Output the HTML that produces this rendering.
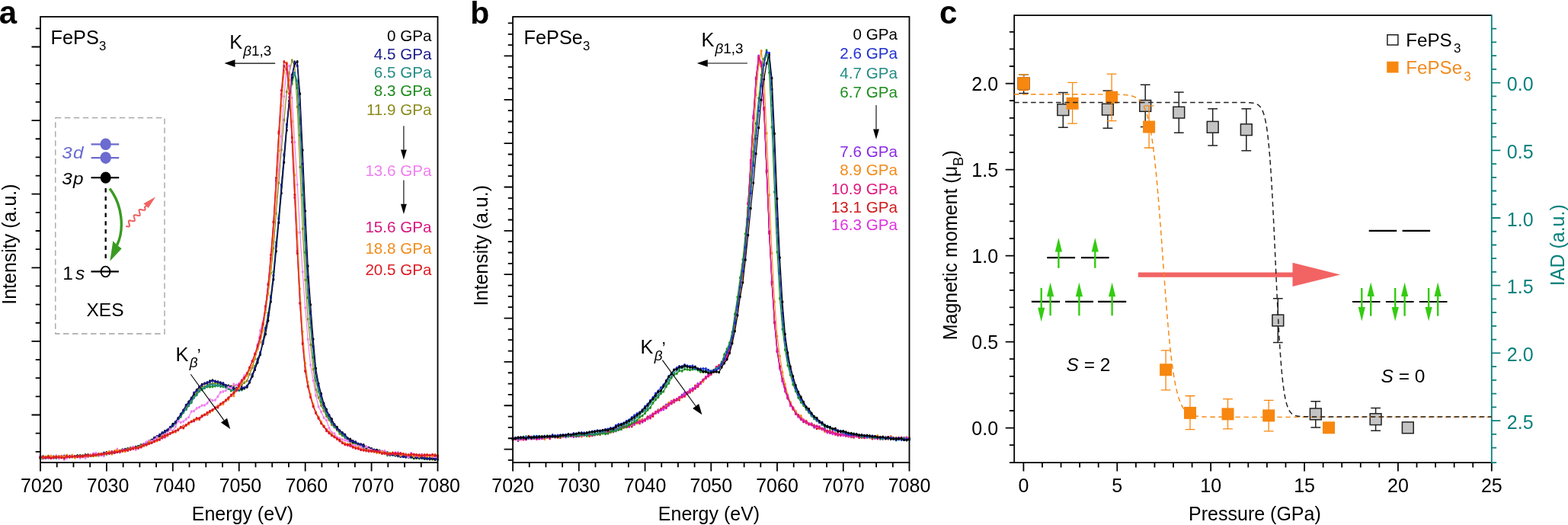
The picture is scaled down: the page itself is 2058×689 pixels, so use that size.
<!DOCTYPE html><html><head><meta charset="utf-8"><style>html,body{margin:0;padding:0;background:#fff;overflow:hidden}svg{display:block}</style></head><body><svg width="2058" height="689" viewBox="0 0 2058 689" font-family="'Liberation Sans', Arial, Helvetica, sans-serif">
<rect width="100%" height="100%" fill="#fff"/>
<path d="M53 600.92 L56.48 599.76 L59.95 599.24 L63.43 598.28 L66.91 599.69 L70.38 600.52 L73.86 599.69 L77.34 599.88 L80.81 600.08 L84.29 598.81 L87.77 600.81 L91.24 598.56 L94.72 599.16 L98.2 600.43 L101.67 598.55 L105.15 598.53 L108.63 597.97 L112.1 598.28 L115.58 596.56 L119.06 597.18 L122.53 598.26 L126.01 596.97 L129.49 596.25 L132.96 596.14 L136.44 595.64 L139.92 594.94 L143.39 594.64 L146.87 592.69 L150.35 593.43 L153.82 591.98 L157.3 592.15 L160.78 590.86 L164.25 589.42 L167.73 589.11 L171.21 587.65 L174.68 588.03 L178.16 586.45 L181.64 586.01 L185.11 583.65 L188.59 584.11 L192.07 581.27 L195.54 580.08 L199.02 577.67 L202.5 574.33 L205.97 573.23 L209.45 570.66 L212.93 569.14 L216.4 567.53 L219.88 564.5 L223.36 562.04 L226.83 557.19 L230.31 554.28 L233.79 550.23 L237.26 545.55 L240.74 538.98 L244.22 535.31 L247.69 530.68 L251.17 523.94 L254.65 518.87 L258.12 515.68 L261.6 510.58 L265.08 507.61 L268.55 507.57 L272.03 505.48 L275.51 503.93 L278.98 503.42 L282.46 502.59 L285.94 502.96 L289.41 503.9 L292.89 504.78 L296.37 506.28 L299.84 505.89 L303.32 506.93 L306.8 506.75 L310.27 505.41 L313.75 506.1 L317.23 505.45 L320.7 502.13 L324.18 499.79 L327.66 491.2 L331.13 482.56 L334.61 470.83 L338.09 457.75 L341.56 443 L345.04 426.64 L348.52 406.53 L351.99 384.54 L355.47 358.26 L358.95 325.74 L362.42 280.29 L365.9 240.07 L369.38 196.56 L372.85 157.45 L376.33 120.38 L379.81 95.24 L383.28 79.22 L386.76 86.39 L390.24 140.21 L393.71 219.21 L397.19 300.17 L400.67 367.35 L404.14 418.73 L407.62 452.46 L411.1 484.56 L414.57 511.15 L418.05 521.82 L421.53 532.18 L425 539.26 L428.48 546.32 L431.96 551.06 L435.43 557.5 L438.91 560.57 L442.39 564.49 L445.86 569.26 L449.34 571.49 L452.82 574.21 L456.29 577.89 L459.77 579.4 L463.25 581.82 L466.72 582.29 L470.2 584.34 L473.68 586.05 L477.15 586.79 L480.63 589.11 L484.11 588.9 L487.58 590.07 L491.06 591.27 L494.54 592.88 L498.01 593.1 L501.49 593.99 L504.97 595.33 L508.44 596.75 L511.92 596.43 L515.4 596.49 L518.87 597.72 L522.35 598.67 L525.83 598.42 L529.3 599.24 L532.78 598.43 L536.26 599.93 L539.73 600.31 L543.21 600.94 L546.69 601.05 L550.16 601.61 L553.64 600.81 L557.12 602.03 L560.59 600.87 L564.07 601.7 L567.55 602.91 L571.02 602.93 L574.5 601.49" fill="none" stroke="#8c8c1e" stroke-width="1.2" stroke-linejoin="round"/>
<path d="M51.52 600.92a1.48 1.85 0 1 0 2.96 0a1.48 1.85 0 1 0 -2.96 0M55 599.76a1.48 1.85 0 1 0 2.96 0a1.48 1.85 0 1 0 -2.96 0M58.47 599.24a1.48 1.85 0 1 0 2.96 0a1.48 1.85 0 1 0 -2.96 0M61.95 598.28a1.48 1.85 0 1 0 2.96 0a1.48 1.85 0 1 0 -2.96 0M65.43 599.69a1.48 1.85 0 1 0 2.96 0a1.48 1.85 0 1 0 -2.96 0M68.9 600.52a1.48 1.85 0 1 0 2.96 0a1.48 1.85 0 1 0 -2.96 0M72.38 599.69a1.48 1.85 0 1 0 2.96 0a1.48 1.85 0 1 0 -2.96 0M75.86 599.88a1.48 1.85 0 1 0 2.96 0a1.48 1.85 0 1 0 -2.96 0M79.33 600.08a1.48 1.85 0 1 0 2.96 0a1.48 1.85 0 1 0 -2.96 0M82.81 598.81a1.48 1.85 0 1 0 2.96 0a1.48 1.85 0 1 0 -2.96 0M86.29 600.81a1.48 1.85 0 1 0 2.96 0a1.48 1.85 0 1 0 -2.96 0M89.76 598.56a1.48 1.85 0 1 0 2.96 0a1.48 1.85 0 1 0 -2.96 0M93.24 599.16a1.48 1.85 0 1 0 2.96 0a1.48 1.85 0 1 0 -2.96 0M96.72 600.43a1.48 1.85 0 1 0 2.96 0a1.48 1.85 0 1 0 -2.96 0M100.19 598.55a1.48 1.85 0 1 0 2.96 0a1.48 1.85 0 1 0 -2.96 0M103.67 598.53a1.48 1.85 0 1 0 2.96 0a1.48 1.85 0 1 0 -2.96 0M107.15 597.97a1.48 1.85 0 1 0 2.96 0a1.48 1.85 0 1 0 -2.96 0M110.62 598.28a1.48 1.85 0 1 0 2.96 0a1.48 1.85 0 1 0 -2.96 0M114.1 596.56a1.48 1.85 0 1 0 2.96 0a1.48 1.85 0 1 0 -2.96 0M117.58 597.18a1.48 1.85 0 1 0 2.96 0a1.48 1.85 0 1 0 -2.96 0M121.05 598.26a1.48 1.85 0 1 0 2.96 0a1.48 1.85 0 1 0 -2.96 0M124.53 596.97a1.48 1.85 0 1 0 2.96 0a1.48 1.85 0 1 0 -2.96 0M128.01 596.25a1.48 1.85 0 1 0 2.96 0a1.48 1.85 0 1 0 -2.96 0M131.48 596.14a1.48 1.85 0 1 0 2.96 0a1.48 1.85 0 1 0 -2.96 0M134.96 595.64a1.48 1.85 0 1 0 2.96 0a1.48 1.85 0 1 0 -2.96 0M138.44 594.94a1.48 1.85 0 1 0 2.96 0a1.48 1.85 0 1 0 -2.96 0M141.91 594.64a1.48 1.85 0 1 0 2.96 0a1.48 1.85 0 1 0 -2.96 0M145.39 592.69a1.48 1.85 0 1 0 2.96 0a1.48 1.85 0 1 0 -2.96 0M148.87 593.43a1.48 1.85 0 1 0 2.96 0a1.48 1.85 0 1 0 -2.96 0M152.34 591.98a1.48 1.85 0 1 0 2.96 0a1.48 1.85 0 1 0 -2.96 0M155.82 592.15a1.48 1.85 0 1 0 2.96 0a1.48 1.85 0 1 0 -2.96 0M159.3 590.86a1.48 1.85 0 1 0 2.96 0a1.48 1.85 0 1 0 -2.96 0M162.77 589.42a1.48 1.85 0 1 0 2.96 0a1.48 1.85 0 1 0 -2.96 0M166.25 589.11a1.48 1.85 0 1 0 2.96 0a1.48 1.85 0 1 0 -2.96 0M169.73 587.65a1.48 1.85 0 1 0 2.96 0a1.48 1.85 0 1 0 -2.96 0M173.2 588.03a1.48 1.85 0 1 0 2.96 0a1.48 1.85 0 1 0 -2.96 0M176.68 586.45a1.48 1.85 0 1 0 2.96 0a1.48 1.85 0 1 0 -2.96 0M180.16 586.01a1.48 1.85 0 1 0 2.96 0a1.48 1.85 0 1 0 -2.96 0M183.63 583.65a1.48 1.85 0 1 0 2.96 0a1.48 1.85 0 1 0 -2.96 0M187.11 584.11a1.48 1.85 0 1 0 2.96 0a1.48 1.85 0 1 0 -2.96 0M190.59 581.27a1.48 1.85 0 1 0 2.96 0a1.48 1.85 0 1 0 -2.96 0M194.06 580.08a1.48 1.85 0 1 0 2.96 0a1.48 1.85 0 1 0 -2.96 0M197.54 577.67a1.48 1.85 0 1 0 2.96 0a1.48 1.85 0 1 0 -2.96 0M201.02 574.33a1.48 1.85 0 1 0 2.96 0a1.48 1.85 0 1 0 -2.96 0M204.49 573.23a1.48 1.85 0 1 0 2.96 0a1.48 1.85 0 1 0 -2.96 0M207.97 570.66a1.48 1.85 0 1 0 2.96 0a1.48 1.85 0 1 0 -2.96 0M211.45 569.14a1.48 1.85 0 1 0 2.96 0a1.48 1.85 0 1 0 -2.96 0M214.92 567.53a1.48 1.85 0 1 0 2.96 0a1.48 1.85 0 1 0 -2.96 0M218.4 564.5a1.48 1.85 0 1 0 2.96 0a1.48 1.85 0 1 0 -2.96 0M221.88 562.04a1.48 1.85 0 1 0 2.96 0a1.48 1.85 0 1 0 -2.96 0M225.35 557.19a1.48 1.85 0 1 0 2.96 0a1.48 1.85 0 1 0 -2.96 0M228.83 554.28a1.48 1.85 0 1 0 2.96 0a1.48 1.85 0 1 0 -2.96 0M232.31 550.23a1.48 1.85 0 1 0 2.96 0a1.48 1.85 0 1 0 -2.96 0M235.78 545.55a1.48 1.85 0 1 0 2.96 0a1.48 1.85 0 1 0 -2.96 0M239.26 538.98a1.48 1.85 0 1 0 2.96 0a1.48 1.85 0 1 0 -2.96 0M242.74 535.31a1.48 1.85 0 1 0 2.96 0a1.48 1.85 0 1 0 -2.96 0M246.21 530.68a1.48 1.85 0 1 0 2.96 0a1.48 1.85 0 1 0 -2.96 0M249.69 523.94a1.48 1.85 0 1 0 2.96 0a1.48 1.85 0 1 0 -2.96 0M253.17 518.87a1.48 1.85 0 1 0 2.96 0a1.48 1.85 0 1 0 -2.96 0M256.64 515.68a1.48 1.85 0 1 0 2.96 0a1.48 1.85 0 1 0 -2.96 0M260.12 510.58a1.48 1.85 0 1 0 2.96 0a1.48 1.85 0 1 0 -2.96 0M263.6 507.61a1.48 1.85 0 1 0 2.96 0a1.48 1.85 0 1 0 -2.96 0M267.07 507.57a1.48 1.85 0 1 0 2.96 0a1.48 1.85 0 1 0 -2.96 0M270.55 505.48a1.48 1.85 0 1 0 2.96 0a1.48 1.85 0 1 0 -2.96 0M274.03 503.93a1.48 1.85 0 1 0 2.96 0a1.48 1.85 0 1 0 -2.96 0M277.5 503.42a1.48 1.85 0 1 0 2.96 0a1.48 1.85 0 1 0 -2.96 0M280.98 502.59a1.48 1.85 0 1 0 2.96 0a1.48 1.85 0 1 0 -2.96 0M284.46 502.96a1.48 1.85 0 1 0 2.96 0a1.48 1.85 0 1 0 -2.96 0M287.93 503.9a1.48 1.85 0 1 0 2.96 0a1.48 1.85 0 1 0 -2.96 0M291.41 504.78a1.48 1.85 0 1 0 2.96 0a1.48 1.85 0 1 0 -2.96 0M294.89 506.28a1.48 1.85 0 1 0 2.96 0a1.48 1.85 0 1 0 -2.96 0M298.36 505.89a1.48 1.85 0 1 0 2.96 0a1.48 1.85 0 1 0 -2.96 0M301.84 506.93a1.48 1.85 0 1 0 2.96 0a1.48 1.85 0 1 0 -2.96 0M305.32 506.75a1.48 1.85 0 1 0 2.96 0a1.48 1.85 0 1 0 -2.96 0M308.79 505.41a1.48 1.85 0 1 0 2.96 0a1.48 1.85 0 1 0 -2.96 0M312.27 506.1a1.48 1.85 0 1 0 2.96 0a1.48 1.85 0 1 0 -2.96 0M315.75 505.45a1.48 1.85 0 1 0 2.96 0a1.48 1.85 0 1 0 -2.96 0M319.22 502.13a1.48 1.85 0 1 0 2.96 0a1.48 1.85 0 1 0 -2.96 0M322.7 499.79a1.48 1.85 0 1 0 2.96 0a1.48 1.85 0 1 0 -2.96 0M326.18 491.2a1.48 1.85 0 1 0 2.96 0a1.48 1.85 0 1 0 -2.96 0M329.65 482.56a1.48 1.85 0 1 0 2.96 0a1.48 1.85 0 1 0 -2.96 0M333.13 470.83a1.48 1.85 0 1 0 2.96 0a1.48 1.85 0 1 0 -2.96 0M336.61 457.75a1.48 1.85 0 1 0 2.96 0a1.48 1.85 0 1 0 -2.96 0M340.08 443a1.48 1.85 0 1 0 2.96 0a1.48 1.85 0 1 0 -2.96 0M343.56 426.64a1.48 1.85 0 1 0 2.96 0a1.48 1.85 0 1 0 -2.96 0M347.04 406.53a1.48 1.85 0 1 0 2.96 0a1.48 1.85 0 1 0 -2.96 0M350.51 384.54a1.48 1.85 0 1 0 2.96 0a1.48 1.85 0 1 0 -2.96 0M353.99 358.26a1.48 1.85 0 1 0 2.96 0a1.48 1.85 0 1 0 -2.96 0M357.47 325.74a1.48 1.85 0 1 0 2.96 0a1.48 1.85 0 1 0 -2.96 0M360.94 280.29a1.48 1.85 0 1 0 2.96 0a1.48 1.85 0 1 0 -2.96 0M364.42 240.07a1.48 1.85 0 1 0 2.96 0a1.48 1.85 0 1 0 -2.96 0M367.9 196.56a1.48 1.85 0 1 0 2.96 0a1.48 1.85 0 1 0 -2.96 0M371.37 157.45a1.48 1.85 0 1 0 2.96 0a1.48 1.85 0 1 0 -2.96 0M374.85 120.38a1.48 1.85 0 1 0 2.96 0a1.48 1.85 0 1 0 -2.96 0M378.33 95.24a1.48 1.85 0 1 0 2.96 0a1.48 1.85 0 1 0 -2.96 0M381.8 79.22a1.48 1.85 0 1 0 2.96 0a1.48 1.85 0 1 0 -2.96 0M385.28 86.39a1.48 1.85 0 1 0 2.96 0a1.48 1.85 0 1 0 -2.96 0M388.76 140.21a1.48 1.85 0 1 0 2.96 0a1.48 1.85 0 1 0 -2.96 0M392.23 219.21a1.48 1.85 0 1 0 2.96 0a1.48 1.85 0 1 0 -2.96 0M395.71 300.17a1.48 1.85 0 1 0 2.96 0a1.48 1.85 0 1 0 -2.96 0M399.19 367.35a1.48 1.85 0 1 0 2.96 0a1.48 1.85 0 1 0 -2.96 0M402.66 418.73a1.48 1.85 0 1 0 2.96 0a1.48 1.85 0 1 0 -2.96 0M406.14 452.46a1.48 1.85 0 1 0 2.96 0a1.48 1.85 0 1 0 -2.96 0M409.62 484.56a1.48 1.85 0 1 0 2.96 0a1.48 1.85 0 1 0 -2.96 0M413.09 511.15a1.48 1.85 0 1 0 2.96 0a1.48 1.85 0 1 0 -2.96 0M416.57 521.82a1.48 1.85 0 1 0 2.96 0a1.48 1.85 0 1 0 -2.96 0M420.05 532.18a1.48 1.85 0 1 0 2.96 0a1.48 1.85 0 1 0 -2.96 0M423.52 539.26a1.48 1.85 0 1 0 2.96 0a1.48 1.85 0 1 0 -2.96 0M427 546.32a1.48 1.85 0 1 0 2.96 0a1.48 1.85 0 1 0 -2.96 0M430.48 551.06a1.48 1.85 0 1 0 2.96 0a1.48 1.85 0 1 0 -2.96 0M433.95 557.5a1.48 1.85 0 1 0 2.96 0a1.48 1.85 0 1 0 -2.96 0M437.43 560.57a1.48 1.85 0 1 0 2.96 0a1.48 1.85 0 1 0 -2.96 0M440.91 564.49a1.48 1.85 0 1 0 2.96 0a1.48 1.85 0 1 0 -2.96 0M444.38 569.26a1.48 1.85 0 1 0 2.96 0a1.48 1.85 0 1 0 -2.96 0M447.86 571.49a1.48 1.85 0 1 0 2.96 0a1.48 1.85 0 1 0 -2.96 0M451.34 574.21a1.48 1.85 0 1 0 2.96 0a1.48 1.85 0 1 0 -2.96 0M454.81 577.89a1.48 1.85 0 1 0 2.96 0a1.48 1.85 0 1 0 -2.96 0M458.29 579.4a1.48 1.85 0 1 0 2.96 0a1.48 1.85 0 1 0 -2.96 0M461.77 581.82a1.48 1.85 0 1 0 2.96 0a1.48 1.85 0 1 0 -2.96 0M465.24 582.29a1.48 1.85 0 1 0 2.96 0a1.48 1.85 0 1 0 -2.96 0M468.72 584.34a1.48 1.85 0 1 0 2.96 0a1.48 1.85 0 1 0 -2.96 0M472.2 586.05a1.48 1.85 0 1 0 2.96 0a1.48 1.85 0 1 0 -2.96 0M475.67 586.79a1.48 1.85 0 1 0 2.96 0a1.48 1.85 0 1 0 -2.96 0M479.15 589.11a1.48 1.85 0 1 0 2.96 0a1.48 1.85 0 1 0 -2.96 0M482.63 588.9a1.48 1.85 0 1 0 2.96 0a1.48 1.85 0 1 0 -2.96 0M486.1 590.07a1.48 1.85 0 1 0 2.96 0a1.48 1.85 0 1 0 -2.96 0M489.58 591.27a1.48 1.85 0 1 0 2.96 0a1.48 1.85 0 1 0 -2.96 0M493.06 592.88a1.48 1.85 0 1 0 2.96 0a1.48 1.85 0 1 0 -2.96 0M496.53 593.1a1.48 1.85 0 1 0 2.96 0a1.48 1.85 0 1 0 -2.96 0M500.01 593.99a1.48 1.85 0 1 0 2.96 0a1.48 1.85 0 1 0 -2.96 0M503.49 595.33a1.48 1.85 0 1 0 2.96 0a1.48 1.85 0 1 0 -2.96 0M506.96 596.75a1.48 1.85 0 1 0 2.96 0a1.48 1.85 0 1 0 -2.96 0M510.44 596.43a1.48 1.85 0 1 0 2.96 0a1.48 1.85 0 1 0 -2.96 0M513.92 596.49a1.48 1.85 0 1 0 2.96 0a1.48 1.85 0 1 0 -2.96 0M517.39 597.72a1.48 1.85 0 1 0 2.96 0a1.48 1.85 0 1 0 -2.96 0M520.87 598.67a1.48 1.85 0 1 0 2.96 0a1.48 1.85 0 1 0 -2.96 0M524.35 598.42a1.48 1.85 0 1 0 2.96 0a1.48 1.85 0 1 0 -2.96 0M527.82 599.24a1.48 1.85 0 1 0 2.96 0a1.48 1.85 0 1 0 -2.96 0M531.3 598.43a1.48 1.85 0 1 0 2.96 0a1.48 1.85 0 1 0 -2.96 0M534.78 599.93a1.48 1.85 0 1 0 2.96 0a1.48 1.85 0 1 0 -2.96 0M538.25 600.31a1.48 1.85 0 1 0 2.96 0a1.48 1.85 0 1 0 -2.96 0M541.73 600.94a1.48 1.85 0 1 0 2.96 0a1.48 1.85 0 1 0 -2.96 0M545.21 601.05a1.48 1.85 0 1 0 2.96 0a1.48 1.85 0 1 0 -2.96 0M548.68 601.61a1.48 1.85 0 1 0 2.96 0a1.48 1.85 0 1 0 -2.96 0M552.16 600.81a1.48 1.85 0 1 0 2.96 0a1.48 1.85 0 1 0 -2.96 0M555.64 602.03a1.48 1.85 0 1 0 2.96 0a1.48 1.85 0 1 0 -2.96 0M559.11 600.87a1.48 1.85 0 1 0 2.96 0a1.48 1.85 0 1 0 -2.96 0M562.59 601.7a1.48 1.85 0 1 0 2.96 0a1.48 1.85 0 1 0 -2.96 0M566.07 602.91a1.48 1.85 0 1 0 2.96 0a1.48 1.85 0 1 0 -2.96 0M569.54 602.93a1.48 1.85 0 1 0 2.96 0a1.48 1.85 0 1 0 -2.96 0M573.02 601.49a1.48 1.85 0 1 0 2.96 0a1.48 1.85 0 1 0 -2.96 0" fill="#8c8c1e"/>
<path d="M53 601.74 L56.48 598.65 L59.95 600.92 L63.43 600.24 L66.91 600.85 L70.38 600.17 L73.86 600.94 L77.34 599.77 L80.81 599.33 L84.29 599.88 L87.77 599.67 L91.24 599.07 L94.72 598.99 L98.2 599.42 L101.67 599.26 L105.15 598.38 L108.63 598.28 L112.1 597.22 L115.58 599.1 L119.06 597.68 L122.53 598.3 L126.01 597.36 L129.49 597.85 L132.96 597.13 L136.44 595.87 L139.92 596.05 L143.39 594.02 L146.87 594.8 L150.35 592.5 L153.82 592.95 L157.3 592.67 L160.78 591.39 L164.25 590.19 L167.73 589.05 L171.21 588.48 L174.68 588.49 L178.16 587.48 L181.64 585.78 L185.11 584.06 L188.59 584.03 L192.07 581.08 L195.54 579.44 L199.02 577.25 L202.5 576.17 L205.97 573.85 L209.45 572.05 L212.93 569.82 L216.4 566.96 L219.88 565.3 L223.36 563.25 L226.83 559.04 L230.31 555.74 L233.79 551.17 L237.26 546.9 L240.74 541.44 L244.22 537.2 L247.69 532.43 L251.17 528.26 L254.65 521.5 L258.12 517.35 L261.6 513.46 L265.08 511.61 L268.55 509.08 L272.03 507.59 L275.51 507.67 L278.98 507.37 L282.46 506.62 L285.94 504.67 L289.41 507.06 L292.89 507.35 L296.37 508.21 L299.84 510.08 L303.32 512.82 L306.8 511.44 L310.27 511.01 L313.75 512.13 L317.23 511.14 L320.7 509.99 L324.18 506.63 L327.66 500.88 L331.13 492.58 L334.61 480.54 L338.09 471.09 L341.56 462.55 L345.04 447.29 L348.52 430.13 L351.99 411.12 L355.47 388.38 L358.95 356.89 L362.42 317.92 L365.9 283.68 L369.38 242.7 L372.85 203.91 L376.33 164 L379.81 131.86 L383.28 109.74 L386.76 96.18 L390.24 115.41 L393.71 177.13 L397.19 255.75 L400.67 331.17 L404.14 390.61 L407.62 429.63 L411.1 468.91 L414.57 499.01 L418.05 513.72 L421.53 527.3 L425 534.82 L428.48 543.35 L431.96 548.83 L435.43 555.16 L438.91 559.45 L442.39 563.45 L445.86 567.04 L449.34 571.16 L452.82 572.8 L456.29 575.64 L459.77 577.76 L463.25 581.15 L466.72 581.5 L470.2 582.45 L473.68 584.4 L477.15 587.67 L480.63 587.34 L484.11 589.14 L487.58 590.01 L491.06 590.77 L494.54 591.42 L498.01 592.7 L501.49 593.7 L504.97 593.51 L508.44 597.28 L511.92 596.98 L515.4 597.09 L518.87 597.45 L522.35 597.61 L525.83 599.13 L529.3 598.87 L532.78 599.68 L536.26 598.93 L539.73 600.34 L543.21 601.64 L546.69 600.57 L550.16 601.51 L553.64 601.32 L557.12 602.2 L560.59 602.4 L564.07 602.01 L567.55 601.83 L571.02 602.52 L574.5 602.54" fill="none" stroke="#1e8c1e" stroke-width="1.2" stroke-linejoin="round"/>
<path d="M51.52 601.74a1.48 1.85 0 1 0 2.96 0a1.48 1.85 0 1 0 -2.96 0M55 598.65a1.48 1.85 0 1 0 2.96 0a1.48 1.85 0 1 0 -2.96 0M58.47 600.92a1.48 1.85 0 1 0 2.96 0a1.48 1.85 0 1 0 -2.96 0M61.95 600.24a1.48 1.85 0 1 0 2.96 0a1.48 1.85 0 1 0 -2.96 0M65.43 600.85a1.48 1.85 0 1 0 2.96 0a1.48 1.85 0 1 0 -2.96 0M68.9 600.17a1.48 1.85 0 1 0 2.96 0a1.48 1.85 0 1 0 -2.96 0M72.38 600.94a1.48 1.85 0 1 0 2.96 0a1.48 1.85 0 1 0 -2.96 0M75.86 599.77a1.48 1.85 0 1 0 2.96 0a1.48 1.85 0 1 0 -2.96 0M79.33 599.33a1.48 1.85 0 1 0 2.96 0a1.48 1.85 0 1 0 -2.96 0M82.81 599.88a1.48 1.85 0 1 0 2.96 0a1.48 1.85 0 1 0 -2.96 0M86.29 599.67a1.48 1.85 0 1 0 2.96 0a1.48 1.85 0 1 0 -2.96 0M89.76 599.07a1.48 1.85 0 1 0 2.96 0a1.48 1.85 0 1 0 -2.96 0M93.24 598.99a1.48 1.85 0 1 0 2.96 0a1.48 1.85 0 1 0 -2.96 0M96.72 599.42a1.48 1.85 0 1 0 2.96 0a1.48 1.85 0 1 0 -2.96 0M100.19 599.26a1.48 1.85 0 1 0 2.96 0a1.48 1.85 0 1 0 -2.96 0M103.67 598.38a1.48 1.85 0 1 0 2.96 0a1.48 1.85 0 1 0 -2.96 0M107.15 598.28a1.48 1.85 0 1 0 2.96 0a1.48 1.85 0 1 0 -2.96 0M110.62 597.22a1.48 1.85 0 1 0 2.96 0a1.48 1.85 0 1 0 -2.96 0M114.1 599.1a1.48 1.85 0 1 0 2.96 0a1.48 1.85 0 1 0 -2.96 0M117.58 597.68a1.48 1.85 0 1 0 2.96 0a1.48 1.85 0 1 0 -2.96 0M121.05 598.3a1.48 1.85 0 1 0 2.96 0a1.48 1.85 0 1 0 -2.96 0M124.53 597.36a1.48 1.85 0 1 0 2.96 0a1.48 1.85 0 1 0 -2.96 0M128.01 597.85a1.48 1.85 0 1 0 2.96 0a1.48 1.85 0 1 0 -2.96 0M131.48 597.13a1.48 1.85 0 1 0 2.96 0a1.48 1.85 0 1 0 -2.96 0M134.96 595.87a1.48 1.85 0 1 0 2.96 0a1.48 1.85 0 1 0 -2.96 0M138.44 596.05a1.48 1.85 0 1 0 2.96 0a1.48 1.85 0 1 0 -2.96 0M141.91 594.02a1.48 1.85 0 1 0 2.96 0a1.48 1.85 0 1 0 -2.96 0M145.39 594.8a1.48 1.85 0 1 0 2.96 0a1.48 1.85 0 1 0 -2.96 0M148.87 592.5a1.48 1.85 0 1 0 2.96 0a1.48 1.85 0 1 0 -2.96 0M152.34 592.95a1.48 1.85 0 1 0 2.96 0a1.48 1.85 0 1 0 -2.96 0M155.82 592.67a1.48 1.85 0 1 0 2.96 0a1.48 1.85 0 1 0 -2.96 0M159.3 591.39a1.48 1.85 0 1 0 2.96 0a1.48 1.85 0 1 0 -2.96 0M162.77 590.19a1.48 1.85 0 1 0 2.96 0a1.48 1.85 0 1 0 -2.96 0M166.25 589.05a1.48 1.85 0 1 0 2.96 0a1.48 1.85 0 1 0 -2.96 0M169.73 588.48a1.48 1.85 0 1 0 2.96 0a1.48 1.85 0 1 0 -2.96 0M173.2 588.49a1.48 1.85 0 1 0 2.96 0a1.48 1.85 0 1 0 -2.96 0M176.68 587.48a1.48 1.85 0 1 0 2.96 0a1.48 1.85 0 1 0 -2.96 0M180.16 585.78a1.48 1.85 0 1 0 2.96 0a1.48 1.85 0 1 0 -2.96 0M183.63 584.06a1.48 1.85 0 1 0 2.96 0a1.48 1.85 0 1 0 -2.96 0M187.11 584.03a1.48 1.85 0 1 0 2.96 0a1.48 1.85 0 1 0 -2.96 0M190.59 581.08a1.48 1.85 0 1 0 2.96 0a1.48 1.85 0 1 0 -2.96 0M194.06 579.44a1.48 1.85 0 1 0 2.96 0a1.48 1.85 0 1 0 -2.96 0M197.54 577.25a1.48 1.85 0 1 0 2.96 0a1.48 1.85 0 1 0 -2.96 0M201.02 576.17a1.48 1.85 0 1 0 2.96 0a1.48 1.85 0 1 0 -2.96 0M204.49 573.85a1.48 1.85 0 1 0 2.96 0a1.48 1.85 0 1 0 -2.96 0M207.97 572.05a1.48 1.85 0 1 0 2.96 0a1.48 1.85 0 1 0 -2.96 0M211.45 569.82a1.48 1.85 0 1 0 2.96 0a1.48 1.85 0 1 0 -2.96 0M214.92 566.96a1.48 1.85 0 1 0 2.96 0a1.48 1.85 0 1 0 -2.96 0M218.4 565.3a1.48 1.85 0 1 0 2.96 0a1.48 1.85 0 1 0 -2.96 0M221.88 563.25a1.48 1.85 0 1 0 2.96 0a1.48 1.85 0 1 0 -2.96 0M225.35 559.04a1.48 1.85 0 1 0 2.96 0a1.48 1.85 0 1 0 -2.96 0M228.83 555.74a1.48 1.85 0 1 0 2.96 0a1.48 1.85 0 1 0 -2.96 0M232.31 551.17a1.48 1.85 0 1 0 2.96 0a1.48 1.85 0 1 0 -2.96 0M235.78 546.9a1.48 1.85 0 1 0 2.96 0a1.48 1.85 0 1 0 -2.96 0M239.26 541.44a1.48 1.85 0 1 0 2.96 0a1.48 1.85 0 1 0 -2.96 0M242.74 537.2a1.48 1.85 0 1 0 2.96 0a1.48 1.85 0 1 0 -2.96 0M246.21 532.43a1.48 1.85 0 1 0 2.96 0a1.48 1.85 0 1 0 -2.96 0M249.69 528.26a1.48 1.85 0 1 0 2.96 0a1.48 1.85 0 1 0 -2.96 0M253.17 521.5a1.48 1.85 0 1 0 2.96 0a1.48 1.85 0 1 0 -2.96 0M256.64 517.35a1.48 1.85 0 1 0 2.96 0a1.48 1.85 0 1 0 -2.96 0M260.12 513.46a1.48 1.85 0 1 0 2.96 0a1.48 1.85 0 1 0 -2.96 0M263.6 511.61a1.48 1.85 0 1 0 2.96 0a1.48 1.85 0 1 0 -2.96 0M267.07 509.08a1.48 1.85 0 1 0 2.96 0a1.48 1.85 0 1 0 -2.96 0M270.55 507.59a1.48 1.85 0 1 0 2.96 0a1.48 1.85 0 1 0 -2.96 0M274.03 507.67a1.48 1.85 0 1 0 2.96 0a1.48 1.85 0 1 0 -2.96 0M277.5 507.37a1.48 1.85 0 1 0 2.96 0a1.48 1.85 0 1 0 -2.96 0M280.98 506.62a1.48 1.85 0 1 0 2.96 0a1.48 1.85 0 1 0 -2.96 0M284.46 504.67a1.48 1.85 0 1 0 2.96 0a1.48 1.85 0 1 0 -2.96 0M287.93 507.06a1.48 1.85 0 1 0 2.96 0a1.48 1.85 0 1 0 -2.96 0M291.41 507.35a1.48 1.85 0 1 0 2.96 0a1.48 1.85 0 1 0 -2.96 0M294.89 508.21a1.48 1.85 0 1 0 2.96 0a1.48 1.85 0 1 0 -2.96 0M298.36 510.08a1.48 1.85 0 1 0 2.96 0a1.48 1.85 0 1 0 -2.96 0M301.84 512.82a1.48 1.85 0 1 0 2.96 0a1.48 1.85 0 1 0 -2.96 0M305.32 511.44a1.48 1.85 0 1 0 2.96 0a1.48 1.85 0 1 0 -2.96 0M308.79 511.01a1.48 1.85 0 1 0 2.96 0a1.48 1.85 0 1 0 -2.96 0M312.27 512.13a1.48 1.85 0 1 0 2.96 0a1.48 1.85 0 1 0 -2.96 0M315.75 511.14a1.48 1.85 0 1 0 2.96 0a1.48 1.85 0 1 0 -2.96 0M319.22 509.99a1.48 1.85 0 1 0 2.96 0a1.48 1.85 0 1 0 -2.96 0M322.7 506.63a1.48 1.85 0 1 0 2.96 0a1.48 1.85 0 1 0 -2.96 0M326.18 500.88a1.48 1.85 0 1 0 2.96 0a1.48 1.85 0 1 0 -2.96 0M329.65 492.58a1.48 1.85 0 1 0 2.96 0a1.48 1.85 0 1 0 -2.96 0M333.13 480.54a1.48 1.85 0 1 0 2.96 0a1.48 1.85 0 1 0 -2.96 0M336.61 471.09a1.48 1.85 0 1 0 2.96 0a1.48 1.85 0 1 0 -2.96 0M340.08 462.55a1.48 1.85 0 1 0 2.96 0a1.48 1.85 0 1 0 -2.96 0M343.56 447.29a1.48 1.85 0 1 0 2.96 0a1.48 1.85 0 1 0 -2.96 0M347.04 430.13a1.48 1.85 0 1 0 2.96 0a1.48 1.85 0 1 0 -2.96 0M350.51 411.12a1.48 1.85 0 1 0 2.96 0a1.48 1.85 0 1 0 -2.96 0M353.99 388.38a1.48 1.85 0 1 0 2.96 0a1.48 1.85 0 1 0 -2.96 0M357.47 356.89a1.48 1.85 0 1 0 2.96 0a1.48 1.85 0 1 0 -2.96 0M360.94 317.92a1.48 1.85 0 1 0 2.96 0a1.48 1.85 0 1 0 -2.96 0M364.42 283.68a1.48 1.85 0 1 0 2.96 0a1.48 1.85 0 1 0 -2.96 0M367.9 242.7a1.48 1.85 0 1 0 2.96 0a1.48 1.85 0 1 0 -2.96 0M371.37 203.91a1.48 1.85 0 1 0 2.96 0a1.48 1.85 0 1 0 -2.96 0M374.85 164a1.48 1.85 0 1 0 2.96 0a1.48 1.85 0 1 0 -2.96 0M378.33 131.86a1.48 1.85 0 1 0 2.96 0a1.48 1.85 0 1 0 -2.96 0M381.8 109.74a1.48 1.85 0 1 0 2.96 0a1.48 1.85 0 1 0 -2.96 0M385.28 96.18a1.48 1.85 0 1 0 2.96 0a1.48 1.85 0 1 0 -2.96 0M388.76 115.41a1.48 1.85 0 1 0 2.96 0a1.48 1.85 0 1 0 -2.96 0M392.23 177.13a1.48 1.85 0 1 0 2.96 0a1.48 1.85 0 1 0 -2.96 0M395.71 255.75a1.48 1.85 0 1 0 2.96 0a1.48 1.85 0 1 0 -2.96 0M399.19 331.17a1.48 1.85 0 1 0 2.96 0a1.48 1.85 0 1 0 -2.96 0M402.66 390.61a1.48 1.85 0 1 0 2.96 0a1.48 1.85 0 1 0 -2.96 0M406.14 429.63a1.48 1.85 0 1 0 2.96 0a1.48 1.85 0 1 0 -2.96 0M409.62 468.91a1.48 1.85 0 1 0 2.96 0a1.48 1.85 0 1 0 -2.96 0M413.09 499.01a1.48 1.85 0 1 0 2.96 0a1.48 1.85 0 1 0 -2.96 0M416.57 513.72a1.48 1.85 0 1 0 2.96 0a1.48 1.85 0 1 0 -2.96 0M420.05 527.3a1.48 1.85 0 1 0 2.96 0a1.48 1.85 0 1 0 -2.96 0M423.52 534.82a1.48 1.85 0 1 0 2.96 0a1.48 1.85 0 1 0 -2.96 0M427 543.35a1.48 1.85 0 1 0 2.96 0a1.48 1.85 0 1 0 -2.96 0M430.48 548.83a1.48 1.85 0 1 0 2.96 0a1.48 1.85 0 1 0 -2.96 0M433.95 555.16a1.48 1.85 0 1 0 2.96 0a1.48 1.85 0 1 0 -2.96 0M437.43 559.45a1.48 1.85 0 1 0 2.96 0a1.48 1.85 0 1 0 -2.96 0M440.91 563.45a1.48 1.85 0 1 0 2.96 0a1.48 1.85 0 1 0 -2.96 0M444.38 567.04a1.48 1.85 0 1 0 2.96 0a1.48 1.85 0 1 0 -2.96 0M447.86 571.16a1.48 1.85 0 1 0 2.96 0a1.48 1.85 0 1 0 -2.96 0M451.34 572.8a1.48 1.85 0 1 0 2.96 0a1.48 1.85 0 1 0 -2.96 0M454.81 575.64a1.48 1.85 0 1 0 2.96 0a1.48 1.85 0 1 0 -2.96 0M458.29 577.76a1.48 1.85 0 1 0 2.96 0a1.48 1.85 0 1 0 -2.96 0M461.77 581.15a1.48 1.85 0 1 0 2.96 0a1.48 1.85 0 1 0 -2.96 0M465.24 581.5a1.48 1.85 0 1 0 2.96 0a1.48 1.85 0 1 0 -2.96 0M468.72 582.45a1.48 1.85 0 1 0 2.96 0a1.48 1.85 0 1 0 -2.96 0M472.2 584.4a1.48 1.85 0 1 0 2.96 0a1.48 1.85 0 1 0 -2.96 0M475.67 587.67a1.48 1.85 0 1 0 2.96 0a1.48 1.85 0 1 0 -2.96 0M479.15 587.34a1.48 1.85 0 1 0 2.96 0a1.48 1.85 0 1 0 -2.96 0M482.63 589.14a1.48 1.85 0 1 0 2.96 0a1.48 1.85 0 1 0 -2.96 0M486.1 590.01a1.48 1.85 0 1 0 2.96 0a1.48 1.85 0 1 0 -2.96 0M489.58 590.77a1.48 1.85 0 1 0 2.96 0a1.48 1.85 0 1 0 -2.96 0M493.06 591.42a1.48 1.85 0 1 0 2.96 0a1.48 1.85 0 1 0 -2.96 0M496.53 592.7a1.48 1.85 0 1 0 2.96 0a1.48 1.85 0 1 0 -2.96 0M500.01 593.7a1.48 1.85 0 1 0 2.96 0a1.48 1.85 0 1 0 -2.96 0M503.49 593.51a1.48 1.85 0 1 0 2.96 0a1.48 1.85 0 1 0 -2.96 0M506.96 597.28a1.48 1.85 0 1 0 2.96 0a1.48 1.85 0 1 0 -2.96 0M510.44 596.98a1.48 1.85 0 1 0 2.96 0a1.48 1.85 0 1 0 -2.96 0M513.92 597.09a1.48 1.85 0 1 0 2.96 0a1.48 1.85 0 1 0 -2.96 0M517.39 597.45a1.48 1.85 0 1 0 2.96 0a1.48 1.85 0 1 0 -2.96 0M520.87 597.61a1.48 1.85 0 1 0 2.96 0a1.48 1.85 0 1 0 -2.96 0M524.35 599.13a1.48 1.85 0 1 0 2.96 0a1.48 1.85 0 1 0 -2.96 0M527.82 598.87a1.48 1.85 0 1 0 2.96 0a1.48 1.85 0 1 0 -2.96 0M531.3 599.68a1.48 1.85 0 1 0 2.96 0a1.48 1.85 0 1 0 -2.96 0M534.78 598.93a1.48 1.85 0 1 0 2.96 0a1.48 1.85 0 1 0 -2.96 0M538.25 600.34a1.48 1.85 0 1 0 2.96 0a1.48 1.85 0 1 0 -2.96 0M541.73 601.64a1.48 1.85 0 1 0 2.96 0a1.48 1.85 0 1 0 -2.96 0M545.21 600.57a1.48 1.85 0 1 0 2.96 0a1.48 1.85 0 1 0 -2.96 0M548.68 601.51a1.48 1.85 0 1 0 2.96 0a1.48 1.85 0 1 0 -2.96 0M552.16 601.32a1.48 1.85 0 1 0 2.96 0a1.48 1.85 0 1 0 -2.96 0M555.64 602.2a1.48 1.85 0 1 0 2.96 0a1.48 1.85 0 1 0 -2.96 0M559.11 602.4a1.48 1.85 0 1 0 2.96 0a1.48 1.85 0 1 0 -2.96 0M562.59 602.01a1.48 1.85 0 1 0 2.96 0a1.48 1.85 0 1 0 -2.96 0M566.07 601.83a1.48 1.85 0 1 0 2.96 0a1.48 1.85 0 1 0 -2.96 0M569.54 602.52a1.48 1.85 0 1 0 2.96 0a1.48 1.85 0 1 0 -2.96 0M573.02 602.54a1.48 1.85 0 1 0 2.96 0a1.48 1.85 0 1 0 -2.96 0" fill="#1e8c1e"/>
<path d="M53 600.64 L56.48 601.11 L59.95 600.78 L63.43 600.62 L66.91 601.02 L70.38 599.21 L73.86 599.46 L77.34 598.94 L80.81 599.57 L84.29 600.12 L87.77 599.39 L91.24 599.57 L94.72 597.98 L98.2 599.06 L101.67 598.28 L105.15 599.74 L108.63 599.03 L112.1 598.87 L115.58 598.04 L119.06 598.18 L122.53 597.88 L126.01 596.89 L129.49 596.36 L132.96 596.11 L136.44 595.3 L139.92 594.77 L143.39 594.41 L146.87 593.57 L150.35 593.86 L153.82 591.74 L157.3 592.51 L160.78 590.85 L164.25 590.07 L167.73 588.7 L171.21 588.59 L174.68 587.66 L178.16 587.03 L181.64 585.59 L185.11 584.89 L188.59 584.73 L192.07 582.24 L195.54 579.38 L199.02 578.3 L202.5 575.56 L205.97 574.03 L209.45 572.07 L212.93 569.29 L216.4 566.01 L219.88 564.56 L223.36 562.48 L226.83 558.57 L230.31 555.32 L233.79 551.6 L237.26 545.38 L240.74 541.36 L244.22 537.19 L247.69 532.34 L251.17 527.21 L254.65 521.83 L258.12 518.49 L261.6 513.17 L265.08 510.21 L268.55 509.09 L272.03 506.42 L275.51 504.92 L278.98 504.83 L282.46 505.58 L285.94 506.32 L289.41 505.85 L292.89 506.04 L296.37 508.32 L299.84 509.77 L303.32 510.99 L306.8 511.93 L310.27 512.37 L313.75 511.71 L317.23 511.63 L320.7 509.23 L324.18 506.57 L327.66 501.54 L331.13 493.41 L334.61 483.57 L338.09 474.02 L341.56 463.57 L345.04 448.81 L348.52 430.82 L351.99 413.57 L355.47 391.52 L358.95 361.61 L362.42 319.6 L365.9 286.28 L369.38 245.13 L372.85 205 L376.33 166.57 L379.81 132.97 L383.28 105.17 L386.76 95.64 L390.24 106.33 L393.71 162.54 L397.19 241.08 L400.67 314.85 L404.14 379.81 L407.62 424.19 L411.1 463.46 L414.57 495.83 L418.05 511.69 L421.53 523.85 L425 534.8 L428.48 541.91 L431.96 548.09 L435.43 554.03 L438.91 559.84 L442.39 562.44 L445.86 566.82 L449.34 568.81 L452.82 573.79 L456.29 576.1 L459.77 578.93 L463.25 579.89 L466.72 580.69 L470.2 583.36 L473.68 584.86 L477.15 585.3 L480.63 586.25 L484.11 588.67 L487.58 589.41 L491.06 592.21 L494.54 591.3 L498.01 592.42 L501.49 593.7 L504.97 593.71 L508.44 595.03 L511.92 597.3 L515.4 596.83 L518.87 597.1 L522.35 597.22 L525.83 598.81 L529.3 599.3 L532.78 599.46 L536.26 599.45 L539.73 600.22 L543.21 600.6 L546.69 600.27 L550.16 601.34 L553.64 599.97 L557.12 600.71 L560.59 601.53 L564.07 601.86 L567.55 601.43 L571.02 602.5 L574.5 603.11" fill="none" stroke="#228c84" stroke-width="1.2" stroke-linejoin="round"/>
<path d="M51.52 600.64a1.48 1.85 0 1 0 2.96 0a1.48 1.85 0 1 0 -2.96 0M55 601.11a1.48 1.85 0 1 0 2.96 0a1.48 1.85 0 1 0 -2.96 0M58.47 600.78a1.48 1.85 0 1 0 2.96 0a1.48 1.85 0 1 0 -2.96 0M61.95 600.62a1.48 1.85 0 1 0 2.96 0a1.48 1.85 0 1 0 -2.96 0M65.43 601.02a1.48 1.85 0 1 0 2.96 0a1.48 1.85 0 1 0 -2.96 0M68.9 599.21a1.48 1.85 0 1 0 2.96 0a1.48 1.85 0 1 0 -2.96 0M72.38 599.46a1.48 1.85 0 1 0 2.96 0a1.48 1.85 0 1 0 -2.96 0M75.86 598.94a1.48 1.85 0 1 0 2.96 0a1.48 1.85 0 1 0 -2.96 0M79.33 599.57a1.48 1.85 0 1 0 2.96 0a1.48 1.85 0 1 0 -2.96 0M82.81 600.12a1.48 1.85 0 1 0 2.96 0a1.48 1.85 0 1 0 -2.96 0M86.29 599.39a1.48 1.85 0 1 0 2.96 0a1.48 1.85 0 1 0 -2.96 0M89.76 599.57a1.48 1.85 0 1 0 2.96 0a1.48 1.85 0 1 0 -2.96 0M93.24 597.98a1.48 1.85 0 1 0 2.96 0a1.48 1.85 0 1 0 -2.96 0M96.72 599.06a1.48 1.85 0 1 0 2.96 0a1.48 1.85 0 1 0 -2.96 0M100.19 598.28a1.48 1.85 0 1 0 2.96 0a1.48 1.85 0 1 0 -2.96 0M103.67 599.74a1.48 1.85 0 1 0 2.96 0a1.48 1.85 0 1 0 -2.96 0M107.15 599.03a1.48 1.85 0 1 0 2.96 0a1.48 1.85 0 1 0 -2.96 0M110.62 598.87a1.48 1.85 0 1 0 2.96 0a1.48 1.85 0 1 0 -2.96 0M114.1 598.04a1.48 1.85 0 1 0 2.96 0a1.48 1.85 0 1 0 -2.96 0M117.58 598.18a1.48 1.85 0 1 0 2.96 0a1.48 1.85 0 1 0 -2.96 0M121.05 597.88a1.48 1.85 0 1 0 2.96 0a1.48 1.85 0 1 0 -2.96 0M124.53 596.89a1.48 1.85 0 1 0 2.96 0a1.48 1.85 0 1 0 -2.96 0M128.01 596.36a1.48 1.85 0 1 0 2.96 0a1.48 1.85 0 1 0 -2.96 0M131.48 596.11a1.48 1.85 0 1 0 2.96 0a1.48 1.85 0 1 0 -2.96 0M134.96 595.3a1.48 1.85 0 1 0 2.96 0a1.48 1.85 0 1 0 -2.96 0M138.44 594.77a1.48 1.85 0 1 0 2.96 0a1.48 1.85 0 1 0 -2.96 0M141.91 594.41a1.48 1.85 0 1 0 2.96 0a1.48 1.85 0 1 0 -2.96 0M145.39 593.57a1.48 1.85 0 1 0 2.96 0a1.48 1.85 0 1 0 -2.96 0M148.87 593.86a1.48 1.85 0 1 0 2.96 0a1.48 1.85 0 1 0 -2.96 0M152.34 591.74a1.48 1.85 0 1 0 2.96 0a1.48 1.85 0 1 0 -2.96 0M155.82 592.51a1.48 1.85 0 1 0 2.96 0a1.48 1.85 0 1 0 -2.96 0M159.3 590.85a1.48 1.85 0 1 0 2.96 0a1.48 1.85 0 1 0 -2.96 0M162.77 590.07a1.48 1.85 0 1 0 2.96 0a1.48 1.85 0 1 0 -2.96 0M166.25 588.7a1.48 1.85 0 1 0 2.96 0a1.48 1.85 0 1 0 -2.96 0M169.73 588.59a1.48 1.85 0 1 0 2.96 0a1.48 1.85 0 1 0 -2.96 0M173.2 587.66a1.48 1.85 0 1 0 2.96 0a1.48 1.85 0 1 0 -2.96 0M176.68 587.03a1.48 1.85 0 1 0 2.96 0a1.48 1.85 0 1 0 -2.96 0M180.16 585.59a1.48 1.85 0 1 0 2.96 0a1.48 1.85 0 1 0 -2.96 0M183.63 584.89a1.48 1.85 0 1 0 2.96 0a1.48 1.85 0 1 0 -2.96 0M187.11 584.73a1.48 1.85 0 1 0 2.96 0a1.48 1.85 0 1 0 -2.96 0M190.59 582.24a1.48 1.85 0 1 0 2.96 0a1.48 1.85 0 1 0 -2.96 0M194.06 579.38a1.48 1.85 0 1 0 2.96 0a1.48 1.85 0 1 0 -2.96 0M197.54 578.3a1.48 1.85 0 1 0 2.96 0a1.48 1.85 0 1 0 -2.96 0M201.02 575.56a1.48 1.85 0 1 0 2.96 0a1.48 1.85 0 1 0 -2.96 0M204.49 574.03a1.48 1.85 0 1 0 2.96 0a1.48 1.85 0 1 0 -2.96 0M207.97 572.07a1.48 1.85 0 1 0 2.96 0a1.48 1.85 0 1 0 -2.96 0M211.45 569.29a1.48 1.85 0 1 0 2.96 0a1.48 1.85 0 1 0 -2.96 0M214.92 566.01a1.48 1.85 0 1 0 2.96 0a1.48 1.85 0 1 0 -2.96 0M218.4 564.56a1.48 1.85 0 1 0 2.96 0a1.48 1.85 0 1 0 -2.96 0M221.88 562.48a1.48 1.85 0 1 0 2.96 0a1.48 1.85 0 1 0 -2.96 0M225.35 558.57a1.48 1.85 0 1 0 2.96 0a1.48 1.85 0 1 0 -2.96 0M228.83 555.32a1.48 1.85 0 1 0 2.96 0a1.48 1.85 0 1 0 -2.96 0M232.31 551.6a1.48 1.85 0 1 0 2.96 0a1.48 1.85 0 1 0 -2.96 0M235.78 545.38a1.48 1.85 0 1 0 2.96 0a1.48 1.85 0 1 0 -2.96 0M239.26 541.36a1.48 1.85 0 1 0 2.96 0a1.48 1.85 0 1 0 -2.96 0M242.74 537.19a1.48 1.85 0 1 0 2.96 0a1.48 1.85 0 1 0 -2.96 0M246.21 532.34a1.48 1.85 0 1 0 2.96 0a1.48 1.85 0 1 0 -2.96 0M249.69 527.21a1.48 1.85 0 1 0 2.96 0a1.48 1.85 0 1 0 -2.96 0M253.17 521.83a1.48 1.85 0 1 0 2.96 0a1.48 1.85 0 1 0 -2.96 0M256.64 518.49a1.48 1.85 0 1 0 2.96 0a1.48 1.85 0 1 0 -2.96 0M260.12 513.17a1.48 1.85 0 1 0 2.96 0a1.48 1.85 0 1 0 -2.96 0M263.6 510.21a1.48 1.85 0 1 0 2.96 0a1.48 1.85 0 1 0 -2.96 0M267.07 509.09a1.48 1.85 0 1 0 2.96 0a1.48 1.85 0 1 0 -2.96 0M270.55 506.42a1.48 1.85 0 1 0 2.96 0a1.48 1.85 0 1 0 -2.96 0M274.03 504.92a1.48 1.85 0 1 0 2.96 0a1.48 1.85 0 1 0 -2.96 0M277.5 504.83a1.48 1.85 0 1 0 2.96 0a1.48 1.85 0 1 0 -2.96 0M280.98 505.58a1.48 1.85 0 1 0 2.96 0a1.48 1.85 0 1 0 -2.96 0M284.46 506.32a1.48 1.85 0 1 0 2.96 0a1.48 1.85 0 1 0 -2.96 0M287.93 505.85a1.48 1.85 0 1 0 2.96 0a1.48 1.85 0 1 0 -2.96 0M291.41 506.04a1.48 1.85 0 1 0 2.96 0a1.48 1.85 0 1 0 -2.96 0M294.89 508.32a1.48 1.85 0 1 0 2.96 0a1.48 1.85 0 1 0 -2.96 0M298.36 509.77a1.48 1.85 0 1 0 2.96 0a1.48 1.85 0 1 0 -2.96 0M301.84 510.99a1.48 1.85 0 1 0 2.96 0a1.48 1.85 0 1 0 -2.96 0M305.32 511.93a1.48 1.85 0 1 0 2.96 0a1.48 1.85 0 1 0 -2.96 0M308.79 512.37a1.48 1.85 0 1 0 2.96 0a1.48 1.85 0 1 0 -2.96 0M312.27 511.71a1.48 1.85 0 1 0 2.96 0a1.48 1.85 0 1 0 -2.96 0M315.75 511.63a1.48 1.85 0 1 0 2.96 0a1.48 1.85 0 1 0 -2.96 0M319.22 509.23a1.48 1.85 0 1 0 2.96 0a1.48 1.85 0 1 0 -2.96 0M322.7 506.57a1.48 1.85 0 1 0 2.96 0a1.48 1.85 0 1 0 -2.96 0M326.18 501.54a1.48 1.85 0 1 0 2.96 0a1.48 1.85 0 1 0 -2.96 0M329.65 493.41a1.48 1.85 0 1 0 2.96 0a1.48 1.85 0 1 0 -2.96 0M333.13 483.57a1.48 1.85 0 1 0 2.96 0a1.48 1.85 0 1 0 -2.96 0M336.61 474.02a1.48 1.85 0 1 0 2.96 0a1.48 1.85 0 1 0 -2.96 0M340.08 463.57a1.48 1.85 0 1 0 2.96 0a1.48 1.85 0 1 0 -2.96 0M343.56 448.81a1.48 1.85 0 1 0 2.96 0a1.48 1.85 0 1 0 -2.96 0M347.04 430.82a1.48 1.85 0 1 0 2.96 0a1.48 1.85 0 1 0 -2.96 0M350.51 413.57a1.48 1.85 0 1 0 2.96 0a1.48 1.85 0 1 0 -2.96 0M353.99 391.52a1.48 1.85 0 1 0 2.96 0a1.48 1.85 0 1 0 -2.96 0M357.47 361.61a1.48 1.85 0 1 0 2.96 0a1.48 1.85 0 1 0 -2.96 0M360.94 319.6a1.48 1.85 0 1 0 2.96 0a1.48 1.85 0 1 0 -2.96 0M364.42 286.28a1.48 1.85 0 1 0 2.96 0a1.48 1.85 0 1 0 -2.96 0M367.9 245.13a1.48 1.85 0 1 0 2.96 0a1.48 1.85 0 1 0 -2.96 0M371.37 205a1.48 1.85 0 1 0 2.96 0a1.48 1.85 0 1 0 -2.96 0M374.85 166.57a1.48 1.85 0 1 0 2.96 0a1.48 1.85 0 1 0 -2.96 0M378.33 132.97a1.48 1.85 0 1 0 2.96 0a1.48 1.85 0 1 0 -2.96 0M381.8 105.17a1.48 1.85 0 1 0 2.96 0a1.48 1.85 0 1 0 -2.96 0M385.28 95.64a1.48 1.85 0 1 0 2.96 0a1.48 1.85 0 1 0 -2.96 0M388.76 106.33a1.48 1.85 0 1 0 2.96 0a1.48 1.85 0 1 0 -2.96 0M392.23 162.54a1.48 1.85 0 1 0 2.96 0a1.48 1.85 0 1 0 -2.96 0M395.71 241.08a1.48 1.85 0 1 0 2.96 0a1.48 1.85 0 1 0 -2.96 0M399.19 314.85a1.48 1.85 0 1 0 2.96 0a1.48 1.85 0 1 0 -2.96 0M402.66 379.81a1.48 1.85 0 1 0 2.96 0a1.48 1.85 0 1 0 -2.96 0M406.14 424.19a1.48 1.85 0 1 0 2.96 0a1.48 1.85 0 1 0 -2.96 0M409.62 463.46a1.48 1.85 0 1 0 2.96 0a1.48 1.85 0 1 0 -2.96 0M413.09 495.83a1.48 1.85 0 1 0 2.96 0a1.48 1.85 0 1 0 -2.96 0M416.57 511.69a1.48 1.85 0 1 0 2.96 0a1.48 1.85 0 1 0 -2.96 0M420.05 523.85a1.48 1.85 0 1 0 2.96 0a1.48 1.85 0 1 0 -2.96 0M423.52 534.8a1.48 1.85 0 1 0 2.96 0a1.48 1.85 0 1 0 -2.96 0M427 541.91a1.48 1.85 0 1 0 2.96 0a1.48 1.85 0 1 0 -2.96 0M430.48 548.09a1.48 1.85 0 1 0 2.96 0a1.48 1.85 0 1 0 -2.96 0M433.95 554.03a1.48 1.85 0 1 0 2.96 0a1.48 1.85 0 1 0 -2.96 0M437.43 559.84a1.48 1.85 0 1 0 2.96 0a1.48 1.85 0 1 0 -2.96 0M440.91 562.44a1.48 1.85 0 1 0 2.96 0a1.48 1.85 0 1 0 -2.96 0M444.38 566.82a1.48 1.85 0 1 0 2.96 0a1.48 1.85 0 1 0 -2.96 0M447.86 568.81a1.48 1.85 0 1 0 2.96 0a1.48 1.85 0 1 0 -2.96 0M451.34 573.79a1.48 1.85 0 1 0 2.96 0a1.48 1.85 0 1 0 -2.96 0M454.81 576.1a1.48 1.85 0 1 0 2.96 0a1.48 1.85 0 1 0 -2.96 0M458.29 578.93a1.48 1.85 0 1 0 2.96 0a1.48 1.85 0 1 0 -2.96 0M461.77 579.89a1.48 1.85 0 1 0 2.96 0a1.48 1.85 0 1 0 -2.96 0M465.24 580.69a1.48 1.85 0 1 0 2.96 0a1.48 1.85 0 1 0 -2.96 0M468.72 583.36a1.48 1.85 0 1 0 2.96 0a1.48 1.85 0 1 0 -2.96 0M472.2 584.86a1.48 1.85 0 1 0 2.96 0a1.48 1.85 0 1 0 -2.96 0M475.67 585.3a1.48 1.85 0 1 0 2.96 0a1.48 1.85 0 1 0 -2.96 0M479.15 586.25a1.48 1.85 0 1 0 2.96 0a1.48 1.85 0 1 0 -2.96 0M482.63 588.67a1.48 1.85 0 1 0 2.96 0a1.48 1.85 0 1 0 -2.96 0M486.1 589.41a1.48 1.85 0 1 0 2.96 0a1.48 1.85 0 1 0 -2.96 0M489.58 592.21a1.48 1.85 0 1 0 2.96 0a1.48 1.85 0 1 0 -2.96 0M493.06 591.3a1.48 1.85 0 1 0 2.96 0a1.48 1.85 0 1 0 -2.96 0M496.53 592.42a1.48 1.85 0 1 0 2.96 0a1.48 1.85 0 1 0 -2.96 0M500.01 593.7a1.48 1.85 0 1 0 2.96 0a1.48 1.85 0 1 0 -2.96 0M503.49 593.71a1.48 1.85 0 1 0 2.96 0a1.48 1.85 0 1 0 -2.96 0M506.96 595.03a1.48 1.85 0 1 0 2.96 0a1.48 1.85 0 1 0 -2.96 0M510.44 597.3a1.48 1.85 0 1 0 2.96 0a1.48 1.85 0 1 0 -2.96 0M513.92 596.83a1.48 1.85 0 1 0 2.96 0a1.48 1.85 0 1 0 -2.96 0M517.39 597.1a1.48 1.85 0 1 0 2.96 0a1.48 1.85 0 1 0 -2.96 0M520.87 597.22a1.48 1.85 0 1 0 2.96 0a1.48 1.85 0 1 0 -2.96 0M524.35 598.81a1.48 1.85 0 1 0 2.96 0a1.48 1.85 0 1 0 -2.96 0M527.82 599.3a1.48 1.85 0 1 0 2.96 0a1.48 1.85 0 1 0 -2.96 0M531.3 599.46a1.48 1.85 0 1 0 2.96 0a1.48 1.85 0 1 0 -2.96 0M534.78 599.45a1.48 1.85 0 1 0 2.96 0a1.48 1.85 0 1 0 -2.96 0M538.25 600.22a1.48 1.85 0 1 0 2.96 0a1.48 1.85 0 1 0 -2.96 0M541.73 600.6a1.48 1.85 0 1 0 2.96 0a1.48 1.85 0 1 0 -2.96 0M545.21 600.27a1.48 1.85 0 1 0 2.96 0a1.48 1.85 0 1 0 -2.96 0M548.68 601.34a1.48 1.85 0 1 0 2.96 0a1.48 1.85 0 1 0 -2.96 0M552.16 599.97a1.48 1.85 0 1 0 2.96 0a1.48 1.85 0 1 0 -2.96 0M555.64 600.71a1.48 1.85 0 1 0 2.96 0a1.48 1.85 0 1 0 -2.96 0M559.11 601.53a1.48 1.85 0 1 0 2.96 0a1.48 1.85 0 1 0 -2.96 0M562.59 601.86a1.48 1.85 0 1 0 2.96 0a1.48 1.85 0 1 0 -2.96 0M566.07 601.43a1.48 1.85 0 1 0 2.96 0a1.48 1.85 0 1 0 -2.96 0M569.54 602.5a1.48 1.85 0 1 0 2.96 0a1.48 1.85 0 1 0 -2.96 0M573.02 603.11a1.48 1.85 0 1 0 2.96 0a1.48 1.85 0 1 0 -2.96 0" fill="#228c84"/>
<path d="M53 599.93 L56.48 600.01 L59.95 599.82 L63.43 600.3 L66.91 599.85 L70.38 599.96 L73.86 600.29 L77.34 600.2 L80.81 599.87 L84.29 599.2 L87.77 598.89 L91.24 598.73 L94.72 598.87 L98.2 598.89 L101.67 598.18 L105.15 597.93 L108.63 598.62 L112.1 597.12 L115.58 597.91 L119.06 598 L122.53 596.83 L126.01 596.36 L129.49 596.14 L132.96 596.51 L136.44 595.52 L139.92 593.93 L143.39 594.26 L146.87 594.57 L150.35 593.93 L153.82 593.04 L157.3 591.79 L160.78 590.03 L164.25 590.44 L167.73 589.35 L171.21 588.65 L174.68 588.7 L178.16 586.94 L181.64 586.01 L185.11 585.11 L188.59 583.3 L192.07 581.42 L195.54 579.12 L199.02 577.99 L202.5 575.73 L205.97 573.02 L209.45 572.04 L212.93 569.18 L216.4 565.77 L219.88 564.41 L223.36 561.02 L226.83 556.69 L230.31 553.89 L233.79 548.88 L237.26 543.35 L240.74 538.41 L244.22 531.53 L247.69 527.34 L251.17 522.39 L254.65 517.21 L258.12 511.94 L261.6 507.66 L265.08 504.59 L268.55 503.59 L272.03 502.68 L275.51 500.02 L278.98 499 L282.46 500.37 L285.94 501.23 L289.41 502.23 L292.89 504.27 L296.37 505.88 L299.84 506.58 L303.32 508.31 L306.8 509.86 L310.27 509.53 L313.75 509.34 L317.23 510.43 L320.7 509.16 L324.18 507.98 L327.66 501.64 L331.13 493.92 L334.61 485.14 L338.09 475.77 L341.56 465.36 L345.04 450.94 L348.52 438.61 L351.99 420.74 L355.47 395.78 L358.95 366.87 L362.42 329.68 L365.9 292.16 L369.38 253.49 L372.85 213.04 L376.33 170.95 L379.81 132.72 L383.28 101.79 L386.76 83.35 L390.24 80.93 L393.71 123.1 L397.19 197.07 L400.67 276.8 L404.14 349.21 L407.62 399.79 L411.1 445.02 L414.57 483.31 L418.05 503.42 L421.53 516.54 L425 529.46 L428.48 537.44 L431.96 544.74 L435.43 549.79 L438.91 557.21 L442.39 560.67 L445.86 565.11 L449.34 567.73 L452.82 570.32 L456.29 574.99 L459.77 576.29 L463.25 579.79 L466.72 580.15 L470.2 582.84 L473.68 583.01 L477.15 583.89 L480.63 586.84 L484.11 587.64 L487.58 588.86 L491.06 590.64 L494.54 590.58 L498.01 591.43 L501.49 592.57 L504.97 593.24 L508.44 594.05 L511.92 595.13 L515.4 595.95 L518.87 596.85 L522.35 596.93 L525.83 598.07 L529.3 599.05 L532.78 598.89 L536.26 599.66 L539.73 599.22 L543.21 600.29 L546.69 600.71 L550.16 600.34 L553.64 600.08 L557.12 601.13 L560.59 601.47 L564.07 602.53 L567.55 601.64 L571.02 603.04 L574.5 600.82" fill="none" stroke="#000000" stroke-width="1.2" stroke-linejoin="round"/>
<path d="M51.52 599.93a1.48 1.85 0 1 0 2.96 0a1.48 1.85 0 1 0 -2.96 0M55 600.01a1.48 1.85 0 1 0 2.96 0a1.48 1.85 0 1 0 -2.96 0M58.47 599.82a1.48 1.85 0 1 0 2.96 0a1.48 1.85 0 1 0 -2.96 0M61.95 600.3a1.48 1.85 0 1 0 2.96 0a1.48 1.85 0 1 0 -2.96 0M65.43 599.85a1.48 1.85 0 1 0 2.96 0a1.48 1.85 0 1 0 -2.96 0M68.9 599.96a1.48 1.85 0 1 0 2.96 0a1.48 1.85 0 1 0 -2.96 0M72.38 600.29a1.48 1.85 0 1 0 2.96 0a1.48 1.85 0 1 0 -2.96 0M75.86 600.2a1.48 1.85 0 1 0 2.96 0a1.48 1.85 0 1 0 -2.96 0M79.33 599.87a1.48 1.85 0 1 0 2.96 0a1.48 1.85 0 1 0 -2.96 0M82.81 599.2a1.48 1.85 0 1 0 2.96 0a1.48 1.85 0 1 0 -2.96 0M86.29 598.89a1.48 1.85 0 1 0 2.96 0a1.48 1.85 0 1 0 -2.96 0M89.76 598.73a1.48 1.85 0 1 0 2.96 0a1.48 1.85 0 1 0 -2.96 0M93.24 598.87a1.48 1.85 0 1 0 2.96 0a1.48 1.85 0 1 0 -2.96 0M96.72 598.89a1.48 1.85 0 1 0 2.96 0a1.48 1.85 0 1 0 -2.96 0M100.19 598.18a1.48 1.85 0 1 0 2.96 0a1.48 1.85 0 1 0 -2.96 0M103.67 597.93a1.48 1.85 0 1 0 2.96 0a1.48 1.85 0 1 0 -2.96 0M107.15 598.62a1.48 1.85 0 1 0 2.96 0a1.48 1.85 0 1 0 -2.96 0M110.62 597.12a1.48 1.85 0 1 0 2.96 0a1.48 1.85 0 1 0 -2.96 0M114.1 597.91a1.48 1.85 0 1 0 2.96 0a1.48 1.85 0 1 0 -2.96 0M117.58 598a1.48 1.85 0 1 0 2.96 0a1.48 1.85 0 1 0 -2.96 0M121.05 596.83a1.48 1.85 0 1 0 2.96 0a1.48 1.85 0 1 0 -2.96 0M124.53 596.36a1.48 1.85 0 1 0 2.96 0a1.48 1.85 0 1 0 -2.96 0M128.01 596.14a1.48 1.85 0 1 0 2.96 0a1.48 1.85 0 1 0 -2.96 0M131.48 596.51a1.48 1.85 0 1 0 2.96 0a1.48 1.85 0 1 0 -2.96 0M134.96 595.52a1.48 1.85 0 1 0 2.96 0a1.48 1.85 0 1 0 -2.96 0M138.44 593.93a1.48 1.85 0 1 0 2.96 0a1.48 1.85 0 1 0 -2.96 0M141.91 594.26a1.48 1.85 0 1 0 2.96 0a1.48 1.85 0 1 0 -2.96 0M145.39 594.57a1.48 1.85 0 1 0 2.96 0a1.48 1.85 0 1 0 -2.96 0M148.87 593.93a1.48 1.85 0 1 0 2.96 0a1.48 1.85 0 1 0 -2.96 0M152.34 593.04a1.48 1.85 0 1 0 2.96 0a1.48 1.85 0 1 0 -2.96 0M155.82 591.79a1.48 1.85 0 1 0 2.96 0a1.48 1.85 0 1 0 -2.96 0M159.3 590.03a1.48 1.85 0 1 0 2.96 0a1.48 1.85 0 1 0 -2.96 0M162.77 590.44a1.48 1.85 0 1 0 2.96 0a1.48 1.85 0 1 0 -2.96 0M166.25 589.35a1.48 1.85 0 1 0 2.96 0a1.48 1.85 0 1 0 -2.96 0M169.73 588.65a1.48 1.85 0 1 0 2.96 0a1.48 1.85 0 1 0 -2.96 0M173.2 588.7a1.48 1.85 0 1 0 2.96 0a1.48 1.85 0 1 0 -2.96 0M176.68 586.94a1.48 1.85 0 1 0 2.96 0a1.48 1.85 0 1 0 -2.96 0M180.16 586.01a1.48 1.85 0 1 0 2.96 0a1.48 1.85 0 1 0 -2.96 0M183.63 585.11a1.48 1.85 0 1 0 2.96 0a1.48 1.85 0 1 0 -2.96 0M187.11 583.3a1.48 1.85 0 1 0 2.96 0a1.48 1.85 0 1 0 -2.96 0M190.59 581.42a1.48 1.85 0 1 0 2.96 0a1.48 1.85 0 1 0 -2.96 0M194.06 579.12a1.48 1.85 0 1 0 2.96 0a1.48 1.85 0 1 0 -2.96 0M197.54 577.99a1.48 1.85 0 1 0 2.96 0a1.48 1.85 0 1 0 -2.96 0M201.02 575.73a1.48 1.85 0 1 0 2.96 0a1.48 1.85 0 1 0 -2.96 0M204.49 573.02a1.48 1.85 0 1 0 2.96 0a1.48 1.85 0 1 0 -2.96 0M207.97 572.04a1.48 1.85 0 1 0 2.96 0a1.48 1.85 0 1 0 -2.96 0M211.45 569.18a1.48 1.85 0 1 0 2.96 0a1.48 1.85 0 1 0 -2.96 0M214.92 565.77a1.48 1.85 0 1 0 2.96 0a1.48 1.85 0 1 0 -2.96 0M218.4 564.41a1.48 1.85 0 1 0 2.96 0a1.48 1.85 0 1 0 -2.96 0M221.88 561.02a1.48 1.85 0 1 0 2.96 0a1.48 1.85 0 1 0 -2.96 0M225.35 556.69a1.48 1.85 0 1 0 2.96 0a1.48 1.85 0 1 0 -2.96 0M228.83 553.89a1.48 1.85 0 1 0 2.96 0a1.48 1.85 0 1 0 -2.96 0M232.31 548.88a1.48 1.85 0 1 0 2.96 0a1.48 1.85 0 1 0 -2.96 0M235.78 543.35a1.48 1.85 0 1 0 2.96 0a1.48 1.85 0 1 0 -2.96 0M239.26 538.41a1.48 1.85 0 1 0 2.96 0a1.48 1.85 0 1 0 -2.96 0M242.74 531.53a1.48 1.85 0 1 0 2.96 0a1.48 1.85 0 1 0 -2.96 0M246.21 527.34a1.48 1.85 0 1 0 2.96 0a1.48 1.85 0 1 0 -2.96 0M249.69 522.39a1.48 1.85 0 1 0 2.96 0a1.48 1.85 0 1 0 -2.96 0M253.17 517.21a1.48 1.85 0 1 0 2.96 0a1.48 1.85 0 1 0 -2.96 0M256.64 511.94a1.48 1.85 0 1 0 2.96 0a1.48 1.85 0 1 0 -2.96 0M260.12 507.66a1.48 1.85 0 1 0 2.96 0a1.48 1.85 0 1 0 -2.96 0M263.6 504.59a1.48 1.85 0 1 0 2.96 0a1.48 1.85 0 1 0 -2.96 0M267.07 503.59a1.48 1.85 0 1 0 2.96 0a1.48 1.85 0 1 0 -2.96 0M270.55 502.68a1.48 1.85 0 1 0 2.96 0a1.48 1.85 0 1 0 -2.96 0M274.03 500.02a1.48 1.85 0 1 0 2.96 0a1.48 1.85 0 1 0 -2.96 0M277.5 499a1.48 1.85 0 1 0 2.96 0a1.48 1.85 0 1 0 -2.96 0M280.98 500.37a1.48 1.85 0 1 0 2.96 0a1.48 1.85 0 1 0 -2.96 0M284.46 501.23a1.48 1.85 0 1 0 2.96 0a1.48 1.85 0 1 0 -2.96 0M287.93 502.23a1.48 1.85 0 1 0 2.96 0a1.48 1.85 0 1 0 -2.96 0M291.41 504.27a1.48 1.85 0 1 0 2.96 0a1.48 1.85 0 1 0 -2.96 0M294.89 505.88a1.48 1.85 0 1 0 2.96 0a1.48 1.85 0 1 0 -2.96 0M298.36 506.58a1.48 1.85 0 1 0 2.96 0a1.48 1.85 0 1 0 -2.96 0M301.84 508.31a1.48 1.85 0 1 0 2.96 0a1.48 1.85 0 1 0 -2.96 0M305.32 509.86a1.48 1.85 0 1 0 2.96 0a1.48 1.85 0 1 0 -2.96 0M308.79 509.53a1.48 1.85 0 1 0 2.96 0a1.48 1.85 0 1 0 -2.96 0M312.27 509.34a1.48 1.85 0 1 0 2.96 0a1.48 1.85 0 1 0 -2.96 0M315.75 510.43a1.48 1.85 0 1 0 2.96 0a1.48 1.85 0 1 0 -2.96 0M319.22 509.16a1.48 1.85 0 1 0 2.96 0a1.48 1.85 0 1 0 -2.96 0M322.7 507.98a1.48 1.85 0 1 0 2.96 0a1.48 1.85 0 1 0 -2.96 0M326.18 501.64a1.48 1.85 0 1 0 2.96 0a1.48 1.85 0 1 0 -2.96 0M329.65 493.92a1.48 1.85 0 1 0 2.96 0a1.48 1.85 0 1 0 -2.96 0M333.13 485.14a1.48 1.85 0 1 0 2.96 0a1.48 1.85 0 1 0 -2.96 0M336.61 475.77a1.48 1.85 0 1 0 2.96 0a1.48 1.85 0 1 0 -2.96 0M340.08 465.36a1.48 1.85 0 1 0 2.96 0a1.48 1.85 0 1 0 -2.96 0M343.56 450.94a1.48 1.85 0 1 0 2.96 0a1.48 1.85 0 1 0 -2.96 0M347.04 438.61a1.48 1.85 0 1 0 2.96 0a1.48 1.85 0 1 0 -2.96 0M350.51 420.74a1.48 1.85 0 1 0 2.96 0a1.48 1.85 0 1 0 -2.96 0M353.99 395.78a1.48 1.85 0 1 0 2.96 0a1.48 1.85 0 1 0 -2.96 0M357.47 366.87a1.48 1.85 0 1 0 2.96 0a1.48 1.85 0 1 0 -2.96 0M360.94 329.68a1.48 1.85 0 1 0 2.96 0a1.48 1.85 0 1 0 -2.96 0M364.42 292.16a1.48 1.85 0 1 0 2.96 0a1.48 1.85 0 1 0 -2.96 0M367.9 253.49a1.48 1.85 0 1 0 2.96 0a1.48 1.85 0 1 0 -2.96 0M371.37 213.04a1.48 1.85 0 1 0 2.96 0a1.48 1.85 0 1 0 -2.96 0M374.85 170.95a1.48 1.85 0 1 0 2.96 0a1.48 1.85 0 1 0 -2.96 0M378.33 132.72a1.48 1.85 0 1 0 2.96 0a1.48 1.85 0 1 0 -2.96 0M381.8 101.79a1.48 1.85 0 1 0 2.96 0a1.48 1.85 0 1 0 -2.96 0M385.28 83.35a1.48 1.85 0 1 0 2.96 0a1.48 1.85 0 1 0 -2.96 0M388.76 80.93a1.48 1.85 0 1 0 2.96 0a1.48 1.85 0 1 0 -2.96 0M392.23 123.1a1.48 1.85 0 1 0 2.96 0a1.48 1.85 0 1 0 -2.96 0M395.71 197.07a1.48 1.85 0 1 0 2.96 0a1.48 1.85 0 1 0 -2.96 0M399.19 276.8a1.48 1.85 0 1 0 2.96 0a1.48 1.85 0 1 0 -2.96 0M402.66 349.21a1.48 1.85 0 1 0 2.96 0a1.48 1.85 0 1 0 -2.96 0M406.14 399.79a1.48 1.85 0 1 0 2.96 0a1.48 1.85 0 1 0 -2.96 0M409.62 445.02a1.48 1.85 0 1 0 2.96 0a1.48 1.85 0 1 0 -2.96 0M413.09 483.31a1.48 1.85 0 1 0 2.96 0a1.48 1.85 0 1 0 -2.96 0M416.57 503.42a1.48 1.85 0 1 0 2.96 0a1.48 1.85 0 1 0 -2.96 0M420.05 516.54a1.48 1.85 0 1 0 2.96 0a1.48 1.85 0 1 0 -2.96 0M423.52 529.46a1.48 1.85 0 1 0 2.96 0a1.48 1.85 0 1 0 -2.96 0M427 537.44a1.48 1.85 0 1 0 2.96 0a1.48 1.85 0 1 0 -2.96 0M430.48 544.74a1.48 1.85 0 1 0 2.96 0a1.48 1.85 0 1 0 -2.96 0M433.95 549.79a1.48 1.85 0 1 0 2.96 0a1.48 1.85 0 1 0 -2.96 0M437.43 557.21a1.48 1.85 0 1 0 2.96 0a1.48 1.85 0 1 0 -2.96 0M440.91 560.67a1.48 1.85 0 1 0 2.96 0a1.48 1.85 0 1 0 -2.96 0M444.38 565.11a1.48 1.85 0 1 0 2.96 0a1.48 1.85 0 1 0 -2.96 0M447.86 567.73a1.48 1.85 0 1 0 2.96 0a1.48 1.85 0 1 0 -2.96 0M451.34 570.32a1.48 1.85 0 1 0 2.96 0a1.48 1.85 0 1 0 -2.96 0M454.81 574.99a1.48 1.85 0 1 0 2.96 0a1.48 1.85 0 1 0 -2.96 0M458.29 576.29a1.48 1.85 0 1 0 2.96 0a1.48 1.85 0 1 0 -2.96 0M461.77 579.79a1.48 1.85 0 1 0 2.96 0a1.48 1.85 0 1 0 -2.96 0M465.24 580.15a1.48 1.85 0 1 0 2.96 0a1.48 1.85 0 1 0 -2.96 0M468.72 582.84a1.48 1.85 0 1 0 2.96 0a1.48 1.85 0 1 0 -2.96 0M472.2 583.01a1.48 1.85 0 1 0 2.96 0a1.48 1.85 0 1 0 -2.96 0M475.67 583.89a1.48 1.85 0 1 0 2.96 0a1.48 1.85 0 1 0 -2.96 0M479.15 586.84a1.48 1.85 0 1 0 2.96 0a1.48 1.85 0 1 0 -2.96 0M482.63 587.64a1.48 1.85 0 1 0 2.96 0a1.48 1.85 0 1 0 -2.96 0M486.1 588.86a1.48 1.85 0 1 0 2.96 0a1.48 1.85 0 1 0 -2.96 0M489.58 590.64a1.48 1.85 0 1 0 2.96 0a1.48 1.85 0 1 0 -2.96 0M493.06 590.58a1.48 1.85 0 1 0 2.96 0a1.48 1.85 0 1 0 -2.96 0M496.53 591.43a1.48 1.85 0 1 0 2.96 0a1.48 1.85 0 1 0 -2.96 0M500.01 592.57a1.48 1.85 0 1 0 2.96 0a1.48 1.85 0 1 0 -2.96 0M503.49 593.24a1.48 1.85 0 1 0 2.96 0a1.48 1.85 0 1 0 -2.96 0M506.96 594.05a1.48 1.85 0 1 0 2.96 0a1.48 1.85 0 1 0 -2.96 0M510.44 595.13a1.48 1.85 0 1 0 2.96 0a1.48 1.85 0 1 0 -2.96 0M513.92 595.95a1.48 1.85 0 1 0 2.96 0a1.48 1.85 0 1 0 -2.96 0M517.39 596.85a1.48 1.85 0 1 0 2.96 0a1.48 1.85 0 1 0 -2.96 0M520.87 596.93a1.48 1.85 0 1 0 2.96 0a1.48 1.85 0 1 0 -2.96 0M524.35 598.07a1.48 1.85 0 1 0 2.96 0a1.48 1.85 0 1 0 -2.96 0M527.82 599.05a1.48 1.85 0 1 0 2.96 0a1.48 1.85 0 1 0 -2.96 0M531.3 598.89a1.48 1.85 0 1 0 2.96 0a1.48 1.85 0 1 0 -2.96 0M534.78 599.66a1.48 1.85 0 1 0 2.96 0a1.48 1.85 0 1 0 -2.96 0M538.25 599.22a1.48 1.85 0 1 0 2.96 0a1.48 1.85 0 1 0 -2.96 0M541.73 600.29a1.48 1.85 0 1 0 2.96 0a1.48 1.85 0 1 0 -2.96 0M545.21 600.71a1.48 1.85 0 1 0 2.96 0a1.48 1.85 0 1 0 -2.96 0M548.68 600.34a1.48 1.85 0 1 0 2.96 0a1.48 1.85 0 1 0 -2.96 0M552.16 600.08a1.48 1.85 0 1 0 2.96 0a1.48 1.85 0 1 0 -2.96 0M555.64 601.13a1.48 1.85 0 1 0 2.96 0a1.48 1.85 0 1 0 -2.96 0M559.11 601.47a1.48 1.85 0 1 0 2.96 0a1.48 1.85 0 1 0 -2.96 0M562.59 602.53a1.48 1.85 0 1 0 2.96 0a1.48 1.85 0 1 0 -2.96 0M566.07 601.64a1.48 1.85 0 1 0 2.96 0a1.48 1.85 0 1 0 -2.96 0M569.54 603.04a1.48 1.85 0 1 0 2.96 0a1.48 1.85 0 1 0 -2.96 0M573.02 600.82a1.48 1.85 0 1 0 2.96 0a1.48 1.85 0 1 0 -2.96 0" fill="#000000"/>
<path d="M53 600.6 L56.48 601.24 L59.95 601.01 L63.43 599.82 L66.91 599.81 L70.38 599.55 L73.86 600.11 L77.34 599.64 L80.81 600.01 L84.29 598.34 L87.77 600.27 L91.24 599.14 L94.72 599.47 L98.2 598.82 L101.67 598.52 L105.15 598.87 L108.63 598.91 L112.1 598.1 L115.58 597.9 L119.06 598.14 L122.53 596.87 L126.01 596.09 L129.49 596.81 L132.96 595.68 L136.44 594.41 L139.92 594.54 L143.39 594.2 L146.87 593.18 L150.35 592.38 L153.82 592.64 L157.3 592.45 L160.78 590.98 L164.25 589.84 L167.73 589.66 L171.21 589.01 L174.68 587.5 L178.16 587.12 L181.64 586.44 L185.11 584.54 L188.59 582.89 L192.07 582 L195.54 579.68 L199.02 578.13 L202.5 574.49 L205.97 572.83 L209.45 570.65 L212.93 567.82 L216.4 566.65 L219.88 564.26 L223.36 560.51 L226.83 558.44 L230.31 553.98 L233.79 549.43 L237.26 543.78 L240.74 538.54 L244.22 532.01 L247.69 528.58 L251.17 522.98 L254.65 515.47 L258.12 512.52 L261.6 508.03 L265.08 505.79 L268.55 503.07 L272.03 501.85 L275.51 501.14 L278.98 499.63 L282.46 500.72 L285.94 501.05 L289.41 502.91 L292.89 502.9 L296.37 505.58 L299.84 506.92 L303.32 507.79 L306.8 509.17 L310.27 510.03 L313.75 510.89 L317.23 508.19 L320.7 509.32 L324.18 506.66 L327.66 500.3 L331.13 491.28 L334.61 483.44 L338.09 472.05 L341.56 463.16 L345.04 449.19 L348.52 431.03 L351.99 414.15 L355.47 389.92 L358.95 361.37 L362.42 323.06 L365.9 286.87 L369.38 242.41 L372.85 202.35 L376.33 163.15 L379.81 127.69 L383.28 98.17 L386.76 81.08 L390.24 86.48 L393.71 137.07 L397.19 215.09 L400.67 294.31 L404.14 363.46 L407.62 411.27 L411.1 454.5 L414.57 489.05 L418.05 505.76 L421.53 519.64 L425 531.94 L428.48 539.34 L431.96 545.2 L435.43 552.82 L438.91 557.24 L442.39 562.75 L445.86 565.32 L449.34 568.48 L452.82 571 L456.29 575.66 L459.77 578.95 L463.25 578.69 L466.72 580.3 L470.2 582.59 L473.68 583.32 L477.15 585.17 L480.63 586.49 L484.11 588.09 L487.58 589.81 L491.06 590.25 L494.54 591.91 L498.01 592.18 L501.49 593.68 L504.97 593.14 L508.44 594.44 L511.92 596.54 L515.4 596.33 L518.87 597.61 L522.35 598.11 L525.83 599.07 L529.3 599.21 L532.78 599.75 L536.26 599.46 L539.73 599.47 L543.21 599.79 L546.69 600.25 L550.16 600.17 L553.64 600.79 L557.12 601.31 L560.59 601.75 L564.07 601.62 L567.55 600.87 L571.02 602.16 L574.5 602.52" fill="none" stroke="#1a1a8c" stroke-width="1.2" stroke-linejoin="round"/>
<path d="M51.52 600.6a1.48 1.85 0 1 0 2.96 0a1.48 1.85 0 1 0 -2.96 0M55 601.24a1.48 1.85 0 1 0 2.96 0a1.48 1.85 0 1 0 -2.96 0M58.47 601.01a1.48 1.85 0 1 0 2.96 0a1.48 1.85 0 1 0 -2.96 0M61.95 599.82a1.48 1.85 0 1 0 2.96 0a1.48 1.85 0 1 0 -2.96 0M65.43 599.81a1.48 1.85 0 1 0 2.96 0a1.48 1.85 0 1 0 -2.96 0M68.9 599.55a1.48 1.85 0 1 0 2.96 0a1.48 1.85 0 1 0 -2.96 0M72.38 600.11a1.48 1.85 0 1 0 2.96 0a1.48 1.85 0 1 0 -2.96 0M75.86 599.64a1.48 1.85 0 1 0 2.96 0a1.48 1.85 0 1 0 -2.96 0M79.33 600.01a1.48 1.85 0 1 0 2.96 0a1.48 1.85 0 1 0 -2.96 0M82.81 598.34a1.48 1.85 0 1 0 2.96 0a1.48 1.85 0 1 0 -2.96 0M86.29 600.27a1.48 1.85 0 1 0 2.96 0a1.48 1.85 0 1 0 -2.96 0M89.76 599.14a1.48 1.85 0 1 0 2.96 0a1.48 1.85 0 1 0 -2.96 0M93.24 599.47a1.48 1.85 0 1 0 2.96 0a1.48 1.85 0 1 0 -2.96 0M96.72 598.82a1.48 1.85 0 1 0 2.96 0a1.48 1.85 0 1 0 -2.96 0M100.19 598.52a1.48 1.85 0 1 0 2.96 0a1.48 1.85 0 1 0 -2.96 0M103.67 598.87a1.48 1.85 0 1 0 2.96 0a1.48 1.85 0 1 0 -2.96 0M107.15 598.91a1.48 1.85 0 1 0 2.96 0a1.48 1.85 0 1 0 -2.96 0M110.62 598.1a1.48 1.85 0 1 0 2.96 0a1.48 1.85 0 1 0 -2.96 0M114.1 597.9a1.48 1.85 0 1 0 2.96 0a1.48 1.85 0 1 0 -2.96 0M117.58 598.14a1.48 1.85 0 1 0 2.96 0a1.48 1.85 0 1 0 -2.96 0M121.05 596.87a1.48 1.85 0 1 0 2.96 0a1.48 1.85 0 1 0 -2.96 0M124.53 596.09a1.48 1.85 0 1 0 2.96 0a1.48 1.85 0 1 0 -2.96 0M128.01 596.81a1.48 1.85 0 1 0 2.96 0a1.48 1.85 0 1 0 -2.96 0M131.48 595.68a1.48 1.85 0 1 0 2.96 0a1.48 1.85 0 1 0 -2.96 0M134.96 594.41a1.48 1.85 0 1 0 2.96 0a1.48 1.85 0 1 0 -2.96 0M138.44 594.54a1.48 1.85 0 1 0 2.96 0a1.48 1.85 0 1 0 -2.96 0M141.91 594.2a1.48 1.85 0 1 0 2.96 0a1.48 1.85 0 1 0 -2.96 0M145.39 593.18a1.48 1.85 0 1 0 2.96 0a1.48 1.85 0 1 0 -2.96 0M148.87 592.38a1.48 1.85 0 1 0 2.96 0a1.48 1.85 0 1 0 -2.96 0M152.34 592.64a1.48 1.85 0 1 0 2.96 0a1.48 1.85 0 1 0 -2.96 0M155.82 592.45a1.48 1.85 0 1 0 2.96 0a1.48 1.85 0 1 0 -2.96 0M159.3 590.98a1.48 1.85 0 1 0 2.96 0a1.48 1.85 0 1 0 -2.96 0M162.77 589.84a1.48 1.85 0 1 0 2.96 0a1.48 1.85 0 1 0 -2.96 0M166.25 589.66a1.48 1.85 0 1 0 2.96 0a1.48 1.85 0 1 0 -2.96 0M169.73 589.01a1.48 1.85 0 1 0 2.96 0a1.48 1.85 0 1 0 -2.96 0M173.2 587.5a1.48 1.85 0 1 0 2.96 0a1.48 1.85 0 1 0 -2.96 0M176.68 587.12a1.48 1.85 0 1 0 2.96 0a1.48 1.85 0 1 0 -2.96 0M180.16 586.44a1.48 1.85 0 1 0 2.96 0a1.48 1.85 0 1 0 -2.96 0M183.63 584.54a1.48 1.85 0 1 0 2.96 0a1.48 1.85 0 1 0 -2.96 0M187.11 582.89a1.48 1.85 0 1 0 2.96 0a1.48 1.85 0 1 0 -2.96 0M190.59 582a1.48 1.85 0 1 0 2.96 0a1.48 1.85 0 1 0 -2.96 0M194.06 579.68a1.48 1.85 0 1 0 2.96 0a1.48 1.85 0 1 0 -2.96 0M197.54 578.13a1.48 1.85 0 1 0 2.96 0a1.48 1.85 0 1 0 -2.96 0M201.02 574.49a1.48 1.85 0 1 0 2.96 0a1.48 1.85 0 1 0 -2.96 0M204.49 572.83a1.48 1.85 0 1 0 2.96 0a1.48 1.85 0 1 0 -2.96 0M207.97 570.65a1.48 1.85 0 1 0 2.96 0a1.48 1.85 0 1 0 -2.96 0M211.45 567.82a1.48 1.85 0 1 0 2.96 0a1.48 1.85 0 1 0 -2.96 0M214.92 566.65a1.48 1.85 0 1 0 2.96 0a1.48 1.85 0 1 0 -2.96 0M218.4 564.26a1.48 1.85 0 1 0 2.96 0a1.48 1.85 0 1 0 -2.96 0M221.88 560.51a1.48 1.85 0 1 0 2.96 0a1.48 1.85 0 1 0 -2.96 0M225.35 558.44a1.48 1.85 0 1 0 2.96 0a1.48 1.85 0 1 0 -2.96 0M228.83 553.98a1.48 1.85 0 1 0 2.96 0a1.48 1.85 0 1 0 -2.96 0M232.31 549.43a1.48 1.85 0 1 0 2.96 0a1.48 1.85 0 1 0 -2.96 0M235.78 543.78a1.48 1.85 0 1 0 2.96 0a1.48 1.85 0 1 0 -2.96 0M239.26 538.54a1.48 1.85 0 1 0 2.96 0a1.48 1.85 0 1 0 -2.96 0M242.74 532.01a1.48 1.85 0 1 0 2.96 0a1.48 1.85 0 1 0 -2.96 0M246.21 528.58a1.48 1.85 0 1 0 2.96 0a1.48 1.85 0 1 0 -2.96 0M249.69 522.98a1.48 1.85 0 1 0 2.96 0a1.48 1.85 0 1 0 -2.96 0M253.17 515.47a1.48 1.85 0 1 0 2.96 0a1.48 1.85 0 1 0 -2.96 0M256.64 512.52a1.48 1.85 0 1 0 2.96 0a1.48 1.85 0 1 0 -2.96 0M260.12 508.03a1.48 1.85 0 1 0 2.96 0a1.48 1.85 0 1 0 -2.96 0M263.6 505.79a1.48 1.85 0 1 0 2.96 0a1.48 1.85 0 1 0 -2.96 0M267.07 503.07a1.48 1.85 0 1 0 2.96 0a1.48 1.85 0 1 0 -2.96 0M270.55 501.85a1.48 1.85 0 1 0 2.96 0a1.48 1.85 0 1 0 -2.96 0M274.03 501.14a1.48 1.85 0 1 0 2.96 0a1.48 1.85 0 1 0 -2.96 0M277.5 499.63a1.48 1.85 0 1 0 2.96 0a1.48 1.85 0 1 0 -2.96 0M280.98 500.72a1.48 1.85 0 1 0 2.96 0a1.48 1.85 0 1 0 -2.96 0M284.46 501.05a1.48 1.85 0 1 0 2.96 0a1.48 1.85 0 1 0 -2.96 0M287.93 502.91a1.48 1.85 0 1 0 2.96 0a1.48 1.85 0 1 0 -2.96 0M291.41 502.9a1.48 1.85 0 1 0 2.96 0a1.48 1.85 0 1 0 -2.96 0M294.89 505.58a1.48 1.85 0 1 0 2.96 0a1.48 1.85 0 1 0 -2.96 0M298.36 506.92a1.48 1.85 0 1 0 2.96 0a1.48 1.85 0 1 0 -2.96 0M301.84 507.79a1.48 1.85 0 1 0 2.96 0a1.48 1.85 0 1 0 -2.96 0M305.32 509.17a1.48 1.85 0 1 0 2.96 0a1.48 1.85 0 1 0 -2.96 0M308.79 510.03a1.48 1.85 0 1 0 2.96 0a1.48 1.85 0 1 0 -2.96 0M312.27 510.89a1.48 1.85 0 1 0 2.96 0a1.48 1.85 0 1 0 -2.96 0M315.75 508.19a1.48 1.85 0 1 0 2.96 0a1.48 1.85 0 1 0 -2.96 0M319.22 509.32a1.48 1.85 0 1 0 2.96 0a1.48 1.85 0 1 0 -2.96 0M322.7 506.66a1.48 1.85 0 1 0 2.96 0a1.48 1.85 0 1 0 -2.96 0M326.18 500.3a1.48 1.85 0 1 0 2.96 0a1.48 1.85 0 1 0 -2.96 0M329.65 491.28a1.48 1.85 0 1 0 2.96 0a1.48 1.85 0 1 0 -2.96 0M333.13 483.44a1.48 1.85 0 1 0 2.96 0a1.48 1.85 0 1 0 -2.96 0M336.61 472.05a1.48 1.85 0 1 0 2.96 0a1.48 1.85 0 1 0 -2.96 0M340.08 463.16a1.48 1.85 0 1 0 2.96 0a1.48 1.85 0 1 0 -2.96 0M343.56 449.19a1.48 1.85 0 1 0 2.96 0a1.48 1.85 0 1 0 -2.96 0M347.04 431.03a1.48 1.85 0 1 0 2.96 0a1.48 1.85 0 1 0 -2.96 0M350.51 414.15a1.48 1.85 0 1 0 2.96 0a1.48 1.85 0 1 0 -2.96 0M353.99 389.92a1.48 1.85 0 1 0 2.96 0a1.48 1.85 0 1 0 -2.96 0M357.47 361.37a1.48 1.85 0 1 0 2.96 0a1.48 1.85 0 1 0 -2.96 0M360.94 323.06a1.48 1.85 0 1 0 2.96 0a1.48 1.85 0 1 0 -2.96 0M364.42 286.87a1.48 1.85 0 1 0 2.96 0a1.48 1.85 0 1 0 -2.96 0M367.9 242.41a1.48 1.85 0 1 0 2.96 0a1.48 1.85 0 1 0 -2.96 0M371.37 202.35a1.48 1.85 0 1 0 2.96 0a1.48 1.85 0 1 0 -2.96 0M374.85 163.15a1.48 1.85 0 1 0 2.96 0a1.48 1.85 0 1 0 -2.96 0M378.33 127.69a1.48 1.85 0 1 0 2.96 0a1.48 1.85 0 1 0 -2.96 0M381.8 98.17a1.48 1.85 0 1 0 2.96 0a1.48 1.85 0 1 0 -2.96 0M385.28 81.08a1.48 1.85 0 1 0 2.96 0a1.48 1.85 0 1 0 -2.96 0M388.76 86.48a1.48 1.85 0 1 0 2.96 0a1.48 1.85 0 1 0 -2.96 0M392.23 137.07a1.48 1.85 0 1 0 2.96 0a1.48 1.85 0 1 0 -2.96 0M395.71 215.09a1.48 1.85 0 1 0 2.96 0a1.48 1.85 0 1 0 -2.96 0M399.19 294.31a1.48 1.85 0 1 0 2.96 0a1.48 1.85 0 1 0 -2.96 0M402.66 363.46a1.48 1.85 0 1 0 2.96 0a1.48 1.85 0 1 0 -2.96 0M406.14 411.27a1.48 1.85 0 1 0 2.96 0a1.48 1.85 0 1 0 -2.96 0M409.62 454.5a1.48 1.85 0 1 0 2.96 0a1.48 1.85 0 1 0 -2.96 0M413.09 489.05a1.48 1.85 0 1 0 2.96 0a1.48 1.85 0 1 0 -2.96 0M416.57 505.76a1.48 1.85 0 1 0 2.96 0a1.48 1.85 0 1 0 -2.96 0M420.05 519.64a1.48 1.85 0 1 0 2.96 0a1.48 1.85 0 1 0 -2.96 0M423.52 531.94a1.48 1.85 0 1 0 2.96 0a1.48 1.85 0 1 0 -2.96 0M427 539.34a1.48 1.85 0 1 0 2.96 0a1.48 1.85 0 1 0 -2.96 0M430.48 545.2a1.48 1.85 0 1 0 2.96 0a1.48 1.85 0 1 0 -2.96 0M433.95 552.82a1.48 1.85 0 1 0 2.96 0a1.48 1.85 0 1 0 -2.96 0M437.43 557.24a1.48 1.85 0 1 0 2.96 0a1.48 1.85 0 1 0 -2.96 0M440.91 562.75a1.48 1.85 0 1 0 2.96 0a1.48 1.85 0 1 0 -2.96 0M444.38 565.32a1.48 1.85 0 1 0 2.96 0a1.48 1.85 0 1 0 -2.96 0M447.86 568.48a1.48 1.85 0 1 0 2.96 0a1.48 1.85 0 1 0 -2.96 0M451.34 571a1.48 1.85 0 1 0 2.96 0a1.48 1.85 0 1 0 -2.96 0M454.81 575.66a1.48 1.85 0 1 0 2.96 0a1.48 1.85 0 1 0 -2.96 0M458.29 578.95a1.48 1.85 0 1 0 2.96 0a1.48 1.85 0 1 0 -2.96 0M461.77 578.69a1.48 1.85 0 1 0 2.96 0a1.48 1.85 0 1 0 -2.96 0M465.24 580.3a1.48 1.85 0 1 0 2.96 0a1.48 1.85 0 1 0 -2.96 0M468.72 582.59a1.48 1.85 0 1 0 2.96 0a1.48 1.85 0 1 0 -2.96 0M472.2 583.32a1.48 1.85 0 1 0 2.96 0a1.48 1.85 0 1 0 -2.96 0M475.67 585.17a1.48 1.85 0 1 0 2.96 0a1.48 1.85 0 1 0 -2.96 0M479.15 586.49a1.48 1.85 0 1 0 2.96 0a1.48 1.85 0 1 0 -2.96 0M482.63 588.09a1.48 1.85 0 1 0 2.96 0a1.48 1.85 0 1 0 -2.96 0M486.1 589.81a1.48 1.85 0 1 0 2.96 0a1.48 1.85 0 1 0 -2.96 0M489.58 590.25a1.48 1.85 0 1 0 2.96 0a1.48 1.85 0 1 0 -2.96 0M493.06 591.91a1.48 1.85 0 1 0 2.96 0a1.48 1.85 0 1 0 -2.96 0M496.53 592.18a1.48 1.85 0 1 0 2.96 0a1.48 1.85 0 1 0 -2.96 0M500.01 593.68a1.48 1.85 0 1 0 2.96 0a1.48 1.85 0 1 0 -2.96 0M503.49 593.14a1.48 1.85 0 1 0 2.96 0a1.48 1.85 0 1 0 -2.96 0M506.96 594.44a1.48 1.85 0 1 0 2.96 0a1.48 1.85 0 1 0 -2.96 0M510.44 596.54a1.48 1.85 0 1 0 2.96 0a1.48 1.85 0 1 0 -2.96 0M513.92 596.33a1.48 1.85 0 1 0 2.96 0a1.48 1.85 0 1 0 -2.96 0M517.39 597.61a1.48 1.85 0 1 0 2.96 0a1.48 1.85 0 1 0 -2.96 0M520.87 598.11a1.48 1.85 0 1 0 2.96 0a1.48 1.85 0 1 0 -2.96 0M524.35 599.07a1.48 1.85 0 1 0 2.96 0a1.48 1.85 0 1 0 -2.96 0M527.82 599.21a1.48 1.85 0 1 0 2.96 0a1.48 1.85 0 1 0 -2.96 0M531.3 599.75a1.48 1.85 0 1 0 2.96 0a1.48 1.85 0 1 0 -2.96 0M534.78 599.46a1.48 1.85 0 1 0 2.96 0a1.48 1.85 0 1 0 -2.96 0M538.25 599.47a1.48 1.85 0 1 0 2.96 0a1.48 1.85 0 1 0 -2.96 0M541.73 599.79a1.48 1.85 0 1 0 2.96 0a1.48 1.85 0 1 0 -2.96 0M545.21 600.25a1.48 1.85 0 1 0 2.96 0a1.48 1.85 0 1 0 -2.96 0M548.68 600.17a1.48 1.85 0 1 0 2.96 0a1.48 1.85 0 1 0 -2.96 0M552.16 600.79a1.48 1.85 0 1 0 2.96 0a1.48 1.85 0 1 0 -2.96 0M555.64 601.31a1.48 1.85 0 1 0 2.96 0a1.48 1.85 0 1 0 -2.96 0M559.11 601.75a1.48 1.85 0 1 0 2.96 0a1.48 1.85 0 1 0 -2.96 0M562.59 601.62a1.48 1.85 0 1 0 2.96 0a1.48 1.85 0 1 0 -2.96 0M566.07 600.87a1.48 1.85 0 1 0 2.96 0a1.48 1.85 0 1 0 -2.96 0M569.54 602.16a1.48 1.85 0 1 0 2.96 0a1.48 1.85 0 1 0 -2.96 0M573.02 602.52a1.48 1.85 0 1 0 2.96 0a1.48 1.85 0 1 0 -2.96 0" fill="#1a1a8c"/>
<path d="M53 598.31 L56.48 599.04 L59.95 601.09 L63.43 599.55 L66.91 601.15 L70.38 601.52 L73.86 597.82 L77.34 601.66 L80.81 598.97 L84.29 603.15 L87.77 600.84 L91.24 598.67 L94.72 599.7 L98.2 599.56 L101.67 599.56 L105.15 601.07 L108.63 599.47 L112.1 601.05 L115.58 599.15 L119.06 597.56 L122.53 595.08 L126.01 594.68 L129.49 597.16 L132.96 597.55 L136.44 598.33 L139.92 594.52 L143.39 595.12 L146.87 593.11 L150.35 593.14 L153.82 589.46 L157.3 593.7 L160.78 590.55 L164.25 590.81 L167.73 590.81 L171.21 589.83 L174.68 586.27 L178.16 590.14 L181.64 587.93 L185.11 586.41 L188.59 583.18 L192.07 580.06 L195.54 578.29 L199.02 578.82 L202.5 577.44 L205.97 573.84 L209.45 576.09 L212.93 571.26 L216.4 570.32 L219.88 568.03 L223.36 563.43 L226.83 565.34 L230.31 559.91 L233.79 552.75 L237.26 554.45 L240.74 553.04 L244.22 550.13 L247.69 547.51 L251.17 540.01 L254.65 539.36 L258.12 535.94 L261.6 534.35 L265.08 531.99 L268.55 531.86 L272.03 529.17 L275.51 524.07 L278.98 525.5 L282.46 524.99 L285.94 520.42 L289.41 514.85 L292.89 513.95 L296.37 512.5 L299.84 508 L303.32 509.27 L306.8 504.22 L310.27 505.83 L313.75 503.15 L317.23 498.72 L320.7 492.76 L324.18 491.4 L327.66 482.52 L331.13 474.11 L334.61 468.59 L338.09 451.9 L341.56 433.66 L345.04 422.15 L348.52 403.42 L351.99 374.77 L355.47 339.9 L358.95 305.8 L362.42 259.03 L365.9 223.02 L369.38 179.1 L372.85 126.58 L376.33 87.82 L379.81 86.47 L383.28 128.25 L386.76 186.6 L390.24 242.3 L393.71 305.06 L397.19 356.69 L400.67 403.74 L404.14 445.29 L407.62 478.88 L411.1 499.49 L414.57 519.17 L418.05 533.74 L421.53 540.39 L425 548.12 L428.48 551.39 L431.96 561.92 L435.43 567.27 L438.91 568.88 L442.39 573.88 L445.86 575.38 L449.34 576.79 L452.82 577.81 L456.29 578.6 L459.77 582.13 L463.25 584.3 L466.72 584.69 L470.2 585.5 L473.68 586.47 L477.15 589.26 L480.63 586.16 L484.11 589.29 L487.58 590.68 L491.06 592.4 L494.54 593.04 L498.01 592.09 L501.49 592.05 L504.97 591.59 L508.44 595.88 L511.92 595.36 L515.4 595.14 L518.87 594 L522.35 593.71 L525.83 597.77 L529.3 596.17 L532.78 597.25 L536.26 599.68 L539.73 594.55 L543.21 596.03 L546.69 598.12 L550.16 598.76 L553.64 596.28 L557.12 598.04 L560.59 597.39 L564.07 597.62 L567.55 599.35 L571.02 599.23 L574.5 600.96" fill="none" stroke="#f080f0" stroke-width="1.2" stroke-linejoin="round"/>
<path d="M51.52 598.31a1.48 1.85 0 1 0 2.96 0a1.48 1.85 0 1 0 -2.96 0M55 599.04a1.48 1.85 0 1 0 2.96 0a1.48 1.85 0 1 0 -2.96 0M58.47 601.09a1.48 1.85 0 1 0 2.96 0a1.48 1.85 0 1 0 -2.96 0M61.95 599.55a1.48 1.85 0 1 0 2.96 0a1.48 1.85 0 1 0 -2.96 0M65.43 601.15a1.48 1.85 0 1 0 2.96 0a1.48 1.85 0 1 0 -2.96 0M68.9 601.52a1.48 1.85 0 1 0 2.96 0a1.48 1.85 0 1 0 -2.96 0M72.38 597.82a1.48 1.85 0 1 0 2.96 0a1.48 1.85 0 1 0 -2.96 0M75.86 601.66a1.48 1.85 0 1 0 2.96 0a1.48 1.85 0 1 0 -2.96 0M79.33 598.97a1.48 1.85 0 1 0 2.96 0a1.48 1.85 0 1 0 -2.96 0M82.81 603.15a1.48 1.85 0 1 0 2.96 0a1.48 1.85 0 1 0 -2.96 0M86.29 600.84a1.48 1.85 0 1 0 2.96 0a1.48 1.85 0 1 0 -2.96 0M89.76 598.67a1.48 1.85 0 1 0 2.96 0a1.48 1.85 0 1 0 -2.96 0M93.24 599.7a1.48 1.85 0 1 0 2.96 0a1.48 1.85 0 1 0 -2.96 0M96.72 599.56a1.48 1.85 0 1 0 2.96 0a1.48 1.85 0 1 0 -2.96 0M100.19 599.56a1.48 1.85 0 1 0 2.96 0a1.48 1.85 0 1 0 -2.96 0M103.67 601.07a1.48 1.85 0 1 0 2.96 0a1.48 1.85 0 1 0 -2.96 0M107.15 599.47a1.48 1.85 0 1 0 2.96 0a1.48 1.85 0 1 0 -2.96 0M110.62 601.05a1.48 1.85 0 1 0 2.96 0a1.48 1.85 0 1 0 -2.96 0M114.1 599.15a1.48 1.85 0 1 0 2.96 0a1.48 1.85 0 1 0 -2.96 0M117.58 597.56a1.48 1.85 0 1 0 2.96 0a1.48 1.85 0 1 0 -2.96 0M121.05 595.08a1.48 1.85 0 1 0 2.96 0a1.48 1.85 0 1 0 -2.96 0M124.53 594.68a1.48 1.85 0 1 0 2.96 0a1.48 1.85 0 1 0 -2.96 0M128.01 597.16a1.48 1.85 0 1 0 2.96 0a1.48 1.85 0 1 0 -2.96 0M131.48 597.55a1.48 1.85 0 1 0 2.96 0a1.48 1.85 0 1 0 -2.96 0M134.96 598.33a1.48 1.85 0 1 0 2.96 0a1.48 1.85 0 1 0 -2.96 0M138.44 594.52a1.48 1.85 0 1 0 2.96 0a1.48 1.85 0 1 0 -2.96 0M141.91 595.12a1.48 1.85 0 1 0 2.96 0a1.48 1.85 0 1 0 -2.96 0M145.39 593.11a1.48 1.85 0 1 0 2.96 0a1.48 1.85 0 1 0 -2.96 0M148.87 593.14a1.48 1.85 0 1 0 2.96 0a1.48 1.85 0 1 0 -2.96 0M152.34 589.46a1.48 1.85 0 1 0 2.96 0a1.48 1.85 0 1 0 -2.96 0M155.82 593.7a1.48 1.85 0 1 0 2.96 0a1.48 1.85 0 1 0 -2.96 0M159.3 590.55a1.48 1.85 0 1 0 2.96 0a1.48 1.85 0 1 0 -2.96 0M162.77 590.81a1.48 1.85 0 1 0 2.96 0a1.48 1.85 0 1 0 -2.96 0M166.25 590.81a1.48 1.85 0 1 0 2.96 0a1.48 1.85 0 1 0 -2.96 0M169.73 589.83a1.48 1.85 0 1 0 2.96 0a1.48 1.85 0 1 0 -2.96 0M173.2 586.27a1.48 1.85 0 1 0 2.96 0a1.48 1.85 0 1 0 -2.96 0M176.68 590.14a1.48 1.85 0 1 0 2.96 0a1.48 1.85 0 1 0 -2.96 0M180.16 587.93a1.48 1.85 0 1 0 2.96 0a1.48 1.85 0 1 0 -2.96 0M183.63 586.41a1.48 1.85 0 1 0 2.96 0a1.48 1.85 0 1 0 -2.96 0M187.11 583.18a1.48 1.85 0 1 0 2.96 0a1.48 1.85 0 1 0 -2.96 0M190.59 580.06a1.48 1.85 0 1 0 2.96 0a1.48 1.85 0 1 0 -2.96 0M194.06 578.29a1.48 1.85 0 1 0 2.96 0a1.48 1.85 0 1 0 -2.96 0M197.54 578.82a1.48 1.85 0 1 0 2.96 0a1.48 1.85 0 1 0 -2.96 0M201.02 577.44a1.48 1.85 0 1 0 2.96 0a1.48 1.85 0 1 0 -2.96 0M204.49 573.84a1.48 1.85 0 1 0 2.96 0a1.48 1.85 0 1 0 -2.96 0M207.97 576.09a1.48 1.85 0 1 0 2.96 0a1.48 1.85 0 1 0 -2.96 0M211.45 571.26a1.48 1.85 0 1 0 2.96 0a1.48 1.85 0 1 0 -2.96 0M214.92 570.32a1.48 1.85 0 1 0 2.96 0a1.48 1.85 0 1 0 -2.96 0M218.4 568.03a1.48 1.85 0 1 0 2.96 0a1.48 1.85 0 1 0 -2.96 0M221.88 563.43a1.48 1.85 0 1 0 2.96 0a1.48 1.85 0 1 0 -2.96 0M225.35 565.34a1.48 1.85 0 1 0 2.96 0a1.48 1.85 0 1 0 -2.96 0M228.83 559.91a1.48 1.85 0 1 0 2.96 0a1.48 1.85 0 1 0 -2.96 0M232.31 552.75a1.48 1.85 0 1 0 2.96 0a1.48 1.85 0 1 0 -2.96 0M235.78 554.45a1.48 1.85 0 1 0 2.96 0a1.48 1.85 0 1 0 -2.96 0M239.26 553.04a1.48 1.85 0 1 0 2.96 0a1.48 1.85 0 1 0 -2.96 0M242.74 550.13a1.48 1.85 0 1 0 2.96 0a1.48 1.85 0 1 0 -2.96 0M246.21 547.51a1.48 1.85 0 1 0 2.96 0a1.48 1.85 0 1 0 -2.96 0M249.69 540.01a1.48 1.85 0 1 0 2.96 0a1.48 1.85 0 1 0 -2.96 0M253.17 539.36a1.48 1.85 0 1 0 2.96 0a1.48 1.85 0 1 0 -2.96 0M256.64 535.94a1.48 1.85 0 1 0 2.96 0a1.48 1.85 0 1 0 -2.96 0M260.12 534.35a1.48 1.85 0 1 0 2.96 0a1.48 1.85 0 1 0 -2.96 0M263.6 531.99a1.48 1.85 0 1 0 2.96 0a1.48 1.85 0 1 0 -2.96 0M267.07 531.86a1.48 1.85 0 1 0 2.96 0a1.48 1.85 0 1 0 -2.96 0M270.55 529.17a1.48 1.85 0 1 0 2.96 0a1.48 1.85 0 1 0 -2.96 0M274.03 524.07a1.48 1.85 0 1 0 2.96 0a1.48 1.85 0 1 0 -2.96 0M277.5 525.5a1.48 1.85 0 1 0 2.96 0a1.48 1.85 0 1 0 -2.96 0M280.98 524.99a1.48 1.85 0 1 0 2.96 0a1.48 1.85 0 1 0 -2.96 0M284.46 520.42a1.48 1.85 0 1 0 2.96 0a1.48 1.85 0 1 0 -2.96 0M287.93 514.85a1.48 1.85 0 1 0 2.96 0a1.48 1.85 0 1 0 -2.96 0M291.41 513.95a1.48 1.85 0 1 0 2.96 0a1.48 1.85 0 1 0 -2.96 0M294.89 512.5a1.48 1.85 0 1 0 2.96 0a1.48 1.85 0 1 0 -2.96 0M298.36 508a1.48 1.85 0 1 0 2.96 0a1.48 1.85 0 1 0 -2.96 0M301.84 509.27a1.48 1.85 0 1 0 2.96 0a1.48 1.85 0 1 0 -2.96 0M305.32 504.22a1.48 1.85 0 1 0 2.96 0a1.48 1.85 0 1 0 -2.96 0M308.79 505.83a1.48 1.85 0 1 0 2.96 0a1.48 1.85 0 1 0 -2.96 0M312.27 503.15a1.48 1.85 0 1 0 2.96 0a1.48 1.85 0 1 0 -2.96 0M315.75 498.72a1.48 1.85 0 1 0 2.96 0a1.48 1.85 0 1 0 -2.96 0M319.22 492.76a1.48 1.85 0 1 0 2.96 0a1.48 1.85 0 1 0 -2.96 0M322.7 491.4a1.48 1.85 0 1 0 2.96 0a1.48 1.85 0 1 0 -2.96 0M326.18 482.52a1.48 1.85 0 1 0 2.96 0a1.48 1.85 0 1 0 -2.96 0M329.65 474.11a1.48 1.85 0 1 0 2.96 0a1.48 1.85 0 1 0 -2.96 0M333.13 468.59a1.48 1.85 0 1 0 2.96 0a1.48 1.85 0 1 0 -2.96 0M336.61 451.9a1.48 1.85 0 1 0 2.96 0a1.48 1.85 0 1 0 -2.96 0M340.08 433.66a1.48 1.85 0 1 0 2.96 0a1.48 1.85 0 1 0 -2.96 0M343.56 422.15a1.48 1.85 0 1 0 2.96 0a1.48 1.85 0 1 0 -2.96 0M347.04 403.42a1.48 1.85 0 1 0 2.96 0a1.48 1.85 0 1 0 -2.96 0M350.51 374.77a1.48 1.85 0 1 0 2.96 0a1.48 1.85 0 1 0 -2.96 0M353.99 339.9a1.48 1.85 0 1 0 2.96 0a1.48 1.85 0 1 0 -2.96 0M357.47 305.8a1.48 1.85 0 1 0 2.96 0a1.48 1.85 0 1 0 -2.96 0M360.94 259.03a1.48 1.85 0 1 0 2.96 0a1.48 1.85 0 1 0 -2.96 0M364.42 223.02a1.48 1.85 0 1 0 2.96 0a1.48 1.85 0 1 0 -2.96 0M367.9 179.1a1.48 1.85 0 1 0 2.96 0a1.48 1.85 0 1 0 -2.96 0M371.37 126.58a1.48 1.85 0 1 0 2.96 0a1.48 1.85 0 1 0 -2.96 0M374.85 87.82a1.48 1.85 0 1 0 2.96 0a1.48 1.85 0 1 0 -2.96 0M378.33 86.47a1.48 1.85 0 1 0 2.96 0a1.48 1.85 0 1 0 -2.96 0M381.8 128.25a1.48 1.85 0 1 0 2.96 0a1.48 1.85 0 1 0 -2.96 0M385.28 186.6a1.48 1.85 0 1 0 2.96 0a1.48 1.85 0 1 0 -2.96 0M388.76 242.3a1.48 1.85 0 1 0 2.96 0a1.48 1.85 0 1 0 -2.96 0M392.23 305.06a1.48 1.85 0 1 0 2.96 0a1.48 1.85 0 1 0 -2.96 0M395.71 356.69a1.48 1.85 0 1 0 2.96 0a1.48 1.85 0 1 0 -2.96 0M399.19 403.74a1.48 1.85 0 1 0 2.96 0a1.48 1.85 0 1 0 -2.96 0M402.66 445.29a1.48 1.85 0 1 0 2.96 0a1.48 1.85 0 1 0 -2.96 0M406.14 478.88a1.48 1.85 0 1 0 2.96 0a1.48 1.85 0 1 0 -2.96 0M409.62 499.49a1.48 1.85 0 1 0 2.96 0a1.48 1.85 0 1 0 -2.96 0M413.09 519.17a1.48 1.85 0 1 0 2.96 0a1.48 1.85 0 1 0 -2.96 0M416.57 533.74a1.48 1.85 0 1 0 2.96 0a1.48 1.85 0 1 0 -2.96 0M420.05 540.39a1.48 1.85 0 1 0 2.96 0a1.48 1.85 0 1 0 -2.96 0M423.52 548.12a1.48 1.85 0 1 0 2.96 0a1.48 1.85 0 1 0 -2.96 0M427 551.39a1.48 1.85 0 1 0 2.96 0a1.48 1.85 0 1 0 -2.96 0M430.48 561.92a1.48 1.85 0 1 0 2.96 0a1.48 1.85 0 1 0 -2.96 0M433.95 567.27a1.48 1.85 0 1 0 2.96 0a1.48 1.85 0 1 0 -2.96 0M437.43 568.88a1.48 1.85 0 1 0 2.96 0a1.48 1.85 0 1 0 -2.96 0M440.91 573.88a1.48 1.85 0 1 0 2.96 0a1.48 1.85 0 1 0 -2.96 0M444.38 575.38a1.48 1.85 0 1 0 2.96 0a1.48 1.85 0 1 0 -2.96 0M447.86 576.79a1.48 1.85 0 1 0 2.96 0a1.48 1.85 0 1 0 -2.96 0M451.34 577.81a1.48 1.85 0 1 0 2.96 0a1.48 1.85 0 1 0 -2.96 0M454.81 578.6a1.48 1.85 0 1 0 2.96 0a1.48 1.85 0 1 0 -2.96 0M458.29 582.13a1.48 1.85 0 1 0 2.96 0a1.48 1.85 0 1 0 -2.96 0M461.77 584.3a1.48 1.85 0 1 0 2.96 0a1.48 1.85 0 1 0 -2.96 0M465.24 584.69a1.48 1.85 0 1 0 2.96 0a1.48 1.85 0 1 0 -2.96 0M468.72 585.5a1.48 1.85 0 1 0 2.96 0a1.48 1.85 0 1 0 -2.96 0M472.2 586.47a1.48 1.85 0 1 0 2.96 0a1.48 1.85 0 1 0 -2.96 0M475.67 589.26a1.48 1.85 0 1 0 2.96 0a1.48 1.85 0 1 0 -2.96 0M479.15 586.16a1.48 1.85 0 1 0 2.96 0a1.48 1.85 0 1 0 -2.96 0M482.63 589.29a1.48 1.85 0 1 0 2.96 0a1.48 1.85 0 1 0 -2.96 0M486.1 590.68a1.48 1.85 0 1 0 2.96 0a1.48 1.85 0 1 0 -2.96 0M489.58 592.4a1.48 1.85 0 1 0 2.96 0a1.48 1.85 0 1 0 -2.96 0M493.06 593.04a1.48 1.85 0 1 0 2.96 0a1.48 1.85 0 1 0 -2.96 0M496.53 592.09a1.48 1.85 0 1 0 2.96 0a1.48 1.85 0 1 0 -2.96 0M500.01 592.05a1.48 1.85 0 1 0 2.96 0a1.48 1.85 0 1 0 -2.96 0M503.49 591.59a1.48 1.85 0 1 0 2.96 0a1.48 1.85 0 1 0 -2.96 0M506.96 595.88a1.48 1.85 0 1 0 2.96 0a1.48 1.85 0 1 0 -2.96 0M510.44 595.36a1.48 1.85 0 1 0 2.96 0a1.48 1.85 0 1 0 -2.96 0M513.92 595.14a1.48 1.85 0 1 0 2.96 0a1.48 1.85 0 1 0 -2.96 0M517.39 594a1.48 1.85 0 1 0 2.96 0a1.48 1.85 0 1 0 -2.96 0M520.87 593.71a1.48 1.85 0 1 0 2.96 0a1.48 1.85 0 1 0 -2.96 0M524.35 597.77a1.48 1.85 0 1 0 2.96 0a1.48 1.85 0 1 0 -2.96 0M527.82 596.17a1.48 1.85 0 1 0 2.96 0a1.48 1.85 0 1 0 -2.96 0M531.3 597.25a1.48 1.85 0 1 0 2.96 0a1.48 1.85 0 1 0 -2.96 0M534.78 599.68a1.48 1.85 0 1 0 2.96 0a1.48 1.85 0 1 0 -2.96 0M538.25 594.55a1.48 1.85 0 1 0 2.96 0a1.48 1.85 0 1 0 -2.96 0M541.73 596.03a1.48 1.85 0 1 0 2.96 0a1.48 1.85 0 1 0 -2.96 0M545.21 598.12a1.48 1.85 0 1 0 2.96 0a1.48 1.85 0 1 0 -2.96 0M548.68 598.76a1.48 1.85 0 1 0 2.96 0a1.48 1.85 0 1 0 -2.96 0M552.16 596.28a1.48 1.85 0 1 0 2.96 0a1.48 1.85 0 1 0 -2.96 0M555.64 598.04a1.48 1.85 0 1 0 2.96 0a1.48 1.85 0 1 0 -2.96 0M559.11 597.39a1.48 1.85 0 1 0 2.96 0a1.48 1.85 0 1 0 -2.96 0M562.59 597.62a1.48 1.85 0 1 0 2.96 0a1.48 1.85 0 1 0 -2.96 0M566.07 599.35a1.48 1.85 0 1 0 2.96 0a1.48 1.85 0 1 0 -2.96 0M569.54 599.23a1.48 1.85 0 1 0 2.96 0a1.48 1.85 0 1 0 -2.96 0M573.02 600.96a1.48 1.85 0 1 0 2.96 0a1.48 1.85 0 1 0 -2.96 0" fill="#f080f0"/>
<path d="M53 599.94 L56.48 600.6 L59.95 600.76 L63.43 600.68 L66.91 601.06 L70.38 599.65 L73.86 600.11 L77.34 599.46 L80.81 598.72 L84.29 599.04 L87.77 599.42 L91.24 598.66 L94.72 598.96 L98.2 599.6 L101.67 599.12 L105.15 598.96 L108.63 598.64 L112.1 598.13 L115.58 596.88 L119.06 598.35 L122.53 596.52 L126.01 597.17 L129.49 596.52 L132.96 596.17 L136.44 595.72 L139.92 594.84 L143.39 595.09 L146.87 593.24 L150.35 593.97 L153.82 591.86 L157.3 593.01 L160.78 591.3 L164.25 591.12 L167.73 591.06 L171.21 588.03 L174.68 588.41 L178.16 588.16 L181.64 587.48 L185.11 586.79 L188.59 585.19 L192.07 583.87 L195.54 582.27 L199.02 580.98 L202.5 579.41 L205.97 578.5 L209.45 576.29 L212.93 574.85 L216.4 573.67 L219.88 571.65 L223.36 568.94 L226.83 567.36 L230.31 566.16 L233.79 563.43 L237.26 560.64 L240.74 559.05 L244.22 557.94 L247.69 555.4 L251.17 553.49 L254.65 552.61 L258.12 549.71 L261.6 550.27 L265.08 546.72 L268.55 544.41 L272.03 543.98 L275.51 539.56 L278.98 537.77 L282.46 535.82 L285.94 532.85 L289.41 530.83 L292.89 528.84 L296.37 525.63 L299.84 522.01 L303.32 519.31 L306.8 516.64 L310.27 512.61 L313.75 504.72 L317.23 501.78 L320.7 496.22 L324.18 490.94 L327.66 482.58 L331.13 473.89 L334.61 464.77 L338.09 453.62 L341.56 443.68 L345.04 426.5 L348.52 402.06 L351.99 372.89 L355.47 338.72 L358.95 291.59 L362.42 236.88 L365.9 175.4 L369.38 123.93 L372.85 86.38 L376.33 91.1 L379.81 122.75 L383.28 186.29 L386.76 259.17 L390.24 329.44 L393.71 397.87 L397.19 451.28 L400.67 486.42 L404.14 506.56 L407.62 521.15 L411.1 533.41 L414.57 542.06 L418.05 548.91 L421.53 554.03 L425 559.39 L428.48 565.4 L431.96 567.99 L435.43 571.43 L438.91 573.44 L442.39 576.22 L445.86 578.64 L449.34 580.65 L452.82 582.32 L456.29 584.24 L459.77 585.21 L463.25 587.11 L466.72 587.27 L470.2 588.94 L473.68 590.3 L477.15 589.93 L480.63 591.74 L484.11 592.09 L487.58 591.71 L491.06 591.93 L494.54 592.43 L498.01 593.22 L501.49 594.44 L504.97 594.75 L508.44 595.67 L511.92 596.6 L515.4 595.19 L518.87 594.49 L522.35 595.05 L525.83 594.93 L529.3 595.94 L532.78 596.21 L536.26 597.47 L539.73 595.93 L543.21 596.84 L546.69 596.96 L550.16 597.15 L553.64 596.99 L557.12 598.72 L560.59 597.42 L564.07 597.63 L567.55 598.11 L571.02 597.89 L574.5 598.9" fill="none" stroke="#d8167f" stroke-width="1.2" stroke-linejoin="round"/>
<path d="M51.52 599.94a1.48 1.85 0 1 0 2.96 0a1.48 1.85 0 1 0 -2.96 0M55 600.6a1.48 1.85 0 1 0 2.96 0a1.48 1.85 0 1 0 -2.96 0M58.47 600.76a1.48 1.85 0 1 0 2.96 0a1.48 1.85 0 1 0 -2.96 0M61.95 600.68a1.48 1.85 0 1 0 2.96 0a1.48 1.85 0 1 0 -2.96 0M65.43 601.06a1.48 1.85 0 1 0 2.96 0a1.48 1.85 0 1 0 -2.96 0M68.9 599.65a1.48 1.85 0 1 0 2.96 0a1.48 1.85 0 1 0 -2.96 0M72.38 600.11a1.48 1.85 0 1 0 2.96 0a1.48 1.85 0 1 0 -2.96 0M75.86 599.46a1.48 1.85 0 1 0 2.96 0a1.48 1.85 0 1 0 -2.96 0M79.33 598.72a1.48 1.85 0 1 0 2.96 0a1.48 1.85 0 1 0 -2.96 0M82.81 599.04a1.48 1.85 0 1 0 2.96 0a1.48 1.85 0 1 0 -2.96 0M86.29 599.42a1.48 1.85 0 1 0 2.96 0a1.48 1.85 0 1 0 -2.96 0M89.76 598.66a1.48 1.85 0 1 0 2.96 0a1.48 1.85 0 1 0 -2.96 0M93.24 598.96a1.48 1.85 0 1 0 2.96 0a1.48 1.85 0 1 0 -2.96 0M96.72 599.6a1.48 1.85 0 1 0 2.96 0a1.48 1.85 0 1 0 -2.96 0M100.19 599.12a1.48 1.85 0 1 0 2.96 0a1.48 1.85 0 1 0 -2.96 0M103.67 598.96a1.48 1.85 0 1 0 2.96 0a1.48 1.85 0 1 0 -2.96 0M107.15 598.64a1.48 1.85 0 1 0 2.96 0a1.48 1.85 0 1 0 -2.96 0M110.62 598.13a1.48 1.85 0 1 0 2.96 0a1.48 1.85 0 1 0 -2.96 0M114.1 596.88a1.48 1.85 0 1 0 2.96 0a1.48 1.85 0 1 0 -2.96 0M117.58 598.35a1.48 1.85 0 1 0 2.96 0a1.48 1.85 0 1 0 -2.96 0M121.05 596.52a1.48 1.85 0 1 0 2.96 0a1.48 1.85 0 1 0 -2.96 0M124.53 597.17a1.48 1.85 0 1 0 2.96 0a1.48 1.85 0 1 0 -2.96 0M128.01 596.52a1.48 1.85 0 1 0 2.96 0a1.48 1.85 0 1 0 -2.96 0M131.48 596.17a1.48 1.85 0 1 0 2.96 0a1.48 1.85 0 1 0 -2.96 0M134.96 595.72a1.48 1.85 0 1 0 2.96 0a1.48 1.85 0 1 0 -2.96 0M138.44 594.84a1.48 1.85 0 1 0 2.96 0a1.48 1.85 0 1 0 -2.96 0M141.91 595.09a1.48 1.85 0 1 0 2.96 0a1.48 1.85 0 1 0 -2.96 0M145.39 593.24a1.48 1.85 0 1 0 2.96 0a1.48 1.85 0 1 0 -2.96 0M148.87 593.97a1.48 1.85 0 1 0 2.96 0a1.48 1.85 0 1 0 -2.96 0M152.34 591.86a1.48 1.85 0 1 0 2.96 0a1.48 1.85 0 1 0 -2.96 0M155.82 593.01a1.48 1.85 0 1 0 2.96 0a1.48 1.85 0 1 0 -2.96 0M159.3 591.3a1.48 1.85 0 1 0 2.96 0a1.48 1.85 0 1 0 -2.96 0M162.77 591.12a1.48 1.85 0 1 0 2.96 0a1.48 1.85 0 1 0 -2.96 0M166.25 591.06a1.48 1.85 0 1 0 2.96 0a1.48 1.85 0 1 0 -2.96 0M169.73 588.03a1.48 1.85 0 1 0 2.96 0a1.48 1.85 0 1 0 -2.96 0M173.2 588.41a1.48 1.85 0 1 0 2.96 0a1.48 1.85 0 1 0 -2.96 0M176.68 588.16a1.48 1.85 0 1 0 2.96 0a1.48 1.85 0 1 0 -2.96 0M180.16 587.48a1.48 1.85 0 1 0 2.96 0a1.48 1.85 0 1 0 -2.96 0M183.63 586.79a1.48 1.85 0 1 0 2.96 0a1.48 1.85 0 1 0 -2.96 0M187.11 585.19a1.48 1.85 0 1 0 2.96 0a1.48 1.85 0 1 0 -2.96 0M190.59 583.87a1.48 1.85 0 1 0 2.96 0a1.48 1.85 0 1 0 -2.96 0M194.06 582.27a1.48 1.85 0 1 0 2.96 0a1.48 1.85 0 1 0 -2.96 0M197.54 580.98a1.48 1.85 0 1 0 2.96 0a1.48 1.85 0 1 0 -2.96 0M201.02 579.41a1.48 1.85 0 1 0 2.96 0a1.48 1.85 0 1 0 -2.96 0M204.49 578.5a1.48 1.85 0 1 0 2.96 0a1.48 1.85 0 1 0 -2.96 0M207.97 576.29a1.48 1.85 0 1 0 2.96 0a1.48 1.85 0 1 0 -2.96 0M211.45 574.85a1.48 1.85 0 1 0 2.96 0a1.48 1.85 0 1 0 -2.96 0M214.92 573.67a1.48 1.85 0 1 0 2.96 0a1.48 1.85 0 1 0 -2.96 0M218.4 571.65a1.48 1.85 0 1 0 2.96 0a1.48 1.85 0 1 0 -2.96 0M221.88 568.94a1.48 1.85 0 1 0 2.96 0a1.48 1.85 0 1 0 -2.96 0M225.35 567.36a1.48 1.85 0 1 0 2.96 0a1.48 1.85 0 1 0 -2.96 0M228.83 566.16a1.48 1.85 0 1 0 2.96 0a1.48 1.85 0 1 0 -2.96 0M232.31 563.43a1.48 1.85 0 1 0 2.96 0a1.48 1.85 0 1 0 -2.96 0M235.78 560.64a1.48 1.85 0 1 0 2.96 0a1.48 1.85 0 1 0 -2.96 0M239.26 559.05a1.48 1.85 0 1 0 2.96 0a1.48 1.85 0 1 0 -2.96 0M242.74 557.94a1.48 1.85 0 1 0 2.96 0a1.48 1.85 0 1 0 -2.96 0M246.21 555.4a1.48 1.85 0 1 0 2.96 0a1.48 1.85 0 1 0 -2.96 0M249.69 553.49a1.48 1.85 0 1 0 2.96 0a1.48 1.85 0 1 0 -2.96 0M253.17 552.61a1.48 1.85 0 1 0 2.96 0a1.48 1.85 0 1 0 -2.96 0M256.64 549.71a1.48 1.85 0 1 0 2.96 0a1.48 1.85 0 1 0 -2.96 0M260.12 550.27a1.48 1.85 0 1 0 2.96 0a1.48 1.85 0 1 0 -2.96 0M263.6 546.72a1.48 1.85 0 1 0 2.96 0a1.48 1.85 0 1 0 -2.96 0M267.07 544.41a1.48 1.85 0 1 0 2.96 0a1.48 1.85 0 1 0 -2.96 0M270.55 543.98a1.48 1.85 0 1 0 2.96 0a1.48 1.85 0 1 0 -2.96 0M274.03 539.56a1.48 1.85 0 1 0 2.96 0a1.48 1.85 0 1 0 -2.96 0M277.5 537.77a1.48 1.85 0 1 0 2.96 0a1.48 1.85 0 1 0 -2.96 0M280.98 535.82a1.48 1.85 0 1 0 2.96 0a1.48 1.85 0 1 0 -2.96 0M284.46 532.85a1.48 1.85 0 1 0 2.96 0a1.48 1.85 0 1 0 -2.96 0M287.93 530.83a1.48 1.85 0 1 0 2.96 0a1.48 1.85 0 1 0 -2.96 0M291.41 528.84a1.48 1.85 0 1 0 2.96 0a1.48 1.85 0 1 0 -2.96 0M294.89 525.63a1.48 1.85 0 1 0 2.96 0a1.48 1.85 0 1 0 -2.96 0M298.36 522.01a1.48 1.85 0 1 0 2.96 0a1.48 1.85 0 1 0 -2.96 0M301.84 519.31a1.48 1.85 0 1 0 2.96 0a1.48 1.85 0 1 0 -2.96 0M305.32 516.64a1.48 1.85 0 1 0 2.96 0a1.48 1.85 0 1 0 -2.96 0M308.79 512.61a1.48 1.85 0 1 0 2.96 0a1.48 1.85 0 1 0 -2.96 0M312.27 504.72a1.48 1.85 0 1 0 2.96 0a1.48 1.85 0 1 0 -2.96 0M315.75 501.78a1.48 1.85 0 1 0 2.96 0a1.48 1.85 0 1 0 -2.96 0M319.22 496.22a1.48 1.85 0 1 0 2.96 0a1.48 1.85 0 1 0 -2.96 0M322.7 490.94a1.48 1.85 0 1 0 2.96 0a1.48 1.85 0 1 0 -2.96 0M326.18 482.58a1.48 1.85 0 1 0 2.96 0a1.48 1.85 0 1 0 -2.96 0M329.65 473.89a1.48 1.85 0 1 0 2.96 0a1.48 1.85 0 1 0 -2.96 0M333.13 464.77a1.48 1.85 0 1 0 2.96 0a1.48 1.85 0 1 0 -2.96 0M336.61 453.62a1.48 1.85 0 1 0 2.96 0a1.48 1.85 0 1 0 -2.96 0M340.08 443.68a1.48 1.85 0 1 0 2.96 0a1.48 1.85 0 1 0 -2.96 0M343.56 426.5a1.48 1.85 0 1 0 2.96 0a1.48 1.85 0 1 0 -2.96 0M347.04 402.06a1.48 1.85 0 1 0 2.96 0a1.48 1.85 0 1 0 -2.96 0M350.51 372.89a1.48 1.85 0 1 0 2.96 0a1.48 1.85 0 1 0 -2.96 0M353.99 338.72a1.48 1.85 0 1 0 2.96 0a1.48 1.85 0 1 0 -2.96 0M357.47 291.59a1.48 1.85 0 1 0 2.96 0a1.48 1.85 0 1 0 -2.96 0M360.94 236.88a1.48 1.85 0 1 0 2.96 0a1.48 1.85 0 1 0 -2.96 0M364.42 175.4a1.48 1.85 0 1 0 2.96 0a1.48 1.85 0 1 0 -2.96 0M367.9 123.93a1.48 1.85 0 1 0 2.96 0a1.48 1.85 0 1 0 -2.96 0M371.37 86.38a1.48 1.85 0 1 0 2.96 0a1.48 1.85 0 1 0 -2.96 0M374.85 91.1a1.48 1.85 0 1 0 2.96 0a1.48 1.85 0 1 0 -2.96 0M378.33 122.75a1.48 1.85 0 1 0 2.96 0a1.48 1.85 0 1 0 -2.96 0M381.8 186.29a1.48 1.85 0 1 0 2.96 0a1.48 1.85 0 1 0 -2.96 0M385.28 259.17a1.48 1.85 0 1 0 2.96 0a1.48 1.85 0 1 0 -2.96 0M388.76 329.44a1.48 1.85 0 1 0 2.96 0a1.48 1.85 0 1 0 -2.96 0M392.23 397.87a1.48 1.85 0 1 0 2.96 0a1.48 1.85 0 1 0 -2.96 0M395.71 451.28a1.48 1.85 0 1 0 2.96 0a1.48 1.85 0 1 0 -2.96 0M399.19 486.42a1.48 1.85 0 1 0 2.96 0a1.48 1.85 0 1 0 -2.96 0M402.66 506.56a1.48 1.85 0 1 0 2.96 0a1.48 1.85 0 1 0 -2.96 0M406.14 521.15a1.48 1.85 0 1 0 2.96 0a1.48 1.85 0 1 0 -2.96 0M409.62 533.41a1.48 1.85 0 1 0 2.96 0a1.48 1.85 0 1 0 -2.96 0M413.09 542.06a1.48 1.85 0 1 0 2.96 0a1.48 1.85 0 1 0 -2.96 0M416.57 548.91a1.48 1.85 0 1 0 2.96 0a1.48 1.85 0 1 0 -2.96 0M420.05 554.03a1.48 1.85 0 1 0 2.96 0a1.48 1.85 0 1 0 -2.96 0M423.52 559.39a1.48 1.85 0 1 0 2.96 0a1.48 1.85 0 1 0 -2.96 0M427 565.4a1.48 1.85 0 1 0 2.96 0a1.48 1.85 0 1 0 -2.96 0M430.48 567.99a1.48 1.85 0 1 0 2.96 0a1.48 1.85 0 1 0 -2.96 0M433.95 571.43a1.48 1.85 0 1 0 2.96 0a1.48 1.85 0 1 0 -2.96 0M437.43 573.44a1.48 1.85 0 1 0 2.96 0a1.48 1.85 0 1 0 -2.96 0M440.91 576.22a1.48 1.85 0 1 0 2.96 0a1.48 1.85 0 1 0 -2.96 0M444.38 578.64a1.48 1.85 0 1 0 2.96 0a1.48 1.85 0 1 0 -2.96 0M447.86 580.65a1.48 1.85 0 1 0 2.96 0a1.48 1.85 0 1 0 -2.96 0M451.34 582.32a1.48 1.85 0 1 0 2.96 0a1.48 1.85 0 1 0 -2.96 0M454.81 584.24a1.48 1.85 0 1 0 2.96 0a1.48 1.85 0 1 0 -2.96 0M458.29 585.21a1.48 1.85 0 1 0 2.96 0a1.48 1.85 0 1 0 -2.96 0M461.77 587.11a1.48 1.85 0 1 0 2.96 0a1.48 1.85 0 1 0 -2.96 0M465.24 587.27a1.48 1.85 0 1 0 2.96 0a1.48 1.85 0 1 0 -2.96 0M468.72 588.94a1.48 1.85 0 1 0 2.96 0a1.48 1.85 0 1 0 -2.96 0M472.2 590.3a1.48 1.85 0 1 0 2.96 0a1.48 1.85 0 1 0 -2.96 0M475.67 589.93a1.48 1.85 0 1 0 2.96 0a1.48 1.85 0 1 0 -2.96 0M479.15 591.74a1.48 1.85 0 1 0 2.96 0a1.48 1.85 0 1 0 -2.96 0M482.63 592.09a1.48 1.85 0 1 0 2.96 0a1.48 1.85 0 1 0 -2.96 0M486.1 591.71a1.48 1.85 0 1 0 2.96 0a1.48 1.85 0 1 0 -2.96 0M489.58 591.93a1.48 1.85 0 1 0 2.96 0a1.48 1.85 0 1 0 -2.96 0M493.06 592.43a1.48 1.85 0 1 0 2.96 0a1.48 1.85 0 1 0 -2.96 0M496.53 593.22a1.48 1.85 0 1 0 2.96 0a1.48 1.85 0 1 0 -2.96 0M500.01 594.44a1.48 1.85 0 1 0 2.96 0a1.48 1.85 0 1 0 -2.96 0M503.49 594.75a1.48 1.85 0 1 0 2.96 0a1.48 1.85 0 1 0 -2.96 0M506.96 595.67a1.48 1.85 0 1 0 2.96 0a1.48 1.85 0 1 0 -2.96 0M510.44 596.6a1.48 1.85 0 1 0 2.96 0a1.48 1.85 0 1 0 -2.96 0M513.92 595.19a1.48 1.85 0 1 0 2.96 0a1.48 1.85 0 1 0 -2.96 0M517.39 594.49a1.48 1.85 0 1 0 2.96 0a1.48 1.85 0 1 0 -2.96 0M520.87 595.05a1.48 1.85 0 1 0 2.96 0a1.48 1.85 0 1 0 -2.96 0M524.35 594.93a1.48 1.85 0 1 0 2.96 0a1.48 1.85 0 1 0 -2.96 0M527.82 595.94a1.48 1.85 0 1 0 2.96 0a1.48 1.85 0 1 0 -2.96 0M531.3 596.21a1.48 1.85 0 1 0 2.96 0a1.48 1.85 0 1 0 -2.96 0M534.78 597.47a1.48 1.85 0 1 0 2.96 0a1.48 1.85 0 1 0 -2.96 0M538.25 595.93a1.48 1.85 0 1 0 2.96 0a1.48 1.85 0 1 0 -2.96 0M541.73 596.84a1.48 1.85 0 1 0 2.96 0a1.48 1.85 0 1 0 -2.96 0M545.21 596.96a1.48 1.85 0 1 0 2.96 0a1.48 1.85 0 1 0 -2.96 0M548.68 597.15a1.48 1.85 0 1 0 2.96 0a1.48 1.85 0 1 0 -2.96 0M552.16 596.99a1.48 1.85 0 1 0 2.96 0a1.48 1.85 0 1 0 -2.96 0M555.64 598.72a1.48 1.85 0 1 0 2.96 0a1.48 1.85 0 1 0 -2.96 0M559.11 597.42a1.48 1.85 0 1 0 2.96 0a1.48 1.85 0 1 0 -2.96 0M562.59 597.63a1.48 1.85 0 1 0 2.96 0a1.48 1.85 0 1 0 -2.96 0M566.07 598.11a1.48 1.85 0 1 0 2.96 0a1.48 1.85 0 1 0 -2.96 0M569.54 597.89a1.48 1.85 0 1 0 2.96 0a1.48 1.85 0 1 0 -2.96 0M573.02 598.9a1.48 1.85 0 1 0 2.96 0a1.48 1.85 0 1 0 -2.96 0" fill="#d8167f"/>
<path d="M53 601.25 L56.48 600.52 L59.95 599.69 L63.43 599 L66.91 598.37 L70.38 599.91 L73.86 599.11 L77.34 598.96 L80.81 599.4 L84.29 599.43 L87.77 597.41 L91.24 600.01 L94.72 597.36 L98.2 600.53 L101.67 599.3 L105.15 598.23 L108.63 599.6 L112.1 598.27 L115.58 598.62 L119.06 597.86 L122.53 598.4 L126.01 597.98 L129.49 595.83 L132.96 595.59 L136.44 595.89 L139.92 594.89 L143.39 592.59 L146.87 595.81 L150.35 591.63 L153.82 591.13 L157.3 591.21 L160.78 592.15 L164.25 592.51 L167.73 589.96 L171.21 589.07 L174.68 588.81 L178.16 587.53 L181.64 587.05 L185.11 584.98 L188.59 585.27 L192.07 583.96 L195.54 580.08 L199.02 580.79 L202.5 579.59 L205.97 578.45 L209.45 575.53 L212.93 573.28 L216.4 571.84 L219.88 571.5 L223.36 568.49 L226.83 566.84 L230.31 566.89 L233.79 563.26 L237.26 561.18 L240.74 559.82 L244.22 557.95 L247.69 556.75 L251.17 553.1 L254.65 550.78 L258.12 550.59 L261.6 549.6 L265.08 545.53 L268.55 544.5 L272.03 543.21 L275.51 541 L278.98 538.67 L282.46 536.13 L285.94 533.3 L289.41 530.75 L292.89 530.34 L296.37 525.13 L299.84 524.28 L303.32 518.19 L306.8 519.53 L310.27 510.85 L313.75 509.72 L317.23 501.49 L320.7 497.56 L324.18 492.98 L327.66 485.49 L331.13 480.3 L334.61 469.03 L338.09 458 L341.56 449.06 L345.04 433.64 L348.52 409.77 L351.99 386.26 L355.47 352.31 L358.95 310.35 L362.42 257.78 L365.9 197.8 L369.38 138.84 L372.85 95.87 L376.33 82.28 L379.81 105.21 L383.28 159.46 L386.76 229.91 L390.24 305.11 L393.71 378.98 L397.19 435.25 L400.67 476.62 L404.14 501.43 L407.62 517.63 L411.1 530.29 L414.57 540.65 L418.05 547.06 L421.53 553.25 L425 559.09 L428.48 563.55 L431.96 566.6 L435.43 569.49 L438.91 572.96 L442.39 576.49 L445.86 577.26 L449.34 580.65 L452.82 581.94 L456.29 583.08 L459.77 582.61 L463.25 586.56 L466.72 587.32 L470.2 587.17 L473.68 589.95 L477.15 590.29 L480.63 591.36 L484.11 591.16 L487.58 592.45 L491.06 592.39 L494.54 594.2 L498.01 593.82 L501.49 592.89 L504.97 594.66 L508.44 594.86 L511.92 594.93 L515.4 594.22 L518.87 596.55 L522.35 595.24 L525.83 597.44 L529.3 595.71 L532.78 596.49 L536.26 596.59 L539.73 596.91 L543.21 599.19 L546.69 596.63 L550.16 598.95 L553.64 597.82 L557.12 596.79 L560.59 598.56 L564.07 598.29 L567.55 598.46 L571.02 596.57 L574.5 598.22" fill="none" stroke="#f08c1c" stroke-width="1.2" stroke-linejoin="round"/>
<path d="M51.52 601.25a1.48 1.85 0 1 0 2.96 0a1.48 1.85 0 1 0 -2.96 0M55 600.52a1.48 1.85 0 1 0 2.96 0a1.48 1.85 0 1 0 -2.96 0M58.47 599.69a1.48 1.85 0 1 0 2.96 0a1.48 1.85 0 1 0 -2.96 0M61.95 599a1.48 1.85 0 1 0 2.96 0a1.48 1.85 0 1 0 -2.96 0M65.43 598.37a1.48 1.85 0 1 0 2.96 0a1.48 1.85 0 1 0 -2.96 0M68.9 599.91a1.48 1.85 0 1 0 2.96 0a1.48 1.85 0 1 0 -2.96 0M72.38 599.11a1.48 1.85 0 1 0 2.96 0a1.48 1.85 0 1 0 -2.96 0M75.86 598.96a1.48 1.85 0 1 0 2.96 0a1.48 1.85 0 1 0 -2.96 0M79.33 599.4a1.48 1.85 0 1 0 2.96 0a1.48 1.85 0 1 0 -2.96 0M82.81 599.43a1.48 1.85 0 1 0 2.96 0a1.48 1.85 0 1 0 -2.96 0M86.29 597.41a1.48 1.85 0 1 0 2.96 0a1.48 1.85 0 1 0 -2.96 0M89.76 600.01a1.48 1.85 0 1 0 2.96 0a1.48 1.85 0 1 0 -2.96 0M93.24 597.36a1.48 1.85 0 1 0 2.96 0a1.48 1.85 0 1 0 -2.96 0M96.72 600.53a1.48 1.85 0 1 0 2.96 0a1.48 1.85 0 1 0 -2.96 0M100.19 599.3a1.48 1.85 0 1 0 2.96 0a1.48 1.85 0 1 0 -2.96 0M103.67 598.23a1.48 1.85 0 1 0 2.96 0a1.48 1.85 0 1 0 -2.96 0M107.15 599.6a1.48 1.85 0 1 0 2.96 0a1.48 1.85 0 1 0 -2.96 0M110.62 598.27a1.48 1.85 0 1 0 2.96 0a1.48 1.85 0 1 0 -2.96 0M114.1 598.62a1.48 1.85 0 1 0 2.96 0a1.48 1.85 0 1 0 -2.96 0M117.58 597.86a1.48 1.85 0 1 0 2.96 0a1.48 1.85 0 1 0 -2.96 0M121.05 598.4a1.48 1.85 0 1 0 2.96 0a1.48 1.85 0 1 0 -2.96 0M124.53 597.98a1.48 1.85 0 1 0 2.96 0a1.48 1.85 0 1 0 -2.96 0M128.01 595.83a1.48 1.85 0 1 0 2.96 0a1.48 1.85 0 1 0 -2.96 0M131.48 595.59a1.48 1.85 0 1 0 2.96 0a1.48 1.85 0 1 0 -2.96 0M134.96 595.89a1.48 1.85 0 1 0 2.96 0a1.48 1.85 0 1 0 -2.96 0M138.44 594.89a1.48 1.85 0 1 0 2.96 0a1.48 1.85 0 1 0 -2.96 0M141.91 592.59a1.48 1.85 0 1 0 2.96 0a1.48 1.85 0 1 0 -2.96 0M145.39 595.81a1.48 1.85 0 1 0 2.96 0a1.48 1.85 0 1 0 -2.96 0M148.87 591.63a1.48 1.85 0 1 0 2.96 0a1.48 1.85 0 1 0 -2.96 0M152.34 591.13a1.48 1.85 0 1 0 2.96 0a1.48 1.85 0 1 0 -2.96 0M155.82 591.21a1.48 1.85 0 1 0 2.96 0a1.48 1.85 0 1 0 -2.96 0M159.3 592.15a1.48 1.85 0 1 0 2.96 0a1.48 1.85 0 1 0 -2.96 0M162.77 592.51a1.48 1.85 0 1 0 2.96 0a1.48 1.85 0 1 0 -2.96 0M166.25 589.96a1.48 1.85 0 1 0 2.96 0a1.48 1.85 0 1 0 -2.96 0M169.73 589.07a1.48 1.85 0 1 0 2.96 0a1.48 1.85 0 1 0 -2.96 0M173.2 588.81a1.48 1.85 0 1 0 2.96 0a1.48 1.85 0 1 0 -2.96 0M176.68 587.53a1.48 1.85 0 1 0 2.96 0a1.48 1.85 0 1 0 -2.96 0M180.16 587.05a1.48 1.85 0 1 0 2.96 0a1.48 1.85 0 1 0 -2.96 0M183.63 584.98a1.48 1.85 0 1 0 2.96 0a1.48 1.85 0 1 0 -2.96 0M187.11 585.27a1.48 1.85 0 1 0 2.96 0a1.48 1.85 0 1 0 -2.96 0M190.59 583.96a1.48 1.85 0 1 0 2.96 0a1.48 1.85 0 1 0 -2.96 0M194.06 580.08a1.48 1.85 0 1 0 2.96 0a1.48 1.85 0 1 0 -2.96 0M197.54 580.79a1.48 1.85 0 1 0 2.96 0a1.48 1.85 0 1 0 -2.96 0M201.02 579.59a1.48 1.85 0 1 0 2.96 0a1.48 1.85 0 1 0 -2.96 0M204.49 578.45a1.48 1.85 0 1 0 2.96 0a1.48 1.85 0 1 0 -2.96 0M207.97 575.53a1.48 1.85 0 1 0 2.96 0a1.48 1.85 0 1 0 -2.96 0M211.45 573.28a1.48 1.85 0 1 0 2.96 0a1.48 1.85 0 1 0 -2.96 0M214.92 571.84a1.48 1.85 0 1 0 2.96 0a1.48 1.85 0 1 0 -2.96 0M218.4 571.5a1.48 1.85 0 1 0 2.96 0a1.48 1.85 0 1 0 -2.96 0M221.88 568.49a1.48 1.85 0 1 0 2.96 0a1.48 1.85 0 1 0 -2.96 0M225.35 566.84a1.48 1.85 0 1 0 2.96 0a1.48 1.85 0 1 0 -2.96 0M228.83 566.89a1.48 1.85 0 1 0 2.96 0a1.48 1.85 0 1 0 -2.96 0M232.31 563.26a1.48 1.85 0 1 0 2.96 0a1.48 1.85 0 1 0 -2.96 0M235.78 561.18a1.48 1.85 0 1 0 2.96 0a1.48 1.85 0 1 0 -2.96 0M239.26 559.82a1.48 1.85 0 1 0 2.96 0a1.48 1.85 0 1 0 -2.96 0M242.74 557.95a1.48 1.85 0 1 0 2.96 0a1.48 1.85 0 1 0 -2.96 0M246.21 556.75a1.48 1.85 0 1 0 2.96 0a1.48 1.85 0 1 0 -2.96 0M249.69 553.1a1.48 1.85 0 1 0 2.96 0a1.48 1.85 0 1 0 -2.96 0M253.17 550.78a1.48 1.85 0 1 0 2.96 0a1.48 1.85 0 1 0 -2.96 0M256.64 550.59a1.48 1.85 0 1 0 2.96 0a1.48 1.85 0 1 0 -2.96 0M260.12 549.6a1.48 1.85 0 1 0 2.96 0a1.48 1.85 0 1 0 -2.96 0M263.6 545.53a1.48 1.85 0 1 0 2.96 0a1.48 1.85 0 1 0 -2.96 0M267.07 544.5a1.48 1.85 0 1 0 2.96 0a1.48 1.85 0 1 0 -2.96 0M270.55 543.21a1.48 1.85 0 1 0 2.96 0a1.48 1.85 0 1 0 -2.96 0M274.03 541a1.48 1.85 0 1 0 2.96 0a1.48 1.85 0 1 0 -2.96 0M277.5 538.67a1.48 1.85 0 1 0 2.96 0a1.48 1.85 0 1 0 -2.96 0M280.98 536.13a1.48 1.85 0 1 0 2.96 0a1.48 1.85 0 1 0 -2.96 0M284.46 533.3a1.48 1.85 0 1 0 2.96 0a1.48 1.85 0 1 0 -2.96 0M287.93 530.75a1.48 1.85 0 1 0 2.96 0a1.48 1.85 0 1 0 -2.96 0M291.41 530.34a1.48 1.85 0 1 0 2.96 0a1.48 1.85 0 1 0 -2.96 0M294.89 525.13a1.48 1.85 0 1 0 2.96 0a1.48 1.85 0 1 0 -2.96 0M298.36 524.28a1.48 1.85 0 1 0 2.96 0a1.48 1.85 0 1 0 -2.96 0M301.84 518.19a1.48 1.85 0 1 0 2.96 0a1.48 1.85 0 1 0 -2.96 0M305.32 519.53a1.48 1.85 0 1 0 2.96 0a1.48 1.85 0 1 0 -2.96 0M308.79 510.85a1.48 1.85 0 1 0 2.96 0a1.48 1.85 0 1 0 -2.96 0M312.27 509.72a1.48 1.85 0 1 0 2.96 0a1.48 1.85 0 1 0 -2.96 0M315.75 501.49a1.48 1.85 0 1 0 2.96 0a1.48 1.85 0 1 0 -2.96 0M319.22 497.56a1.48 1.85 0 1 0 2.96 0a1.48 1.85 0 1 0 -2.96 0M322.7 492.98a1.48 1.85 0 1 0 2.96 0a1.48 1.85 0 1 0 -2.96 0M326.18 485.49a1.48 1.85 0 1 0 2.96 0a1.48 1.85 0 1 0 -2.96 0M329.65 480.3a1.48 1.85 0 1 0 2.96 0a1.48 1.85 0 1 0 -2.96 0M333.13 469.03a1.48 1.85 0 1 0 2.96 0a1.48 1.85 0 1 0 -2.96 0M336.61 458a1.48 1.85 0 1 0 2.96 0a1.48 1.85 0 1 0 -2.96 0M340.08 449.06a1.48 1.85 0 1 0 2.96 0a1.48 1.85 0 1 0 -2.96 0M343.56 433.64a1.48 1.85 0 1 0 2.96 0a1.48 1.85 0 1 0 -2.96 0M347.04 409.77a1.48 1.85 0 1 0 2.96 0a1.48 1.85 0 1 0 -2.96 0M350.51 386.26a1.48 1.85 0 1 0 2.96 0a1.48 1.85 0 1 0 -2.96 0M353.99 352.31a1.48 1.85 0 1 0 2.96 0a1.48 1.85 0 1 0 -2.96 0M357.47 310.35a1.48 1.85 0 1 0 2.96 0a1.48 1.85 0 1 0 -2.96 0M360.94 257.78a1.48 1.85 0 1 0 2.96 0a1.48 1.85 0 1 0 -2.96 0M364.42 197.8a1.48 1.85 0 1 0 2.96 0a1.48 1.85 0 1 0 -2.96 0M367.9 138.84a1.48 1.85 0 1 0 2.96 0a1.48 1.85 0 1 0 -2.96 0M371.37 95.87a1.48 1.85 0 1 0 2.96 0a1.48 1.85 0 1 0 -2.96 0M374.85 82.28a1.48 1.85 0 1 0 2.96 0a1.48 1.85 0 1 0 -2.96 0M378.33 105.21a1.48 1.85 0 1 0 2.96 0a1.48 1.85 0 1 0 -2.96 0M381.8 159.46a1.48 1.85 0 1 0 2.96 0a1.48 1.85 0 1 0 -2.96 0M385.28 229.91a1.48 1.85 0 1 0 2.96 0a1.48 1.85 0 1 0 -2.96 0M388.76 305.11a1.48 1.85 0 1 0 2.96 0a1.48 1.85 0 1 0 -2.96 0M392.23 378.98a1.48 1.85 0 1 0 2.96 0a1.48 1.85 0 1 0 -2.96 0M395.71 435.25a1.48 1.85 0 1 0 2.96 0a1.48 1.85 0 1 0 -2.96 0M399.19 476.62a1.48 1.85 0 1 0 2.96 0a1.48 1.85 0 1 0 -2.96 0M402.66 501.43a1.48 1.85 0 1 0 2.96 0a1.48 1.85 0 1 0 -2.96 0M406.14 517.63a1.48 1.85 0 1 0 2.96 0a1.48 1.85 0 1 0 -2.96 0M409.62 530.29a1.48 1.85 0 1 0 2.96 0a1.48 1.85 0 1 0 -2.96 0M413.09 540.65a1.48 1.85 0 1 0 2.96 0a1.48 1.85 0 1 0 -2.96 0M416.57 547.06a1.48 1.85 0 1 0 2.96 0a1.48 1.85 0 1 0 -2.96 0M420.05 553.25a1.48 1.85 0 1 0 2.96 0a1.48 1.85 0 1 0 -2.96 0M423.52 559.09a1.48 1.85 0 1 0 2.96 0a1.48 1.85 0 1 0 -2.96 0M427 563.55a1.48 1.85 0 1 0 2.96 0a1.48 1.85 0 1 0 -2.96 0M430.48 566.6a1.48 1.85 0 1 0 2.96 0a1.48 1.85 0 1 0 -2.96 0M433.95 569.49a1.48 1.85 0 1 0 2.96 0a1.48 1.85 0 1 0 -2.96 0M437.43 572.96a1.48 1.85 0 1 0 2.96 0a1.48 1.85 0 1 0 -2.96 0M440.91 576.49a1.48 1.85 0 1 0 2.96 0a1.48 1.85 0 1 0 -2.96 0M444.38 577.26a1.48 1.85 0 1 0 2.96 0a1.48 1.85 0 1 0 -2.96 0M447.86 580.65a1.48 1.85 0 1 0 2.96 0a1.48 1.85 0 1 0 -2.96 0M451.34 581.94a1.48 1.85 0 1 0 2.96 0a1.48 1.85 0 1 0 -2.96 0M454.81 583.08a1.48 1.85 0 1 0 2.96 0a1.48 1.85 0 1 0 -2.96 0M458.29 582.61a1.48 1.85 0 1 0 2.96 0a1.48 1.85 0 1 0 -2.96 0M461.77 586.56a1.48 1.85 0 1 0 2.96 0a1.48 1.85 0 1 0 -2.96 0M465.24 587.32a1.48 1.85 0 1 0 2.96 0a1.48 1.85 0 1 0 -2.96 0M468.72 587.17a1.48 1.85 0 1 0 2.96 0a1.48 1.85 0 1 0 -2.96 0M472.2 589.95a1.48 1.85 0 1 0 2.96 0a1.48 1.85 0 1 0 -2.96 0M475.67 590.29a1.48 1.85 0 1 0 2.96 0a1.48 1.85 0 1 0 -2.96 0M479.15 591.36a1.48 1.85 0 1 0 2.96 0a1.48 1.85 0 1 0 -2.96 0M482.63 591.16a1.48 1.85 0 1 0 2.96 0a1.48 1.85 0 1 0 -2.96 0M486.1 592.45a1.48 1.85 0 1 0 2.96 0a1.48 1.85 0 1 0 -2.96 0M489.58 592.39a1.48 1.85 0 1 0 2.96 0a1.48 1.85 0 1 0 -2.96 0M493.06 594.2a1.48 1.85 0 1 0 2.96 0a1.48 1.85 0 1 0 -2.96 0M496.53 593.82a1.48 1.85 0 1 0 2.96 0a1.48 1.85 0 1 0 -2.96 0M500.01 592.89a1.48 1.85 0 1 0 2.96 0a1.48 1.85 0 1 0 -2.96 0M503.49 594.66a1.48 1.85 0 1 0 2.96 0a1.48 1.85 0 1 0 -2.96 0M506.96 594.86a1.48 1.85 0 1 0 2.96 0a1.48 1.85 0 1 0 -2.96 0M510.44 594.93a1.48 1.85 0 1 0 2.96 0a1.48 1.85 0 1 0 -2.96 0M513.92 594.22a1.48 1.85 0 1 0 2.96 0a1.48 1.85 0 1 0 -2.96 0M517.39 596.55a1.48 1.85 0 1 0 2.96 0a1.48 1.85 0 1 0 -2.96 0M520.87 595.24a1.48 1.85 0 1 0 2.96 0a1.48 1.85 0 1 0 -2.96 0M524.35 597.44a1.48 1.85 0 1 0 2.96 0a1.48 1.85 0 1 0 -2.96 0M527.82 595.71a1.48 1.85 0 1 0 2.96 0a1.48 1.85 0 1 0 -2.96 0M531.3 596.49a1.48 1.85 0 1 0 2.96 0a1.48 1.85 0 1 0 -2.96 0M534.78 596.59a1.48 1.85 0 1 0 2.96 0a1.48 1.85 0 1 0 -2.96 0M538.25 596.91a1.48 1.85 0 1 0 2.96 0a1.48 1.85 0 1 0 -2.96 0M541.73 599.19a1.48 1.85 0 1 0 2.96 0a1.48 1.85 0 1 0 -2.96 0M545.21 596.63a1.48 1.85 0 1 0 2.96 0a1.48 1.85 0 1 0 -2.96 0M548.68 598.95a1.48 1.85 0 1 0 2.96 0a1.48 1.85 0 1 0 -2.96 0M552.16 597.82a1.48 1.85 0 1 0 2.96 0a1.48 1.85 0 1 0 -2.96 0M555.64 596.79a1.48 1.85 0 1 0 2.96 0a1.48 1.85 0 1 0 -2.96 0M559.11 598.56a1.48 1.85 0 1 0 2.96 0a1.48 1.85 0 1 0 -2.96 0M562.59 598.29a1.48 1.85 0 1 0 2.96 0a1.48 1.85 0 1 0 -2.96 0M566.07 598.46a1.48 1.85 0 1 0 2.96 0a1.48 1.85 0 1 0 -2.96 0M569.54 596.57a1.48 1.85 0 1 0 2.96 0a1.48 1.85 0 1 0 -2.96 0M573.02 598.22a1.48 1.85 0 1 0 2.96 0a1.48 1.85 0 1 0 -2.96 0" fill="#f08c1c"/>
<path d="M53 600.04 L56.48 599.54 L59.95 600.54 L63.43 599.39 L66.91 601.18 L70.38 600.43 L73.86 599.57 L77.34 600.02 L80.81 600.54 L84.29 601.16 L87.77 598.78 L91.24 599.85 L94.72 599.38 L98.2 598.76 L101.67 599.43 L105.15 598.91 L108.63 599.08 L112.1 597.91 L115.58 598 L119.06 597.98 L122.53 597.44 L126.01 597.05 L129.49 596.11 L132.96 596.16 L136.44 595.67 L139.92 595 L143.39 594.52 L146.87 594.44 L150.35 593.07 L153.82 593.32 L157.3 592.18 L160.78 591.64 L164.25 590.77 L167.73 590.67 L171.21 589.83 L174.68 588.6 L178.16 587.52 L181.64 588.08 L185.11 586.27 L188.59 584.08 L192.07 583.53 L195.54 582.12 L199.02 581.26 L202.5 579.21 L205.97 577.37 L209.45 577.04 L212.93 573.1 L216.4 571.68 L219.88 570.52 L223.36 568.81 L226.83 567.34 L230.31 565.65 L233.79 564.52 L237.26 560.84 L240.74 561.75 L244.22 557.98 L247.69 554.99 L251.17 553.33 L254.65 551.73 L258.12 548.87 L261.6 548.94 L265.08 545.89 L268.55 544.23 L272.03 541.71 L275.51 539.89 L278.98 538.11 L282.46 534.91 L285.94 534.63 L289.41 530.1 L292.89 528 L296.37 525.44 L299.84 522.47 L303.32 518.67 L306.8 515.15 L310.27 511.71 L313.75 506.58 L317.23 499.82 L320.7 495.96 L324.18 489.96 L327.66 482.3 L331.13 474.04 L334.61 464.33 L338.09 454.85 L341.56 442.54 L345.04 424.74 L348.52 401.92 L351.99 373.16 L355.47 334.4 L358.95 291.26 L362.42 233.6 L365.9 173.02 L369.38 118.68 L372.85 80.94 L376.33 83.89 L379.81 122.51 L383.28 180.42 L386.76 255.54 L390.24 332.4 L393.71 397.95 L397.19 450.79 L400.67 487.23 L404.14 507.53 L407.62 521.32 L411.1 533.12 L414.57 541.93 L418.05 548.71 L421.53 555.62 L425 559.77 L428.48 564.14 L431.96 568.34 L435.43 571.17 L438.91 573.28 L442.39 575.71 L445.86 577.64 L449.34 581.3 L452.82 583.4 L456.29 583.53 L459.77 583.57 L463.25 586.48 L466.72 588.29 L470.2 588.48 L473.68 590.18 L477.15 590.94 L480.63 590.87 L484.11 591.73 L487.58 591.85 L491.06 592.71 L494.54 592.75 L498.01 593.53 L501.49 595.14 L504.97 594.4 L508.44 595.58 L511.92 595.41 L515.4 594.57 L518.87 595.67 L522.35 595.68 L525.83 595.42 L529.3 596.07 L532.78 597.27 L536.26 597.43 L539.73 596.6 L543.21 596.55 L546.69 597.09 L550.16 597.44 L553.64 598.13 L557.12 597.08 L560.59 596.96 L564.07 597.58 L567.55 596.48 L571.02 597.67 L574.5 598.08" fill="none" stroke="#dc1c22" stroke-width="1.2" stroke-linejoin="round"/>
<path d="M51.52 600.04a1.48 1.85 0 1 0 2.96 0a1.48 1.85 0 1 0 -2.96 0M55 599.54a1.48 1.85 0 1 0 2.96 0a1.48 1.85 0 1 0 -2.96 0M58.47 600.54a1.48 1.85 0 1 0 2.96 0a1.48 1.85 0 1 0 -2.96 0M61.95 599.39a1.48 1.85 0 1 0 2.96 0a1.48 1.85 0 1 0 -2.96 0M65.43 601.18a1.48 1.85 0 1 0 2.96 0a1.48 1.85 0 1 0 -2.96 0M68.9 600.43a1.48 1.85 0 1 0 2.96 0a1.48 1.85 0 1 0 -2.96 0M72.38 599.57a1.48 1.85 0 1 0 2.96 0a1.48 1.85 0 1 0 -2.96 0M75.86 600.02a1.48 1.85 0 1 0 2.96 0a1.48 1.85 0 1 0 -2.96 0M79.33 600.54a1.48 1.85 0 1 0 2.96 0a1.48 1.85 0 1 0 -2.96 0M82.81 601.16a1.48 1.85 0 1 0 2.96 0a1.48 1.85 0 1 0 -2.96 0M86.29 598.78a1.48 1.85 0 1 0 2.96 0a1.48 1.85 0 1 0 -2.96 0M89.76 599.85a1.48 1.85 0 1 0 2.96 0a1.48 1.85 0 1 0 -2.96 0M93.24 599.38a1.48 1.85 0 1 0 2.96 0a1.48 1.85 0 1 0 -2.96 0M96.72 598.76a1.48 1.85 0 1 0 2.96 0a1.48 1.85 0 1 0 -2.96 0M100.19 599.43a1.48 1.85 0 1 0 2.96 0a1.48 1.85 0 1 0 -2.96 0M103.67 598.91a1.48 1.85 0 1 0 2.96 0a1.48 1.85 0 1 0 -2.96 0M107.15 599.08a1.48 1.85 0 1 0 2.96 0a1.48 1.85 0 1 0 -2.96 0M110.62 597.91a1.48 1.85 0 1 0 2.96 0a1.48 1.85 0 1 0 -2.96 0M114.1 598a1.48 1.85 0 1 0 2.96 0a1.48 1.85 0 1 0 -2.96 0M117.58 597.98a1.48 1.85 0 1 0 2.96 0a1.48 1.85 0 1 0 -2.96 0M121.05 597.44a1.48 1.85 0 1 0 2.96 0a1.48 1.85 0 1 0 -2.96 0M124.53 597.05a1.48 1.85 0 1 0 2.96 0a1.48 1.85 0 1 0 -2.96 0M128.01 596.11a1.48 1.85 0 1 0 2.96 0a1.48 1.85 0 1 0 -2.96 0M131.48 596.16a1.48 1.85 0 1 0 2.96 0a1.48 1.85 0 1 0 -2.96 0M134.96 595.67a1.48 1.85 0 1 0 2.96 0a1.48 1.85 0 1 0 -2.96 0M138.44 595a1.48 1.85 0 1 0 2.96 0a1.48 1.85 0 1 0 -2.96 0M141.91 594.52a1.48 1.85 0 1 0 2.96 0a1.48 1.85 0 1 0 -2.96 0M145.39 594.44a1.48 1.85 0 1 0 2.96 0a1.48 1.85 0 1 0 -2.96 0M148.87 593.07a1.48 1.85 0 1 0 2.96 0a1.48 1.85 0 1 0 -2.96 0M152.34 593.32a1.48 1.85 0 1 0 2.96 0a1.48 1.85 0 1 0 -2.96 0M155.82 592.18a1.48 1.85 0 1 0 2.96 0a1.48 1.85 0 1 0 -2.96 0M159.3 591.64a1.48 1.85 0 1 0 2.96 0a1.48 1.85 0 1 0 -2.96 0M162.77 590.77a1.48 1.85 0 1 0 2.96 0a1.48 1.85 0 1 0 -2.96 0M166.25 590.67a1.48 1.85 0 1 0 2.96 0a1.48 1.85 0 1 0 -2.96 0M169.73 589.83a1.48 1.85 0 1 0 2.96 0a1.48 1.85 0 1 0 -2.96 0M173.2 588.6a1.48 1.85 0 1 0 2.96 0a1.48 1.85 0 1 0 -2.96 0M176.68 587.52a1.48 1.85 0 1 0 2.96 0a1.48 1.85 0 1 0 -2.96 0M180.16 588.08a1.48 1.85 0 1 0 2.96 0a1.48 1.85 0 1 0 -2.96 0M183.63 586.27a1.48 1.85 0 1 0 2.96 0a1.48 1.85 0 1 0 -2.96 0M187.11 584.08a1.48 1.85 0 1 0 2.96 0a1.48 1.85 0 1 0 -2.96 0M190.59 583.53a1.48 1.85 0 1 0 2.96 0a1.48 1.85 0 1 0 -2.96 0M194.06 582.12a1.48 1.85 0 1 0 2.96 0a1.48 1.85 0 1 0 -2.96 0M197.54 581.26a1.48 1.85 0 1 0 2.96 0a1.48 1.85 0 1 0 -2.96 0M201.02 579.21a1.48 1.85 0 1 0 2.96 0a1.48 1.85 0 1 0 -2.96 0M204.49 577.37a1.48 1.85 0 1 0 2.96 0a1.48 1.85 0 1 0 -2.96 0M207.97 577.04a1.48 1.85 0 1 0 2.96 0a1.48 1.85 0 1 0 -2.96 0M211.45 573.1a1.48 1.85 0 1 0 2.96 0a1.48 1.85 0 1 0 -2.96 0M214.92 571.68a1.48 1.85 0 1 0 2.96 0a1.48 1.85 0 1 0 -2.96 0M218.4 570.52a1.48 1.85 0 1 0 2.96 0a1.48 1.85 0 1 0 -2.96 0M221.88 568.81a1.48 1.85 0 1 0 2.96 0a1.48 1.85 0 1 0 -2.96 0M225.35 567.34a1.48 1.85 0 1 0 2.96 0a1.48 1.85 0 1 0 -2.96 0M228.83 565.65a1.48 1.85 0 1 0 2.96 0a1.48 1.85 0 1 0 -2.96 0M232.31 564.52a1.48 1.85 0 1 0 2.96 0a1.48 1.85 0 1 0 -2.96 0M235.78 560.84a1.48 1.85 0 1 0 2.96 0a1.48 1.85 0 1 0 -2.96 0M239.26 561.75a1.48 1.85 0 1 0 2.96 0a1.48 1.85 0 1 0 -2.96 0M242.74 557.98a1.48 1.85 0 1 0 2.96 0a1.48 1.85 0 1 0 -2.96 0M246.21 554.99a1.48 1.85 0 1 0 2.96 0a1.48 1.85 0 1 0 -2.96 0M249.69 553.33a1.48 1.85 0 1 0 2.96 0a1.48 1.85 0 1 0 -2.96 0M253.17 551.73a1.48 1.85 0 1 0 2.96 0a1.48 1.85 0 1 0 -2.96 0M256.64 548.87a1.48 1.85 0 1 0 2.96 0a1.48 1.85 0 1 0 -2.96 0M260.12 548.94a1.48 1.85 0 1 0 2.96 0a1.48 1.85 0 1 0 -2.96 0M263.6 545.89a1.48 1.85 0 1 0 2.96 0a1.48 1.85 0 1 0 -2.96 0M267.07 544.23a1.48 1.85 0 1 0 2.96 0a1.48 1.85 0 1 0 -2.96 0M270.55 541.71a1.48 1.85 0 1 0 2.96 0a1.48 1.85 0 1 0 -2.96 0M274.03 539.89a1.48 1.85 0 1 0 2.96 0a1.48 1.85 0 1 0 -2.96 0M277.5 538.11a1.48 1.85 0 1 0 2.96 0a1.48 1.85 0 1 0 -2.96 0M280.98 534.91a1.48 1.85 0 1 0 2.96 0a1.48 1.85 0 1 0 -2.96 0M284.46 534.63a1.48 1.85 0 1 0 2.96 0a1.48 1.85 0 1 0 -2.96 0M287.93 530.1a1.48 1.85 0 1 0 2.96 0a1.48 1.85 0 1 0 -2.96 0M291.41 528a1.48 1.85 0 1 0 2.96 0a1.48 1.85 0 1 0 -2.96 0M294.89 525.44a1.48 1.85 0 1 0 2.96 0a1.48 1.85 0 1 0 -2.96 0M298.36 522.47a1.48 1.85 0 1 0 2.96 0a1.48 1.85 0 1 0 -2.96 0M301.84 518.67a1.48 1.85 0 1 0 2.96 0a1.48 1.85 0 1 0 -2.96 0M305.32 515.15a1.48 1.85 0 1 0 2.96 0a1.48 1.85 0 1 0 -2.96 0M308.79 511.71a1.48 1.85 0 1 0 2.96 0a1.48 1.85 0 1 0 -2.96 0M312.27 506.58a1.48 1.85 0 1 0 2.96 0a1.48 1.85 0 1 0 -2.96 0M315.75 499.82a1.48 1.85 0 1 0 2.96 0a1.48 1.85 0 1 0 -2.96 0M319.22 495.96a1.48 1.85 0 1 0 2.96 0a1.48 1.85 0 1 0 -2.96 0M322.7 489.96a1.48 1.85 0 1 0 2.96 0a1.48 1.85 0 1 0 -2.96 0M326.18 482.3a1.48 1.85 0 1 0 2.96 0a1.48 1.85 0 1 0 -2.96 0M329.65 474.04a1.48 1.85 0 1 0 2.96 0a1.48 1.85 0 1 0 -2.96 0M333.13 464.33a1.48 1.85 0 1 0 2.96 0a1.48 1.85 0 1 0 -2.96 0M336.61 454.85a1.48 1.85 0 1 0 2.96 0a1.48 1.85 0 1 0 -2.96 0M340.08 442.54a1.48 1.85 0 1 0 2.96 0a1.48 1.85 0 1 0 -2.96 0M343.56 424.74a1.48 1.85 0 1 0 2.96 0a1.48 1.85 0 1 0 -2.96 0M347.04 401.92a1.48 1.85 0 1 0 2.96 0a1.48 1.85 0 1 0 -2.96 0M350.51 373.16a1.48 1.85 0 1 0 2.96 0a1.48 1.85 0 1 0 -2.96 0M353.99 334.4a1.48 1.85 0 1 0 2.96 0a1.48 1.85 0 1 0 -2.96 0M357.47 291.26a1.48 1.85 0 1 0 2.96 0a1.48 1.85 0 1 0 -2.96 0M360.94 233.6a1.48 1.85 0 1 0 2.96 0a1.48 1.85 0 1 0 -2.96 0M364.42 173.02a1.48 1.85 0 1 0 2.96 0a1.48 1.85 0 1 0 -2.96 0M367.9 118.68a1.48 1.85 0 1 0 2.96 0a1.48 1.85 0 1 0 -2.96 0M371.37 80.94a1.48 1.85 0 1 0 2.96 0a1.48 1.85 0 1 0 -2.96 0M374.85 83.89a1.48 1.85 0 1 0 2.96 0a1.48 1.85 0 1 0 -2.96 0M378.33 122.51a1.48 1.85 0 1 0 2.96 0a1.48 1.85 0 1 0 -2.96 0M381.8 180.42a1.48 1.85 0 1 0 2.96 0a1.48 1.85 0 1 0 -2.96 0M385.28 255.54a1.48 1.85 0 1 0 2.96 0a1.48 1.85 0 1 0 -2.96 0M388.76 332.4a1.48 1.85 0 1 0 2.96 0a1.48 1.85 0 1 0 -2.96 0M392.23 397.95a1.48 1.85 0 1 0 2.96 0a1.48 1.85 0 1 0 -2.96 0M395.71 450.79a1.48 1.85 0 1 0 2.96 0a1.48 1.85 0 1 0 -2.96 0M399.19 487.23a1.48 1.85 0 1 0 2.96 0a1.48 1.85 0 1 0 -2.96 0M402.66 507.53a1.48 1.85 0 1 0 2.96 0a1.48 1.85 0 1 0 -2.96 0M406.14 521.32a1.48 1.85 0 1 0 2.96 0a1.48 1.85 0 1 0 -2.96 0M409.62 533.12a1.48 1.85 0 1 0 2.96 0a1.48 1.85 0 1 0 -2.96 0M413.09 541.93a1.48 1.85 0 1 0 2.96 0a1.48 1.85 0 1 0 -2.96 0M416.57 548.71a1.48 1.85 0 1 0 2.96 0a1.48 1.85 0 1 0 -2.96 0M420.05 555.62a1.48 1.85 0 1 0 2.96 0a1.48 1.85 0 1 0 -2.96 0M423.52 559.77a1.48 1.85 0 1 0 2.96 0a1.48 1.85 0 1 0 -2.96 0M427 564.14a1.48 1.85 0 1 0 2.96 0a1.48 1.85 0 1 0 -2.96 0M430.48 568.34a1.48 1.85 0 1 0 2.96 0a1.48 1.85 0 1 0 -2.96 0M433.95 571.17a1.48 1.85 0 1 0 2.96 0a1.48 1.85 0 1 0 -2.96 0M437.43 573.28a1.48 1.85 0 1 0 2.96 0a1.48 1.85 0 1 0 -2.96 0M440.91 575.71a1.48 1.85 0 1 0 2.96 0a1.48 1.85 0 1 0 -2.96 0M444.38 577.64a1.48 1.85 0 1 0 2.96 0a1.48 1.85 0 1 0 -2.96 0M447.86 581.3a1.48 1.85 0 1 0 2.96 0a1.48 1.85 0 1 0 -2.96 0M451.34 583.4a1.48 1.85 0 1 0 2.96 0a1.48 1.85 0 1 0 -2.96 0M454.81 583.53a1.48 1.85 0 1 0 2.96 0a1.48 1.85 0 1 0 -2.96 0M458.29 583.57a1.48 1.85 0 1 0 2.96 0a1.48 1.85 0 1 0 -2.96 0M461.77 586.48a1.48 1.85 0 1 0 2.96 0a1.48 1.85 0 1 0 -2.96 0M465.24 588.29a1.48 1.85 0 1 0 2.96 0a1.48 1.85 0 1 0 -2.96 0M468.72 588.48a1.48 1.85 0 1 0 2.96 0a1.48 1.85 0 1 0 -2.96 0M472.2 590.18a1.48 1.85 0 1 0 2.96 0a1.48 1.85 0 1 0 -2.96 0M475.67 590.94a1.48 1.85 0 1 0 2.96 0a1.48 1.85 0 1 0 -2.96 0M479.15 590.87a1.48 1.85 0 1 0 2.96 0a1.48 1.85 0 1 0 -2.96 0M482.63 591.73a1.48 1.85 0 1 0 2.96 0a1.48 1.85 0 1 0 -2.96 0M486.1 591.85a1.48 1.85 0 1 0 2.96 0a1.48 1.85 0 1 0 -2.96 0M489.58 592.71a1.48 1.85 0 1 0 2.96 0a1.48 1.85 0 1 0 -2.96 0M493.06 592.75a1.48 1.85 0 1 0 2.96 0a1.48 1.85 0 1 0 -2.96 0M496.53 593.53a1.48 1.85 0 1 0 2.96 0a1.48 1.85 0 1 0 -2.96 0M500.01 595.14a1.48 1.85 0 1 0 2.96 0a1.48 1.85 0 1 0 -2.96 0M503.49 594.4a1.48 1.85 0 1 0 2.96 0a1.48 1.85 0 1 0 -2.96 0M506.96 595.58a1.48 1.85 0 1 0 2.96 0a1.48 1.85 0 1 0 -2.96 0M510.44 595.41a1.48 1.85 0 1 0 2.96 0a1.48 1.85 0 1 0 -2.96 0M513.92 594.57a1.48 1.85 0 1 0 2.96 0a1.48 1.85 0 1 0 -2.96 0M517.39 595.67a1.48 1.85 0 1 0 2.96 0a1.48 1.85 0 1 0 -2.96 0M520.87 595.68a1.48 1.85 0 1 0 2.96 0a1.48 1.85 0 1 0 -2.96 0M524.35 595.42a1.48 1.85 0 1 0 2.96 0a1.48 1.85 0 1 0 -2.96 0M527.82 596.07a1.48 1.85 0 1 0 2.96 0a1.48 1.85 0 1 0 -2.96 0M531.3 597.27a1.48 1.85 0 1 0 2.96 0a1.48 1.85 0 1 0 -2.96 0M534.78 597.43a1.48 1.85 0 1 0 2.96 0a1.48 1.85 0 1 0 -2.96 0M538.25 596.6a1.48 1.85 0 1 0 2.96 0a1.48 1.85 0 1 0 -2.96 0M541.73 596.55a1.48 1.85 0 1 0 2.96 0a1.48 1.85 0 1 0 -2.96 0M545.21 597.09a1.48 1.85 0 1 0 2.96 0a1.48 1.85 0 1 0 -2.96 0M548.68 597.44a1.48 1.85 0 1 0 2.96 0a1.48 1.85 0 1 0 -2.96 0M552.16 598.13a1.48 1.85 0 1 0 2.96 0a1.48 1.85 0 1 0 -2.96 0M555.64 597.08a1.48 1.85 0 1 0 2.96 0a1.48 1.85 0 1 0 -2.96 0M559.11 596.96a1.48 1.85 0 1 0 2.96 0a1.48 1.85 0 1 0 -2.96 0M562.59 597.58a1.48 1.85 0 1 0 2.96 0a1.48 1.85 0 1 0 -2.96 0M566.07 596.48a1.48 1.85 0 1 0 2.96 0a1.48 1.85 0 1 0 -2.96 0M569.54 597.67a1.48 1.85 0 1 0 2.96 0a1.48 1.85 0 1 0 -2.96 0M573.02 598.08a1.48 1.85 0 1 0 2.96 0a1.48 1.85 0 1 0 -2.96 0" fill="#dc1c22"/>
<path d="M673.1 576.93 L676.57 575.4 L680.04 574.38 L683.51 576.26 L686.98 576.43 L690.45 575.84 L693.92 572.53 L697.39 573.43 L700.85 575.5 L704.32 576.25 L707.79 573.02 L711.26 575.41 L714.73 575.4 L718.2 574.11 L721.67 572.54 L725.14 573.09 L728.61 573.19 L732.08 574.08 L735.55 574.08 L739.02 571.89 L742.49 572.57 L745.96 572.37 L749.43 571.95 L752.89 572.82 L756.36 571.24 L759.83 571.11 L763.3 569.31 L766.77 570.85 L770.24 569.65 L773.71 572.51 L777.18 570.49 L780.65 570.1 L784.12 569.32 L787.59 567.21 L791.06 567.29 L794.53 567.22 L798 567.37 L801.47 565.86 L804.93 563.17 L808.4 563.2 L811.87 562.29 L815.34 559.65 L818.81 560.99 L822.28 560.15 L825.75 557.32 L829.22 559.62 L832.69 556.39 L836.16 554.05 L839.63 555.42 L843.1 551.25 L846.57 550.77 L850.04 547.13 L853.51 545.82 L856.97 546.15 L860.44 540.55 L863.91 538.69 L867.38 537.25 L870.85 534.42 L874.32 531.55 L877.79 529.32 L881.26 527.93 L884.73 527.75 L888.2 524.84 L891.67 524.67 L895.14 519.36 L898.61 519.01 L902.08 516.82 L905.55 514.43 L909.01 511.92 L912.48 506.27 L915.95 507.41 L919.42 502.84 L922.89 499.09 L926.36 496.26 L929.83 492.07 L933.3 488.55 L936.77 486.82 L940.24 481.88 L943.71 479.47 L947.18 477.88 L950.65 473.96 L954.12 466.9 L957.59 455.46 L961.05 441.27 L964.52 420.65 L967.99 398.16 L971.46 372.22 L974.93 348.16 L978.4 313.41 L981.87 268.29 L985.34 213.85 L988.81 154.83 L992.28 103.9 L995.75 76.67 L999.22 86.43 L1002.69 143.76 L1006.16 225.98 L1009.63 306.44 L1013.09 372.98 L1016.56 423.63 L1020.03 460.83 L1023.5 480.74 L1026.97 499.84 L1030.44 513.52 L1033.91 522.49 L1037.38 529.37 L1040.85 536.93 L1044.32 541.44 L1047.79 546.61 L1051.26 548.25 L1054.73 552.02 L1058.2 554.89 L1061.67 556.52 L1065.13 556.23 L1068.6 558.26 L1072.07 562.36 L1075.54 562.25 L1079.01 563.15 L1082.48 565.24 L1085.95 565.46 L1089.42 565.49 L1092.89 568.33 L1096.36 568.81 L1099.83 569.22 L1103.3 570.45 L1106.77 570.03 L1110.24 570.87 L1113.71 569.82 L1117.17 573.32 L1120.64 573.85 L1124.11 571.44 L1127.58 571.19 L1131.05 573.45 L1134.52 574.05 L1137.99 572.93 L1141.46 572.43 L1144.93 575.64 L1148.4 573.18 L1151.87 574.41 L1155.34 574.45 L1158.81 574.6 L1162.28 575.7 L1165.75 575.93 L1169.21 573.09 L1172.68 574.59 L1176.15 575.95 L1179.62 575.11 L1183.09 574.36 L1186.56 575.94 L1190.03 574.71 L1193.5 575.13" fill="none" stroke="#d01a1a" stroke-width="1.2" stroke-linejoin="round"/>
<path d="M671.62 576.93a1.48 1.85 0 1 0 2.96 0a1.48 1.85 0 1 0 -2.96 0M675.09 575.4a1.48 1.85 0 1 0 2.96 0a1.48 1.85 0 1 0 -2.96 0M678.56 574.38a1.48 1.85 0 1 0 2.96 0a1.48 1.85 0 1 0 -2.96 0M682.03 576.26a1.48 1.85 0 1 0 2.96 0a1.48 1.85 0 1 0 -2.96 0M685.5 576.43a1.48 1.85 0 1 0 2.96 0a1.48 1.85 0 1 0 -2.96 0M688.97 575.84a1.48 1.85 0 1 0 2.96 0a1.48 1.85 0 1 0 -2.96 0M692.44 572.53a1.48 1.85 0 1 0 2.96 0a1.48 1.85 0 1 0 -2.96 0M695.91 573.43a1.48 1.85 0 1 0 2.96 0a1.48 1.85 0 1 0 -2.96 0M699.37 575.5a1.48 1.85 0 1 0 2.96 0a1.48 1.85 0 1 0 -2.96 0M702.84 576.25a1.48 1.85 0 1 0 2.96 0a1.48 1.85 0 1 0 -2.96 0M706.31 573.02a1.48 1.85 0 1 0 2.96 0a1.48 1.85 0 1 0 -2.96 0M709.78 575.41a1.48 1.85 0 1 0 2.96 0a1.48 1.85 0 1 0 -2.96 0M713.25 575.4a1.48 1.85 0 1 0 2.96 0a1.48 1.85 0 1 0 -2.96 0M716.72 574.11a1.48 1.85 0 1 0 2.96 0a1.48 1.85 0 1 0 -2.96 0M720.19 572.54a1.48 1.85 0 1 0 2.96 0a1.48 1.85 0 1 0 -2.96 0M723.66 573.09a1.48 1.85 0 1 0 2.96 0a1.48 1.85 0 1 0 -2.96 0M727.13 573.19a1.48 1.85 0 1 0 2.96 0a1.48 1.85 0 1 0 -2.96 0M730.6 574.08a1.48 1.85 0 1 0 2.96 0a1.48 1.85 0 1 0 -2.96 0M734.07 574.08a1.48 1.85 0 1 0 2.96 0a1.48 1.85 0 1 0 -2.96 0M737.54 571.89a1.48 1.85 0 1 0 2.96 0a1.48 1.85 0 1 0 -2.96 0M741.01 572.57a1.48 1.85 0 1 0 2.96 0a1.48 1.85 0 1 0 -2.96 0M744.48 572.37a1.48 1.85 0 1 0 2.96 0a1.48 1.85 0 1 0 -2.96 0M747.95 571.95a1.48 1.85 0 1 0 2.96 0a1.48 1.85 0 1 0 -2.96 0M751.41 572.82a1.48 1.85 0 1 0 2.96 0a1.48 1.85 0 1 0 -2.96 0M754.88 571.24a1.48 1.85 0 1 0 2.96 0a1.48 1.85 0 1 0 -2.96 0M758.35 571.11a1.48 1.85 0 1 0 2.96 0a1.48 1.85 0 1 0 -2.96 0M761.82 569.31a1.48 1.85 0 1 0 2.96 0a1.48 1.85 0 1 0 -2.96 0M765.29 570.85a1.48 1.85 0 1 0 2.96 0a1.48 1.85 0 1 0 -2.96 0M768.76 569.65a1.48 1.85 0 1 0 2.96 0a1.48 1.85 0 1 0 -2.96 0M772.23 572.51a1.48 1.85 0 1 0 2.96 0a1.48 1.85 0 1 0 -2.96 0M775.7 570.49a1.48 1.85 0 1 0 2.96 0a1.48 1.85 0 1 0 -2.96 0M779.17 570.1a1.48 1.85 0 1 0 2.96 0a1.48 1.85 0 1 0 -2.96 0M782.64 569.32a1.48 1.85 0 1 0 2.96 0a1.48 1.85 0 1 0 -2.96 0M786.11 567.21a1.48 1.85 0 1 0 2.96 0a1.48 1.85 0 1 0 -2.96 0M789.58 567.29a1.48 1.85 0 1 0 2.96 0a1.48 1.85 0 1 0 -2.96 0M793.05 567.22a1.48 1.85 0 1 0 2.96 0a1.48 1.85 0 1 0 -2.96 0M796.52 567.37a1.48 1.85 0 1 0 2.96 0a1.48 1.85 0 1 0 -2.96 0M799.99 565.86a1.48 1.85 0 1 0 2.96 0a1.48 1.85 0 1 0 -2.96 0M803.45 563.17a1.48 1.85 0 1 0 2.96 0a1.48 1.85 0 1 0 -2.96 0M806.92 563.2a1.48 1.85 0 1 0 2.96 0a1.48 1.85 0 1 0 -2.96 0M810.39 562.29a1.48 1.85 0 1 0 2.96 0a1.48 1.85 0 1 0 -2.96 0M813.86 559.65a1.48 1.85 0 1 0 2.96 0a1.48 1.85 0 1 0 -2.96 0M817.33 560.99a1.48 1.85 0 1 0 2.96 0a1.48 1.85 0 1 0 -2.96 0M820.8 560.15a1.48 1.85 0 1 0 2.96 0a1.48 1.85 0 1 0 -2.96 0M824.27 557.32a1.48 1.85 0 1 0 2.96 0a1.48 1.85 0 1 0 -2.96 0M827.74 559.62a1.48 1.85 0 1 0 2.96 0a1.48 1.85 0 1 0 -2.96 0M831.21 556.39a1.48 1.85 0 1 0 2.96 0a1.48 1.85 0 1 0 -2.96 0M834.68 554.05a1.48 1.85 0 1 0 2.96 0a1.48 1.85 0 1 0 -2.96 0M838.15 555.42a1.48 1.85 0 1 0 2.96 0a1.48 1.85 0 1 0 -2.96 0M841.62 551.25a1.48 1.85 0 1 0 2.96 0a1.48 1.85 0 1 0 -2.96 0M845.09 550.77a1.48 1.85 0 1 0 2.96 0a1.48 1.85 0 1 0 -2.96 0M848.56 547.13a1.48 1.85 0 1 0 2.96 0a1.48 1.85 0 1 0 -2.96 0M852.03 545.82a1.48 1.85 0 1 0 2.96 0a1.48 1.85 0 1 0 -2.96 0M855.49 546.15a1.48 1.85 0 1 0 2.96 0a1.48 1.85 0 1 0 -2.96 0M858.96 540.55a1.48 1.85 0 1 0 2.96 0a1.48 1.85 0 1 0 -2.96 0M862.43 538.69a1.48 1.85 0 1 0 2.96 0a1.48 1.85 0 1 0 -2.96 0M865.9 537.25a1.48 1.85 0 1 0 2.96 0a1.48 1.85 0 1 0 -2.96 0M869.37 534.42a1.48 1.85 0 1 0 2.96 0a1.48 1.85 0 1 0 -2.96 0M872.84 531.55a1.48 1.85 0 1 0 2.96 0a1.48 1.85 0 1 0 -2.96 0M876.31 529.32a1.48 1.85 0 1 0 2.96 0a1.48 1.85 0 1 0 -2.96 0M879.78 527.93a1.48 1.85 0 1 0 2.96 0a1.48 1.85 0 1 0 -2.96 0M883.25 527.75a1.48 1.85 0 1 0 2.96 0a1.48 1.85 0 1 0 -2.96 0M886.72 524.84a1.48 1.85 0 1 0 2.96 0a1.48 1.85 0 1 0 -2.96 0M890.19 524.67a1.48 1.85 0 1 0 2.96 0a1.48 1.85 0 1 0 -2.96 0M893.66 519.36a1.48 1.85 0 1 0 2.96 0a1.48 1.85 0 1 0 -2.96 0M897.13 519.01a1.48 1.85 0 1 0 2.96 0a1.48 1.85 0 1 0 -2.96 0M900.6 516.82a1.48 1.85 0 1 0 2.96 0a1.48 1.85 0 1 0 -2.96 0M904.07 514.43a1.48 1.85 0 1 0 2.96 0a1.48 1.85 0 1 0 -2.96 0M907.53 511.92a1.48 1.85 0 1 0 2.96 0a1.48 1.85 0 1 0 -2.96 0M911 506.27a1.48 1.85 0 1 0 2.96 0a1.48 1.85 0 1 0 -2.96 0M914.47 507.41a1.48 1.85 0 1 0 2.96 0a1.48 1.85 0 1 0 -2.96 0M917.94 502.84a1.48 1.85 0 1 0 2.96 0a1.48 1.85 0 1 0 -2.96 0M921.41 499.09a1.48 1.85 0 1 0 2.96 0a1.48 1.85 0 1 0 -2.96 0M924.88 496.26a1.48 1.85 0 1 0 2.96 0a1.48 1.85 0 1 0 -2.96 0M928.35 492.07a1.48 1.85 0 1 0 2.96 0a1.48 1.85 0 1 0 -2.96 0M931.82 488.55a1.48 1.85 0 1 0 2.96 0a1.48 1.85 0 1 0 -2.96 0M935.29 486.82a1.48 1.85 0 1 0 2.96 0a1.48 1.85 0 1 0 -2.96 0M938.76 481.88a1.48 1.85 0 1 0 2.96 0a1.48 1.85 0 1 0 -2.96 0M942.23 479.47a1.48 1.85 0 1 0 2.96 0a1.48 1.85 0 1 0 -2.96 0M945.7 477.88a1.48 1.85 0 1 0 2.96 0a1.48 1.85 0 1 0 -2.96 0M949.17 473.96a1.48 1.85 0 1 0 2.96 0a1.48 1.85 0 1 0 -2.96 0M952.64 466.9a1.48 1.85 0 1 0 2.96 0a1.48 1.85 0 1 0 -2.96 0M956.11 455.46a1.48 1.85 0 1 0 2.96 0a1.48 1.85 0 1 0 -2.96 0M959.57 441.27a1.48 1.85 0 1 0 2.96 0a1.48 1.85 0 1 0 -2.96 0M963.04 420.65a1.48 1.85 0 1 0 2.96 0a1.48 1.85 0 1 0 -2.96 0M966.51 398.16a1.48 1.85 0 1 0 2.96 0a1.48 1.85 0 1 0 -2.96 0M969.98 372.22a1.48 1.85 0 1 0 2.96 0a1.48 1.85 0 1 0 -2.96 0M973.45 348.16a1.48 1.85 0 1 0 2.96 0a1.48 1.85 0 1 0 -2.96 0M976.92 313.41a1.48 1.85 0 1 0 2.96 0a1.48 1.85 0 1 0 -2.96 0M980.39 268.29a1.48 1.85 0 1 0 2.96 0a1.48 1.85 0 1 0 -2.96 0M983.86 213.85a1.48 1.85 0 1 0 2.96 0a1.48 1.85 0 1 0 -2.96 0M987.33 154.83a1.48 1.85 0 1 0 2.96 0a1.48 1.85 0 1 0 -2.96 0M990.8 103.9a1.48 1.85 0 1 0 2.96 0a1.48 1.85 0 1 0 -2.96 0M994.27 76.67a1.48 1.85 0 1 0 2.96 0a1.48 1.85 0 1 0 -2.96 0M997.74 86.43a1.48 1.85 0 1 0 2.96 0a1.48 1.85 0 1 0 -2.96 0M1001.21 143.76a1.48 1.85 0 1 0 2.96 0a1.48 1.85 0 1 0 -2.96 0M1004.68 225.98a1.48 1.85 0 1 0 2.96 0a1.48 1.85 0 1 0 -2.96 0M1008.15 306.44a1.48 1.85 0 1 0 2.96 0a1.48 1.85 0 1 0 -2.96 0M1011.61 372.98a1.48 1.85 0 1 0 2.96 0a1.48 1.85 0 1 0 -2.96 0M1015.08 423.63a1.48 1.85 0 1 0 2.96 0a1.48 1.85 0 1 0 -2.96 0M1018.55 460.83a1.48 1.85 0 1 0 2.96 0a1.48 1.85 0 1 0 -2.96 0M1022.02 480.74a1.48 1.85 0 1 0 2.96 0a1.48 1.85 0 1 0 -2.96 0M1025.49 499.84a1.48 1.85 0 1 0 2.96 0a1.48 1.85 0 1 0 -2.96 0M1028.96 513.52a1.48 1.85 0 1 0 2.96 0a1.48 1.85 0 1 0 -2.96 0M1032.43 522.49a1.48 1.85 0 1 0 2.96 0a1.48 1.85 0 1 0 -2.96 0M1035.9 529.37a1.48 1.85 0 1 0 2.96 0a1.48 1.85 0 1 0 -2.96 0M1039.37 536.93a1.48 1.85 0 1 0 2.96 0a1.48 1.85 0 1 0 -2.96 0M1042.84 541.44a1.48 1.85 0 1 0 2.96 0a1.48 1.85 0 1 0 -2.96 0M1046.31 546.61a1.48 1.85 0 1 0 2.96 0a1.48 1.85 0 1 0 -2.96 0M1049.78 548.25a1.48 1.85 0 1 0 2.96 0a1.48 1.85 0 1 0 -2.96 0M1053.25 552.02a1.48 1.85 0 1 0 2.96 0a1.48 1.85 0 1 0 -2.96 0M1056.72 554.89a1.48 1.85 0 1 0 2.96 0a1.48 1.85 0 1 0 -2.96 0M1060.19 556.52a1.48 1.85 0 1 0 2.96 0a1.48 1.85 0 1 0 -2.96 0M1063.65 556.23a1.48 1.85 0 1 0 2.96 0a1.48 1.85 0 1 0 -2.96 0M1067.12 558.26a1.48 1.85 0 1 0 2.96 0a1.48 1.85 0 1 0 -2.96 0M1070.59 562.36a1.48 1.85 0 1 0 2.96 0a1.48 1.85 0 1 0 -2.96 0M1074.06 562.25a1.48 1.85 0 1 0 2.96 0a1.48 1.85 0 1 0 -2.96 0M1077.53 563.15a1.48 1.85 0 1 0 2.96 0a1.48 1.85 0 1 0 -2.96 0M1081 565.24a1.48 1.85 0 1 0 2.96 0a1.48 1.85 0 1 0 -2.96 0M1084.47 565.46a1.48 1.85 0 1 0 2.96 0a1.48 1.85 0 1 0 -2.96 0M1087.94 565.49a1.48 1.85 0 1 0 2.96 0a1.48 1.85 0 1 0 -2.96 0M1091.41 568.33a1.48 1.85 0 1 0 2.96 0a1.48 1.85 0 1 0 -2.96 0M1094.88 568.81a1.48 1.85 0 1 0 2.96 0a1.48 1.85 0 1 0 -2.96 0M1098.35 569.22a1.48 1.85 0 1 0 2.96 0a1.48 1.85 0 1 0 -2.96 0M1101.82 570.45a1.48 1.85 0 1 0 2.96 0a1.48 1.85 0 1 0 -2.96 0M1105.29 570.03a1.48 1.85 0 1 0 2.96 0a1.48 1.85 0 1 0 -2.96 0M1108.76 570.87a1.48 1.85 0 1 0 2.96 0a1.48 1.85 0 1 0 -2.96 0M1112.23 569.82a1.48 1.85 0 1 0 2.96 0a1.48 1.85 0 1 0 -2.96 0M1115.69 573.32a1.48 1.85 0 1 0 2.96 0a1.48 1.85 0 1 0 -2.96 0M1119.16 573.85a1.48 1.85 0 1 0 2.96 0a1.48 1.85 0 1 0 -2.96 0M1122.63 571.44a1.48 1.85 0 1 0 2.96 0a1.48 1.85 0 1 0 -2.96 0M1126.1 571.19a1.48 1.85 0 1 0 2.96 0a1.48 1.85 0 1 0 -2.96 0M1129.57 573.45a1.48 1.85 0 1 0 2.96 0a1.48 1.85 0 1 0 -2.96 0M1133.04 574.05a1.48 1.85 0 1 0 2.96 0a1.48 1.85 0 1 0 -2.96 0M1136.51 572.93a1.48 1.85 0 1 0 2.96 0a1.48 1.85 0 1 0 -2.96 0M1139.98 572.43a1.48 1.85 0 1 0 2.96 0a1.48 1.85 0 1 0 -2.96 0M1143.45 575.64a1.48 1.85 0 1 0 2.96 0a1.48 1.85 0 1 0 -2.96 0M1146.92 573.18a1.48 1.85 0 1 0 2.96 0a1.48 1.85 0 1 0 -2.96 0M1150.39 574.41a1.48 1.85 0 1 0 2.96 0a1.48 1.85 0 1 0 -2.96 0M1153.86 574.45a1.48 1.85 0 1 0 2.96 0a1.48 1.85 0 1 0 -2.96 0M1157.33 574.6a1.48 1.85 0 1 0 2.96 0a1.48 1.85 0 1 0 -2.96 0M1160.8 575.7a1.48 1.85 0 1 0 2.96 0a1.48 1.85 0 1 0 -2.96 0M1164.27 575.93a1.48 1.85 0 1 0 2.96 0a1.48 1.85 0 1 0 -2.96 0M1167.73 573.09a1.48 1.85 0 1 0 2.96 0a1.48 1.85 0 1 0 -2.96 0M1171.2 574.59a1.48 1.85 0 1 0 2.96 0a1.48 1.85 0 1 0 -2.96 0M1174.67 575.95a1.48 1.85 0 1 0 2.96 0a1.48 1.85 0 1 0 -2.96 0M1178.14 575.11a1.48 1.85 0 1 0 2.96 0a1.48 1.85 0 1 0 -2.96 0M1181.61 574.36a1.48 1.85 0 1 0 2.96 0a1.48 1.85 0 1 0 -2.96 0M1185.08 575.94a1.48 1.85 0 1 0 2.96 0a1.48 1.85 0 1 0 -2.96 0M1188.55 574.71a1.48 1.85 0 1 0 2.96 0a1.48 1.85 0 1 0 -2.96 0M1192.02 575.13a1.48 1.85 0 1 0 2.96 0a1.48 1.85 0 1 0 -2.96 0" fill="#d01a1a"/>
<path d="M673.1 575.96 L676.57 574.57 L680.04 578.37 L683.51 576.08 L686.98 576.1 L690.45 575.08 L693.92 575.21 L697.39 575.35 L700.85 575.06 L704.32 574.08 L707.79 575.19 L711.26 574.91 L714.73 574.12 L718.2 573.34 L721.67 573.01 L725.14 572.7 L728.61 573.84 L732.08 572.99 L735.55 574.04 L739.02 571.99 L742.49 573.42 L745.96 572.43 L749.43 571.53 L752.89 572.91 L756.36 571.67 L759.83 572 L763.3 571.99 L766.77 571.2 L770.24 570.11 L773.71 570.73 L777.18 571.38 L780.65 569.25 L784.12 569.78 L787.59 568.23 L791.06 567.24 L794.53 566.5 L798 565.25 L801.47 565.34 L804.93 564.97 L808.4 561.31 L811.87 562 L815.34 561.67 L818.81 559.97 L822.28 560.1 L825.75 557.41 L829.22 557.99 L832.69 556.88 L836.16 555.08 L839.63 552.44 L843.1 553.79 L846.57 550.29 L850.04 549.67 L853.51 545.92 L856.97 543.34 L860.44 542.07 L863.91 538.03 L867.38 538 L870.85 537.32 L874.32 531.31 L877.79 530.12 L881.26 529.05 L884.73 525.47 L888.2 524.82 L891.67 522.09 L895.14 518.32 L898.61 515.64 L902.08 516.12 L905.55 514.82 L909.01 509.94 L912.48 509.7 L915.95 503.63 L919.42 503.5 L922.89 499.33 L926.36 495.68 L929.83 492.2 L933.3 489.11 L936.77 486.99 L940.24 482.71 L943.71 481.73 L947.18 475.41 L950.65 473.87 L954.12 466.76 L957.59 456.27 L961.05 441.47 L964.52 420.23 L967.99 397.83 L971.46 374.95 L974.93 346.45 L978.4 314.07 L981.87 267.35 L985.34 213.85 L988.81 151.97 L992.28 101.85 L995.75 73.4 L999.22 83.09 L1002.69 141.29 L1006.16 224.43 L1009.63 304.26 L1013.09 370.43 L1016.56 423.17 L1020.03 458.56 L1023.5 483.38 L1026.97 499.93 L1030.44 512.27 L1033.91 522.68 L1037.38 529.37 L1040.85 535.33 L1044.32 540.7 L1047.79 544.96 L1051.26 549.04 L1054.73 553.55 L1058.2 553.44 L1061.67 556.74 L1065.13 557.46 L1068.6 560.78 L1072.07 559.76 L1075.54 561.05 L1079.01 562.6 L1082.48 562.37 L1085.95 566.78 L1089.42 567.68 L1092.89 568.39 L1096.36 569.24 L1099.83 570.81 L1103.3 569.48 L1106.77 571.28 L1110.24 571.73 L1113.71 572.55 L1117.17 573.59 L1120.64 572.84 L1124.11 571.81 L1127.58 573.39 L1131.05 572.77 L1134.52 573.3 L1137.99 572.36 L1141.46 573.29 L1144.93 573.69 L1148.4 573.59 L1151.87 574.54 L1155.34 576.04 L1158.81 574.24 L1162.28 573.49 L1165.75 574.21 L1169.21 575.78 L1172.68 574.81 L1176.15 575.86 L1179.62 575.15 L1183.09 576.06 L1186.56 574.73 L1190.03 576.6 L1193.5 575.59" fill="none" stroke="#8a2be2" stroke-width="1.2" stroke-linejoin="round"/>
<path d="M671.62 575.96a1.48 1.85 0 1 0 2.96 0a1.48 1.85 0 1 0 -2.96 0M675.09 574.57a1.48 1.85 0 1 0 2.96 0a1.48 1.85 0 1 0 -2.96 0M678.56 578.37a1.48 1.85 0 1 0 2.96 0a1.48 1.85 0 1 0 -2.96 0M682.03 576.08a1.48 1.85 0 1 0 2.96 0a1.48 1.85 0 1 0 -2.96 0M685.5 576.1a1.48 1.85 0 1 0 2.96 0a1.48 1.85 0 1 0 -2.96 0M688.97 575.08a1.48 1.85 0 1 0 2.96 0a1.48 1.85 0 1 0 -2.96 0M692.44 575.21a1.48 1.85 0 1 0 2.96 0a1.48 1.85 0 1 0 -2.96 0M695.91 575.35a1.48 1.85 0 1 0 2.96 0a1.48 1.85 0 1 0 -2.96 0M699.37 575.06a1.48 1.85 0 1 0 2.96 0a1.48 1.85 0 1 0 -2.96 0M702.84 574.08a1.48 1.85 0 1 0 2.96 0a1.48 1.85 0 1 0 -2.96 0M706.31 575.19a1.48 1.85 0 1 0 2.96 0a1.48 1.85 0 1 0 -2.96 0M709.78 574.91a1.48 1.85 0 1 0 2.96 0a1.48 1.85 0 1 0 -2.96 0M713.25 574.12a1.48 1.85 0 1 0 2.96 0a1.48 1.85 0 1 0 -2.96 0M716.72 573.34a1.48 1.85 0 1 0 2.96 0a1.48 1.85 0 1 0 -2.96 0M720.19 573.01a1.48 1.85 0 1 0 2.96 0a1.48 1.85 0 1 0 -2.96 0M723.66 572.7a1.48 1.85 0 1 0 2.96 0a1.48 1.85 0 1 0 -2.96 0M727.13 573.84a1.48 1.85 0 1 0 2.96 0a1.48 1.85 0 1 0 -2.96 0M730.6 572.99a1.48 1.85 0 1 0 2.96 0a1.48 1.85 0 1 0 -2.96 0M734.07 574.04a1.48 1.85 0 1 0 2.96 0a1.48 1.85 0 1 0 -2.96 0M737.54 571.99a1.48 1.85 0 1 0 2.96 0a1.48 1.85 0 1 0 -2.96 0M741.01 573.42a1.48 1.85 0 1 0 2.96 0a1.48 1.85 0 1 0 -2.96 0M744.48 572.43a1.48 1.85 0 1 0 2.96 0a1.48 1.85 0 1 0 -2.96 0M747.95 571.53a1.48 1.85 0 1 0 2.96 0a1.48 1.85 0 1 0 -2.96 0M751.41 572.91a1.48 1.85 0 1 0 2.96 0a1.48 1.85 0 1 0 -2.96 0M754.88 571.67a1.48 1.85 0 1 0 2.96 0a1.48 1.85 0 1 0 -2.96 0M758.35 572a1.48 1.85 0 1 0 2.96 0a1.48 1.85 0 1 0 -2.96 0M761.82 571.99a1.48 1.85 0 1 0 2.96 0a1.48 1.85 0 1 0 -2.96 0M765.29 571.2a1.48 1.85 0 1 0 2.96 0a1.48 1.85 0 1 0 -2.96 0M768.76 570.11a1.48 1.85 0 1 0 2.96 0a1.48 1.85 0 1 0 -2.96 0M772.23 570.73a1.48 1.85 0 1 0 2.96 0a1.48 1.85 0 1 0 -2.96 0M775.7 571.38a1.48 1.85 0 1 0 2.96 0a1.48 1.85 0 1 0 -2.96 0M779.17 569.25a1.48 1.85 0 1 0 2.96 0a1.48 1.85 0 1 0 -2.96 0M782.64 569.78a1.48 1.85 0 1 0 2.96 0a1.48 1.85 0 1 0 -2.96 0M786.11 568.23a1.48 1.85 0 1 0 2.96 0a1.48 1.85 0 1 0 -2.96 0M789.58 567.24a1.48 1.85 0 1 0 2.96 0a1.48 1.85 0 1 0 -2.96 0M793.05 566.5a1.48 1.85 0 1 0 2.96 0a1.48 1.85 0 1 0 -2.96 0M796.52 565.25a1.48 1.85 0 1 0 2.96 0a1.48 1.85 0 1 0 -2.96 0M799.99 565.34a1.48 1.85 0 1 0 2.96 0a1.48 1.85 0 1 0 -2.96 0M803.45 564.97a1.48 1.85 0 1 0 2.96 0a1.48 1.85 0 1 0 -2.96 0M806.92 561.31a1.48 1.85 0 1 0 2.96 0a1.48 1.85 0 1 0 -2.96 0M810.39 562a1.48 1.85 0 1 0 2.96 0a1.48 1.85 0 1 0 -2.96 0M813.86 561.67a1.48 1.85 0 1 0 2.96 0a1.48 1.85 0 1 0 -2.96 0M817.33 559.97a1.48 1.85 0 1 0 2.96 0a1.48 1.85 0 1 0 -2.96 0M820.8 560.1a1.48 1.85 0 1 0 2.96 0a1.48 1.85 0 1 0 -2.96 0M824.27 557.41a1.48 1.85 0 1 0 2.96 0a1.48 1.85 0 1 0 -2.96 0M827.74 557.99a1.48 1.85 0 1 0 2.96 0a1.48 1.85 0 1 0 -2.96 0M831.21 556.88a1.48 1.85 0 1 0 2.96 0a1.48 1.85 0 1 0 -2.96 0M834.68 555.08a1.48 1.85 0 1 0 2.96 0a1.48 1.85 0 1 0 -2.96 0M838.15 552.44a1.48 1.85 0 1 0 2.96 0a1.48 1.85 0 1 0 -2.96 0M841.62 553.79a1.48 1.85 0 1 0 2.96 0a1.48 1.85 0 1 0 -2.96 0M845.09 550.29a1.48 1.85 0 1 0 2.96 0a1.48 1.85 0 1 0 -2.96 0M848.56 549.67a1.48 1.85 0 1 0 2.96 0a1.48 1.85 0 1 0 -2.96 0M852.03 545.92a1.48 1.85 0 1 0 2.96 0a1.48 1.85 0 1 0 -2.96 0M855.49 543.34a1.48 1.85 0 1 0 2.96 0a1.48 1.85 0 1 0 -2.96 0M858.96 542.07a1.48 1.85 0 1 0 2.96 0a1.48 1.85 0 1 0 -2.96 0M862.43 538.03a1.48 1.85 0 1 0 2.96 0a1.48 1.85 0 1 0 -2.96 0M865.9 538a1.48 1.85 0 1 0 2.96 0a1.48 1.85 0 1 0 -2.96 0M869.37 537.32a1.48 1.85 0 1 0 2.96 0a1.48 1.85 0 1 0 -2.96 0M872.84 531.31a1.48 1.85 0 1 0 2.96 0a1.48 1.85 0 1 0 -2.96 0M876.31 530.12a1.48 1.85 0 1 0 2.96 0a1.48 1.85 0 1 0 -2.96 0M879.78 529.05a1.48 1.85 0 1 0 2.96 0a1.48 1.85 0 1 0 -2.96 0M883.25 525.47a1.48 1.85 0 1 0 2.96 0a1.48 1.85 0 1 0 -2.96 0M886.72 524.82a1.48 1.85 0 1 0 2.96 0a1.48 1.85 0 1 0 -2.96 0M890.19 522.09a1.48 1.85 0 1 0 2.96 0a1.48 1.85 0 1 0 -2.96 0M893.66 518.32a1.48 1.85 0 1 0 2.96 0a1.48 1.85 0 1 0 -2.96 0M897.13 515.64a1.48 1.85 0 1 0 2.96 0a1.48 1.85 0 1 0 -2.96 0M900.6 516.12a1.48 1.85 0 1 0 2.96 0a1.48 1.85 0 1 0 -2.96 0M904.07 514.82a1.48 1.85 0 1 0 2.96 0a1.48 1.85 0 1 0 -2.96 0M907.53 509.94a1.48 1.85 0 1 0 2.96 0a1.48 1.85 0 1 0 -2.96 0M911 509.7a1.48 1.85 0 1 0 2.96 0a1.48 1.85 0 1 0 -2.96 0M914.47 503.63a1.48 1.85 0 1 0 2.96 0a1.48 1.85 0 1 0 -2.96 0M917.94 503.5a1.48 1.85 0 1 0 2.96 0a1.48 1.85 0 1 0 -2.96 0M921.41 499.33a1.48 1.85 0 1 0 2.96 0a1.48 1.85 0 1 0 -2.96 0M924.88 495.68a1.48 1.85 0 1 0 2.96 0a1.48 1.85 0 1 0 -2.96 0M928.35 492.2a1.48 1.85 0 1 0 2.96 0a1.48 1.85 0 1 0 -2.96 0M931.82 489.11a1.48 1.85 0 1 0 2.96 0a1.48 1.85 0 1 0 -2.96 0M935.29 486.99a1.48 1.85 0 1 0 2.96 0a1.48 1.85 0 1 0 -2.96 0M938.76 482.71a1.48 1.85 0 1 0 2.96 0a1.48 1.85 0 1 0 -2.96 0M942.23 481.73a1.48 1.85 0 1 0 2.96 0a1.48 1.85 0 1 0 -2.96 0M945.7 475.41a1.48 1.85 0 1 0 2.96 0a1.48 1.85 0 1 0 -2.96 0M949.17 473.87a1.48 1.85 0 1 0 2.96 0a1.48 1.85 0 1 0 -2.96 0M952.64 466.76a1.48 1.85 0 1 0 2.96 0a1.48 1.85 0 1 0 -2.96 0M956.11 456.27a1.48 1.85 0 1 0 2.96 0a1.48 1.85 0 1 0 -2.96 0M959.57 441.47a1.48 1.85 0 1 0 2.96 0a1.48 1.85 0 1 0 -2.96 0M963.04 420.23a1.48 1.85 0 1 0 2.96 0a1.48 1.85 0 1 0 -2.96 0M966.51 397.83a1.48 1.85 0 1 0 2.96 0a1.48 1.85 0 1 0 -2.96 0M969.98 374.95a1.48 1.85 0 1 0 2.96 0a1.48 1.85 0 1 0 -2.96 0M973.45 346.45a1.48 1.85 0 1 0 2.96 0a1.48 1.85 0 1 0 -2.96 0M976.92 314.07a1.48 1.85 0 1 0 2.96 0a1.48 1.85 0 1 0 -2.96 0M980.39 267.35a1.48 1.85 0 1 0 2.96 0a1.48 1.85 0 1 0 -2.96 0M983.86 213.85a1.48 1.85 0 1 0 2.96 0a1.48 1.85 0 1 0 -2.96 0M987.33 151.97a1.48 1.85 0 1 0 2.96 0a1.48 1.85 0 1 0 -2.96 0M990.8 101.85a1.48 1.85 0 1 0 2.96 0a1.48 1.85 0 1 0 -2.96 0M994.27 73.4a1.48 1.85 0 1 0 2.96 0a1.48 1.85 0 1 0 -2.96 0M997.74 83.09a1.48 1.85 0 1 0 2.96 0a1.48 1.85 0 1 0 -2.96 0M1001.21 141.29a1.48 1.85 0 1 0 2.96 0a1.48 1.85 0 1 0 -2.96 0M1004.68 224.43a1.48 1.85 0 1 0 2.96 0a1.48 1.85 0 1 0 -2.96 0M1008.15 304.26a1.48 1.85 0 1 0 2.96 0a1.48 1.85 0 1 0 -2.96 0M1011.61 370.43a1.48 1.85 0 1 0 2.96 0a1.48 1.85 0 1 0 -2.96 0M1015.08 423.17a1.48 1.85 0 1 0 2.96 0a1.48 1.85 0 1 0 -2.96 0M1018.55 458.56a1.48 1.85 0 1 0 2.96 0a1.48 1.85 0 1 0 -2.96 0M1022.02 483.38a1.48 1.85 0 1 0 2.96 0a1.48 1.85 0 1 0 -2.96 0M1025.49 499.93a1.48 1.85 0 1 0 2.96 0a1.48 1.85 0 1 0 -2.96 0M1028.96 512.27a1.48 1.85 0 1 0 2.96 0a1.48 1.85 0 1 0 -2.96 0M1032.43 522.68a1.48 1.85 0 1 0 2.96 0a1.48 1.85 0 1 0 -2.96 0M1035.9 529.37a1.48 1.85 0 1 0 2.96 0a1.48 1.85 0 1 0 -2.96 0M1039.37 535.33a1.48 1.85 0 1 0 2.96 0a1.48 1.85 0 1 0 -2.96 0M1042.84 540.7a1.48 1.85 0 1 0 2.96 0a1.48 1.85 0 1 0 -2.96 0M1046.31 544.96a1.48 1.85 0 1 0 2.96 0a1.48 1.85 0 1 0 -2.96 0M1049.78 549.04a1.48 1.85 0 1 0 2.96 0a1.48 1.85 0 1 0 -2.96 0M1053.25 553.55a1.48 1.85 0 1 0 2.96 0a1.48 1.85 0 1 0 -2.96 0M1056.72 553.44a1.48 1.85 0 1 0 2.96 0a1.48 1.85 0 1 0 -2.96 0M1060.19 556.74a1.48 1.85 0 1 0 2.96 0a1.48 1.85 0 1 0 -2.96 0M1063.65 557.46a1.48 1.85 0 1 0 2.96 0a1.48 1.85 0 1 0 -2.96 0M1067.12 560.78a1.48 1.85 0 1 0 2.96 0a1.48 1.85 0 1 0 -2.96 0M1070.59 559.76a1.48 1.85 0 1 0 2.96 0a1.48 1.85 0 1 0 -2.96 0M1074.06 561.05a1.48 1.85 0 1 0 2.96 0a1.48 1.85 0 1 0 -2.96 0M1077.53 562.6a1.48 1.85 0 1 0 2.96 0a1.48 1.85 0 1 0 -2.96 0M1081 562.37a1.48 1.85 0 1 0 2.96 0a1.48 1.85 0 1 0 -2.96 0M1084.47 566.78a1.48 1.85 0 1 0 2.96 0a1.48 1.85 0 1 0 -2.96 0M1087.94 567.68a1.48 1.85 0 1 0 2.96 0a1.48 1.85 0 1 0 -2.96 0M1091.41 568.39a1.48 1.85 0 1 0 2.96 0a1.48 1.85 0 1 0 -2.96 0M1094.88 569.24a1.48 1.85 0 1 0 2.96 0a1.48 1.85 0 1 0 -2.96 0M1098.35 570.81a1.48 1.85 0 1 0 2.96 0a1.48 1.85 0 1 0 -2.96 0M1101.82 569.48a1.48 1.85 0 1 0 2.96 0a1.48 1.85 0 1 0 -2.96 0M1105.29 571.28a1.48 1.85 0 1 0 2.96 0a1.48 1.85 0 1 0 -2.96 0M1108.76 571.73a1.48 1.85 0 1 0 2.96 0a1.48 1.85 0 1 0 -2.96 0M1112.23 572.55a1.48 1.85 0 1 0 2.96 0a1.48 1.85 0 1 0 -2.96 0M1115.69 573.59a1.48 1.85 0 1 0 2.96 0a1.48 1.85 0 1 0 -2.96 0M1119.16 572.84a1.48 1.85 0 1 0 2.96 0a1.48 1.85 0 1 0 -2.96 0M1122.63 571.81a1.48 1.85 0 1 0 2.96 0a1.48 1.85 0 1 0 -2.96 0M1126.1 573.39a1.48 1.85 0 1 0 2.96 0a1.48 1.85 0 1 0 -2.96 0M1129.57 572.77a1.48 1.85 0 1 0 2.96 0a1.48 1.85 0 1 0 -2.96 0M1133.04 573.3a1.48 1.85 0 1 0 2.96 0a1.48 1.85 0 1 0 -2.96 0M1136.51 572.36a1.48 1.85 0 1 0 2.96 0a1.48 1.85 0 1 0 -2.96 0M1139.98 573.29a1.48 1.85 0 1 0 2.96 0a1.48 1.85 0 1 0 -2.96 0M1143.45 573.69a1.48 1.85 0 1 0 2.96 0a1.48 1.85 0 1 0 -2.96 0M1146.92 573.59a1.48 1.85 0 1 0 2.96 0a1.48 1.85 0 1 0 -2.96 0M1150.39 574.54a1.48 1.85 0 1 0 2.96 0a1.48 1.85 0 1 0 -2.96 0M1153.86 576.04a1.48 1.85 0 1 0 2.96 0a1.48 1.85 0 1 0 -2.96 0M1157.33 574.24a1.48 1.85 0 1 0 2.96 0a1.48 1.85 0 1 0 -2.96 0M1160.8 573.49a1.48 1.85 0 1 0 2.96 0a1.48 1.85 0 1 0 -2.96 0M1164.27 574.21a1.48 1.85 0 1 0 2.96 0a1.48 1.85 0 1 0 -2.96 0M1167.73 575.78a1.48 1.85 0 1 0 2.96 0a1.48 1.85 0 1 0 -2.96 0M1171.2 574.81a1.48 1.85 0 1 0 2.96 0a1.48 1.85 0 1 0 -2.96 0M1174.67 575.86a1.48 1.85 0 1 0 2.96 0a1.48 1.85 0 1 0 -2.96 0M1178.14 575.15a1.48 1.85 0 1 0 2.96 0a1.48 1.85 0 1 0 -2.96 0M1181.61 576.06a1.48 1.85 0 1 0 2.96 0a1.48 1.85 0 1 0 -2.96 0M1185.08 574.73a1.48 1.85 0 1 0 2.96 0a1.48 1.85 0 1 0 -2.96 0M1188.55 576.6a1.48 1.85 0 1 0 2.96 0a1.48 1.85 0 1 0 -2.96 0M1192.02 575.59a1.48 1.85 0 1 0 2.96 0a1.48 1.85 0 1 0 -2.96 0" fill="#8a2be2"/>
<path d="M673.1 574.95 L676.57 576.57 L680.04 576.78 L683.51 576.26 L686.98 576.77 L690.45 575.3 L693.92 573.84 L697.39 574.95 L700.85 575.3 L704.32 575.09 L707.79 574 L711.26 572.5 L714.73 576.18 L718.2 574.08 L721.67 574.35 L725.14 573.16 L728.61 572.8 L732.08 573.95 L735.55 574.02 L739.02 572.04 L742.49 572.15 L745.96 571.76 L749.43 571.12 L752.89 571.06 L756.36 571.41 L759.83 569.56 L763.3 572.86 L766.77 569.36 L770.24 570.26 L773.71 572.21 L777.18 569.95 L780.65 569.95 L784.12 569.81 L787.59 570.04 L791.06 566.91 L794.53 568.54 L798 565.36 L801.47 567.43 L804.93 565.67 L808.4 563.97 L811.87 562.16 L815.34 563 L818.81 561.32 L822.28 560.58 L825.75 557.07 L829.22 557.29 L832.69 556.39 L836.16 555.32 L839.63 551.71 L843.1 550.35 L846.57 551.17 L850.04 548.81 L853.51 547.34 L856.97 543.11 L860.44 541.88 L863.91 538.81 L867.38 536.41 L870.85 534.25 L874.32 533.46 L877.79 528.89 L881.26 526.34 L884.73 525.15 L888.2 524.38 L891.67 522.81 L895.14 521.31 L898.61 520.04 L902.08 516.16 L905.55 513.6 L909.01 513.1 L912.48 508.56 L915.95 506.42 L919.42 502.3 L922.89 500.79 L926.36 495.21 L929.83 493.03 L933.3 490.71 L936.77 488.15 L940.24 486.29 L943.71 483.45 L947.18 480.25 L950.65 476.21 L954.12 471.22 L957.59 463.11 L961.05 447.76 L964.52 429.76 L967.99 414.42 L971.46 385.49 L974.93 362.41 L978.4 332.25 L981.87 290.72 L985.34 244.33 L988.81 183.06 L992.28 124.45 L995.75 84.78 L999.22 66.88 L1002.69 99.98 L1006.16 174.95 L1009.63 255.96 L1013.09 332.17 L1016.56 396.02 L1020.03 441.34 L1023.5 467.29 L1026.97 488.59 L1030.44 504.31 L1033.91 517.99 L1037.38 527.85 L1040.85 534.78 L1044.32 539.71 L1047.79 544.51 L1051.26 545.87 L1054.73 551.17 L1058.2 552.43 L1061.67 555.72 L1065.13 556.05 L1068.6 558.2 L1072.07 559.91 L1075.54 561.73 L1079.01 563.36 L1082.48 566.36 L1085.95 567.08 L1089.42 567.3 L1092.89 567.28 L1096.36 570.56 L1099.83 570.45 L1103.3 570.31 L1106.77 570.23 L1110.24 570.25 L1113.71 572.58 L1117.17 572.95 L1120.64 572.28 L1124.11 572.49 L1127.58 574.44 L1131.05 573.45 L1134.52 573 L1137.99 572.67 L1141.46 574.41 L1144.93 574.45 L1148.4 572.82 L1151.87 571.88 L1155.34 574.72 L1158.81 574.85 L1162.28 575.35 L1165.75 575.13 L1169.21 572.92 L1172.68 575.73 L1176.15 574.43 L1179.62 576.3 L1183.09 575.31 L1186.56 574.79 L1190.03 574.16 L1193.5 574.82" fill="none" stroke="#f08c1c" stroke-width="1.2" stroke-linejoin="round"/>
<path d="M671.62 574.95a1.48 1.85 0 1 0 2.96 0a1.48 1.85 0 1 0 -2.96 0M675.09 576.57a1.48 1.85 0 1 0 2.96 0a1.48 1.85 0 1 0 -2.96 0M678.56 576.78a1.48 1.85 0 1 0 2.96 0a1.48 1.85 0 1 0 -2.96 0M682.03 576.26a1.48 1.85 0 1 0 2.96 0a1.48 1.85 0 1 0 -2.96 0M685.5 576.77a1.48 1.85 0 1 0 2.96 0a1.48 1.85 0 1 0 -2.96 0M688.97 575.3a1.48 1.85 0 1 0 2.96 0a1.48 1.85 0 1 0 -2.96 0M692.44 573.84a1.48 1.85 0 1 0 2.96 0a1.48 1.85 0 1 0 -2.96 0M695.91 574.95a1.48 1.85 0 1 0 2.96 0a1.48 1.85 0 1 0 -2.96 0M699.37 575.3a1.48 1.85 0 1 0 2.96 0a1.48 1.85 0 1 0 -2.96 0M702.84 575.09a1.48 1.85 0 1 0 2.96 0a1.48 1.85 0 1 0 -2.96 0M706.31 574a1.48 1.85 0 1 0 2.96 0a1.48 1.85 0 1 0 -2.96 0M709.78 572.5a1.48 1.85 0 1 0 2.96 0a1.48 1.85 0 1 0 -2.96 0M713.25 576.18a1.48 1.85 0 1 0 2.96 0a1.48 1.85 0 1 0 -2.96 0M716.72 574.08a1.48 1.85 0 1 0 2.96 0a1.48 1.85 0 1 0 -2.96 0M720.19 574.35a1.48 1.85 0 1 0 2.96 0a1.48 1.85 0 1 0 -2.96 0M723.66 573.16a1.48 1.85 0 1 0 2.96 0a1.48 1.85 0 1 0 -2.96 0M727.13 572.8a1.48 1.85 0 1 0 2.96 0a1.48 1.85 0 1 0 -2.96 0M730.6 573.95a1.48 1.85 0 1 0 2.96 0a1.48 1.85 0 1 0 -2.96 0M734.07 574.02a1.48 1.85 0 1 0 2.96 0a1.48 1.85 0 1 0 -2.96 0M737.54 572.04a1.48 1.85 0 1 0 2.96 0a1.48 1.85 0 1 0 -2.96 0M741.01 572.15a1.48 1.85 0 1 0 2.96 0a1.48 1.85 0 1 0 -2.96 0M744.48 571.76a1.48 1.85 0 1 0 2.96 0a1.48 1.85 0 1 0 -2.96 0M747.95 571.12a1.48 1.85 0 1 0 2.96 0a1.48 1.85 0 1 0 -2.96 0M751.41 571.06a1.48 1.85 0 1 0 2.96 0a1.48 1.85 0 1 0 -2.96 0M754.88 571.41a1.48 1.85 0 1 0 2.96 0a1.48 1.85 0 1 0 -2.96 0M758.35 569.56a1.48 1.85 0 1 0 2.96 0a1.48 1.85 0 1 0 -2.96 0M761.82 572.86a1.48 1.85 0 1 0 2.96 0a1.48 1.85 0 1 0 -2.96 0M765.29 569.36a1.48 1.85 0 1 0 2.96 0a1.48 1.85 0 1 0 -2.96 0M768.76 570.26a1.48 1.85 0 1 0 2.96 0a1.48 1.85 0 1 0 -2.96 0M772.23 572.21a1.48 1.85 0 1 0 2.96 0a1.48 1.85 0 1 0 -2.96 0M775.7 569.95a1.48 1.85 0 1 0 2.96 0a1.48 1.85 0 1 0 -2.96 0M779.17 569.95a1.48 1.85 0 1 0 2.96 0a1.48 1.85 0 1 0 -2.96 0M782.64 569.81a1.48 1.85 0 1 0 2.96 0a1.48 1.85 0 1 0 -2.96 0M786.11 570.04a1.48 1.85 0 1 0 2.96 0a1.48 1.85 0 1 0 -2.96 0M789.58 566.91a1.48 1.85 0 1 0 2.96 0a1.48 1.85 0 1 0 -2.96 0M793.05 568.54a1.48 1.85 0 1 0 2.96 0a1.48 1.85 0 1 0 -2.96 0M796.52 565.36a1.48 1.85 0 1 0 2.96 0a1.48 1.85 0 1 0 -2.96 0M799.99 567.43a1.48 1.85 0 1 0 2.96 0a1.48 1.85 0 1 0 -2.96 0M803.45 565.67a1.48 1.85 0 1 0 2.96 0a1.48 1.85 0 1 0 -2.96 0M806.92 563.97a1.48 1.85 0 1 0 2.96 0a1.48 1.85 0 1 0 -2.96 0M810.39 562.16a1.48 1.85 0 1 0 2.96 0a1.48 1.85 0 1 0 -2.96 0M813.86 563a1.48 1.85 0 1 0 2.96 0a1.48 1.85 0 1 0 -2.96 0M817.33 561.32a1.48 1.85 0 1 0 2.96 0a1.48 1.85 0 1 0 -2.96 0M820.8 560.58a1.48 1.85 0 1 0 2.96 0a1.48 1.85 0 1 0 -2.96 0M824.27 557.07a1.48 1.85 0 1 0 2.96 0a1.48 1.85 0 1 0 -2.96 0M827.74 557.29a1.48 1.85 0 1 0 2.96 0a1.48 1.85 0 1 0 -2.96 0M831.21 556.39a1.48 1.85 0 1 0 2.96 0a1.48 1.85 0 1 0 -2.96 0M834.68 555.32a1.48 1.85 0 1 0 2.96 0a1.48 1.85 0 1 0 -2.96 0M838.15 551.71a1.48 1.85 0 1 0 2.96 0a1.48 1.85 0 1 0 -2.96 0M841.62 550.35a1.48 1.85 0 1 0 2.96 0a1.48 1.85 0 1 0 -2.96 0M845.09 551.17a1.48 1.85 0 1 0 2.96 0a1.48 1.85 0 1 0 -2.96 0M848.56 548.81a1.48 1.85 0 1 0 2.96 0a1.48 1.85 0 1 0 -2.96 0M852.03 547.34a1.48 1.85 0 1 0 2.96 0a1.48 1.85 0 1 0 -2.96 0M855.49 543.11a1.48 1.85 0 1 0 2.96 0a1.48 1.85 0 1 0 -2.96 0M858.96 541.88a1.48 1.85 0 1 0 2.96 0a1.48 1.85 0 1 0 -2.96 0M862.43 538.81a1.48 1.85 0 1 0 2.96 0a1.48 1.85 0 1 0 -2.96 0M865.9 536.41a1.48 1.85 0 1 0 2.96 0a1.48 1.85 0 1 0 -2.96 0M869.37 534.25a1.48 1.85 0 1 0 2.96 0a1.48 1.85 0 1 0 -2.96 0M872.84 533.46a1.48 1.85 0 1 0 2.96 0a1.48 1.85 0 1 0 -2.96 0M876.31 528.89a1.48 1.85 0 1 0 2.96 0a1.48 1.85 0 1 0 -2.96 0M879.78 526.34a1.48 1.85 0 1 0 2.96 0a1.48 1.85 0 1 0 -2.96 0M883.25 525.15a1.48 1.85 0 1 0 2.96 0a1.48 1.85 0 1 0 -2.96 0M886.72 524.38a1.48 1.85 0 1 0 2.96 0a1.48 1.85 0 1 0 -2.96 0M890.19 522.81a1.48 1.85 0 1 0 2.96 0a1.48 1.85 0 1 0 -2.96 0M893.66 521.31a1.48 1.85 0 1 0 2.96 0a1.48 1.85 0 1 0 -2.96 0M897.13 520.04a1.48 1.85 0 1 0 2.96 0a1.48 1.85 0 1 0 -2.96 0M900.6 516.16a1.48 1.85 0 1 0 2.96 0a1.48 1.85 0 1 0 -2.96 0M904.07 513.6a1.48 1.85 0 1 0 2.96 0a1.48 1.85 0 1 0 -2.96 0M907.53 513.1a1.48 1.85 0 1 0 2.96 0a1.48 1.85 0 1 0 -2.96 0M911 508.56a1.48 1.85 0 1 0 2.96 0a1.48 1.85 0 1 0 -2.96 0M914.47 506.42a1.48 1.85 0 1 0 2.96 0a1.48 1.85 0 1 0 -2.96 0M917.94 502.3a1.48 1.85 0 1 0 2.96 0a1.48 1.85 0 1 0 -2.96 0M921.41 500.79a1.48 1.85 0 1 0 2.96 0a1.48 1.85 0 1 0 -2.96 0M924.88 495.21a1.48 1.85 0 1 0 2.96 0a1.48 1.85 0 1 0 -2.96 0M928.35 493.03a1.48 1.85 0 1 0 2.96 0a1.48 1.85 0 1 0 -2.96 0M931.82 490.71a1.48 1.85 0 1 0 2.96 0a1.48 1.85 0 1 0 -2.96 0M935.29 488.15a1.48 1.85 0 1 0 2.96 0a1.48 1.85 0 1 0 -2.96 0M938.76 486.29a1.48 1.85 0 1 0 2.96 0a1.48 1.85 0 1 0 -2.96 0M942.23 483.45a1.48 1.85 0 1 0 2.96 0a1.48 1.85 0 1 0 -2.96 0M945.7 480.25a1.48 1.85 0 1 0 2.96 0a1.48 1.85 0 1 0 -2.96 0M949.17 476.21a1.48 1.85 0 1 0 2.96 0a1.48 1.85 0 1 0 -2.96 0M952.64 471.22a1.48 1.85 0 1 0 2.96 0a1.48 1.85 0 1 0 -2.96 0M956.11 463.11a1.48 1.85 0 1 0 2.96 0a1.48 1.85 0 1 0 -2.96 0M959.57 447.76a1.48 1.85 0 1 0 2.96 0a1.48 1.85 0 1 0 -2.96 0M963.04 429.76a1.48 1.85 0 1 0 2.96 0a1.48 1.85 0 1 0 -2.96 0M966.51 414.42a1.48 1.85 0 1 0 2.96 0a1.48 1.85 0 1 0 -2.96 0M969.98 385.49a1.48 1.85 0 1 0 2.96 0a1.48 1.85 0 1 0 -2.96 0M973.45 362.41a1.48 1.85 0 1 0 2.96 0a1.48 1.85 0 1 0 -2.96 0M976.92 332.25a1.48 1.85 0 1 0 2.96 0a1.48 1.85 0 1 0 -2.96 0M980.39 290.72a1.48 1.85 0 1 0 2.96 0a1.48 1.85 0 1 0 -2.96 0M983.86 244.33a1.48 1.85 0 1 0 2.96 0a1.48 1.85 0 1 0 -2.96 0M987.33 183.06a1.48 1.85 0 1 0 2.96 0a1.48 1.85 0 1 0 -2.96 0M990.8 124.45a1.48 1.85 0 1 0 2.96 0a1.48 1.85 0 1 0 -2.96 0M994.27 84.78a1.48 1.85 0 1 0 2.96 0a1.48 1.85 0 1 0 -2.96 0M997.74 66.88a1.48 1.85 0 1 0 2.96 0a1.48 1.85 0 1 0 -2.96 0M1001.21 99.98a1.48 1.85 0 1 0 2.96 0a1.48 1.85 0 1 0 -2.96 0M1004.68 174.95a1.48 1.85 0 1 0 2.96 0a1.48 1.85 0 1 0 -2.96 0M1008.15 255.96a1.48 1.85 0 1 0 2.96 0a1.48 1.85 0 1 0 -2.96 0M1011.61 332.17a1.48 1.85 0 1 0 2.96 0a1.48 1.85 0 1 0 -2.96 0M1015.08 396.02a1.48 1.85 0 1 0 2.96 0a1.48 1.85 0 1 0 -2.96 0M1018.55 441.34a1.48 1.85 0 1 0 2.96 0a1.48 1.85 0 1 0 -2.96 0M1022.02 467.29a1.48 1.85 0 1 0 2.96 0a1.48 1.85 0 1 0 -2.96 0M1025.49 488.59a1.48 1.85 0 1 0 2.96 0a1.48 1.85 0 1 0 -2.96 0M1028.96 504.31a1.48 1.85 0 1 0 2.96 0a1.48 1.85 0 1 0 -2.96 0M1032.43 517.99a1.48 1.85 0 1 0 2.96 0a1.48 1.85 0 1 0 -2.96 0M1035.9 527.85a1.48 1.85 0 1 0 2.96 0a1.48 1.85 0 1 0 -2.96 0M1039.37 534.78a1.48 1.85 0 1 0 2.96 0a1.48 1.85 0 1 0 -2.96 0M1042.84 539.71a1.48 1.85 0 1 0 2.96 0a1.48 1.85 0 1 0 -2.96 0M1046.31 544.51a1.48 1.85 0 1 0 2.96 0a1.48 1.85 0 1 0 -2.96 0M1049.78 545.87a1.48 1.85 0 1 0 2.96 0a1.48 1.85 0 1 0 -2.96 0M1053.25 551.17a1.48 1.85 0 1 0 2.96 0a1.48 1.85 0 1 0 -2.96 0M1056.72 552.43a1.48 1.85 0 1 0 2.96 0a1.48 1.85 0 1 0 -2.96 0M1060.19 555.72a1.48 1.85 0 1 0 2.96 0a1.48 1.85 0 1 0 -2.96 0M1063.65 556.05a1.48 1.85 0 1 0 2.96 0a1.48 1.85 0 1 0 -2.96 0M1067.12 558.2a1.48 1.85 0 1 0 2.96 0a1.48 1.85 0 1 0 -2.96 0M1070.59 559.91a1.48 1.85 0 1 0 2.96 0a1.48 1.85 0 1 0 -2.96 0M1074.06 561.73a1.48 1.85 0 1 0 2.96 0a1.48 1.85 0 1 0 -2.96 0M1077.53 563.36a1.48 1.85 0 1 0 2.96 0a1.48 1.85 0 1 0 -2.96 0M1081 566.36a1.48 1.85 0 1 0 2.96 0a1.48 1.85 0 1 0 -2.96 0M1084.47 567.08a1.48 1.85 0 1 0 2.96 0a1.48 1.85 0 1 0 -2.96 0M1087.94 567.3a1.48 1.85 0 1 0 2.96 0a1.48 1.85 0 1 0 -2.96 0M1091.41 567.28a1.48 1.85 0 1 0 2.96 0a1.48 1.85 0 1 0 -2.96 0M1094.88 570.56a1.48 1.85 0 1 0 2.96 0a1.48 1.85 0 1 0 -2.96 0M1098.35 570.45a1.48 1.85 0 1 0 2.96 0a1.48 1.85 0 1 0 -2.96 0M1101.82 570.31a1.48 1.85 0 1 0 2.96 0a1.48 1.85 0 1 0 -2.96 0M1105.29 570.23a1.48 1.85 0 1 0 2.96 0a1.48 1.85 0 1 0 -2.96 0M1108.76 570.25a1.48 1.85 0 1 0 2.96 0a1.48 1.85 0 1 0 -2.96 0M1112.23 572.58a1.48 1.85 0 1 0 2.96 0a1.48 1.85 0 1 0 -2.96 0M1115.69 572.95a1.48 1.85 0 1 0 2.96 0a1.48 1.85 0 1 0 -2.96 0M1119.16 572.28a1.48 1.85 0 1 0 2.96 0a1.48 1.85 0 1 0 -2.96 0M1122.63 572.49a1.48 1.85 0 1 0 2.96 0a1.48 1.85 0 1 0 -2.96 0M1126.1 574.44a1.48 1.85 0 1 0 2.96 0a1.48 1.85 0 1 0 -2.96 0M1129.57 573.45a1.48 1.85 0 1 0 2.96 0a1.48 1.85 0 1 0 -2.96 0M1133.04 573a1.48 1.85 0 1 0 2.96 0a1.48 1.85 0 1 0 -2.96 0M1136.51 572.67a1.48 1.85 0 1 0 2.96 0a1.48 1.85 0 1 0 -2.96 0M1139.98 574.41a1.48 1.85 0 1 0 2.96 0a1.48 1.85 0 1 0 -2.96 0M1143.45 574.45a1.48 1.85 0 1 0 2.96 0a1.48 1.85 0 1 0 -2.96 0M1146.92 572.82a1.48 1.85 0 1 0 2.96 0a1.48 1.85 0 1 0 -2.96 0M1150.39 571.88a1.48 1.85 0 1 0 2.96 0a1.48 1.85 0 1 0 -2.96 0M1153.86 574.72a1.48 1.85 0 1 0 2.96 0a1.48 1.85 0 1 0 -2.96 0M1157.33 574.85a1.48 1.85 0 1 0 2.96 0a1.48 1.85 0 1 0 -2.96 0M1160.8 575.35a1.48 1.85 0 1 0 2.96 0a1.48 1.85 0 1 0 -2.96 0M1164.27 575.13a1.48 1.85 0 1 0 2.96 0a1.48 1.85 0 1 0 -2.96 0M1167.73 572.92a1.48 1.85 0 1 0 2.96 0a1.48 1.85 0 1 0 -2.96 0M1171.2 575.73a1.48 1.85 0 1 0 2.96 0a1.48 1.85 0 1 0 -2.96 0M1174.67 574.43a1.48 1.85 0 1 0 2.96 0a1.48 1.85 0 1 0 -2.96 0M1178.14 576.3a1.48 1.85 0 1 0 2.96 0a1.48 1.85 0 1 0 -2.96 0M1181.61 575.31a1.48 1.85 0 1 0 2.96 0a1.48 1.85 0 1 0 -2.96 0M1185.08 574.79a1.48 1.85 0 1 0 2.96 0a1.48 1.85 0 1 0 -2.96 0M1188.55 574.16a1.48 1.85 0 1 0 2.96 0a1.48 1.85 0 1 0 -2.96 0M1192.02 574.82a1.48 1.85 0 1 0 2.96 0a1.48 1.85 0 1 0 -2.96 0" fill="#f08c1c"/>
<path d="M673.1 577.48 L676.57 576 L680.04 576 L683.51 576.48 L686.98 575.9 L690.45 576.87 L693.92 573.96 L697.39 575.93 L700.85 574.95 L704.32 576.05 L707.79 575.86 L711.26 575.33 L714.73 573.69 L718.2 573.56 L721.67 574.1 L725.14 573.25 L728.61 571.61 L732.08 571.88 L735.55 573.5 L739.02 571.82 L742.49 572.33 L745.96 572.37 L749.43 570.65 L752.89 571.37 L756.36 572.86 L759.83 572.57 L763.3 571.33 L766.77 571.19 L770.24 570.34 L773.71 570.55 L777.18 571.13 L780.65 568.28 L784.12 568.73 L787.59 568.05 L791.06 568.56 L794.53 565.97 L798 568.37 L801.47 564.84 L804.93 566.69 L808.4 563.36 L811.87 562.54 L815.34 563.19 L818.81 558.51 L822.28 560.04 L825.75 560.13 L829.22 556.23 L832.69 556.84 L836.16 554.04 L839.63 554.23 L843.1 551.52 L846.57 551.8 L850.04 548.64 L853.51 546.47 L856.97 543.83 L860.44 540.57 L863.91 541.25 L867.38 538.29 L870.85 536.81 L874.32 534.25 L877.79 532.1 L881.26 526.82 L884.73 526.34 L888.2 523.72 L891.67 521.95 L895.14 520.39 L898.61 516.91 L902.08 514.74 L905.55 511.11 L909.01 512.31 L912.48 508.2 L915.95 504.55 L919.42 502.87 L922.89 498.58 L926.36 494.7 L929.83 492.15 L933.3 489.55 L936.77 485.98 L940.24 482.58 L943.71 480.66 L947.18 479.89 L950.65 472.88 L954.12 469.56 L957.59 459.23 L961.05 440.26 L964.52 417.58 L967.99 396.9 L971.46 373.01 L974.93 348.56 L978.4 312.96 L981.87 266.19 L985.34 213.93 L988.81 153.39 L992.28 102.16 L995.75 74.57 L999.22 81.84 L1002.69 144.17 L1006.16 222.28 L1009.63 303.83 L1013.09 369.09 L1016.56 422.19 L1020.03 461.59 L1023.5 483.59 L1026.97 500.39 L1030.44 512.73 L1033.91 519.57 L1037.38 532.44 L1040.85 535.97 L1044.32 542.35 L1047.79 546.81 L1051.26 550.49 L1054.73 551.08 L1058.2 554 L1061.67 556.07 L1065.13 556.02 L1068.6 559.01 L1072.07 559.96 L1075.54 559.81 L1079.01 563.39 L1082.48 564.53 L1085.95 567.68 L1089.42 567.13 L1092.89 569.52 L1096.36 569.55 L1099.83 571.14 L1103.3 568.43 L1106.77 571.21 L1110.24 570.65 L1113.71 572.44 L1117.17 571.76 L1120.64 572.37 L1124.11 572.62 L1127.58 573.47 L1131.05 572.53 L1134.52 573.81 L1137.99 573.67 L1141.46 573.66 L1144.93 573.16 L1148.4 575.14 L1151.87 574.61 L1155.34 574.63 L1158.81 575.73 L1162.28 574.15 L1165.75 575.04 L1169.21 574.37 L1172.68 575.76 L1176.15 575.4 L1179.62 574.56 L1183.09 575.12 L1186.56 575.43 L1190.03 574.38 L1193.5 576.26" fill="none" stroke="#dd33dd" stroke-width="1.2" stroke-linejoin="round"/>
<path d="M671.62 577.48a1.48 1.85 0 1 0 2.96 0a1.48 1.85 0 1 0 -2.96 0M675.09 576a1.48 1.85 0 1 0 2.96 0a1.48 1.85 0 1 0 -2.96 0M678.56 576a1.48 1.85 0 1 0 2.96 0a1.48 1.85 0 1 0 -2.96 0M682.03 576.48a1.48 1.85 0 1 0 2.96 0a1.48 1.85 0 1 0 -2.96 0M685.5 575.9a1.48 1.85 0 1 0 2.96 0a1.48 1.85 0 1 0 -2.96 0M688.97 576.87a1.48 1.85 0 1 0 2.96 0a1.48 1.85 0 1 0 -2.96 0M692.44 573.96a1.48 1.85 0 1 0 2.96 0a1.48 1.85 0 1 0 -2.96 0M695.91 575.93a1.48 1.85 0 1 0 2.96 0a1.48 1.85 0 1 0 -2.96 0M699.37 574.95a1.48 1.85 0 1 0 2.96 0a1.48 1.85 0 1 0 -2.96 0M702.84 576.05a1.48 1.85 0 1 0 2.96 0a1.48 1.85 0 1 0 -2.96 0M706.31 575.86a1.48 1.85 0 1 0 2.96 0a1.48 1.85 0 1 0 -2.96 0M709.78 575.33a1.48 1.85 0 1 0 2.96 0a1.48 1.85 0 1 0 -2.96 0M713.25 573.69a1.48 1.85 0 1 0 2.96 0a1.48 1.85 0 1 0 -2.96 0M716.72 573.56a1.48 1.85 0 1 0 2.96 0a1.48 1.85 0 1 0 -2.96 0M720.19 574.1a1.48 1.85 0 1 0 2.96 0a1.48 1.85 0 1 0 -2.96 0M723.66 573.25a1.48 1.85 0 1 0 2.96 0a1.48 1.85 0 1 0 -2.96 0M727.13 571.61a1.48 1.85 0 1 0 2.96 0a1.48 1.85 0 1 0 -2.96 0M730.6 571.88a1.48 1.85 0 1 0 2.96 0a1.48 1.85 0 1 0 -2.96 0M734.07 573.5a1.48 1.85 0 1 0 2.96 0a1.48 1.85 0 1 0 -2.96 0M737.54 571.82a1.48 1.85 0 1 0 2.96 0a1.48 1.85 0 1 0 -2.96 0M741.01 572.33a1.48 1.85 0 1 0 2.96 0a1.48 1.85 0 1 0 -2.96 0M744.48 572.37a1.48 1.85 0 1 0 2.96 0a1.48 1.85 0 1 0 -2.96 0M747.95 570.65a1.48 1.85 0 1 0 2.96 0a1.48 1.85 0 1 0 -2.96 0M751.41 571.37a1.48 1.85 0 1 0 2.96 0a1.48 1.85 0 1 0 -2.96 0M754.88 572.86a1.48 1.85 0 1 0 2.96 0a1.48 1.85 0 1 0 -2.96 0M758.35 572.57a1.48 1.85 0 1 0 2.96 0a1.48 1.85 0 1 0 -2.96 0M761.82 571.33a1.48 1.85 0 1 0 2.96 0a1.48 1.85 0 1 0 -2.96 0M765.29 571.19a1.48 1.85 0 1 0 2.96 0a1.48 1.85 0 1 0 -2.96 0M768.76 570.34a1.48 1.85 0 1 0 2.96 0a1.48 1.85 0 1 0 -2.96 0M772.23 570.55a1.48 1.85 0 1 0 2.96 0a1.48 1.85 0 1 0 -2.96 0M775.7 571.13a1.48 1.85 0 1 0 2.96 0a1.48 1.85 0 1 0 -2.96 0M779.17 568.28a1.48 1.85 0 1 0 2.96 0a1.48 1.85 0 1 0 -2.96 0M782.64 568.73a1.48 1.85 0 1 0 2.96 0a1.48 1.85 0 1 0 -2.96 0M786.11 568.05a1.48 1.85 0 1 0 2.96 0a1.48 1.85 0 1 0 -2.96 0M789.58 568.56a1.48 1.85 0 1 0 2.96 0a1.48 1.85 0 1 0 -2.96 0M793.05 565.97a1.48 1.85 0 1 0 2.96 0a1.48 1.85 0 1 0 -2.96 0M796.52 568.37a1.48 1.85 0 1 0 2.96 0a1.48 1.85 0 1 0 -2.96 0M799.99 564.84a1.48 1.85 0 1 0 2.96 0a1.48 1.85 0 1 0 -2.96 0M803.45 566.69a1.48 1.85 0 1 0 2.96 0a1.48 1.85 0 1 0 -2.96 0M806.92 563.36a1.48 1.85 0 1 0 2.96 0a1.48 1.85 0 1 0 -2.96 0M810.39 562.54a1.48 1.85 0 1 0 2.96 0a1.48 1.85 0 1 0 -2.96 0M813.86 563.19a1.48 1.85 0 1 0 2.96 0a1.48 1.85 0 1 0 -2.96 0M817.33 558.51a1.48 1.85 0 1 0 2.96 0a1.48 1.85 0 1 0 -2.96 0M820.8 560.04a1.48 1.85 0 1 0 2.96 0a1.48 1.85 0 1 0 -2.96 0M824.27 560.13a1.48 1.85 0 1 0 2.96 0a1.48 1.85 0 1 0 -2.96 0M827.74 556.23a1.48 1.85 0 1 0 2.96 0a1.48 1.85 0 1 0 -2.96 0M831.21 556.84a1.48 1.85 0 1 0 2.96 0a1.48 1.85 0 1 0 -2.96 0M834.68 554.04a1.48 1.85 0 1 0 2.96 0a1.48 1.85 0 1 0 -2.96 0M838.15 554.23a1.48 1.85 0 1 0 2.96 0a1.48 1.85 0 1 0 -2.96 0M841.62 551.52a1.48 1.85 0 1 0 2.96 0a1.48 1.85 0 1 0 -2.96 0M845.09 551.8a1.48 1.85 0 1 0 2.96 0a1.48 1.85 0 1 0 -2.96 0M848.56 548.64a1.48 1.85 0 1 0 2.96 0a1.48 1.85 0 1 0 -2.96 0M852.03 546.47a1.48 1.85 0 1 0 2.96 0a1.48 1.85 0 1 0 -2.96 0M855.49 543.83a1.48 1.85 0 1 0 2.96 0a1.48 1.85 0 1 0 -2.96 0M858.96 540.57a1.48 1.85 0 1 0 2.96 0a1.48 1.85 0 1 0 -2.96 0M862.43 541.25a1.48 1.85 0 1 0 2.96 0a1.48 1.85 0 1 0 -2.96 0M865.9 538.29a1.48 1.85 0 1 0 2.96 0a1.48 1.85 0 1 0 -2.96 0M869.37 536.81a1.48 1.85 0 1 0 2.96 0a1.48 1.85 0 1 0 -2.96 0M872.84 534.25a1.48 1.85 0 1 0 2.96 0a1.48 1.85 0 1 0 -2.96 0M876.31 532.1a1.48 1.85 0 1 0 2.96 0a1.48 1.85 0 1 0 -2.96 0M879.78 526.82a1.48 1.85 0 1 0 2.96 0a1.48 1.85 0 1 0 -2.96 0M883.25 526.34a1.48 1.85 0 1 0 2.96 0a1.48 1.85 0 1 0 -2.96 0M886.72 523.72a1.48 1.85 0 1 0 2.96 0a1.48 1.85 0 1 0 -2.96 0M890.19 521.95a1.48 1.85 0 1 0 2.96 0a1.48 1.85 0 1 0 -2.96 0M893.66 520.39a1.48 1.85 0 1 0 2.96 0a1.48 1.85 0 1 0 -2.96 0M897.13 516.91a1.48 1.85 0 1 0 2.96 0a1.48 1.85 0 1 0 -2.96 0M900.6 514.74a1.48 1.85 0 1 0 2.96 0a1.48 1.85 0 1 0 -2.96 0M904.07 511.11a1.48 1.85 0 1 0 2.96 0a1.48 1.85 0 1 0 -2.96 0M907.53 512.31a1.48 1.85 0 1 0 2.96 0a1.48 1.85 0 1 0 -2.96 0M911 508.2a1.48 1.85 0 1 0 2.96 0a1.48 1.85 0 1 0 -2.96 0M914.47 504.55a1.48 1.85 0 1 0 2.96 0a1.48 1.85 0 1 0 -2.96 0M917.94 502.87a1.48 1.85 0 1 0 2.96 0a1.48 1.85 0 1 0 -2.96 0M921.41 498.58a1.48 1.85 0 1 0 2.96 0a1.48 1.85 0 1 0 -2.96 0M924.88 494.7a1.48 1.85 0 1 0 2.96 0a1.48 1.85 0 1 0 -2.96 0M928.35 492.15a1.48 1.85 0 1 0 2.96 0a1.48 1.85 0 1 0 -2.96 0M931.82 489.55a1.48 1.85 0 1 0 2.96 0a1.48 1.85 0 1 0 -2.96 0M935.29 485.98a1.48 1.85 0 1 0 2.96 0a1.48 1.85 0 1 0 -2.96 0M938.76 482.58a1.48 1.85 0 1 0 2.96 0a1.48 1.85 0 1 0 -2.96 0M942.23 480.66a1.48 1.85 0 1 0 2.96 0a1.48 1.85 0 1 0 -2.96 0M945.7 479.89a1.48 1.85 0 1 0 2.96 0a1.48 1.85 0 1 0 -2.96 0M949.17 472.88a1.48 1.85 0 1 0 2.96 0a1.48 1.85 0 1 0 -2.96 0M952.64 469.56a1.48 1.85 0 1 0 2.96 0a1.48 1.85 0 1 0 -2.96 0M956.11 459.23a1.48 1.85 0 1 0 2.96 0a1.48 1.85 0 1 0 -2.96 0M959.57 440.26a1.48 1.85 0 1 0 2.96 0a1.48 1.85 0 1 0 -2.96 0M963.04 417.58a1.48 1.85 0 1 0 2.96 0a1.48 1.85 0 1 0 -2.96 0M966.51 396.9a1.48 1.85 0 1 0 2.96 0a1.48 1.85 0 1 0 -2.96 0M969.98 373.01a1.48 1.85 0 1 0 2.96 0a1.48 1.85 0 1 0 -2.96 0M973.45 348.56a1.48 1.85 0 1 0 2.96 0a1.48 1.85 0 1 0 -2.96 0M976.92 312.96a1.48 1.85 0 1 0 2.96 0a1.48 1.85 0 1 0 -2.96 0M980.39 266.19a1.48 1.85 0 1 0 2.96 0a1.48 1.85 0 1 0 -2.96 0M983.86 213.93a1.48 1.85 0 1 0 2.96 0a1.48 1.85 0 1 0 -2.96 0M987.33 153.39a1.48 1.85 0 1 0 2.96 0a1.48 1.85 0 1 0 -2.96 0M990.8 102.16a1.48 1.85 0 1 0 2.96 0a1.48 1.85 0 1 0 -2.96 0M994.27 74.57a1.48 1.85 0 1 0 2.96 0a1.48 1.85 0 1 0 -2.96 0M997.74 81.84a1.48 1.85 0 1 0 2.96 0a1.48 1.85 0 1 0 -2.96 0M1001.21 144.17a1.48 1.85 0 1 0 2.96 0a1.48 1.85 0 1 0 -2.96 0M1004.68 222.28a1.48 1.85 0 1 0 2.96 0a1.48 1.85 0 1 0 -2.96 0M1008.15 303.83a1.48 1.85 0 1 0 2.96 0a1.48 1.85 0 1 0 -2.96 0M1011.61 369.09a1.48 1.85 0 1 0 2.96 0a1.48 1.85 0 1 0 -2.96 0M1015.08 422.19a1.48 1.85 0 1 0 2.96 0a1.48 1.85 0 1 0 -2.96 0M1018.55 461.59a1.48 1.85 0 1 0 2.96 0a1.48 1.85 0 1 0 -2.96 0M1022.02 483.59a1.48 1.85 0 1 0 2.96 0a1.48 1.85 0 1 0 -2.96 0M1025.49 500.39a1.48 1.85 0 1 0 2.96 0a1.48 1.85 0 1 0 -2.96 0M1028.96 512.73a1.48 1.85 0 1 0 2.96 0a1.48 1.85 0 1 0 -2.96 0M1032.43 519.57a1.48 1.85 0 1 0 2.96 0a1.48 1.85 0 1 0 -2.96 0M1035.9 532.44a1.48 1.85 0 1 0 2.96 0a1.48 1.85 0 1 0 -2.96 0M1039.37 535.97a1.48 1.85 0 1 0 2.96 0a1.48 1.85 0 1 0 -2.96 0M1042.84 542.35a1.48 1.85 0 1 0 2.96 0a1.48 1.85 0 1 0 -2.96 0M1046.31 546.81a1.48 1.85 0 1 0 2.96 0a1.48 1.85 0 1 0 -2.96 0M1049.78 550.49a1.48 1.85 0 1 0 2.96 0a1.48 1.85 0 1 0 -2.96 0M1053.25 551.08a1.48 1.85 0 1 0 2.96 0a1.48 1.85 0 1 0 -2.96 0M1056.72 554a1.48 1.85 0 1 0 2.96 0a1.48 1.85 0 1 0 -2.96 0M1060.19 556.07a1.48 1.85 0 1 0 2.96 0a1.48 1.85 0 1 0 -2.96 0M1063.65 556.02a1.48 1.85 0 1 0 2.96 0a1.48 1.85 0 1 0 -2.96 0M1067.12 559.01a1.48 1.85 0 1 0 2.96 0a1.48 1.85 0 1 0 -2.96 0M1070.59 559.96a1.48 1.85 0 1 0 2.96 0a1.48 1.85 0 1 0 -2.96 0M1074.06 559.81a1.48 1.85 0 1 0 2.96 0a1.48 1.85 0 1 0 -2.96 0M1077.53 563.39a1.48 1.85 0 1 0 2.96 0a1.48 1.85 0 1 0 -2.96 0M1081 564.53a1.48 1.85 0 1 0 2.96 0a1.48 1.85 0 1 0 -2.96 0M1084.47 567.68a1.48 1.85 0 1 0 2.96 0a1.48 1.85 0 1 0 -2.96 0M1087.94 567.13a1.48 1.85 0 1 0 2.96 0a1.48 1.85 0 1 0 -2.96 0M1091.41 569.52a1.48 1.85 0 1 0 2.96 0a1.48 1.85 0 1 0 -2.96 0M1094.88 569.55a1.48 1.85 0 1 0 2.96 0a1.48 1.85 0 1 0 -2.96 0M1098.35 571.14a1.48 1.85 0 1 0 2.96 0a1.48 1.85 0 1 0 -2.96 0M1101.82 568.43a1.48 1.85 0 1 0 2.96 0a1.48 1.85 0 1 0 -2.96 0M1105.29 571.21a1.48 1.85 0 1 0 2.96 0a1.48 1.85 0 1 0 -2.96 0M1108.76 570.65a1.48 1.85 0 1 0 2.96 0a1.48 1.85 0 1 0 -2.96 0M1112.23 572.44a1.48 1.85 0 1 0 2.96 0a1.48 1.85 0 1 0 -2.96 0M1115.69 571.76a1.48 1.85 0 1 0 2.96 0a1.48 1.85 0 1 0 -2.96 0M1119.16 572.37a1.48 1.85 0 1 0 2.96 0a1.48 1.85 0 1 0 -2.96 0M1122.63 572.62a1.48 1.85 0 1 0 2.96 0a1.48 1.85 0 1 0 -2.96 0M1126.1 573.47a1.48 1.85 0 1 0 2.96 0a1.48 1.85 0 1 0 -2.96 0M1129.57 572.53a1.48 1.85 0 1 0 2.96 0a1.48 1.85 0 1 0 -2.96 0M1133.04 573.81a1.48 1.85 0 1 0 2.96 0a1.48 1.85 0 1 0 -2.96 0M1136.51 573.67a1.48 1.85 0 1 0 2.96 0a1.48 1.85 0 1 0 -2.96 0M1139.98 573.66a1.48 1.85 0 1 0 2.96 0a1.48 1.85 0 1 0 -2.96 0M1143.45 573.16a1.48 1.85 0 1 0 2.96 0a1.48 1.85 0 1 0 -2.96 0M1146.92 575.14a1.48 1.85 0 1 0 2.96 0a1.48 1.85 0 1 0 -2.96 0M1150.39 574.61a1.48 1.85 0 1 0 2.96 0a1.48 1.85 0 1 0 -2.96 0M1153.86 574.63a1.48 1.85 0 1 0 2.96 0a1.48 1.85 0 1 0 -2.96 0M1157.33 575.73a1.48 1.85 0 1 0 2.96 0a1.48 1.85 0 1 0 -2.96 0M1160.8 574.15a1.48 1.85 0 1 0 2.96 0a1.48 1.85 0 1 0 -2.96 0M1164.27 575.04a1.48 1.85 0 1 0 2.96 0a1.48 1.85 0 1 0 -2.96 0M1167.73 574.37a1.48 1.85 0 1 0 2.96 0a1.48 1.85 0 1 0 -2.96 0M1171.2 575.76a1.48 1.85 0 1 0 2.96 0a1.48 1.85 0 1 0 -2.96 0M1174.67 575.4a1.48 1.85 0 1 0 2.96 0a1.48 1.85 0 1 0 -2.96 0M1178.14 574.56a1.48 1.85 0 1 0 2.96 0a1.48 1.85 0 1 0 -2.96 0M1181.61 575.12a1.48 1.85 0 1 0 2.96 0a1.48 1.85 0 1 0 -2.96 0M1185.08 575.43a1.48 1.85 0 1 0 2.96 0a1.48 1.85 0 1 0 -2.96 0M1188.55 574.38a1.48 1.85 0 1 0 2.96 0a1.48 1.85 0 1 0 -2.96 0M1192.02 576.26a1.48 1.85 0 1 0 2.96 0a1.48 1.85 0 1 0 -2.96 0" fill="#dd33dd"/>
<path d="M673.1 574.86 L676.57 575.57 L680.04 575.45 L683.51 575.34 L686.98 576.59 L690.45 575.43 L693.92 575.52 L697.39 575.01 L700.85 573.93 L704.32 574.89 L707.79 575.31 L711.26 574.52 L714.73 573.68 L718.2 572.82 L721.67 575.6 L725.14 572.93 L728.61 572.73 L732.08 572 L735.55 573.46 L739.02 573.02 L742.49 571.88 L745.96 572.22 L749.43 572.33 L752.89 571.41 L756.36 570.45 L759.83 570.88 L763.3 571.07 L766.77 569.67 L770.24 570 L773.71 571.15 L777.18 571.43 L780.65 570.7 L784.12 569.5 L787.59 569.64 L791.06 567.29 L794.53 566.98 L798 566.17 L801.47 566.53 L804.93 563.76 L808.4 562.92 L811.87 564.12 L815.34 560.93 L818.81 558.45 L822.28 560.1 L825.75 559.32 L829.22 556.25 L832.69 555.03 L836.16 554.01 L839.63 553.35 L843.1 553.18 L846.57 551.65 L850.04 547.65 L853.51 548.64 L856.97 543.3 L860.44 541.96 L863.91 539.55 L867.38 537.1 L870.85 534.04 L874.32 535.41 L877.79 530.47 L881.26 529.71 L884.73 525.13 L888.2 524.6 L891.67 521.35 L895.14 520.87 L898.61 519.95 L902.08 515.52 L905.55 513.68 L909.01 511.51 L912.48 509.6 L915.95 506.8 L919.42 502.2 L922.89 498.45 L926.36 495.67 L929.83 493.7 L933.3 491.21 L936.77 485.64 L940.24 481.85 L943.71 480.03 L947.18 477.22 L950.65 474.63 L954.12 467.14 L957.59 457.67 L961.05 441.99 L964.52 418.99 L967.99 398.81 L971.46 374.75 L974.93 348.7 L978.4 315.13 L981.87 266.7 L985.34 210.18 L988.81 155.24 L992.28 103.31 L995.75 75.77 L999.22 84.5 L1002.69 141.89 L1006.16 224.32 L1009.63 304.35 L1013.09 370.87 L1016.56 423.8 L1020.03 461.15 L1023.5 481.19 L1026.97 497.4 L1030.44 509.4 L1033.91 521.86 L1037.38 529.76 L1040.85 535.31 L1044.32 543.2 L1047.79 545.16 L1051.26 550.3 L1054.73 553.08 L1058.2 553.35 L1061.67 556.73 L1065.13 557.55 L1068.6 559.16 L1072.07 559.03 L1075.54 561.13 L1079.01 562.24 L1082.48 564.57 L1085.95 566.09 L1089.42 568.07 L1092.89 566.69 L1096.36 569.43 L1099.83 570.07 L1103.3 571.31 L1106.77 568.46 L1110.24 572.01 L1113.71 570.46 L1117.17 572 L1120.64 571.8 L1124.11 571.74 L1127.58 573.89 L1131.05 573.86 L1134.52 574.47 L1137.99 573.73 L1141.46 572.27 L1144.93 574.6 L1148.4 574.4 L1151.87 575.64 L1155.34 574.49 L1158.81 573.72 L1162.28 574.89 L1165.75 573.62 L1169.21 574.45 L1172.68 574.73 L1176.15 575.37 L1179.62 574.99 L1183.09 574.54 L1186.56 575.8 L1190.03 576.43 L1193.5 576.3" fill="none" stroke="#e0187f" stroke-width="1.2" stroke-linejoin="round"/>
<path d="M671.62 574.86a1.48 1.85 0 1 0 2.96 0a1.48 1.85 0 1 0 -2.96 0M675.09 575.57a1.48 1.85 0 1 0 2.96 0a1.48 1.85 0 1 0 -2.96 0M678.56 575.45a1.48 1.85 0 1 0 2.96 0a1.48 1.85 0 1 0 -2.96 0M682.03 575.34a1.48 1.85 0 1 0 2.96 0a1.48 1.85 0 1 0 -2.96 0M685.5 576.59a1.48 1.85 0 1 0 2.96 0a1.48 1.85 0 1 0 -2.96 0M688.97 575.43a1.48 1.85 0 1 0 2.96 0a1.48 1.85 0 1 0 -2.96 0M692.44 575.52a1.48 1.85 0 1 0 2.96 0a1.48 1.85 0 1 0 -2.96 0M695.91 575.01a1.48 1.85 0 1 0 2.96 0a1.48 1.85 0 1 0 -2.96 0M699.37 573.93a1.48 1.85 0 1 0 2.96 0a1.48 1.85 0 1 0 -2.96 0M702.84 574.89a1.48 1.85 0 1 0 2.96 0a1.48 1.85 0 1 0 -2.96 0M706.31 575.31a1.48 1.85 0 1 0 2.96 0a1.48 1.85 0 1 0 -2.96 0M709.78 574.52a1.48 1.85 0 1 0 2.96 0a1.48 1.85 0 1 0 -2.96 0M713.25 573.68a1.48 1.85 0 1 0 2.96 0a1.48 1.85 0 1 0 -2.96 0M716.72 572.82a1.48 1.85 0 1 0 2.96 0a1.48 1.85 0 1 0 -2.96 0M720.19 575.6a1.48 1.85 0 1 0 2.96 0a1.48 1.85 0 1 0 -2.96 0M723.66 572.93a1.48 1.85 0 1 0 2.96 0a1.48 1.85 0 1 0 -2.96 0M727.13 572.73a1.48 1.85 0 1 0 2.96 0a1.48 1.85 0 1 0 -2.96 0M730.6 572a1.48 1.85 0 1 0 2.96 0a1.48 1.85 0 1 0 -2.96 0M734.07 573.46a1.48 1.85 0 1 0 2.96 0a1.48 1.85 0 1 0 -2.96 0M737.54 573.02a1.48 1.85 0 1 0 2.96 0a1.48 1.85 0 1 0 -2.96 0M741.01 571.88a1.48 1.85 0 1 0 2.96 0a1.48 1.85 0 1 0 -2.96 0M744.48 572.22a1.48 1.85 0 1 0 2.96 0a1.48 1.85 0 1 0 -2.96 0M747.95 572.33a1.48 1.85 0 1 0 2.96 0a1.48 1.85 0 1 0 -2.96 0M751.41 571.41a1.48 1.85 0 1 0 2.96 0a1.48 1.85 0 1 0 -2.96 0M754.88 570.45a1.48 1.85 0 1 0 2.96 0a1.48 1.85 0 1 0 -2.96 0M758.35 570.88a1.48 1.85 0 1 0 2.96 0a1.48 1.85 0 1 0 -2.96 0M761.82 571.07a1.48 1.85 0 1 0 2.96 0a1.48 1.85 0 1 0 -2.96 0M765.29 569.67a1.48 1.85 0 1 0 2.96 0a1.48 1.85 0 1 0 -2.96 0M768.76 570a1.48 1.85 0 1 0 2.96 0a1.48 1.85 0 1 0 -2.96 0M772.23 571.15a1.48 1.85 0 1 0 2.96 0a1.48 1.85 0 1 0 -2.96 0M775.7 571.43a1.48 1.85 0 1 0 2.96 0a1.48 1.85 0 1 0 -2.96 0M779.17 570.7a1.48 1.85 0 1 0 2.96 0a1.48 1.85 0 1 0 -2.96 0M782.64 569.5a1.48 1.85 0 1 0 2.96 0a1.48 1.85 0 1 0 -2.96 0M786.11 569.64a1.48 1.85 0 1 0 2.96 0a1.48 1.85 0 1 0 -2.96 0M789.58 567.29a1.48 1.85 0 1 0 2.96 0a1.48 1.85 0 1 0 -2.96 0M793.05 566.98a1.48 1.85 0 1 0 2.96 0a1.48 1.85 0 1 0 -2.96 0M796.52 566.17a1.48 1.85 0 1 0 2.96 0a1.48 1.85 0 1 0 -2.96 0M799.99 566.53a1.48 1.85 0 1 0 2.96 0a1.48 1.85 0 1 0 -2.96 0M803.45 563.76a1.48 1.85 0 1 0 2.96 0a1.48 1.85 0 1 0 -2.96 0M806.92 562.92a1.48 1.85 0 1 0 2.96 0a1.48 1.85 0 1 0 -2.96 0M810.39 564.12a1.48 1.85 0 1 0 2.96 0a1.48 1.85 0 1 0 -2.96 0M813.86 560.93a1.48 1.85 0 1 0 2.96 0a1.48 1.85 0 1 0 -2.96 0M817.33 558.45a1.48 1.85 0 1 0 2.96 0a1.48 1.85 0 1 0 -2.96 0M820.8 560.1a1.48 1.85 0 1 0 2.96 0a1.48 1.85 0 1 0 -2.96 0M824.27 559.32a1.48 1.85 0 1 0 2.96 0a1.48 1.85 0 1 0 -2.96 0M827.74 556.25a1.48 1.85 0 1 0 2.96 0a1.48 1.85 0 1 0 -2.96 0M831.21 555.03a1.48 1.85 0 1 0 2.96 0a1.48 1.85 0 1 0 -2.96 0M834.68 554.01a1.48 1.85 0 1 0 2.96 0a1.48 1.85 0 1 0 -2.96 0M838.15 553.35a1.48 1.85 0 1 0 2.96 0a1.48 1.85 0 1 0 -2.96 0M841.62 553.18a1.48 1.85 0 1 0 2.96 0a1.48 1.85 0 1 0 -2.96 0M845.09 551.65a1.48 1.85 0 1 0 2.96 0a1.48 1.85 0 1 0 -2.96 0M848.56 547.65a1.48 1.85 0 1 0 2.96 0a1.48 1.85 0 1 0 -2.96 0M852.03 548.64a1.48 1.85 0 1 0 2.96 0a1.48 1.85 0 1 0 -2.96 0M855.49 543.3a1.48 1.85 0 1 0 2.96 0a1.48 1.85 0 1 0 -2.96 0M858.96 541.96a1.48 1.85 0 1 0 2.96 0a1.48 1.85 0 1 0 -2.96 0M862.43 539.55a1.48 1.85 0 1 0 2.96 0a1.48 1.85 0 1 0 -2.96 0M865.9 537.1a1.48 1.85 0 1 0 2.96 0a1.48 1.85 0 1 0 -2.96 0M869.37 534.04a1.48 1.85 0 1 0 2.96 0a1.48 1.85 0 1 0 -2.96 0M872.84 535.41a1.48 1.85 0 1 0 2.96 0a1.48 1.85 0 1 0 -2.96 0M876.31 530.47a1.48 1.85 0 1 0 2.96 0a1.48 1.85 0 1 0 -2.96 0M879.78 529.71a1.48 1.85 0 1 0 2.96 0a1.48 1.85 0 1 0 -2.96 0M883.25 525.13a1.48 1.85 0 1 0 2.96 0a1.48 1.85 0 1 0 -2.96 0M886.72 524.6a1.48 1.85 0 1 0 2.96 0a1.48 1.85 0 1 0 -2.96 0M890.19 521.35a1.48 1.85 0 1 0 2.96 0a1.48 1.85 0 1 0 -2.96 0M893.66 520.87a1.48 1.85 0 1 0 2.96 0a1.48 1.85 0 1 0 -2.96 0M897.13 519.95a1.48 1.85 0 1 0 2.96 0a1.48 1.85 0 1 0 -2.96 0M900.6 515.52a1.48 1.85 0 1 0 2.96 0a1.48 1.85 0 1 0 -2.96 0M904.07 513.68a1.48 1.85 0 1 0 2.96 0a1.48 1.85 0 1 0 -2.96 0M907.53 511.51a1.48 1.85 0 1 0 2.96 0a1.48 1.85 0 1 0 -2.96 0M911 509.6a1.48 1.85 0 1 0 2.96 0a1.48 1.85 0 1 0 -2.96 0M914.47 506.8a1.48 1.85 0 1 0 2.96 0a1.48 1.85 0 1 0 -2.96 0M917.94 502.2a1.48 1.85 0 1 0 2.96 0a1.48 1.85 0 1 0 -2.96 0M921.41 498.45a1.48 1.85 0 1 0 2.96 0a1.48 1.85 0 1 0 -2.96 0M924.88 495.67a1.48 1.85 0 1 0 2.96 0a1.48 1.85 0 1 0 -2.96 0M928.35 493.7a1.48 1.85 0 1 0 2.96 0a1.48 1.85 0 1 0 -2.96 0M931.82 491.21a1.48 1.85 0 1 0 2.96 0a1.48 1.85 0 1 0 -2.96 0M935.29 485.64a1.48 1.85 0 1 0 2.96 0a1.48 1.85 0 1 0 -2.96 0M938.76 481.85a1.48 1.85 0 1 0 2.96 0a1.48 1.85 0 1 0 -2.96 0M942.23 480.03a1.48 1.85 0 1 0 2.96 0a1.48 1.85 0 1 0 -2.96 0M945.7 477.22a1.48 1.85 0 1 0 2.96 0a1.48 1.85 0 1 0 -2.96 0M949.17 474.63a1.48 1.85 0 1 0 2.96 0a1.48 1.85 0 1 0 -2.96 0M952.64 467.14a1.48 1.85 0 1 0 2.96 0a1.48 1.85 0 1 0 -2.96 0M956.11 457.67a1.48 1.85 0 1 0 2.96 0a1.48 1.85 0 1 0 -2.96 0M959.57 441.99a1.48 1.85 0 1 0 2.96 0a1.48 1.85 0 1 0 -2.96 0M963.04 418.99a1.48 1.85 0 1 0 2.96 0a1.48 1.85 0 1 0 -2.96 0M966.51 398.81a1.48 1.85 0 1 0 2.96 0a1.48 1.85 0 1 0 -2.96 0M969.98 374.75a1.48 1.85 0 1 0 2.96 0a1.48 1.85 0 1 0 -2.96 0M973.45 348.7a1.48 1.85 0 1 0 2.96 0a1.48 1.85 0 1 0 -2.96 0M976.92 315.13a1.48 1.85 0 1 0 2.96 0a1.48 1.85 0 1 0 -2.96 0M980.39 266.7a1.48 1.85 0 1 0 2.96 0a1.48 1.85 0 1 0 -2.96 0M983.86 210.18a1.48 1.85 0 1 0 2.96 0a1.48 1.85 0 1 0 -2.96 0M987.33 155.24a1.48 1.85 0 1 0 2.96 0a1.48 1.85 0 1 0 -2.96 0M990.8 103.31a1.48 1.85 0 1 0 2.96 0a1.48 1.85 0 1 0 -2.96 0M994.27 75.77a1.48 1.85 0 1 0 2.96 0a1.48 1.85 0 1 0 -2.96 0M997.74 84.5a1.48 1.85 0 1 0 2.96 0a1.48 1.85 0 1 0 -2.96 0M1001.21 141.89a1.48 1.85 0 1 0 2.96 0a1.48 1.85 0 1 0 -2.96 0M1004.68 224.32a1.48 1.85 0 1 0 2.96 0a1.48 1.85 0 1 0 -2.96 0M1008.15 304.35a1.48 1.85 0 1 0 2.96 0a1.48 1.85 0 1 0 -2.96 0M1011.61 370.87a1.48 1.85 0 1 0 2.96 0a1.48 1.85 0 1 0 -2.96 0M1015.08 423.8a1.48 1.85 0 1 0 2.96 0a1.48 1.85 0 1 0 -2.96 0M1018.55 461.15a1.48 1.85 0 1 0 2.96 0a1.48 1.85 0 1 0 -2.96 0M1022.02 481.19a1.48 1.85 0 1 0 2.96 0a1.48 1.85 0 1 0 -2.96 0M1025.49 497.4a1.48 1.85 0 1 0 2.96 0a1.48 1.85 0 1 0 -2.96 0M1028.96 509.4a1.48 1.85 0 1 0 2.96 0a1.48 1.85 0 1 0 -2.96 0M1032.43 521.86a1.48 1.85 0 1 0 2.96 0a1.48 1.85 0 1 0 -2.96 0M1035.9 529.76a1.48 1.85 0 1 0 2.96 0a1.48 1.85 0 1 0 -2.96 0M1039.37 535.31a1.48 1.85 0 1 0 2.96 0a1.48 1.85 0 1 0 -2.96 0M1042.84 543.2a1.48 1.85 0 1 0 2.96 0a1.48 1.85 0 1 0 -2.96 0M1046.31 545.16a1.48 1.85 0 1 0 2.96 0a1.48 1.85 0 1 0 -2.96 0M1049.78 550.3a1.48 1.85 0 1 0 2.96 0a1.48 1.85 0 1 0 -2.96 0M1053.25 553.08a1.48 1.85 0 1 0 2.96 0a1.48 1.85 0 1 0 -2.96 0M1056.72 553.35a1.48 1.85 0 1 0 2.96 0a1.48 1.85 0 1 0 -2.96 0M1060.19 556.73a1.48 1.85 0 1 0 2.96 0a1.48 1.85 0 1 0 -2.96 0M1063.65 557.55a1.48 1.85 0 1 0 2.96 0a1.48 1.85 0 1 0 -2.96 0M1067.12 559.16a1.48 1.85 0 1 0 2.96 0a1.48 1.85 0 1 0 -2.96 0M1070.59 559.03a1.48 1.85 0 1 0 2.96 0a1.48 1.85 0 1 0 -2.96 0M1074.06 561.13a1.48 1.85 0 1 0 2.96 0a1.48 1.85 0 1 0 -2.96 0M1077.53 562.24a1.48 1.85 0 1 0 2.96 0a1.48 1.85 0 1 0 -2.96 0M1081 564.57a1.48 1.85 0 1 0 2.96 0a1.48 1.85 0 1 0 -2.96 0M1084.47 566.09a1.48 1.85 0 1 0 2.96 0a1.48 1.85 0 1 0 -2.96 0M1087.94 568.07a1.48 1.85 0 1 0 2.96 0a1.48 1.85 0 1 0 -2.96 0M1091.41 566.69a1.48 1.85 0 1 0 2.96 0a1.48 1.85 0 1 0 -2.96 0M1094.88 569.43a1.48 1.85 0 1 0 2.96 0a1.48 1.85 0 1 0 -2.96 0M1098.35 570.07a1.48 1.85 0 1 0 2.96 0a1.48 1.85 0 1 0 -2.96 0M1101.82 571.31a1.48 1.85 0 1 0 2.96 0a1.48 1.85 0 1 0 -2.96 0M1105.29 568.46a1.48 1.85 0 1 0 2.96 0a1.48 1.85 0 1 0 -2.96 0M1108.76 572.01a1.48 1.85 0 1 0 2.96 0a1.48 1.85 0 1 0 -2.96 0M1112.23 570.46a1.48 1.85 0 1 0 2.96 0a1.48 1.85 0 1 0 -2.96 0M1115.69 572a1.48 1.85 0 1 0 2.96 0a1.48 1.85 0 1 0 -2.96 0M1119.16 571.8a1.48 1.85 0 1 0 2.96 0a1.48 1.85 0 1 0 -2.96 0M1122.63 571.74a1.48 1.85 0 1 0 2.96 0a1.48 1.85 0 1 0 -2.96 0M1126.1 573.89a1.48 1.85 0 1 0 2.96 0a1.48 1.85 0 1 0 -2.96 0M1129.57 573.86a1.48 1.85 0 1 0 2.96 0a1.48 1.85 0 1 0 -2.96 0M1133.04 574.47a1.48 1.85 0 1 0 2.96 0a1.48 1.85 0 1 0 -2.96 0M1136.51 573.73a1.48 1.85 0 1 0 2.96 0a1.48 1.85 0 1 0 -2.96 0M1139.98 572.27a1.48 1.85 0 1 0 2.96 0a1.48 1.85 0 1 0 -2.96 0M1143.45 574.6a1.48 1.85 0 1 0 2.96 0a1.48 1.85 0 1 0 -2.96 0M1146.92 574.4a1.48 1.85 0 1 0 2.96 0a1.48 1.85 0 1 0 -2.96 0M1150.39 575.64a1.48 1.85 0 1 0 2.96 0a1.48 1.85 0 1 0 -2.96 0M1153.86 574.49a1.48 1.85 0 1 0 2.96 0a1.48 1.85 0 1 0 -2.96 0M1157.33 573.72a1.48 1.85 0 1 0 2.96 0a1.48 1.85 0 1 0 -2.96 0M1160.8 574.89a1.48 1.85 0 1 0 2.96 0a1.48 1.85 0 1 0 -2.96 0M1164.27 573.62a1.48 1.85 0 1 0 2.96 0a1.48 1.85 0 1 0 -2.96 0M1167.73 574.45a1.48 1.85 0 1 0 2.96 0a1.48 1.85 0 1 0 -2.96 0M1171.2 574.73a1.48 1.85 0 1 0 2.96 0a1.48 1.85 0 1 0 -2.96 0M1174.67 575.37a1.48 1.85 0 1 0 2.96 0a1.48 1.85 0 1 0 -2.96 0M1178.14 574.99a1.48 1.85 0 1 0 2.96 0a1.48 1.85 0 1 0 -2.96 0M1181.61 574.54a1.48 1.85 0 1 0 2.96 0a1.48 1.85 0 1 0 -2.96 0M1185.08 575.8a1.48 1.85 0 1 0 2.96 0a1.48 1.85 0 1 0 -2.96 0M1188.55 576.43a1.48 1.85 0 1 0 2.96 0a1.48 1.85 0 1 0 -2.96 0M1192.02 576.3a1.48 1.85 0 1 0 2.96 0a1.48 1.85 0 1 0 -2.96 0" fill="#e0187f"/>
<path d="M673.1 575.47 L676.57 574.64 L680.04 575.19 L683.51 574.63 L686.98 573.39 L690.45 574.88 L693.92 573.98 L697.39 574.28 L700.85 574.91 L704.32 573.73 L707.79 572.7 L711.26 572.82 L714.73 573.8 L718.2 572.07 L721.67 573.08 L725.14 573.05 L728.61 571.94 L732.08 572.69 L735.55 572.82 L739.02 571.82 L742.49 571.88 L745.96 572.4 L749.43 571.04 L752.89 571.15 L756.36 572.17 L759.83 571.4 L763.3 570.2 L766.77 570.92 L770.24 571.95 L773.71 569.42 L777.18 570.69 L780.65 570.38 L784.12 569.54 L787.59 569.81 L791.06 568.53 L794.53 569.39 L798 568.81 L801.47 566.38 L804.93 566.11 L808.4 565.53 L811.87 563.98 L815.34 563.16 L818.81 560.54 L822.28 559.99 L825.75 557.59 L829.22 555.7 L832.69 553.75 L836.16 551.54 L839.63 547.41 L843.1 545.58 L846.57 542.33 L850.04 537.95 L853.51 535.04 L856.97 528.92 L860.44 524.54 L863.91 521.14 L867.38 516.45 L870.85 513.74 L874.32 507.43 L877.79 502.91 L881.26 495.74 L884.73 491.63 L888.2 490.27 L891.67 486.49 L895.14 486.97 L898.61 484.48 L902.08 484.87 L905.55 485.47 L909.01 484.73 L912.48 484.37 L915.95 485.7 L919.42 487.99 L922.89 487.86 L926.36 488.04 L929.83 487.44 L933.3 487.39 L936.77 485.93 L940.24 483.68 L943.71 482.26 L947.18 475.46 L950.65 465.37 L954.12 458.03 L957.59 449.78 L961.05 435.89 L964.52 412.19 L967.99 389.89 L971.46 364.36 L974.93 340.84 L978.4 306.83 L981.87 272.51 L985.34 235.62 L988.81 199.21 L992.28 162.06 L995.75 128.73 L999.22 98.32 L1002.69 77.32 L1006.16 66.05 L1009.63 95.37 L1013.09 166.91 L1016.56 251.89 L1020.03 330.78 L1023.5 391.64 L1026.97 432.03 L1030.44 459.03 L1033.91 479.51 L1037.38 492.04 L1040.85 504.5 L1044.32 513.25 L1047.79 521.86 L1051.26 527.84 L1054.73 532.07 L1058.2 537.08 L1061.67 541.34 L1065.13 545.28 L1068.6 549.59 L1072.07 551.63 L1075.54 554.33 L1079.01 556.42 L1082.48 559.99 L1085.95 560.55 L1089.42 562.19 L1092.89 563.02 L1096.36 564.92 L1099.83 565.27 L1103.3 566.28 L1106.77 566.21 L1110.24 567.25 L1113.71 569.17 L1117.17 570.18 L1120.64 569.17 L1124.11 570.91 L1127.58 571.43 L1131.05 573.76 L1134.52 571.55 L1137.99 572.17 L1141.46 572.3 L1144.93 573.89 L1148.4 574.37 L1151.87 573.83 L1155.34 575.29 L1158.81 575.95 L1162.28 574.54 L1165.75 575.45 L1169.21 575.2 L1172.68 575.14 L1176.15 575.46 L1179.62 575.81 L1183.09 575.33 L1186.56 576.29 L1190.03 577.04 L1193.5 576.08" fill="none" stroke="#1e8c1e" stroke-width="1.2" stroke-linejoin="round"/>
<path d="M671.62 575.47a1.48 1.85 0 1 0 2.96 0a1.48 1.85 0 1 0 -2.96 0M675.09 574.64a1.48 1.85 0 1 0 2.96 0a1.48 1.85 0 1 0 -2.96 0M678.56 575.19a1.48 1.85 0 1 0 2.96 0a1.48 1.85 0 1 0 -2.96 0M682.03 574.63a1.48 1.85 0 1 0 2.96 0a1.48 1.85 0 1 0 -2.96 0M685.5 573.39a1.48 1.85 0 1 0 2.96 0a1.48 1.85 0 1 0 -2.96 0M688.97 574.88a1.48 1.85 0 1 0 2.96 0a1.48 1.85 0 1 0 -2.96 0M692.44 573.98a1.48 1.85 0 1 0 2.96 0a1.48 1.85 0 1 0 -2.96 0M695.91 574.28a1.48 1.85 0 1 0 2.96 0a1.48 1.85 0 1 0 -2.96 0M699.37 574.91a1.48 1.85 0 1 0 2.96 0a1.48 1.85 0 1 0 -2.96 0M702.84 573.73a1.48 1.85 0 1 0 2.96 0a1.48 1.85 0 1 0 -2.96 0M706.31 572.7a1.48 1.85 0 1 0 2.96 0a1.48 1.85 0 1 0 -2.96 0M709.78 572.82a1.48 1.85 0 1 0 2.96 0a1.48 1.85 0 1 0 -2.96 0M713.25 573.8a1.48 1.85 0 1 0 2.96 0a1.48 1.85 0 1 0 -2.96 0M716.72 572.07a1.48 1.85 0 1 0 2.96 0a1.48 1.85 0 1 0 -2.96 0M720.19 573.08a1.48 1.85 0 1 0 2.96 0a1.48 1.85 0 1 0 -2.96 0M723.66 573.05a1.48 1.85 0 1 0 2.96 0a1.48 1.85 0 1 0 -2.96 0M727.13 571.94a1.48 1.85 0 1 0 2.96 0a1.48 1.85 0 1 0 -2.96 0M730.6 572.69a1.48 1.85 0 1 0 2.96 0a1.48 1.85 0 1 0 -2.96 0M734.07 572.82a1.48 1.85 0 1 0 2.96 0a1.48 1.85 0 1 0 -2.96 0M737.54 571.82a1.48 1.85 0 1 0 2.96 0a1.48 1.85 0 1 0 -2.96 0M741.01 571.88a1.48 1.85 0 1 0 2.96 0a1.48 1.85 0 1 0 -2.96 0M744.48 572.4a1.48 1.85 0 1 0 2.96 0a1.48 1.85 0 1 0 -2.96 0M747.95 571.04a1.48 1.85 0 1 0 2.96 0a1.48 1.85 0 1 0 -2.96 0M751.41 571.15a1.48 1.85 0 1 0 2.96 0a1.48 1.85 0 1 0 -2.96 0M754.88 572.17a1.48 1.85 0 1 0 2.96 0a1.48 1.85 0 1 0 -2.96 0M758.35 571.4a1.48 1.85 0 1 0 2.96 0a1.48 1.85 0 1 0 -2.96 0M761.82 570.2a1.48 1.85 0 1 0 2.96 0a1.48 1.85 0 1 0 -2.96 0M765.29 570.92a1.48 1.85 0 1 0 2.96 0a1.48 1.85 0 1 0 -2.96 0M768.76 571.95a1.48 1.85 0 1 0 2.96 0a1.48 1.85 0 1 0 -2.96 0M772.23 569.42a1.48 1.85 0 1 0 2.96 0a1.48 1.85 0 1 0 -2.96 0M775.7 570.69a1.48 1.85 0 1 0 2.96 0a1.48 1.85 0 1 0 -2.96 0M779.17 570.38a1.48 1.85 0 1 0 2.96 0a1.48 1.85 0 1 0 -2.96 0M782.64 569.54a1.48 1.85 0 1 0 2.96 0a1.48 1.85 0 1 0 -2.96 0M786.11 569.81a1.48 1.85 0 1 0 2.96 0a1.48 1.85 0 1 0 -2.96 0M789.58 568.53a1.48 1.85 0 1 0 2.96 0a1.48 1.85 0 1 0 -2.96 0M793.05 569.39a1.48 1.85 0 1 0 2.96 0a1.48 1.85 0 1 0 -2.96 0M796.52 568.81a1.48 1.85 0 1 0 2.96 0a1.48 1.85 0 1 0 -2.96 0M799.99 566.38a1.48 1.85 0 1 0 2.96 0a1.48 1.85 0 1 0 -2.96 0M803.45 566.11a1.48 1.85 0 1 0 2.96 0a1.48 1.85 0 1 0 -2.96 0M806.92 565.53a1.48 1.85 0 1 0 2.96 0a1.48 1.85 0 1 0 -2.96 0M810.39 563.98a1.48 1.85 0 1 0 2.96 0a1.48 1.85 0 1 0 -2.96 0M813.86 563.16a1.48 1.85 0 1 0 2.96 0a1.48 1.85 0 1 0 -2.96 0M817.33 560.54a1.48 1.85 0 1 0 2.96 0a1.48 1.85 0 1 0 -2.96 0M820.8 559.99a1.48 1.85 0 1 0 2.96 0a1.48 1.85 0 1 0 -2.96 0M824.27 557.59a1.48 1.85 0 1 0 2.96 0a1.48 1.85 0 1 0 -2.96 0M827.74 555.7a1.48 1.85 0 1 0 2.96 0a1.48 1.85 0 1 0 -2.96 0M831.21 553.75a1.48 1.85 0 1 0 2.96 0a1.48 1.85 0 1 0 -2.96 0M834.68 551.54a1.48 1.85 0 1 0 2.96 0a1.48 1.85 0 1 0 -2.96 0M838.15 547.41a1.48 1.85 0 1 0 2.96 0a1.48 1.85 0 1 0 -2.96 0M841.62 545.58a1.48 1.85 0 1 0 2.96 0a1.48 1.85 0 1 0 -2.96 0M845.09 542.33a1.48 1.85 0 1 0 2.96 0a1.48 1.85 0 1 0 -2.96 0M848.56 537.95a1.48 1.85 0 1 0 2.96 0a1.48 1.85 0 1 0 -2.96 0M852.03 535.04a1.48 1.85 0 1 0 2.96 0a1.48 1.85 0 1 0 -2.96 0M855.49 528.92a1.48 1.85 0 1 0 2.96 0a1.48 1.85 0 1 0 -2.96 0M858.96 524.54a1.48 1.85 0 1 0 2.96 0a1.48 1.85 0 1 0 -2.96 0M862.43 521.14a1.48 1.85 0 1 0 2.96 0a1.48 1.85 0 1 0 -2.96 0M865.9 516.45a1.48 1.85 0 1 0 2.96 0a1.48 1.85 0 1 0 -2.96 0M869.37 513.74a1.48 1.85 0 1 0 2.96 0a1.48 1.85 0 1 0 -2.96 0M872.84 507.43a1.48 1.85 0 1 0 2.96 0a1.48 1.85 0 1 0 -2.96 0M876.31 502.91a1.48 1.85 0 1 0 2.96 0a1.48 1.85 0 1 0 -2.96 0M879.78 495.74a1.48 1.85 0 1 0 2.96 0a1.48 1.85 0 1 0 -2.96 0M883.25 491.63a1.48 1.85 0 1 0 2.96 0a1.48 1.85 0 1 0 -2.96 0M886.72 490.27a1.48 1.85 0 1 0 2.96 0a1.48 1.85 0 1 0 -2.96 0M890.19 486.49a1.48 1.85 0 1 0 2.96 0a1.48 1.85 0 1 0 -2.96 0M893.66 486.97a1.48 1.85 0 1 0 2.96 0a1.48 1.85 0 1 0 -2.96 0M897.13 484.48a1.48 1.85 0 1 0 2.96 0a1.48 1.85 0 1 0 -2.96 0M900.6 484.87a1.48 1.85 0 1 0 2.96 0a1.48 1.85 0 1 0 -2.96 0M904.07 485.47a1.48 1.85 0 1 0 2.96 0a1.48 1.85 0 1 0 -2.96 0M907.53 484.73a1.48 1.85 0 1 0 2.96 0a1.48 1.85 0 1 0 -2.96 0M911 484.37a1.48 1.85 0 1 0 2.96 0a1.48 1.85 0 1 0 -2.96 0M914.47 485.7a1.48 1.85 0 1 0 2.96 0a1.48 1.85 0 1 0 -2.96 0M917.94 487.99a1.48 1.85 0 1 0 2.96 0a1.48 1.85 0 1 0 -2.96 0M921.41 487.86a1.48 1.85 0 1 0 2.96 0a1.48 1.85 0 1 0 -2.96 0M924.88 488.04a1.48 1.85 0 1 0 2.96 0a1.48 1.85 0 1 0 -2.96 0M928.35 487.44a1.48 1.85 0 1 0 2.96 0a1.48 1.85 0 1 0 -2.96 0M931.82 487.39a1.48 1.85 0 1 0 2.96 0a1.48 1.85 0 1 0 -2.96 0M935.29 485.93a1.48 1.85 0 1 0 2.96 0a1.48 1.85 0 1 0 -2.96 0M938.76 483.68a1.48 1.85 0 1 0 2.96 0a1.48 1.85 0 1 0 -2.96 0M942.23 482.26a1.48 1.85 0 1 0 2.96 0a1.48 1.85 0 1 0 -2.96 0M945.7 475.46a1.48 1.85 0 1 0 2.96 0a1.48 1.85 0 1 0 -2.96 0M949.17 465.37a1.48 1.85 0 1 0 2.96 0a1.48 1.85 0 1 0 -2.96 0M952.64 458.03a1.48 1.85 0 1 0 2.96 0a1.48 1.85 0 1 0 -2.96 0M956.11 449.78a1.48 1.85 0 1 0 2.96 0a1.48 1.85 0 1 0 -2.96 0M959.57 435.89a1.48 1.85 0 1 0 2.96 0a1.48 1.85 0 1 0 -2.96 0M963.04 412.19a1.48 1.85 0 1 0 2.96 0a1.48 1.85 0 1 0 -2.96 0M966.51 389.89a1.48 1.85 0 1 0 2.96 0a1.48 1.85 0 1 0 -2.96 0M969.98 364.36a1.48 1.85 0 1 0 2.96 0a1.48 1.85 0 1 0 -2.96 0M973.45 340.84a1.48 1.85 0 1 0 2.96 0a1.48 1.85 0 1 0 -2.96 0M976.92 306.83a1.48 1.85 0 1 0 2.96 0a1.48 1.85 0 1 0 -2.96 0M980.39 272.51a1.48 1.85 0 1 0 2.96 0a1.48 1.85 0 1 0 -2.96 0M983.86 235.62a1.48 1.85 0 1 0 2.96 0a1.48 1.85 0 1 0 -2.96 0M987.33 199.21a1.48 1.85 0 1 0 2.96 0a1.48 1.85 0 1 0 -2.96 0M990.8 162.06a1.48 1.85 0 1 0 2.96 0a1.48 1.85 0 1 0 -2.96 0M994.27 128.73a1.48 1.85 0 1 0 2.96 0a1.48 1.85 0 1 0 -2.96 0M997.74 98.32a1.48 1.85 0 1 0 2.96 0a1.48 1.85 0 1 0 -2.96 0M1001.21 77.32a1.48 1.85 0 1 0 2.96 0a1.48 1.85 0 1 0 -2.96 0M1004.68 66.05a1.48 1.85 0 1 0 2.96 0a1.48 1.85 0 1 0 -2.96 0M1008.15 95.37a1.48 1.85 0 1 0 2.96 0a1.48 1.85 0 1 0 -2.96 0M1011.61 166.91a1.48 1.85 0 1 0 2.96 0a1.48 1.85 0 1 0 -2.96 0M1015.08 251.89a1.48 1.85 0 1 0 2.96 0a1.48 1.85 0 1 0 -2.96 0M1018.55 330.78a1.48 1.85 0 1 0 2.96 0a1.48 1.85 0 1 0 -2.96 0M1022.02 391.64a1.48 1.85 0 1 0 2.96 0a1.48 1.85 0 1 0 -2.96 0M1025.49 432.03a1.48 1.85 0 1 0 2.96 0a1.48 1.85 0 1 0 -2.96 0M1028.96 459.03a1.48 1.85 0 1 0 2.96 0a1.48 1.85 0 1 0 -2.96 0M1032.43 479.51a1.48 1.85 0 1 0 2.96 0a1.48 1.85 0 1 0 -2.96 0M1035.9 492.04a1.48 1.85 0 1 0 2.96 0a1.48 1.85 0 1 0 -2.96 0M1039.37 504.5a1.48 1.85 0 1 0 2.96 0a1.48 1.85 0 1 0 -2.96 0M1042.84 513.25a1.48 1.85 0 1 0 2.96 0a1.48 1.85 0 1 0 -2.96 0M1046.31 521.86a1.48 1.85 0 1 0 2.96 0a1.48 1.85 0 1 0 -2.96 0M1049.78 527.84a1.48 1.85 0 1 0 2.96 0a1.48 1.85 0 1 0 -2.96 0M1053.25 532.07a1.48 1.85 0 1 0 2.96 0a1.48 1.85 0 1 0 -2.96 0M1056.72 537.08a1.48 1.85 0 1 0 2.96 0a1.48 1.85 0 1 0 -2.96 0M1060.19 541.34a1.48 1.85 0 1 0 2.96 0a1.48 1.85 0 1 0 -2.96 0M1063.65 545.28a1.48 1.85 0 1 0 2.96 0a1.48 1.85 0 1 0 -2.96 0M1067.12 549.59a1.48 1.85 0 1 0 2.96 0a1.48 1.85 0 1 0 -2.96 0M1070.59 551.63a1.48 1.85 0 1 0 2.96 0a1.48 1.85 0 1 0 -2.96 0M1074.06 554.33a1.48 1.85 0 1 0 2.96 0a1.48 1.85 0 1 0 -2.96 0M1077.53 556.42a1.48 1.85 0 1 0 2.96 0a1.48 1.85 0 1 0 -2.96 0M1081 559.99a1.48 1.85 0 1 0 2.96 0a1.48 1.85 0 1 0 -2.96 0M1084.47 560.55a1.48 1.85 0 1 0 2.96 0a1.48 1.85 0 1 0 -2.96 0M1087.94 562.19a1.48 1.85 0 1 0 2.96 0a1.48 1.85 0 1 0 -2.96 0M1091.41 563.02a1.48 1.85 0 1 0 2.96 0a1.48 1.85 0 1 0 -2.96 0M1094.88 564.92a1.48 1.85 0 1 0 2.96 0a1.48 1.85 0 1 0 -2.96 0M1098.35 565.27a1.48 1.85 0 1 0 2.96 0a1.48 1.85 0 1 0 -2.96 0M1101.82 566.28a1.48 1.85 0 1 0 2.96 0a1.48 1.85 0 1 0 -2.96 0M1105.29 566.21a1.48 1.85 0 1 0 2.96 0a1.48 1.85 0 1 0 -2.96 0M1108.76 567.25a1.48 1.85 0 1 0 2.96 0a1.48 1.85 0 1 0 -2.96 0M1112.23 569.17a1.48 1.85 0 1 0 2.96 0a1.48 1.85 0 1 0 -2.96 0M1115.69 570.18a1.48 1.85 0 1 0 2.96 0a1.48 1.85 0 1 0 -2.96 0M1119.16 569.17a1.48 1.85 0 1 0 2.96 0a1.48 1.85 0 1 0 -2.96 0M1122.63 570.91a1.48 1.85 0 1 0 2.96 0a1.48 1.85 0 1 0 -2.96 0M1126.1 571.43a1.48 1.85 0 1 0 2.96 0a1.48 1.85 0 1 0 -2.96 0M1129.57 573.76a1.48 1.85 0 1 0 2.96 0a1.48 1.85 0 1 0 -2.96 0M1133.04 571.55a1.48 1.85 0 1 0 2.96 0a1.48 1.85 0 1 0 -2.96 0M1136.51 572.17a1.48 1.85 0 1 0 2.96 0a1.48 1.85 0 1 0 -2.96 0M1139.98 572.3a1.48 1.85 0 1 0 2.96 0a1.48 1.85 0 1 0 -2.96 0M1143.45 573.89a1.48 1.85 0 1 0 2.96 0a1.48 1.85 0 1 0 -2.96 0M1146.92 574.37a1.48 1.85 0 1 0 2.96 0a1.48 1.85 0 1 0 -2.96 0M1150.39 573.83a1.48 1.85 0 1 0 2.96 0a1.48 1.85 0 1 0 -2.96 0M1153.86 575.29a1.48 1.85 0 1 0 2.96 0a1.48 1.85 0 1 0 -2.96 0M1157.33 575.95a1.48 1.85 0 1 0 2.96 0a1.48 1.85 0 1 0 -2.96 0M1160.8 574.54a1.48 1.85 0 1 0 2.96 0a1.48 1.85 0 1 0 -2.96 0M1164.27 575.45a1.48 1.85 0 1 0 2.96 0a1.48 1.85 0 1 0 -2.96 0M1167.73 575.2a1.48 1.85 0 1 0 2.96 0a1.48 1.85 0 1 0 -2.96 0M1171.2 575.14a1.48 1.85 0 1 0 2.96 0a1.48 1.85 0 1 0 -2.96 0M1174.67 575.46a1.48 1.85 0 1 0 2.96 0a1.48 1.85 0 1 0 -2.96 0M1178.14 575.81a1.48 1.85 0 1 0 2.96 0a1.48 1.85 0 1 0 -2.96 0M1181.61 575.33a1.48 1.85 0 1 0 2.96 0a1.48 1.85 0 1 0 -2.96 0M1185.08 576.29a1.48 1.85 0 1 0 2.96 0a1.48 1.85 0 1 0 -2.96 0M1188.55 577.04a1.48 1.85 0 1 0 2.96 0a1.48 1.85 0 1 0 -2.96 0M1192.02 576.08a1.48 1.85 0 1 0 2.96 0a1.48 1.85 0 1 0 -2.96 0" fill="#1e8c1e"/>
<path d="M673.1 575.78 L676.57 575.47 L680.04 574.75 L683.51 574.99 L686.98 573.93 L690.45 572.97 L693.92 575.06 L697.39 574.08 L700.85 572.24 L704.32 572.72 L707.79 572.83 L711.26 573.29 L714.73 573.78 L718.2 572.96 L721.67 572.32 L725.14 572.76 L728.61 572.15 L732.08 572.24 L735.55 571.51 L739.02 570.96 L742.49 572.39 L745.96 571.11 L749.43 571.16 L752.89 570.43 L756.36 570.2 L759.83 570.03 L763.3 570.38 L766.77 570.41 L770.24 569.61 L773.71 568.51 L777.18 570.34 L780.65 568.64 L784.12 568.36 L787.59 566.98 L791.06 566.62 L794.53 566.44 L798 564.03 L801.47 563.84 L804.93 563.79 L808.4 564.21 L811.87 561.69 L815.34 559.1 L818.81 557.18 L822.28 556.94 L825.75 553.8 L829.22 551.97 L832.69 551.19 L836.16 547.26 L839.63 544.12 L843.1 540.69 L846.57 538.86 L850.04 535.18 L853.51 529.59 L856.97 524.62 L860.44 521.08 L863.91 518.17 L867.38 513.64 L870.85 508.09 L874.32 504 L877.79 498.72 L881.26 493.24 L884.73 489.33 L888.2 486.1 L891.67 484.01 L895.14 482.75 L898.61 481.4 L902.08 481.22 L905.55 480.81 L909.01 483.1 L912.48 483.9 L915.95 484.57 L919.42 486.09 L922.89 486.7 L926.36 486.11 L929.83 487.17 L933.3 486.95 L936.77 486.47 L940.24 483.9 L943.71 483.1 L947.18 478.12 L950.65 470.07 L954.12 461.48 L957.59 452.66 L961.05 439.77 L964.52 422.32 L967.99 397.81 L971.46 374.74 L974.93 350.52 L978.4 321.05 L981.87 284.39 L985.34 250.45 L988.81 214.29 L992.28 177.53 L995.75 140.42 L999.22 109.69 L1002.69 84.26 L1006.16 70.01 L1009.63 80.1 L1013.09 138.34 L1016.56 223.43 L1020.03 305.28 L1023.5 372.84 L1026.97 419.86 L1030.44 452.21 L1033.91 473.03 L1037.38 488.37 L1040.85 499.23 L1044.32 511.62 L1047.79 518.56 L1051.26 525.91 L1054.73 529.72 L1058.2 535.45 L1061.67 540.4 L1065.13 545.65 L1068.6 548.05 L1072.07 552.12 L1075.54 553.34 L1079.01 557.32 L1082.48 557.97 L1085.95 559.06 L1089.42 560.48 L1092.89 563.32 L1096.36 564.25 L1099.83 565.63 L1103.3 566.38 L1106.77 567.63 L1110.24 569.18 L1113.71 568.7 L1117.17 569.68 L1120.64 569.85 L1124.11 569.52 L1127.58 570.99 L1131.05 572.64 L1134.52 571.56 L1137.99 574.02 L1141.46 573.28 L1144.93 573.59 L1148.4 574.25 L1151.87 573.97 L1155.34 574.29 L1158.81 575.42 L1162.28 574.35 L1165.75 574.98 L1169.21 574.54 L1172.68 575.61 L1176.15 577.74 L1179.62 576.74 L1183.09 575.56 L1186.56 575.21 L1190.03 576.89 L1193.5 577.15" fill="none" stroke="#228c84" stroke-width="1.2" stroke-linejoin="round"/>
<path d="M671.62 575.78a1.48 1.85 0 1 0 2.96 0a1.48 1.85 0 1 0 -2.96 0M675.09 575.47a1.48 1.85 0 1 0 2.96 0a1.48 1.85 0 1 0 -2.96 0M678.56 574.75a1.48 1.85 0 1 0 2.96 0a1.48 1.85 0 1 0 -2.96 0M682.03 574.99a1.48 1.85 0 1 0 2.96 0a1.48 1.85 0 1 0 -2.96 0M685.5 573.93a1.48 1.85 0 1 0 2.96 0a1.48 1.85 0 1 0 -2.96 0M688.97 572.97a1.48 1.85 0 1 0 2.96 0a1.48 1.85 0 1 0 -2.96 0M692.44 575.06a1.48 1.85 0 1 0 2.96 0a1.48 1.85 0 1 0 -2.96 0M695.91 574.08a1.48 1.85 0 1 0 2.96 0a1.48 1.85 0 1 0 -2.96 0M699.37 572.24a1.48 1.85 0 1 0 2.96 0a1.48 1.85 0 1 0 -2.96 0M702.84 572.72a1.48 1.85 0 1 0 2.96 0a1.48 1.85 0 1 0 -2.96 0M706.31 572.83a1.48 1.85 0 1 0 2.96 0a1.48 1.85 0 1 0 -2.96 0M709.78 573.29a1.48 1.85 0 1 0 2.96 0a1.48 1.85 0 1 0 -2.96 0M713.25 573.78a1.48 1.85 0 1 0 2.96 0a1.48 1.85 0 1 0 -2.96 0M716.72 572.96a1.48 1.85 0 1 0 2.96 0a1.48 1.85 0 1 0 -2.96 0M720.19 572.32a1.48 1.85 0 1 0 2.96 0a1.48 1.85 0 1 0 -2.96 0M723.66 572.76a1.48 1.85 0 1 0 2.96 0a1.48 1.85 0 1 0 -2.96 0M727.13 572.15a1.48 1.85 0 1 0 2.96 0a1.48 1.85 0 1 0 -2.96 0M730.6 572.24a1.48 1.85 0 1 0 2.96 0a1.48 1.85 0 1 0 -2.96 0M734.07 571.51a1.48 1.85 0 1 0 2.96 0a1.48 1.85 0 1 0 -2.96 0M737.54 570.96a1.48 1.85 0 1 0 2.96 0a1.48 1.85 0 1 0 -2.96 0M741.01 572.39a1.48 1.85 0 1 0 2.96 0a1.48 1.85 0 1 0 -2.96 0M744.48 571.11a1.48 1.85 0 1 0 2.96 0a1.48 1.85 0 1 0 -2.96 0M747.95 571.16a1.48 1.85 0 1 0 2.96 0a1.48 1.85 0 1 0 -2.96 0M751.41 570.43a1.48 1.85 0 1 0 2.96 0a1.48 1.85 0 1 0 -2.96 0M754.88 570.2a1.48 1.85 0 1 0 2.96 0a1.48 1.85 0 1 0 -2.96 0M758.35 570.03a1.48 1.85 0 1 0 2.96 0a1.48 1.85 0 1 0 -2.96 0M761.82 570.38a1.48 1.85 0 1 0 2.96 0a1.48 1.85 0 1 0 -2.96 0M765.29 570.41a1.48 1.85 0 1 0 2.96 0a1.48 1.85 0 1 0 -2.96 0M768.76 569.61a1.48 1.85 0 1 0 2.96 0a1.48 1.85 0 1 0 -2.96 0M772.23 568.51a1.48 1.85 0 1 0 2.96 0a1.48 1.85 0 1 0 -2.96 0M775.7 570.34a1.48 1.85 0 1 0 2.96 0a1.48 1.85 0 1 0 -2.96 0M779.17 568.64a1.48 1.85 0 1 0 2.96 0a1.48 1.85 0 1 0 -2.96 0M782.64 568.36a1.48 1.85 0 1 0 2.96 0a1.48 1.85 0 1 0 -2.96 0M786.11 566.98a1.48 1.85 0 1 0 2.96 0a1.48 1.85 0 1 0 -2.96 0M789.58 566.62a1.48 1.85 0 1 0 2.96 0a1.48 1.85 0 1 0 -2.96 0M793.05 566.44a1.48 1.85 0 1 0 2.96 0a1.48 1.85 0 1 0 -2.96 0M796.52 564.03a1.48 1.85 0 1 0 2.96 0a1.48 1.85 0 1 0 -2.96 0M799.99 563.84a1.48 1.85 0 1 0 2.96 0a1.48 1.85 0 1 0 -2.96 0M803.45 563.79a1.48 1.85 0 1 0 2.96 0a1.48 1.85 0 1 0 -2.96 0M806.92 564.21a1.48 1.85 0 1 0 2.96 0a1.48 1.85 0 1 0 -2.96 0M810.39 561.69a1.48 1.85 0 1 0 2.96 0a1.48 1.85 0 1 0 -2.96 0M813.86 559.1a1.48 1.85 0 1 0 2.96 0a1.48 1.85 0 1 0 -2.96 0M817.33 557.18a1.48 1.85 0 1 0 2.96 0a1.48 1.85 0 1 0 -2.96 0M820.8 556.94a1.48 1.85 0 1 0 2.96 0a1.48 1.85 0 1 0 -2.96 0M824.27 553.8a1.48 1.85 0 1 0 2.96 0a1.48 1.85 0 1 0 -2.96 0M827.74 551.97a1.48 1.85 0 1 0 2.96 0a1.48 1.85 0 1 0 -2.96 0M831.21 551.19a1.48 1.85 0 1 0 2.96 0a1.48 1.85 0 1 0 -2.96 0M834.68 547.26a1.48 1.85 0 1 0 2.96 0a1.48 1.85 0 1 0 -2.96 0M838.15 544.12a1.48 1.85 0 1 0 2.96 0a1.48 1.85 0 1 0 -2.96 0M841.62 540.69a1.48 1.85 0 1 0 2.96 0a1.48 1.85 0 1 0 -2.96 0M845.09 538.86a1.48 1.85 0 1 0 2.96 0a1.48 1.85 0 1 0 -2.96 0M848.56 535.18a1.48 1.85 0 1 0 2.96 0a1.48 1.85 0 1 0 -2.96 0M852.03 529.59a1.48 1.85 0 1 0 2.96 0a1.48 1.85 0 1 0 -2.96 0M855.49 524.62a1.48 1.85 0 1 0 2.96 0a1.48 1.85 0 1 0 -2.96 0M858.96 521.08a1.48 1.85 0 1 0 2.96 0a1.48 1.85 0 1 0 -2.96 0M862.43 518.17a1.48 1.85 0 1 0 2.96 0a1.48 1.85 0 1 0 -2.96 0M865.9 513.64a1.48 1.85 0 1 0 2.96 0a1.48 1.85 0 1 0 -2.96 0M869.37 508.09a1.48 1.85 0 1 0 2.96 0a1.48 1.85 0 1 0 -2.96 0M872.84 504a1.48 1.85 0 1 0 2.96 0a1.48 1.85 0 1 0 -2.96 0M876.31 498.72a1.48 1.85 0 1 0 2.96 0a1.48 1.85 0 1 0 -2.96 0M879.78 493.24a1.48 1.85 0 1 0 2.96 0a1.48 1.85 0 1 0 -2.96 0M883.25 489.33a1.48 1.85 0 1 0 2.96 0a1.48 1.85 0 1 0 -2.96 0M886.72 486.1a1.48 1.85 0 1 0 2.96 0a1.48 1.85 0 1 0 -2.96 0M890.19 484.01a1.48 1.85 0 1 0 2.96 0a1.48 1.85 0 1 0 -2.96 0M893.66 482.75a1.48 1.85 0 1 0 2.96 0a1.48 1.85 0 1 0 -2.96 0M897.13 481.4a1.48 1.85 0 1 0 2.96 0a1.48 1.85 0 1 0 -2.96 0M900.6 481.22a1.48 1.85 0 1 0 2.96 0a1.48 1.85 0 1 0 -2.96 0M904.07 480.81a1.48 1.85 0 1 0 2.96 0a1.48 1.85 0 1 0 -2.96 0M907.53 483.1a1.48 1.85 0 1 0 2.96 0a1.48 1.85 0 1 0 -2.96 0M911 483.9a1.48 1.85 0 1 0 2.96 0a1.48 1.85 0 1 0 -2.96 0M914.47 484.57a1.48 1.85 0 1 0 2.96 0a1.48 1.85 0 1 0 -2.96 0M917.94 486.09a1.48 1.85 0 1 0 2.96 0a1.48 1.85 0 1 0 -2.96 0M921.41 486.7a1.48 1.85 0 1 0 2.96 0a1.48 1.85 0 1 0 -2.96 0M924.88 486.11a1.48 1.85 0 1 0 2.96 0a1.48 1.85 0 1 0 -2.96 0M928.35 487.17a1.48 1.85 0 1 0 2.96 0a1.48 1.85 0 1 0 -2.96 0M931.82 486.95a1.48 1.85 0 1 0 2.96 0a1.48 1.85 0 1 0 -2.96 0M935.29 486.47a1.48 1.85 0 1 0 2.96 0a1.48 1.85 0 1 0 -2.96 0M938.76 483.9a1.48 1.85 0 1 0 2.96 0a1.48 1.85 0 1 0 -2.96 0M942.23 483.1a1.48 1.85 0 1 0 2.96 0a1.48 1.85 0 1 0 -2.96 0M945.7 478.12a1.48 1.85 0 1 0 2.96 0a1.48 1.85 0 1 0 -2.96 0M949.17 470.07a1.48 1.85 0 1 0 2.96 0a1.48 1.85 0 1 0 -2.96 0M952.64 461.48a1.48 1.85 0 1 0 2.96 0a1.48 1.85 0 1 0 -2.96 0M956.11 452.66a1.48 1.85 0 1 0 2.96 0a1.48 1.85 0 1 0 -2.96 0M959.57 439.77a1.48 1.85 0 1 0 2.96 0a1.48 1.85 0 1 0 -2.96 0M963.04 422.32a1.48 1.85 0 1 0 2.96 0a1.48 1.85 0 1 0 -2.96 0M966.51 397.81a1.48 1.85 0 1 0 2.96 0a1.48 1.85 0 1 0 -2.96 0M969.98 374.74a1.48 1.85 0 1 0 2.96 0a1.48 1.85 0 1 0 -2.96 0M973.45 350.52a1.48 1.85 0 1 0 2.96 0a1.48 1.85 0 1 0 -2.96 0M976.92 321.05a1.48 1.85 0 1 0 2.96 0a1.48 1.85 0 1 0 -2.96 0M980.39 284.39a1.48 1.85 0 1 0 2.96 0a1.48 1.85 0 1 0 -2.96 0M983.86 250.45a1.48 1.85 0 1 0 2.96 0a1.48 1.85 0 1 0 -2.96 0M987.33 214.29a1.48 1.85 0 1 0 2.96 0a1.48 1.85 0 1 0 -2.96 0M990.8 177.53a1.48 1.85 0 1 0 2.96 0a1.48 1.85 0 1 0 -2.96 0M994.27 140.42a1.48 1.85 0 1 0 2.96 0a1.48 1.85 0 1 0 -2.96 0M997.74 109.69a1.48 1.85 0 1 0 2.96 0a1.48 1.85 0 1 0 -2.96 0M1001.21 84.26a1.48 1.85 0 1 0 2.96 0a1.48 1.85 0 1 0 -2.96 0M1004.68 70.01a1.48 1.85 0 1 0 2.96 0a1.48 1.85 0 1 0 -2.96 0M1008.15 80.1a1.48 1.85 0 1 0 2.96 0a1.48 1.85 0 1 0 -2.96 0M1011.61 138.34a1.48 1.85 0 1 0 2.96 0a1.48 1.85 0 1 0 -2.96 0M1015.08 223.43a1.48 1.85 0 1 0 2.96 0a1.48 1.85 0 1 0 -2.96 0M1018.55 305.28a1.48 1.85 0 1 0 2.96 0a1.48 1.85 0 1 0 -2.96 0M1022.02 372.84a1.48 1.85 0 1 0 2.96 0a1.48 1.85 0 1 0 -2.96 0M1025.49 419.86a1.48 1.85 0 1 0 2.96 0a1.48 1.85 0 1 0 -2.96 0M1028.96 452.21a1.48 1.85 0 1 0 2.96 0a1.48 1.85 0 1 0 -2.96 0M1032.43 473.03a1.48 1.85 0 1 0 2.96 0a1.48 1.85 0 1 0 -2.96 0M1035.9 488.37a1.48 1.85 0 1 0 2.96 0a1.48 1.85 0 1 0 -2.96 0M1039.37 499.23a1.48 1.85 0 1 0 2.96 0a1.48 1.85 0 1 0 -2.96 0M1042.84 511.62a1.48 1.85 0 1 0 2.96 0a1.48 1.85 0 1 0 -2.96 0M1046.31 518.56a1.48 1.85 0 1 0 2.96 0a1.48 1.85 0 1 0 -2.96 0M1049.78 525.91a1.48 1.85 0 1 0 2.96 0a1.48 1.85 0 1 0 -2.96 0M1053.25 529.72a1.48 1.85 0 1 0 2.96 0a1.48 1.85 0 1 0 -2.96 0M1056.72 535.45a1.48 1.85 0 1 0 2.96 0a1.48 1.85 0 1 0 -2.96 0M1060.19 540.4a1.48 1.85 0 1 0 2.96 0a1.48 1.85 0 1 0 -2.96 0M1063.65 545.65a1.48 1.85 0 1 0 2.96 0a1.48 1.85 0 1 0 -2.96 0M1067.12 548.05a1.48 1.85 0 1 0 2.96 0a1.48 1.85 0 1 0 -2.96 0M1070.59 552.12a1.48 1.85 0 1 0 2.96 0a1.48 1.85 0 1 0 -2.96 0M1074.06 553.34a1.48 1.85 0 1 0 2.96 0a1.48 1.85 0 1 0 -2.96 0M1077.53 557.32a1.48 1.85 0 1 0 2.96 0a1.48 1.85 0 1 0 -2.96 0M1081 557.97a1.48 1.85 0 1 0 2.96 0a1.48 1.85 0 1 0 -2.96 0M1084.47 559.06a1.48 1.85 0 1 0 2.96 0a1.48 1.85 0 1 0 -2.96 0M1087.94 560.48a1.48 1.85 0 1 0 2.96 0a1.48 1.85 0 1 0 -2.96 0M1091.41 563.32a1.48 1.85 0 1 0 2.96 0a1.48 1.85 0 1 0 -2.96 0M1094.88 564.25a1.48 1.85 0 1 0 2.96 0a1.48 1.85 0 1 0 -2.96 0M1098.35 565.63a1.48 1.85 0 1 0 2.96 0a1.48 1.85 0 1 0 -2.96 0M1101.82 566.38a1.48 1.85 0 1 0 2.96 0a1.48 1.85 0 1 0 -2.96 0M1105.29 567.63a1.48 1.85 0 1 0 2.96 0a1.48 1.85 0 1 0 -2.96 0M1108.76 569.18a1.48 1.85 0 1 0 2.96 0a1.48 1.85 0 1 0 -2.96 0M1112.23 568.7a1.48 1.85 0 1 0 2.96 0a1.48 1.85 0 1 0 -2.96 0M1115.69 569.68a1.48 1.85 0 1 0 2.96 0a1.48 1.85 0 1 0 -2.96 0M1119.16 569.85a1.48 1.85 0 1 0 2.96 0a1.48 1.85 0 1 0 -2.96 0M1122.63 569.52a1.48 1.85 0 1 0 2.96 0a1.48 1.85 0 1 0 -2.96 0M1126.1 570.99a1.48 1.85 0 1 0 2.96 0a1.48 1.85 0 1 0 -2.96 0M1129.57 572.64a1.48 1.85 0 1 0 2.96 0a1.48 1.85 0 1 0 -2.96 0M1133.04 571.56a1.48 1.85 0 1 0 2.96 0a1.48 1.85 0 1 0 -2.96 0M1136.51 574.02a1.48 1.85 0 1 0 2.96 0a1.48 1.85 0 1 0 -2.96 0M1139.98 573.28a1.48 1.85 0 1 0 2.96 0a1.48 1.85 0 1 0 -2.96 0M1143.45 573.59a1.48 1.85 0 1 0 2.96 0a1.48 1.85 0 1 0 -2.96 0M1146.92 574.25a1.48 1.85 0 1 0 2.96 0a1.48 1.85 0 1 0 -2.96 0M1150.39 573.97a1.48 1.85 0 1 0 2.96 0a1.48 1.85 0 1 0 -2.96 0M1153.86 574.29a1.48 1.85 0 1 0 2.96 0a1.48 1.85 0 1 0 -2.96 0M1157.33 575.42a1.48 1.85 0 1 0 2.96 0a1.48 1.85 0 1 0 -2.96 0M1160.8 574.35a1.48 1.85 0 1 0 2.96 0a1.48 1.85 0 1 0 -2.96 0M1164.27 574.98a1.48 1.85 0 1 0 2.96 0a1.48 1.85 0 1 0 -2.96 0M1167.73 574.54a1.48 1.85 0 1 0 2.96 0a1.48 1.85 0 1 0 -2.96 0M1171.2 575.61a1.48 1.85 0 1 0 2.96 0a1.48 1.85 0 1 0 -2.96 0M1174.67 577.74a1.48 1.85 0 1 0 2.96 0a1.48 1.85 0 1 0 -2.96 0M1178.14 576.74a1.48 1.85 0 1 0 2.96 0a1.48 1.85 0 1 0 -2.96 0M1181.61 575.56a1.48 1.85 0 1 0 2.96 0a1.48 1.85 0 1 0 -2.96 0M1185.08 575.21a1.48 1.85 0 1 0 2.96 0a1.48 1.85 0 1 0 -2.96 0M1188.55 576.89a1.48 1.85 0 1 0 2.96 0a1.48 1.85 0 1 0 -2.96 0M1192.02 577.15a1.48 1.85 0 1 0 2.96 0a1.48 1.85 0 1 0 -2.96 0" fill="#228c84"/>
<path d="M673.1 574.89 L676.57 575.09 L680.04 575.1 L683.51 573.86 L686.98 574.77 L690.45 574.23 L693.92 574.36 L697.39 573.82 L700.85 574.19 L704.32 572.62 L707.79 574.19 L711.26 573.62 L714.73 572.25 L718.2 572.88 L721.67 572.55 L725.14 570.92 L728.61 572.24 L732.08 571.24 L735.55 571.22 L739.02 570.73 L742.49 570.57 L745.96 570.6 L749.43 570.29 L752.89 568.85 L756.36 569.34 L759.83 568.23 L763.3 567.85 L766.77 568.01 L770.24 568.34 L773.71 567.7 L777.18 566.36 L780.65 565.75 L784.12 565.18 L787.59 565.31 L791.06 565.14 L794.53 563.64 L798 563.12 L801.47 561.88 L804.93 561.71 L808.4 558.25 L811.87 556.86 L815.34 556.46 L818.81 555.12 L822.28 552.54 L825.75 551.11 L829.22 547.74 L832.69 545.2 L836.16 542.91 L839.63 541.12 L843.1 537.85 L846.57 533.43 L850.04 530.38 L853.51 525.63 L856.97 521.72 L860.44 516.36 L863.91 513.15 L867.38 508.84 L870.85 505.19 L874.32 499.47 L877.79 493.77 L881.26 489.78 L884.73 485.45 L888.2 482.76 L891.67 480.84 L895.14 480.73 L898.61 478.9 L902.08 480.06 L905.55 480.73 L909.01 480.03 L912.48 482.66 L915.95 484.09 L919.42 484.16 L922.89 483.81 L926.36 483.9 L929.83 485.62 L933.3 487.7 L936.77 486.41 L940.24 485.87 L943.71 483.3 L947.18 477.49 L950.65 471.46 L954.12 462.48 L957.59 455.63 L961.05 443.05 L964.52 423.68 L967.99 402.12 L971.46 376.79 L974.93 355.74 L978.4 324.67 L981.87 287.67 L985.34 253.45 L988.81 217.23 L992.28 181.75 L995.75 145.24 L999.22 112.41 L1002.69 85.5 L1006.16 68.36 L1009.63 69.64 L1013.09 117.07 L1016.56 197.52 L1020.03 287.2 L1023.5 358.8 L1026.97 410.83 L1030.44 446.05 L1033.91 468.5 L1037.38 483.49 L1040.85 498.28 L1044.32 508.93 L1047.79 517.39 L1051.26 523.61 L1054.73 529.38 L1058.2 534.22 L1061.67 539.36 L1065.13 543.24 L1068.6 546.84 L1072.07 550.57 L1075.54 554.43 L1079.01 554.48 L1082.48 558.39 L1085.95 560.32 L1089.42 560.64 L1092.89 563.07 L1096.36 564.17 L1099.83 564.89 L1103.3 565.86 L1106.77 566.15 L1110.24 569.04 L1113.71 570.21 L1117.17 570.38 L1120.64 569.76 L1124.11 570.7 L1127.58 571.28 L1131.05 570.98 L1134.52 571.8 L1137.99 572.75 L1141.46 572.52 L1144.93 572.02 L1148.4 572.7 L1151.87 574.02 L1155.34 573.94 L1158.81 574.26 L1162.28 575.6 L1165.75 575.03 L1169.21 574.76 L1172.68 575.41 L1176.15 577.07 L1179.62 575.15 L1183.09 577.23 L1186.56 577.2 L1190.03 576.35 L1193.5 576.4" fill="none" stroke="#2030d0" stroke-width="1.2" stroke-linejoin="round"/>
<path d="M671.62 574.89a1.48 1.85 0 1 0 2.96 0a1.48 1.85 0 1 0 -2.96 0M675.09 575.09a1.48 1.85 0 1 0 2.96 0a1.48 1.85 0 1 0 -2.96 0M678.56 575.1a1.48 1.85 0 1 0 2.96 0a1.48 1.85 0 1 0 -2.96 0M682.03 573.86a1.48 1.85 0 1 0 2.96 0a1.48 1.85 0 1 0 -2.96 0M685.5 574.77a1.48 1.85 0 1 0 2.96 0a1.48 1.85 0 1 0 -2.96 0M688.97 574.23a1.48 1.85 0 1 0 2.96 0a1.48 1.85 0 1 0 -2.96 0M692.44 574.36a1.48 1.85 0 1 0 2.96 0a1.48 1.85 0 1 0 -2.96 0M695.91 573.82a1.48 1.85 0 1 0 2.96 0a1.48 1.85 0 1 0 -2.96 0M699.37 574.19a1.48 1.85 0 1 0 2.96 0a1.48 1.85 0 1 0 -2.96 0M702.84 572.62a1.48 1.85 0 1 0 2.96 0a1.48 1.85 0 1 0 -2.96 0M706.31 574.19a1.48 1.85 0 1 0 2.96 0a1.48 1.85 0 1 0 -2.96 0M709.78 573.62a1.48 1.85 0 1 0 2.96 0a1.48 1.85 0 1 0 -2.96 0M713.25 572.25a1.48 1.85 0 1 0 2.96 0a1.48 1.85 0 1 0 -2.96 0M716.72 572.88a1.48 1.85 0 1 0 2.96 0a1.48 1.85 0 1 0 -2.96 0M720.19 572.55a1.48 1.85 0 1 0 2.96 0a1.48 1.85 0 1 0 -2.96 0M723.66 570.92a1.48 1.85 0 1 0 2.96 0a1.48 1.85 0 1 0 -2.96 0M727.13 572.24a1.48 1.85 0 1 0 2.96 0a1.48 1.85 0 1 0 -2.96 0M730.6 571.24a1.48 1.85 0 1 0 2.96 0a1.48 1.85 0 1 0 -2.96 0M734.07 571.22a1.48 1.85 0 1 0 2.96 0a1.48 1.85 0 1 0 -2.96 0M737.54 570.73a1.48 1.85 0 1 0 2.96 0a1.48 1.85 0 1 0 -2.96 0M741.01 570.57a1.48 1.85 0 1 0 2.96 0a1.48 1.85 0 1 0 -2.96 0M744.48 570.6a1.48 1.85 0 1 0 2.96 0a1.48 1.85 0 1 0 -2.96 0M747.95 570.29a1.48 1.85 0 1 0 2.96 0a1.48 1.85 0 1 0 -2.96 0M751.41 568.85a1.48 1.85 0 1 0 2.96 0a1.48 1.85 0 1 0 -2.96 0M754.88 569.34a1.48 1.85 0 1 0 2.96 0a1.48 1.85 0 1 0 -2.96 0M758.35 568.23a1.48 1.85 0 1 0 2.96 0a1.48 1.85 0 1 0 -2.96 0M761.82 567.85a1.48 1.85 0 1 0 2.96 0a1.48 1.85 0 1 0 -2.96 0M765.29 568.01a1.48 1.85 0 1 0 2.96 0a1.48 1.85 0 1 0 -2.96 0M768.76 568.34a1.48 1.85 0 1 0 2.96 0a1.48 1.85 0 1 0 -2.96 0M772.23 567.7a1.48 1.85 0 1 0 2.96 0a1.48 1.85 0 1 0 -2.96 0M775.7 566.36a1.48 1.85 0 1 0 2.96 0a1.48 1.85 0 1 0 -2.96 0M779.17 565.75a1.48 1.85 0 1 0 2.96 0a1.48 1.85 0 1 0 -2.96 0M782.64 565.18a1.48 1.85 0 1 0 2.96 0a1.48 1.85 0 1 0 -2.96 0M786.11 565.31a1.48 1.85 0 1 0 2.96 0a1.48 1.85 0 1 0 -2.96 0M789.58 565.14a1.48 1.85 0 1 0 2.96 0a1.48 1.85 0 1 0 -2.96 0M793.05 563.64a1.48 1.85 0 1 0 2.96 0a1.48 1.85 0 1 0 -2.96 0M796.52 563.12a1.48 1.85 0 1 0 2.96 0a1.48 1.85 0 1 0 -2.96 0M799.99 561.88a1.48 1.85 0 1 0 2.96 0a1.48 1.85 0 1 0 -2.96 0M803.45 561.71a1.48 1.85 0 1 0 2.96 0a1.48 1.85 0 1 0 -2.96 0M806.92 558.25a1.48 1.85 0 1 0 2.96 0a1.48 1.85 0 1 0 -2.96 0M810.39 556.86a1.48 1.85 0 1 0 2.96 0a1.48 1.85 0 1 0 -2.96 0M813.86 556.46a1.48 1.85 0 1 0 2.96 0a1.48 1.85 0 1 0 -2.96 0M817.33 555.12a1.48 1.85 0 1 0 2.96 0a1.48 1.85 0 1 0 -2.96 0M820.8 552.54a1.48 1.85 0 1 0 2.96 0a1.48 1.85 0 1 0 -2.96 0M824.27 551.11a1.48 1.85 0 1 0 2.96 0a1.48 1.85 0 1 0 -2.96 0M827.74 547.74a1.48 1.85 0 1 0 2.96 0a1.48 1.85 0 1 0 -2.96 0M831.21 545.2a1.48 1.85 0 1 0 2.96 0a1.48 1.85 0 1 0 -2.96 0M834.68 542.91a1.48 1.85 0 1 0 2.96 0a1.48 1.85 0 1 0 -2.96 0M838.15 541.12a1.48 1.85 0 1 0 2.96 0a1.48 1.85 0 1 0 -2.96 0M841.62 537.85a1.48 1.85 0 1 0 2.96 0a1.48 1.85 0 1 0 -2.96 0M845.09 533.43a1.48 1.85 0 1 0 2.96 0a1.48 1.85 0 1 0 -2.96 0M848.56 530.38a1.48 1.85 0 1 0 2.96 0a1.48 1.85 0 1 0 -2.96 0M852.03 525.63a1.48 1.85 0 1 0 2.96 0a1.48 1.85 0 1 0 -2.96 0M855.49 521.72a1.48 1.85 0 1 0 2.96 0a1.48 1.85 0 1 0 -2.96 0M858.96 516.36a1.48 1.85 0 1 0 2.96 0a1.48 1.85 0 1 0 -2.96 0M862.43 513.15a1.48 1.85 0 1 0 2.96 0a1.48 1.85 0 1 0 -2.96 0M865.9 508.84a1.48 1.85 0 1 0 2.96 0a1.48 1.85 0 1 0 -2.96 0M869.37 505.19a1.48 1.85 0 1 0 2.96 0a1.48 1.85 0 1 0 -2.96 0M872.84 499.47a1.48 1.85 0 1 0 2.96 0a1.48 1.85 0 1 0 -2.96 0M876.31 493.77a1.48 1.85 0 1 0 2.96 0a1.48 1.85 0 1 0 -2.96 0M879.78 489.78a1.48 1.85 0 1 0 2.96 0a1.48 1.85 0 1 0 -2.96 0M883.25 485.45a1.48 1.85 0 1 0 2.96 0a1.48 1.85 0 1 0 -2.96 0M886.72 482.76a1.48 1.85 0 1 0 2.96 0a1.48 1.85 0 1 0 -2.96 0M890.19 480.84a1.48 1.85 0 1 0 2.96 0a1.48 1.85 0 1 0 -2.96 0M893.66 480.73a1.48 1.85 0 1 0 2.96 0a1.48 1.85 0 1 0 -2.96 0M897.13 478.9a1.48 1.85 0 1 0 2.96 0a1.48 1.85 0 1 0 -2.96 0M900.6 480.06a1.48 1.85 0 1 0 2.96 0a1.48 1.85 0 1 0 -2.96 0M904.07 480.73a1.48 1.85 0 1 0 2.96 0a1.48 1.85 0 1 0 -2.96 0M907.53 480.03a1.48 1.85 0 1 0 2.96 0a1.48 1.85 0 1 0 -2.96 0M911 482.66a1.48 1.85 0 1 0 2.96 0a1.48 1.85 0 1 0 -2.96 0M914.47 484.09a1.48 1.85 0 1 0 2.96 0a1.48 1.85 0 1 0 -2.96 0M917.94 484.16a1.48 1.85 0 1 0 2.96 0a1.48 1.85 0 1 0 -2.96 0M921.41 483.81a1.48 1.85 0 1 0 2.96 0a1.48 1.85 0 1 0 -2.96 0M924.88 483.9a1.48 1.85 0 1 0 2.96 0a1.48 1.85 0 1 0 -2.96 0M928.35 485.62a1.48 1.85 0 1 0 2.96 0a1.48 1.85 0 1 0 -2.96 0M931.82 487.7a1.48 1.85 0 1 0 2.96 0a1.48 1.85 0 1 0 -2.96 0M935.29 486.41a1.48 1.85 0 1 0 2.96 0a1.48 1.85 0 1 0 -2.96 0M938.76 485.87a1.48 1.85 0 1 0 2.96 0a1.48 1.85 0 1 0 -2.96 0M942.23 483.3a1.48 1.85 0 1 0 2.96 0a1.48 1.85 0 1 0 -2.96 0M945.7 477.49a1.48 1.85 0 1 0 2.96 0a1.48 1.85 0 1 0 -2.96 0M949.17 471.46a1.48 1.85 0 1 0 2.96 0a1.48 1.85 0 1 0 -2.96 0M952.64 462.48a1.48 1.85 0 1 0 2.96 0a1.48 1.85 0 1 0 -2.96 0M956.11 455.63a1.48 1.85 0 1 0 2.96 0a1.48 1.85 0 1 0 -2.96 0M959.57 443.05a1.48 1.85 0 1 0 2.96 0a1.48 1.85 0 1 0 -2.96 0M963.04 423.68a1.48 1.85 0 1 0 2.96 0a1.48 1.85 0 1 0 -2.96 0M966.51 402.12a1.48 1.85 0 1 0 2.96 0a1.48 1.85 0 1 0 -2.96 0M969.98 376.79a1.48 1.85 0 1 0 2.96 0a1.48 1.85 0 1 0 -2.96 0M973.45 355.74a1.48 1.85 0 1 0 2.96 0a1.48 1.85 0 1 0 -2.96 0M976.92 324.67a1.48 1.85 0 1 0 2.96 0a1.48 1.85 0 1 0 -2.96 0M980.39 287.67a1.48 1.85 0 1 0 2.96 0a1.48 1.85 0 1 0 -2.96 0M983.86 253.45a1.48 1.85 0 1 0 2.96 0a1.48 1.85 0 1 0 -2.96 0M987.33 217.23a1.48 1.85 0 1 0 2.96 0a1.48 1.85 0 1 0 -2.96 0M990.8 181.75a1.48 1.85 0 1 0 2.96 0a1.48 1.85 0 1 0 -2.96 0M994.27 145.24a1.48 1.85 0 1 0 2.96 0a1.48 1.85 0 1 0 -2.96 0M997.74 112.41a1.48 1.85 0 1 0 2.96 0a1.48 1.85 0 1 0 -2.96 0M1001.21 85.5a1.48 1.85 0 1 0 2.96 0a1.48 1.85 0 1 0 -2.96 0M1004.68 68.36a1.48 1.85 0 1 0 2.96 0a1.48 1.85 0 1 0 -2.96 0M1008.15 69.64a1.48 1.85 0 1 0 2.96 0a1.48 1.85 0 1 0 -2.96 0M1011.61 117.07a1.48 1.85 0 1 0 2.96 0a1.48 1.85 0 1 0 -2.96 0M1015.08 197.52a1.48 1.85 0 1 0 2.96 0a1.48 1.85 0 1 0 -2.96 0M1018.55 287.2a1.48 1.85 0 1 0 2.96 0a1.48 1.85 0 1 0 -2.96 0M1022.02 358.8a1.48 1.85 0 1 0 2.96 0a1.48 1.85 0 1 0 -2.96 0M1025.49 410.83a1.48 1.85 0 1 0 2.96 0a1.48 1.85 0 1 0 -2.96 0M1028.96 446.05a1.48 1.85 0 1 0 2.96 0a1.48 1.85 0 1 0 -2.96 0M1032.43 468.5a1.48 1.85 0 1 0 2.96 0a1.48 1.85 0 1 0 -2.96 0M1035.9 483.49a1.48 1.85 0 1 0 2.96 0a1.48 1.85 0 1 0 -2.96 0M1039.37 498.28a1.48 1.85 0 1 0 2.96 0a1.48 1.85 0 1 0 -2.96 0M1042.84 508.93a1.48 1.85 0 1 0 2.96 0a1.48 1.85 0 1 0 -2.96 0M1046.31 517.39a1.48 1.85 0 1 0 2.96 0a1.48 1.85 0 1 0 -2.96 0M1049.78 523.61a1.48 1.85 0 1 0 2.96 0a1.48 1.85 0 1 0 -2.96 0M1053.25 529.38a1.48 1.85 0 1 0 2.96 0a1.48 1.85 0 1 0 -2.96 0M1056.72 534.22a1.48 1.85 0 1 0 2.96 0a1.48 1.85 0 1 0 -2.96 0M1060.19 539.36a1.48 1.85 0 1 0 2.96 0a1.48 1.85 0 1 0 -2.96 0M1063.65 543.24a1.48 1.85 0 1 0 2.96 0a1.48 1.85 0 1 0 -2.96 0M1067.12 546.84a1.48 1.85 0 1 0 2.96 0a1.48 1.85 0 1 0 -2.96 0M1070.59 550.57a1.48 1.85 0 1 0 2.96 0a1.48 1.85 0 1 0 -2.96 0M1074.06 554.43a1.48 1.85 0 1 0 2.96 0a1.48 1.85 0 1 0 -2.96 0M1077.53 554.48a1.48 1.85 0 1 0 2.96 0a1.48 1.85 0 1 0 -2.96 0M1081 558.39a1.48 1.85 0 1 0 2.96 0a1.48 1.85 0 1 0 -2.96 0M1084.47 560.32a1.48 1.85 0 1 0 2.96 0a1.48 1.85 0 1 0 -2.96 0M1087.94 560.64a1.48 1.85 0 1 0 2.96 0a1.48 1.85 0 1 0 -2.96 0M1091.41 563.07a1.48 1.85 0 1 0 2.96 0a1.48 1.85 0 1 0 -2.96 0M1094.88 564.17a1.48 1.85 0 1 0 2.96 0a1.48 1.85 0 1 0 -2.96 0M1098.35 564.89a1.48 1.85 0 1 0 2.96 0a1.48 1.85 0 1 0 -2.96 0M1101.82 565.86a1.48 1.85 0 1 0 2.96 0a1.48 1.85 0 1 0 -2.96 0M1105.29 566.15a1.48 1.85 0 1 0 2.96 0a1.48 1.85 0 1 0 -2.96 0M1108.76 569.04a1.48 1.85 0 1 0 2.96 0a1.48 1.85 0 1 0 -2.96 0M1112.23 570.21a1.48 1.85 0 1 0 2.96 0a1.48 1.85 0 1 0 -2.96 0M1115.69 570.38a1.48 1.85 0 1 0 2.96 0a1.48 1.85 0 1 0 -2.96 0M1119.16 569.76a1.48 1.85 0 1 0 2.96 0a1.48 1.85 0 1 0 -2.96 0M1122.63 570.7a1.48 1.85 0 1 0 2.96 0a1.48 1.85 0 1 0 -2.96 0M1126.1 571.28a1.48 1.85 0 1 0 2.96 0a1.48 1.85 0 1 0 -2.96 0M1129.57 570.98a1.48 1.85 0 1 0 2.96 0a1.48 1.85 0 1 0 -2.96 0M1133.04 571.8a1.48 1.85 0 1 0 2.96 0a1.48 1.85 0 1 0 -2.96 0M1136.51 572.75a1.48 1.85 0 1 0 2.96 0a1.48 1.85 0 1 0 -2.96 0M1139.98 572.52a1.48 1.85 0 1 0 2.96 0a1.48 1.85 0 1 0 -2.96 0M1143.45 572.02a1.48 1.85 0 1 0 2.96 0a1.48 1.85 0 1 0 -2.96 0M1146.92 572.7a1.48 1.85 0 1 0 2.96 0a1.48 1.85 0 1 0 -2.96 0M1150.39 574.02a1.48 1.85 0 1 0 2.96 0a1.48 1.85 0 1 0 -2.96 0M1153.86 573.94a1.48 1.85 0 1 0 2.96 0a1.48 1.85 0 1 0 -2.96 0M1157.33 574.26a1.48 1.85 0 1 0 2.96 0a1.48 1.85 0 1 0 -2.96 0M1160.8 575.6a1.48 1.85 0 1 0 2.96 0a1.48 1.85 0 1 0 -2.96 0M1164.27 575.03a1.48 1.85 0 1 0 2.96 0a1.48 1.85 0 1 0 -2.96 0M1167.73 574.76a1.48 1.85 0 1 0 2.96 0a1.48 1.85 0 1 0 -2.96 0M1171.2 575.41a1.48 1.85 0 1 0 2.96 0a1.48 1.85 0 1 0 -2.96 0M1174.67 577.07a1.48 1.85 0 1 0 2.96 0a1.48 1.85 0 1 0 -2.96 0M1178.14 575.15a1.48 1.85 0 1 0 2.96 0a1.48 1.85 0 1 0 -2.96 0M1181.61 577.23a1.48 1.85 0 1 0 2.96 0a1.48 1.85 0 1 0 -2.96 0M1185.08 577.2a1.48 1.85 0 1 0 2.96 0a1.48 1.85 0 1 0 -2.96 0M1188.55 576.35a1.48 1.85 0 1 0 2.96 0a1.48 1.85 0 1 0 -2.96 0M1192.02 576.4a1.48 1.85 0 1 0 2.96 0a1.48 1.85 0 1 0 -2.96 0" fill="#2030d0"/>
<path d="M673.1 576.22 L676.57 575.47 L680.04 574.14 L683.51 574.42 L686.98 574.16 L690.45 575.68 L693.92 573.32 L697.39 574.63 L700.85 573.61 L704.32 574 L707.79 573.14 L711.26 573.21 L714.73 573.09 L718.2 572.66 L721.67 572.84 L725.14 572.46 L728.61 572.84 L732.08 573.01 L735.55 571.54 L739.02 571.24 L742.49 571.37 L745.96 569.74 L749.43 570.73 L752.89 569.86 L756.36 569.32 L759.83 568.45 L763.3 568.95 L766.77 569.02 L770.24 567.9 L773.71 567.18 L777.18 566.93 L780.65 566.71 L784.12 565.58 L787.59 565.52 L791.06 564.49 L794.53 564.28 L798 564.6 L801.47 562.6 L804.93 562.9 L808.4 560.05 L811.87 558.48 L815.34 557.38 L818.81 555.75 L822.28 554.13 L825.75 552.17 L829.22 549.47 L832.69 547.87 L836.16 544.54 L839.63 542.22 L843.1 538.9 L846.57 535.39 L850.04 531.68 L853.51 526.87 L856.97 523.42 L860.44 518.98 L863.91 514.15 L867.38 512.74 L870.85 506.7 L874.32 500.32 L877.79 494.53 L881.26 490.37 L884.73 485.3 L888.2 484.48 L891.67 481.71 L895.14 481.95 L898.61 479.87 L902.08 481.06 L905.55 482.01 L909.01 482.28 L912.48 481.33 L915.95 484.12 L919.42 485.26 L922.89 487.81 L926.36 487.66 L929.83 489.62 L933.3 488.99 L936.77 488.03 L940.24 487.94 L943.71 488.49 L947.18 481.98 L950.65 476.76 L954.12 471.74 L957.59 463.35 L961.05 450.57 L964.52 434.62 L967.99 413.62 L971.46 389.28 L974.93 370.77 L978.4 340.91 L981.87 308.55 L985.34 273.39 L988.81 240.06 L992.28 201.63 L995.75 167.66 L999.22 131.11 L1002.69 103.98 L1006.16 83.07 L1009.63 71.84 L1013.09 102.48 L1016.56 175.34 L1020.03 260.82 L1023.5 338.03 L1026.97 396.23 L1030.44 438.6 L1033.91 462.93 L1037.38 481.1 L1040.85 493.79 L1044.32 505.61 L1047.79 514.29 L1051.26 521.11 L1054.73 527.51 L1058.2 534.39 L1061.67 536.64 L1065.13 542.43 L1068.6 546.56 L1072.07 548.62 L1075.54 552.8 L1079.01 555.18 L1082.48 558.19 L1085.95 559.73 L1089.42 560.95 L1092.89 562.61 L1096.36 562.25 L1099.83 566.2 L1103.3 566.04 L1106.77 565.87 L1110.24 566.99 L1113.71 568.26 L1117.17 568.72 L1120.64 569.85 L1124.11 569.87 L1127.58 571.19 L1131.05 571.04 L1134.52 571.76 L1137.99 571.34 L1141.46 572.16 L1144.93 572.95 L1148.4 572.77 L1151.87 573.56 L1155.34 573.82 L1158.81 573.3 L1162.28 575.3 L1165.75 573.97 L1169.21 576.21 L1172.68 576 L1176.15 575.93 L1179.62 575.75 L1183.09 575.42 L1186.56 577.23 L1190.03 577.67 L1193.5 576.09" fill="none" stroke="#000000" stroke-width="1.2" stroke-linejoin="round"/>
<path d="M671.62 576.22a1.48 1.85 0 1 0 2.96 0a1.48 1.85 0 1 0 -2.96 0M675.09 575.47a1.48 1.85 0 1 0 2.96 0a1.48 1.85 0 1 0 -2.96 0M678.56 574.14a1.48 1.85 0 1 0 2.96 0a1.48 1.85 0 1 0 -2.96 0M682.03 574.42a1.48 1.85 0 1 0 2.96 0a1.48 1.85 0 1 0 -2.96 0M685.5 574.16a1.48 1.85 0 1 0 2.96 0a1.48 1.85 0 1 0 -2.96 0M688.97 575.68a1.48 1.85 0 1 0 2.96 0a1.48 1.85 0 1 0 -2.96 0M692.44 573.32a1.48 1.85 0 1 0 2.96 0a1.48 1.85 0 1 0 -2.96 0M695.91 574.63a1.48 1.85 0 1 0 2.96 0a1.48 1.85 0 1 0 -2.96 0M699.37 573.61a1.48 1.85 0 1 0 2.96 0a1.48 1.85 0 1 0 -2.96 0M702.84 574a1.48 1.85 0 1 0 2.96 0a1.48 1.85 0 1 0 -2.96 0M706.31 573.14a1.48 1.85 0 1 0 2.96 0a1.48 1.85 0 1 0 -2.96 0M709.78 573.21a1.48 1.85 0 1 0 2.96 0a1.48 1.85 0 1 0 -2.96 0M713.25 573.09a1.48 1.85 0 1 0 2.96 0a1.48 1.85 0 1 0 -2.96 0M716.72 572.66a1.48 1.85 0 1 0 2.96 0a1.48 1.85 0 1 0 -2.96 0M720.19 572.84a1.48 1.85 0 1 0 2.96 0a1.48 1.85 0 1 0 -2.96 0M723.66 572.46a1.48 1.85 0 1 0 2.96 0a1.48 1.85 0 1 0 -2.96 0M727.13 572.84a1.48 1.85 0 1 0 2.96 0a1.48 1.85 0 1 0 -2.96 0M730.6 573.01a1.48 1.85 0 1 0 2.96 0a1.48 1.85 0 1 0 -2.96 0M734.07 571.54a1.48 1.85 0 1 0 2.96 0a1.48 1.85 0 1 0 -2.96 0M737.54 571.24a1.48 1.85 0 1 0 2.96 0a1.48 1.85 0 1 0 -2.96 0M741.01 571.37a1.48 1.85 0 1 0 2.96 0a1.48 1.85 0 1 0 -2.96 0M744.48 569.74a1.48 1.85 0 1 0 2.96 0a1.48 1.85 0 1 0 -2.96 0M747.95 570.73a1.48 1.85 0 1 0 2.96 0a1.48 1.85 0 1 0 -2.96 0M751.41 569.86a1.48 1.85 0 1 0 2.96 0a1.48 1.85 0 1 0 -2.96 0M754.88 569.32a1.48 1.85 0 1 0 2.96 0a1.48 1.85 0 1 0 -2.96 0M758.35 568.45a1.48 1.85 0 1 0 2.96 0a1.48 1.85 0 1 0 -2.96 0M761.82 568.95a1.48 1.85 0 1 0 2.96 0a1.48 1.85 0 1 0 -2.96 0M765.29 569.02a1.48 1.85 0 1 0 2.96 0a1.48 1.85 0 1 0 -2.96 0M768.76 567.9a1.48 1.85 0 1 0 2.96 0a1.48 1.85 0 1 0 -2.96 0M772.23 567.18a1.48 1.85 0 1 0 2.96 0a1.48 1.85 0 1 0 -2.96 0M775.7 566.93a1.48 1.85 0 1 0 2.96 0a1.48 1.85 0 1 0 -2.96 0M779.17 566.71a1.48 1.85 0 1 0 2.96 0a1.48 1.85 0 1 0 -2.96 0M782.64 565.58a1.48 1.85 0 1 0 2.96 0a1.48 1.85 0 1 0 -2.96 0M786.11 565.52a1.48 1.85 0 1 0 2.96 0a1.48 1.85 0 1 0 -2.96 0M789.58 564.49a1.48 1.85 0 1 0 2.96 0a1.48 1.85 0 1 0 -2.96 0M793.05 564.28a1.48 1.85 0 1 0 2.96 0a1.48 1.85 0 1 0 -2.96 0M796.52 564.6a1.48 1.85 0 1 0 2.96 0a1.48 1.85 0 1 0 -2.96 0M799.99 562.6a1.48 1.85 0 1 0 2.96 0a1.48 1.85 0 1 0 -2.96 0M803.45 562.9a1.48 1.85 0 1 0 2.96 0a1.48 1.85 0 1 0 -2.96 0M806.92 560.05a1.48 1.85 0 1 0 2.96 0a1.48 1.85 0 1 0 -2.96 0M810.39 558.48a1.48 1.85 0 1 0 2.96 0a1.48 1.85 0 1 0 -2.96 0M813.86 557.38a1.48 1.85 0 1 0 2.96 0a1.48 1.85 0 1 0 -2.96 0M817.33 555.75a1.48 1.85 0 1 0 2.96 0a1.48 1.85 0 1 0 -2.96 0M820.8 554.13a1.48 1.85 0 1 0 2.96 0a1.48 1.85 0 1 0 -2.96 0M824.27 552.17a1.48 1.85 0 1 0 2.96 0a1.48 1.85 0 1 0 -2.96 0M827.74 549.47a1.48 1.85 0 1 0 2.96 0a1.48 1.85 0 1 0 -2.96 0M831.21 547.87a1.48 1.85 0 1 0 2.96 0a1.48 1.85 0 1 0 -2.96 0M834.68 544.54a1.48 1.85 0 1 0 2.96 0a1.48 1.85 0 1 0 -2.96 0M838.15 542.22a1.48 1.85 0 1 0 2.96 0a1.48 1.85 0 1 0 -2.96 0M841.62 538.9a1.48 1.85 0 1 0 2.96 0a1.48 1.85 0 1 0 -2.96 0M845.09 535.39a1.48 1.85 0 1 0 2.96 0a1.48 1.85 0 1 0 -2.96 0M848.56 531.68a1.48 1.85 0 1 0 2.96 0a1.48 1.85 0 1 0 -2.96 0M852.03 526.87a1.48 1.85 0 1 0 2.96 0a1.48 1.85 0 1 0 -2.96 0M855.49 523.42a1.48 1.85 0 1 0 2.96 0a1.48 1.85 0 1 0 -2.96 0M858.96 518.98a1.48 1.85 0 1 0 2.96 0a1.48 1.85 0 1 0 -2.96 0M862.43 514.15a1.48 1.85 0 1 0 2.96 0a1.48 1.85 0 1 0 -2.96 0M865.9 512.74a1.48 1.85 0 1 0 2.96 0a1.48 1.85 0 1 0 -2.96 0M869.37 506.7a1.48 1.85 0 1 0 2.96 0a1.48 1.85 0 1 0 -2.96 0M872.84 500.32a1.48 1.85 0 1 0 2.96 0a1.48 1.85 0 1 0 -2.96 0M876.31 494.53a1.48 1.85 0 1 0 2.96 0a1.48 1.85 0 1 0 -2.96 0M879.78 490.37a1.48 1.85 0 1 0 2.96 0a1.48 1.85 0 1 0 -2.96 0M883.25 485.3a1.48 1.85 0 1 0 2.96 0a1.48 1.85 0 1 0 -2.96 0M886.72 484.48a1.48 1.85 0 1 0 2.96 0a1.48 1.85 0 1 0 -2.96 0M890.19 481.71a1.48 1.85 0 1 0 2.96 0a1.48 1.85 0 1 0 -2.96 0M893.66 481.95a1.48 1.85 0 1 0 2.96 0a1.48 1.85 0 1 0 -2.96 0M897.13 479.87a1.48 1.85 0 1 0 2.96 0a1.48 1.85 0 1 0 -2.96 0M900.6 481.06a1.48 1.85 0 1 0 2.96 0a1.48 1.85 0 1 0 -2.96 0M904.07 482.01a1.48 1.85 0 1 0 2.96 0a1.48 1.85 0 1 0 -2.96 0M907.53 482.28a1.48 1.85 0 1 0 2.96 0a1.48 1.85 0 1 0 -2.96 0M911 481.33a1.48 1.85 0 1 0 2.96 0a1.48 1.85 0 1 0 -2.96 0M914.47 484.12a1.48 1.85 0 1 0 2.96 0a1.48 1.85 0 1 0 -2.96 0M917.94 485.26a1.48 1.85 0 1 0 2.96 0a1.48 1.85 0 1 0 -2.96 0M921.41 487.81a1.48 1.85 0 1 0 2.96 0a1.48 1.85 0 1 0 -2.96 0M924.88 487.66a1.48 1.85 0 1 0 2.96 0a1.48 1.85 0 1 0 -2.96 0M928.35 489.62a1.48 1.85 0 1 0 2.96 0a1.48 1.85 0 1 0 -2.96 0M931.82 488.99a1.48 1.85 0 1 0 2.96 0a1.48 1.85 0 1 0 -2.96 0M935.29 488.03a1.48 1.85 0 1 0 2.96 0a1.48 1.85 0 1 0 -2.96 0M938.76 487.94a1.48 1.85 0 1 0 2.96 0a1.48 1.85 0 1 0 -2.96 0M942.23 488.49a1.48 1.85 0 1 0 2.96 0a1.48 1.85 0 1 0 -2.96 0M945.7 481.98a1.48 1.85 0 1 0 2.96 0a1.48 1.85 0 1 0 -2.96 0M949.17 476.76a1.48 1.85 0 1 0 2.96 0a1.48 1.85 0 1 0 -2.96 0M952.64 471.74a1.48 1.85 0 1 0 2.96 0a1.48 1.85 0 1 0 -2.96 0M956.11 463.35a1.48 1.85 0 1 0 2.96 0a1.48 1.85 0 1 0 -2.96 0M959.57 450.57a1.48 1.85 0 1 0 2.96 0a1.48 1.85 0 1 0 -2.96 0M963.04 434.62a1.48 1.85 0 1 0 2.96 0a1.48 1.85 0 1 0 -2.96 0M966.51 413.62a1.48 1.85 0 1 0 2.96 0a1.48 1.85 0 1 0 -2.96 0M969.98 389.28a1.48 1.85 0 1 0 2.96 0a1.48 1.85 0 1 0 -2.96 0M973.45 370.77a1.48 1.85 0 1 0 2.96 0a1.48 1.85 0 1 0 -2.96 0M976.92 340.91a1.48 1.85 0 1 0 2.96 0a1.48 1.85 0 1 0 -2.96 0M980.39 308.55a1.48 1.85 0 1 0 2.96 0a1.48 1.85 0 1 0 -2.96 0M983.86 273.39a1.48 1.85 0 1 0 2.96 0a1.48 1.85 0 1 0 -2.96 0M987.33 240.06a1.48 1.85 0 1 0 2.96 0a1.48 1.85 0 1 0 -2.96 0M990.8 201.63a1.48 1.85 0 1 0 2.96 0a1.48 1.85 0 1 0 -2.96 0M994.27 167.66a1.48 1.85 0 1 0 2.96 0a1.48 1.85 0 1 0 -2.96 0M997.74 131.11a1.48 1.85 0 1 0 2.96 0a1.48 1.85 0 1 0 -2.96 0M1001.21 103.98a1.48 1.85 0 1 0 2.96 0a1.48 1.85 0 1 0 -2.96 0M1004.68 83.07a1.48 1.85 0 1 0 2.96 0a1.48 1.85 0 1 0 -2.96 0M1008.15 71.84a1.48 1.85 0 1 0 2.96 0a1.48 1.85 0 1 0 -2.96 0M1011.61 102.48a1.48 1.85 0 1 0 2.96 0a1.48 1.85 0 1 0 -2.96 0M1015.08 175.34a1.48 1.85 0 1 0 2.96 0a1.48 1.85 0 1 0 -2.96 0M1018.55 260.82a1.48 1.85 0 1 0 2.96 0a1.48 1.85 0 1 0 -2.96 0M1022.02 338.03a1.48 1.85 0 1 0 2.96 0a1.48 1.85 0 1 0 -2.96 0M1025.49 396.23a1.48 1.85 0 1 0 2.96 0a1.48 1.85 0 1 0 -2.96 0M1028.96 438.6a1.48 1.85 0 1 0 2.96 0a1.48 1.85 0 1 0 -2.96 0M1032.43 462.93a1.48 1.85 0 1 0 2.96 0a1.48 1.85 0 1 0 -2.96 0M1035.9 481.1a1.48 1.85 0 1 0 2.96 0a1.48 1.85 0 1 0 -2.96 0M1039.37 493.79a1.48 1.85 0 1 0 2.96 0a1.48 1.85 0 1 0 -2.96 0M1042.84 505.61a1.48 1.85 0 1 0 2.96 0a1.48 1.85 0 1 0 -2.96 0M1046.31 514.29a1.48 1.85 0 1 0 2.96 0a1.48 1.85 0 1 0 -2.96 0M1049.78 521.11a1.48 1.85 0 1 0 2.96 0a1.48 1.85 0 1 0 -2.96 0M1053.25 527.51a1.48 1.85 0 1 0 2.96 0a1.48 1.85 0 1 0 -2.96 0M1056.72 534.39a1.48 1.85 0 1 0 2.96 0a1.48 1.85 0 1 0 -2.96 0M1060.19 536.64a1.48 1.85 0 1 0 2.96 0a1.48 1.85 0 1 0 -2.96 0M1063.65 542.43a1.48 1.85 0 1 0 2.96 0a1.48 1.85 0 1 0 -2.96 0M1067.12 546.56a1.48 1.85 0 1 0 2.96 0a1.48 1.85 0 1 0 -2.96 0M1070.59 548.62a1.48 1.85 0 1 0 2.96 0a1.48 1.85 0 1 0 -2.96 0M1074.06 552.8a1.48 1.85 0 1 0 2.96 0a1.48 1.85 0 1 0 -2.96 0M1077.53 555.18a1.48 1.85 0 1 0 2.96 0a1.48 1.85 0 1 0 -2.96 0M1081 558.19a1.48 1.85 0 1 0 2.96 0a1.48 1.85 0 1 0 -2.96 0M1084.47 559.73a1.48 1.85 0 1 0 2.96 0a1.48 1.85 0 1 0 -2.96 0M1087.94 560.95a1.48 1.85 0 1 0 2.96 0a1.48 1.85 0 1 0 -2.96 0M1091.41 562.61a1.48 1.85 0 1 0 2.96 0a1.48 1.85 0 1 0 -2.96 0M1094.88 562.25a1.48 1.85 0 1 0 2.96 0a1.48 1.85 0 1 0 -2.96 0M1098.35 566.2a1.48 1.85 0 1 0 2.96 0a1.48 1.85 0 1 0 -2.96 0M1101.82 566.04a1.48 1.85 0 1 0 2.96 0a1.48 1.85 0 1 0 -2.96 0M1105.29 565.87a1.48 1.85 0 1 0 2.96 0a1.48 1.85 0 1 0 -2.96 0M1108.76 566.99a1.48 1.85 0 1 0 2.96 0a1.48 1.85 0 1 0 -2.96 0M1112.23 568.26a1.48 1.85 0 1 0 2.96 0a1.48 1.85 0 1 0 -2.96 0M1115.69 568.72a1.48 1.85 0 1 0 2.96 0a1.48 1.85 0 1 0 -2.96 0M1119.16 569.85a1.48 1.85 0 1 0 2.96 0a1.48 1.85 0 1 0 -2.96 0M1122.63 569.87a1.48 1.85 0 1 0 2.96 0a1.48 1.85 0 1 0 -2.96 0M1126.1 571.19a1.48 1.85 0 1 0 2.96 0a1.48 1.85 0 1 0 -2.96 0M1129.57 571.04a1.48 1.85 0 1 0 2.96 0a1.48 1.85 0 1 0 -2.96 0M1133.04 571.76a1.48 1.85 0 1 0 2.96 0a1.48 1.85 0 1 0 -2.96 0M1136.51 571.34a1.48 1.85 0 1 0 2.96 0a1.48 1.85 0 1 0 -2.96 0M1139.98 572.16a1.48 1.85 0 1 0 2.96 0a1.48 1.85 0 1 0 -2.96 0M1143.45 572.95a1.48 1.85 0 1 0 2.96 0a1.48 1.85 0 1 0 -2.96 0M1146.92 572.77a1.48 1.85 0 1 0 2.96 0a1.48 1.85 0 1 0 -2.96 0M1150.39 573.56a1.48 1.85 0 1 0 2.96 0a1.48 1.85 0 1 0 -2.96 0M1153.86 573.82a1.48 1.85 0 1 0 2.96 0a1.48 1.85 0 1 0 -2.96 0M1157.33 573.3a1.48 1.85 0 1 0 2.96 0a1.48 1.85 0 1 0 -2.96 0M1160.8 575.3a1.48 1.85 0 1 0 2.96 0a1.48 1.85 0 1 0 -2.96 0M1164.27 573.97a1.48 1.85 0 1 0 2.96 0a1.48 1.85 0 1 0 -2.96 0M1167.73 576.21a1.48 1.85 0 1 0 2.96 0a1.48 1.85 0 1 0 -2.96 0M1171.2 576a1.48 1.85 0 1 0 2.96 0a1.48 1.85 0 1 0 -2.96 0M1174.67 575.93a1.48 1.85 0 1 0 2.96 0a1.48 1.85 0 1 0 -2.96 0M1178.14 575.75a1.48 1.85 0 1 0 2.96 0a1.48 1.85 0 1 0 -2.96 0M1181.61 575.42a1.48 1.85 0 1 0 2.96 0a1.48 1.85 0 1 0 -2.96 0M1185.08 577.23a1.48 1.85 0 1 0 2.96 0a1.48 1.85 0 1 0 -2.96 0M1188.55 577.67a1.48 1.85 0 1 0 2.96 0a1.48 1.85 0 1 0 -2.96 0M1192.02 576.09a1.48 1.85 0 1 0 2.96 0a1.48 1.85 0 1 0 -2.96 0" fill="#000000"/>
<rect x="53" y="22" width="521.5" height="585" fill="none" stroke="#000" stroke-width="1.8"/>
<path d="M53 544.5H41.5M53 447.9H41.5M53 351.3H41.5M53 254.7H41.5M53 158.1H41.5M53 61.5H41.5M53 37.35H46.7M53 85.65H46.7M53 109.8H46.7M53 133.95H46.7M53 182.25H46.7M53 206.4H46.7M53 230.55H46.7M53 278.85H46.7M53 303H46.7M53 327.15H46.7M53 375.45H46.7M53 399.6H46.7M53 423.75H46.7M53 472.05H46.7M53 496.2H46.7M53 520.35H46.7M53 568.65H46.7M53 592.8H46.7" stroke="#000" stroke-width="1.8" fill="none"/>
<path d="M53 607V618.5M139.92 607V618.5M226.83 607V618.5M313.75 607V618.5M400.67 607V618.5M487.58 607V618.5M574.5 607V618.5M74.73 607V613.3M96.46 607V613.3M118.19 607V613.3M161.65 607V613.3M183.38 607V613.3M205.1 607V613.3M248.56 607V613.3M270.29 607V613.3M292.02 607V613.3M335.48 607V613.3M357.21 607V613.3M378.94 607V613.3M422.4 607V613.3M444.12 607V613.3M465.85 607V613.3M509.31 607V613.3M531.04 607V613.3M552.77 607V613.3" stroke="#000" stroke-width="1.8" fill="none"/>
<text transform="translate(54.7,645.5)" font-size="25" fill="#000" text-anchor="middle">7020</text>
<text transform="translate(141.62,645.5)" font-size="25" fill="#000" text-anchor="middle">7030</text>
<text transform="translate(228.53,645.5)" font-size="25" fill="#000" text-anchor="middle">7040</text>
<text transform="translate(315.45,645.5)" font-size="25" fill="#000" text-anchor="middle">7050</text>
<text transform="translate(402.37,645.5)" font-size="25" fill="#000" text-anchor="middle">7060</text>
<text transform="translate(489.28,645.5)" font-size="25" fill="#000" text-anchor="middle">7070</text>
<text transform="translate(576.2,645.5)" font-size="25" fill="#000" text-anchor="middle">7080</text>
<text transform="translate(318.4,683)" font-size="25" fill="#000" text-anchor="middle">Energy (eV)</text>
<text transform="translate(21,320.6) rotate(-90)" font-size="25" fill="#000" text-anchor="middle">Intensity (a.u.)</text>
<text transform="translate(-1.3,30.5)" font-size="42" fill="#000" font-weight="bold">a</text>
<rect x="673.1" y="22" width="520.4" height="585" fill="none" stroke="#000" stroke-width="1.8"/>
<path d="M673.1 589.6H661.6M673.1 532.25H661.6M673.1 474.9H661.6M673.1 417.55H661.6M673.1 360.2H661.6M673.1 302.85H661.6M673.1 245.5H661.6M673.1 188.15H661.6M673.1 130.8H661.6M673.1 73.45H661.6M673.1 30.44H666.8M673.1 44.78H666.8M673.1 59.11H666.8M673.1 87.79H666.8M673.1 102.13H666.8M673.1 116.46H666.8M673.1 145.14H666.8M673.1 159.48H666.8M673.1 173.81H666.8M673.1 202.49H666.8M673.1 216.82H666.8M673.1 231.16H666.8M673.1 259.84H666.8M673.1 274.18H666.8M673.1 288.51H666.8M673.1 317.19H666.8M673.1 331.52H666.8M673.1 345.86H666.8M673.1 374.54H666.8M673.1 388.88H666.8M673.1 403.21H666.8M673.1 431.89H666.8M673.1 446.22H666.8M673.1 460.56H666.8M673.1 489.24H666.8M673.1 503.57H666.8M673.1 517.91H666.8M673.1 546.59H666.8M673.1 560.92H666.8M673.1 575.26H666.8M673.1 603.94H666.8" stroke="#000" stroke-width="1.8" fill="none"/>
<path d="M673.1 607V618.5M759.83 607V618.5M846.57 607V618.5M933.3 607V618.5M1020.03 607V618.5M1106.77 607V618.5M1193.5 607V618.5M694.78 607V613.3M716.47 607V613.3M738.15 607V613.3M781.52 607V613.3M803.2 607V613.3M824.88 607V613.3M868.25 607V613.3M889.93 607V613.3M911.62 607V613.3M954.98 607V613.3M976.67 607V613.3M998.35 607V613.3M1041.72 607V613.3M1063.4 607V613.3M1085.08 607V613.3M1128.45 607V613.3M1150.13 607V613.3M1171.82 607V613.3" stroke="#000" stroke-width="1.8" fill="none"/>
<text transform="translate(673.1,645.5)" font-size="25" fill="#000" text-anchor="middle">7020</text>
<text transform="translate(759.83,645.5)" font-size="25" fill="#000" text-anchor="middle">7030</text>
<text transform="translate(846.57,645.5)" font-size="25" fill="#000" text-anchor="middle">7040</text>
<text transform="translate(933.3,645.5)" font-size="25" fill="#000" text-anchor="middle">7050</text>
<text transform="translate(1020.03,645.5)" font-size="25" fill="#000" text-anchor="middle">7060</text>
<text transform="translate(1106.77,645.5)" font-size="25" fill="#000" text-anchor="middle">7070</text>
<text transform="translate(1193.5,645.5)" font-size="25" fill="#000" text-anchor="middle">7080</text>
<text transform="translate(930.5,683)" font-size="25" fill="#000" text-anchor="middle">Energy (eV)</text>
<text transform="translate(639.6,322.2) rotate(-90)" font-size="25" fill="#000" text-anchor="middle">Intensity (a.u.)</text>
<text transform="translate(617.2,30.8)" font-size="41" fill="#000" font-weight="bold">b</text>
<text x="66.6" y="57.6" font-size="25.3" fill="#000" text-anchor="start">FePS<tspan font-size="16.7" dy="8.3" dx="0">3</tspan></text>
<text x="687.6" y="57.8" font-size="25.3" fill="#000" text-anchor="start">FePSe<tspan font-size="16.7" dy="8.3" dx="0">3</tspan></text>
<text x="301.2" y="64.2" font-size="25.3">K<tspan font-size="18.9" dy="8.6" dx="1.2" font-style="italic">β</tspan><tspan font-size="18.9">1,3</tspan></text>
<line x1="361.2" y1="83.1" x2="307.5" y2="83.1" stroke="#000" stroke-width="1.1" />
<path d="M294.5 83.1L308.5 78.3L308.5 87.9Z" fill="#000"/>
<text x="920.4" y="61.3" font-size="25.3">K<tspan font-size="18.9" dy="8.6" dx="1.2" font-style="italic">β</tspan><tspan font-size="18.9">1,3</tspan></text>
<line x1="981" y1="83" x2="927.8" y2="83" stroke="#000" stroke-width="1.1" />
<path d="M914.8 83L928.8 78.2L928.8 87.8Z" fill="#000"/>
<text x="230.6" y="473.6" font-size="25.3">K<tspan font-size="18.9" dy="8.6" dx="1.2" font-style="italic">β</tspan><tspan font-size="22" dy="-9.5" dx="-0.8">’</tspan></text>
<line x1="250.3" y1="491.2" x2="294" y2="551.65" stroke="#000" stroke-width="1.1" />
<path d="M302.2 563L289.95 554.58L294 551.65L298.05 548.72Z" fill="#000"/>
<text x="840.6" y="464.4" font-size="25.3">K<tspan font-size="18.9" dy="8.6" dx="1.2" font-style="italic">β</tspan><tspan font-size="22" dy="-9.5" dx="-0.8">’</tspan></text>
<line x1="869.4" y1="472.6" x2="913.18" y2="532.97" stroke="#000" stroke-width="1.1" />
<path d="M921.4 544.3L909.13 535.9L913.18 532.97L917.23 530.03Z" fill="#000"/>
<text transform="translate(566.4,53.5)" font-size="20.6" fill="#000" text-anchor="end">0 GPa</text>
<text transform="translate(566.4,77.8)" font-size="20.6" fill="#1a1a8c" text-anchor="end">4.5 GPa</text>
<text transform="translate(566.4,102.2)" font-size="20.6" fill="#228c84" text-anchor="end">6.5 GPa</text>
<text transform="translate(566.4,126.1)" font-size="20.6" fill="#1e8c1e" text-anchor="end">8.3 GPa</text>
<text transform="translate(566.4,151.2)" font-size="20.6" fill="#8c8c1e" text-anchor="end">11.9 GPa</text>
<text transform="translate(566.4,230.9)" font-size="20.6" fill="#f080f0" text-anchor="end">13.6 GPa</text>
<text transform="translate(566.4,304.5)" font-size="20.6" fill="#d8167f" text-anchor="end">15.6 GPa</text>
<text transform="translate(566.4,332.6)" font-size="20.6" fill="#f08c1c" text-anchor="end">18.8 GPa</text>
<text transform="translate(566.4,360.5)" font-size="20.6" fill="#dc1c22" text-anchor="end">20.5 GPa</text>
<line x1="529.9" y1="165.2" x2="529.9" y2="196.4" stroke="#000" stroke-width="1.1" />
<path d="M529.9 209.6L526 196.4L529.9 196.4L533.8 196.4Z" fill="#000"/>
<line x1="529.9" y1="236.4" x2="529.9" y2="267.8" stroke="#000" stroke-width="1.1" />
<path d="M529.9 281L526 267.8L529.9 267.8L533.8 267.8Z" fill="#000"/>
<text transform="translate(1177.9,52.1)" font-size="20.6" fill="#000" text-anchor="end">0 GPa</text>
<text transform="translate(1177.9,77.4)" font-size="20.6" fill="#2030d0" text-anchor="end">2.6 GPa</text>
<text transform="translate(1177.9,102.5)" font-size="20.6" fill="#228c84" text-anchor="end">4.7 GPa</text>
<text transform="translate(1177.9,127.6)" font-size="20.6" fill="#1e8c1e" text-anchor="end">6.7 GPa</text>
<text transform="translate(1177.9,206.4)" font-size="20.6" fill="#8a2be2" text-anchor="end">7.6 GPa</text>
<text transform="translate(1177.9,230.4)" font-size="20.6" fill="#f08c1c" text-anchor="end">8.9 GPa</text>
<text transform="translate(1177.9,254.5)" font-size="20.6" fill="#e0187f" text-anchor="end">10.9 GPa</text>
<text transform="translate(1177.9,278.5)" font-size="20.6" fill="#d01a1a" text-anchor="end">13.1 GPa</text>
<text transform="translate(1177.9,302.1)" font-size="20.6" fill="#dd33dd" text-anchor="end">16.3 GPa</text>
<line x1="1150" y1="138" x2="1150" y2="169.6" stroke="#000" stroke-width="1.1" />
<path d="M1150 182.8L1146.1 169.6L1150 169.6L1153.9 169.6Z" fill="#000"/>
<rect x="72.8" y="154.7" width="143.2" height="283.3" fill="none" stroke="#a0a0a0" stroke-width="1.3" stroke-dasharray="7.5 4.5"/>
<line x1="119.6" y1="189.3" x2="156.2" y2="189.3" stroke="#6b6bd0" stroke-width="2.2" />
<line x1="119.6" y1="207.1" x2="156.2" y2="207.1" stroke="#6b6bd0" stroke-width="2.2" />
<ellipse cx="138.7" cy="189.3" rx="7.2" ry="7.8" fill="#6b6bd0"/><ellipse cx="138.7" cy="207.1" rx="7.2" ry="7.8" fill="#6b6bd0"/>
<text transform="translate(81.2,208.3) scale(1.13,1)" font-size="21.5" fill="#6b6bd0" font-style="italic">3<tspan dx="1.2">d</tspan></text>
<line x1="119.6" y1="233.2" x2="156.2" y2="233.2" stroke="#000" stroke-width="2.2" />
<ellipse cx="138.7" cy="233.2" rx="7" ry="7.6" fill="#000"/>
<text transform="translate(81.2,242.3) scale(1.13,1)" font-size="21.5" font-style="italic">3<tspan dx="1.2">p</tspan></text>
<line x1="138.7" y1="247" x2="138.7" y2="343" stroke="#000" stroke-width="2.3" stroke-dasharray="5.5 5.3"/>
<line x1="119.5" y1="356.4" x2="155.9" y2="356.4" stroke="#000" stroke-width="2.2" />
<ellipse cx="138.5" cy="356.5" rx="5.9" ry="6.9" fill="none" stroke="#000" stroke-width="1.9"/>
<text x="82.3" y="366.8" font-size="24.5">1<tspan font-style="italic" dx="3">s</tspan></text>
<text transform="translate(138,414.6)" font-size="24.5" fill="#000" text-anchor="middle">XES</text>
<path d="M144 247.5 C160 268 164 300 153.5 322" fill="none" stroke="#3a9a22" stroke-width="3.4"/>
<path d="M144.3 342.8 L148.3 316.3 L153.5 321.5 L159.7 326.2 Z" fill="#3a9a22"/>
<path d="M166 297 L166.48 297.11 L166.95 297.22 L167.4 297.31 L167.83 297.37 L168.24 297.42 L168.61 297.43 L168.94 297.4 L169.23 297.33 L169.47 297.22 L169.67 297.06 L169.82 296.86 L169.92 296.61 L169.97 296.32 L169.98 295.99 L169.95 295.62 L169.89 295.21 L169.8 294.79 L169.69 294.34 L169.56 293.87 L169.43 293.4 L169.29 292.93 L169.17 292.46 L169.06 292.01 L168.97 291.59 L168.9 291.18 L168.88 290.81 L168.89 290.48 L168.94 290.19 L169.04 289.94 L169.19 289.74 L169.38 289.58 L169.63 289.47 L169.92 289.4 L170.25 289.37 L170.62 289.38 L171.02 289.43 L171.46 289.49 L171.91 289.58 L172.38 289.69 L172.86 289.8 L173.33 289.91 L173.8 290.02 L174.26 290.11 L174.69 290.17 L175.1 290.22 L175.47 290.23 L175.8 290.2 L176.09 290.13 L176.33 290.02 L176.53 289.86 L176.67 289.66 L176.77 289.41 L176.83 289.12 L176.84 288.79 L176.81 288.42 L176.75 288.01 L176.66 287.59 L176.55 287.14 L176.42 286.67 L176.29 286.2 L176.15 285.73 L176.02 285.26 L175.91 284.81 L175.82 284.39 L175.76 283.98 L175.73 283.61 L175.74 283.28 L175.8 282.99 L175.9 282.74 L176.04 282.54 L176.24 282.38 L176.48 282.27 L176.77 282.2 L177.1 282.17 L177.47 282.18 L177.88 282.23 L178.31 282.29 L178.77 282.38 L179.24 282.49 L179.71 282.6 L180.19 282.71 L180.66 282.82 L181.12 282.91 L181.55 282.97 L181.95 283.02 L182.32 283.03 L182.66 283 L182.95 282.93 L183.19 282.82 L183.38 282.66 L183.53 282.46 L183.63 282.21 L183.68 281.92 L183.7 281.59 L183.67 281.22 L183.61 280.81 L183.52 280.39 L183.4 279.94 L183.28 279.47 L183.14 279 L183.01 278.53 L182.88 278.06 L182.77 277.61 L182.68 277.19 L182.62 276.78 L182.59 276.41 L182.6 276.08 L182.65 275.79 L182.75 275.54 L182.9 275.34 L183.1 275.18 L183.34 275.07 L183.63 275 L183.96 274.97 L184.33 274.98 L184.74 275.03 L185.17 275.09 L185.62 275.18 L186.09 275.29 L186.57 275.4 L187.05 275.51 L187.52 275.62 L187.97 275.71 L188.41 275.77 L188.81 275.82 L189.18 275.83 L189.51 275.8 L189.8 275.73 L190.05 275.62 L190.24 275.46 L190.39 275.26 L190.49 275.01 L190.54 274.72 L190.55 274.39 L190.53 274.02 L190.46 273.61 L190.37 273.19 L190.26 272.74 L190.13 272.27 L190 271.8" fill="none" stroke="#f06464" stroke-width="2.1" stroke-linecap="round"/>
<path d="M204.2 258.2 L188.4 267.3 L192 270.2 L194.7 273 Z" fill="#f06464"/>
<line x1="189.5" y1="272.3" x2="192.5" y2="269.8" stroke="#f06464" stroke-width="2.1" />
<path d="M1331.2 561.6H1319.7M1331.2 448.6H1319.7M1331.2 335.6H1319.7M1331.2 222.6H1319.7M1331.2 109.6H1319.7M1331.2 584.2H1324.9M1331.2 539H1324.9M1331.2 516.4H1324.9M1331.2 493.8H1324.9M1331.2 471.2H1324.9M1331.2 426H1324.9M1331.2 403.4H1324.9M1331.2 380.8H1324.9M1331.2 358.2H1324.9M1331.2 313H1324.9M1331.2 290.4H1324.9M1331.2 267.8H1324.9M1331.2 245.2H1324.9M1331.2 200H1324.9M1331.2 177.4H1324.9M1331.2 154.8H1324.9M1331.2 132.2H1324.9M1331.2 87H1324.9M1331.2 64.4H1324.9M1331.2 41.8H1324.9M1331.2 607.1H1324.9" stroke="#000" stroke-width="1.8" fill="none"/>
<path d="M1343.4 607.1V618.6M1466.28 607.1V618.6M1589.16 607.1V618.6M1712.04 607.1V618.6M1834.92 607.1V618.6M1957.8 607.1V618.6M1367.98 607.1V613.4M1392.55 607.1V613.4M1417.13 607.1V613.4M1441.7 607.1V613.4M1490.86 607.1V613.4M1515.43 607.1V613.4M1540.01 607.1V613.4M1564.58 607.1V613.4M1613.74 607.1V613.4M1638.31 607.1V613.4M1662.89 607.1V613.4M1687.46 607.1V613.4M1736.62 607.1V613.4M1761.19 607.1V613.4M1785.77 607.1V613.4M1810.34 607.1V613.4M1859.5 607.1V613.4M1884.07 607.1V613.4M1908.65 607.1V613.4M1933.22 607.1V613.4" stroke="#000" stroke-width="1.8" fill="none"/>
<path d="M1957.8 108.6H1969.3M1957.8 197.3H1969.3M1957.8 286H1969.3M1957.8 374.7H1969.3M1957.8 463.4H1969.3M1957.8 552.1H1969.3M1957.8 37.64H1964.1M1957.8 55.38H1964.1M1957.8 73.12H1964.1M1957.8 90.86H1964.1M1957.8 126.34H1964.1M1957.8 144.08H1964.1M1957.8 161.82H1964.1M1957.8 179.56H1964.1M1957.8 215.04H1964.1M1957.8 232.78H1964.1M1957.8 250.52H1964.1M1957.8 268.26H1964.1M1957.8 303.74H1964.1M1957.8 321.48H1964.1M1957.8 339.22H1964.1M1957.8 356.96H1964.1M1957.8 392.44H1964.1M1957.8 410.18H1964.1M1957.8 427.92H1964.1M1957.8 445.66H1964.1M1957.8 481.14H1964.1M1957.8 498.88H1964.1M1957.8 516.62H1964.1M1957.8 534.36H1964.1M1957.8 569.84H1964.1M1957.8 587.58H1964.1M1957.8 607.1H1964.1" stroke="#0a817d" stroke-width="1.8" fill="none"/>
<path d="M1957.8 20.2H1331.2V607.1H1957.8" fill="none" stroke="#000" stroke-width="1.8"/>
<line x1="1957.8" y1="19.3" x2="1957.8" y2="608" stroke="#0a817d" stroke-width="1.8" />
<text transform="translate(1310.1,571.2)" font-size="25" fill="#000" text-anchor="end">0.0</text>
<text transform="translate(1310.1,458.2)" font-size="25" fill="#000" text-anchor="end">0.5</text>
<text transform="translate(1310.1,345.2)" font-size="25" fill="#000" text-anchor="end">1.0</text>
<text transform="translate(1310.1,232.2)" font-size="25" fill="#000" text-anchor="end">1.5</text>
<text transform="translate(1310.1,119.2)" font-size="25" fill="#000" text-anchor="end">2.0</text>
<text transform="translate(1977.8,119.1)" font-size="25" fill="#0a817d">0.0</text>
<text transform="translate(1977.8,207.8)" font-size="25" fill="#0a817d">0.5</text>
<text transform="translate(1977.8,296.5)" font-size="25" fill="#0a817d">1.0</text>
<text transform="translate(1977.8,385.2)" font-size="25" fill="#0a817d">1.5</text>
<text transform="translate(1977.8,473.9)" font-size="25" fill="#0a817d">2.0</text>
<text transform="translate(1977.8,562.6)" font-size="25" fill="#0a817d">2.5</text>
<text transform="translate(1343.4,645.5)" font-size="25" fill="#000" text-anchor="middle">0</text>
<text transform="translate(1466.28,645.5)" font-size="25" fill="#000" text-anchor="middle">5</text>
<text transform="translate(1589.16,645.5)" font-size="25" fill="#000" text-anchor="middle">10</text>
<text transform="translate(1712.04,645.5)" font-size="25" fill="#000" text-anchor="middle">15</text>
<text transform="translate(1834.92,645.5)" font-size="25" fill="#000" text-anchor="middle">20</text>
<text transform="translate(1957.8,645.5)" font-size="25" fill="#000" text-anchor="middle">25</text>
<text transform="translate(1646.9,682.9)" font-size="25" fill="#000" text-anchor="middle">Pressure (GPa)</text>
<text transform="translate(1256.4,321.8) rotate(-90)" font-size="25" text-anchor="middle">Magnetic moment (μ<tspan font-size="18.5" dy="8">B</tspan><tspan dy="-8">)</tspan></text>
<text transform="translate(2052.9,321.7) rotate(-90)" font-size="25" fill="#0a817d" text-anchor="middle">IAD (a.u.)</text>
<text transform="translate(1233,30.5)" font-size="42" fill="#000" font-weight="bold">c</text>
<path d="M1493.8 357.6H1696.5V344.8L1759.2 360.6L1696.5 376.1V363.7H1493.8Z" fill="#f26464"/>
<line x1="1374.3" y1="338.1" x2="1411.1" y2="338.1" stroke="#000" stroke-width="2.2" />
<line x1="1419" y1="338.1" x2="1455.6" y2="338.1" stroke="#000" stroke-width="2.2" />
<line x1="1389.4" y1="351.8" x2="1389.4" y2="328.5" stroke="#33cc11" stroke-width="2.4" />
<path d="M1389.4 312L1384.8 330.5L1394 330.5Z" fill="#33cc11"/>
<line x1="1437.3" y1="351.8" x2="1437.3" y2="328.5" stroke="#33cc11" stroke-width="2.4" />
<path d="M1437.3 312L1432.7 330.5L1441.9 330.5Z" fill="#33cc11"/>
<line x1="1353.9" y1="395.9" x2="1391.1" y2="395.9" stroke="#000" stroke-width="2.2" />
<line x1="1398.1" y1="395.9" x2="1435" y2="395.9" stroke="#000" stroke-width="2.2" />
<line x1="1441" y1="395.9" x2="1478.2" y2="395.9" stroke="#000" stroke-width="2.2" />
<line x1="1366.7" y1="377.9" x2="1366.7" y2="405.8" stroke="#33cc11" stroke-width="2.4" />
<path d="M1366.7 422.3L1362.1 403.8L1371.3 403.8Z" fill="#33cc11"/>
<line x1="1378.6" y1="414.2" x2="1378.6" y2="387.2" stroke="#33cc11" stroke-width="2.4" />
<path d="M1378.6 370.7L1374 389.2L1383.2 389.2Z" fill="#33cc11"/>
<line x1="1416.4" y1="414.2" x2="1416.4" y2="387.2" stroke="#33cc11" stroke-width="2.4" />
<path d="M1416.4 370.7L1411.8 389.2L1421 389.2Z" fill="#33cc11"/>
<line x1="1459.6" y1="414.2" x2="1459.6" y2="387.2" stroke="#33cc11" stroke-width="2.4" />
<path d="M1459.6 370.7L1455 389.2L1464.2 389.2Z" fill="#33cc11"/>
<line x1="1796.7" y1="302.8" x2="1833.2" y2="302.8" stroke="#000" stroke-width="2.2" />
<line x1="1840.6" y1="302.8" x2="1877.1" y2="302.8" stroke="#000" stroke-width="2.2" />
<line x1="1775" y1="396" x2="1811.5" y2="396" stroke="#000" stroke-width="2.2" />
<line x1="1818.9" y1="396" x2="1855.6" y2="396" stroke="#000" stroke-width="2.2" />
<line x1="1862.8" y1="396" x2="1899.5" y2="396" stroke="#000" stroke-width="2.2" />
<line x1="1787.3" y1="378" x2="1787.3" y2="405.1" stroke="#33cc11" stroke-width="2.4" />
<path d="M1787.3 421.6L1782.7 403.1L1791.9 403.1Z" fill="#33cc11"/>
<line x1="1799.2" y1="414.7" x2="1799.2" y2="387.1" stroke="#33cc11" stroke-width="2.4" />
<path d="M1799.2 370.6L1794.6 389.1L1803.8 389.1Z" fill="#33cc11"/>
<line x1="1831.2" y1="378" x2="1831.2" y2="405.1" stroke="#33cc11" stroke-width="2.4" />
<path d="M1831.2 421.6L1826.6 403.1L1835.8 403.1Z" fill="#33cc11"/>
<line x1="1843.6" y1="414.7" x2="1843.6" y2="387.1" stroke="#33cc11" stroke-width="2.4" />
<path d="M1843.6 370.6L1839 389.1L1848.2 389.1Z" fill="#33cc11"/>
<line x1="1875.1" y1="378" x2="1875.1" y2="405.1" stroke="#33cc11" stroke-width="2.4" />
<path d="M1875.1 421.6L1870.5 403.1L1879.7 403.1Z" fill="#33cc11"/>
<line x1="1887.2" y1="414.7" x2="1887.2" y2="387.1" stroke="#33cc11" stroke-width="2.4" />
<path d="M1887.2 370.6L1882.6 389.1L1891.8 389.1Z" fill="#33cc11"/>
<text x="1399.5" y="486.8" font-size="24.5"><tspan font-style="italic">S</tspan> = 2</text>
<text x="1812.6" y="501.6" font-size="24.5"><tspan font-style="italic">S</tspan> = 0</text>
<path d="M1343.6 97.7V122.4M1337.2 97.7H1350M1337.2 122.4H1350" stroke="#222" stroke-width="1.5" fill="none"/>
<rect x="1336.2" y="102.1" width="14.8" height="14.8" fill="#c4c4c4" stroke="#222" stroke-width="1.5"/>
<path d="M1395.3 121.5V167.3M1388.9 121.5H1401.7M1388.9 167.3H1401.7" stroke="#222" stroke-width="1.5" fill="none"/>
<rect x="1387.9" y="136.7" width="14.8" height="14.8" fill="#c4c4c4" stroke="#222" stroke-width="1.5"/>
<path d="M1453.9 118.9V168.2M1447.5 118.9H1460.3M1447.5 168.2H1460.3" stroke="#222" stroke-width="1.5" fill="none"/>
<rect x="1446.5" y="136.2" width="14.8" height="14.8" fill="#c4c4c4" stroke="#222" stroke-width="1.5"/>
<path d="M1503.2 111.3V166.5M1496.8 111.3H1509.6M1496.8 166.5H1509.6" stroke="#222" stroke-width="1.5" fill="none"/>
<rect x="1495.8" y="131.5" width="14.8" height="14.8" fill="#c4c4c4" stroke="#222" stroke-width="1.5"/>
<path d="M1547.3 120.9V174.3M1540.9 120.9H1553.7M1540.9 174.3H1553.7" stroke="#222" stroke-width="1.5" fill="none"/>
<rect x="1539.9" y="140.2" width="14.8" height="14.8" fill="#c4c4c4" stroke="#222" stroke-width="1.5"/>
<path d="M1591.7 142.7V191.1M1585.3 142.7H1598.1M1585.3 191.1H1598.1" stroke="#222" stroke-width="1.5" fill="none"/>
<rect x="1584.3" y="159.4" width="14.8" height="14.8" fill="#c4c4c4" stroke="#222" stroke-width="1.5"/>
<path d="M1635.8 142.7V197.8M1629.4 142.7H1642.2M1629.4 197.8H1642.2" stroke="#222" stroke-width="1.5" fill="none"/>
<rect x="1628.4" y="162.8" width="14.8" height="14.8" fill="#c4c4c4" stroke="#222" stroke-width="1.5"/>
<path d="M1677.3 391.8V449.6M1670.9 391.8H1683.7M1670.9 449.6H1683.7" stroke="#222" stroke-width="1.5" fill="none"/>
<rect x="1669.9" y="413.1" width="14.8" height="14.8" fill="#c4c4c4" stroke="#222" stroke-width="1.5"/>
<path d="M1726.8 526.8V561M1720.4 526.8H1733.2M1720.4 561H1733.2" stroke="#222" stroke-width="1.5" fill="none"/>
<rect x="1719.4" y="536" width="14.8" height="14.8" fill="#c4c4c4" stroke="#222" stroke-width="1.5"/>
<path d="M1805.6 535.5V565.2M1799.2 535.5H1812M1799.2 565.2H1812" stroke="#222" stroke-width="1.5" fill="none"/>
<rect x="1798.2" y="542.8" width="14.8" height="14.8" fill="#c4c4c4" stroke="#222" stroke-width="1.5"/>
<rect x="1840.4" y="553.9" width="14.8" height="14.8" fill="#c4c4c4" stroke="#222" stroke-width="1.5"/>
<path d="M1343.6 97.7V118.5M1337.2 97.7H1350M1337.2 118.5H1350" stroke="#f7870f" stroke-width="1.3" fill="none"/>
<rect x="1335.6" y="101.3" width="16" height="16" fill="#f7870f"/>
<path d="M1407.6 108.4V162.1M1401.2 108.4H1414M1401.2 162.1H1414" stroke="#f7870f" stroke-width="1.3" fill="none"/>
<rect x="1399.6" y="127.7" width="16" height="16" fill="#f7870f"/>
<path d="M1459.1 97.1V158.6M1452.7 97.1H1465.5M1452.7 158.6H1465.5" stroke="#f7870f" stroke-width="1.3" fill="none"/>
<rect x="1451.1" y="119.6" width="16" height="16" fill="#f7870f"/>
<path d="M1508.1 138.9V194M1501.7 138.9H1514.5M1501.7 194H1514.5" stroke="#f7870f" stroke-width="1.3" fill="none"/>
<rect x="1500.1" y="158.5" width="16" height="16" fill="#f7870f"/>
<path d="M1530.1 459.8V511.8M1523.7 459.8H1536.5M1523.7 511.8H1536.5" stroke="#f7870f" stroke-width="1.3" fill="none"/>
<rect x="1522.1" y="477.3" width="16" height="16" fill="#f7870f"/>
<path d="M1562 519.5V563.6M1555.6 519.5H1568.4M1555.6 563.6H1568.4" stroke="#f7870f" stroke-width="1.3" fill="none"/>
<rect x="1554" y="533.9" width="16" height="16" fill="#f7870f"/>
<path d="M1611.5 523.7V562.9M1605.1 523.7H1617.9M1605.1 562.9H1617.9" stroke="#f7870f" stroke-width="1.3" fill="none"/>
<rect x="1603.5" y="535.4" width="16" height="16" fill="#f7870f"/>
<path d="M1665.2 525.3V565.8M1658.8 525.3H1671.6M1658.8 565.8H1671.6" stroke="#f7870f" stroke-width="1.3" fill="none"/>
<rect x="1657.2" y="537.4" width="16" height="16" fill="#f7870f"/>
<rect x="1736" y="553.3" width="16" height="16" fill="#f7870f"/>
<path d="M1331.11 123.84 L1331.53 123.84 L1331.95 123.84 L1332.37 123.84 L1332.78 123.84 L1333.2 123.84 L1333.62 123.84 L1334.04 123.84 L1334.46 123.84 L1334.87 123.84 L1335.29 123.84 L1335.71 123.84 L1336.13 123.84 L1336.55 123.84 L1336.96 123.84 L1337.38 123.84 L1337.8 123.84 L1338.22 123.84 L1338.64 123.84 L1339.06 123.84 L1339.47 123.84 L1339.89 123.84 L1340.31 123.84 L1340.73 123.84 L1341.15 123.84 L1341.56 123.84 L1341.98 123.84 L1342.4 123.84 L1342.82 123.84 L1343.24 123.84 L1343.65 123.84 L1344.07 123.84 L1344.49 123.84 L1344.91 123.84 L1345.33 123.84 L1345.74 123.84 L1346.16 123.84 L1346.58 123.84 L1347 123.84 L1347.42 123.84 L1347.83 123.84 L1348.25 123.84 L1348.67 123.84 L1349.09 123.84 L1349.51 123.84 L1349.93 123.84 L1350.34 123.84 L1350.76 123.84 L1351.18 123.84 L1351.6 123.84 L1352.02 123.84 L1352.43 123.84 L1352.85 123.84 L1353.27 123.84 L1353.69 123.84 L1354.11 123.84 L1354.52 123.84 L1354.94 123.84 L1355.36 123.84 L1355.78 123.84 L1356.2 123.84 L1356.61 123.84 L1357.03 123.84 L1357.45 123.84 L1357.87 123.84 L1358.29 123.84 L1358.7 123.84 L1359.12 123.84 L1359.54 123.84 L1359.96 123.84 L1360.38 123.84 L1360.8 123.84 L1361.21 123.84 L1361.63 123.84 L1362.05 123.84 L1362.47 123.84 L1362.89 123.84 L1363.3 123.84 L1363.72 123.84 L1364.14 123.84 L1364.56 123.84 L1364.98 123.84 L1365.39 123.84 L1365.81 123.84 L1366.23 123.84 L1366.65 123.84 L1367.07 123.84 L1367.48 123.84 L1367.9 123.84 L1368.32 123.84 L1368.74 123.84 L1369.16 123.84 L1369.57 123.84 L1369.99 123.84 L1370.41 123.84 L1370.83 123.84 L1371.25 123.84 L1371.66 123.84 L1372.08 123.84 L1372.5 123.84 L1372.92 123.84 L1373.34 123.84 L1373.76 123.84 L1374.17 123.84 L1374.59 123.84 L1375.01 123.84 L1375.43 123.84 L1375.85 123.84 L1376.26 123.84 L1376.68 123.84 L1377.1 123.84 L1377.52 123.84 L1377.94 123.84 L1378.35 123.84 L1378.77 123.84 L1379.19 123.84 L1379.61 123.84 L1380.03 123.84 L1380.44 123.84 L1380.86 123.84 L1381.28 123.84 L1381.7 123.84 L1382.12 123.84 L1382.53 123.84 L1382.95 123.84 L1383.37 123.84 L1383.79 123.84 L1384.21 123.84 L1384.63 123.84 L1385.04 123.84 L1385.46 123.84 L1385.88 123.84 L1386.3 123.84 L1386.72 123.84 L1387.13 123.84 L1387.55 123.84 L1387.97 123.84 L1388.39 123.84 L1388.81 123.84 L1389.22 123.84 L1389.64 123.84 L1390.06 123.84 L1390.48 123.84 L1390.9 123.84 L1391.31 123.84 L1391.73 123.84 L1392.15 123.84 L1392.57 123.84 L1392.99 123.84 L1393.4 123.84 L1393.82 123.84 L1394.24 123.84 L1394.66 123.84 L1395.08 123.84 L1395.49 123.84 L1395.91 123.84 L1396.33 123.84 L1396.75 123.84 L1397.17 123.84 L1397.59 123.84 L1398 123.84 L1398.42 123.84 L1398.84 123.84 L1399.26 123.84 L1399.68 123.84 L1400.09 123.84 L1400.51 123.84 L1400.93 123.84 L1401.35 123.84 L1401.77 123.84 L1402.18 123.84 L1402.6 123.84 L1403.02 123.84 L1403.44 123.84 L1403.86 123.84 L1404.27 123.84 L1404.69 123.84 L1405.11 123.84 L1405.53 123.84 L1405.95 123.84 L1406.36 123.84 L1406.78 123.84 L1407.2 123.84 L1407.62 123.84 L1408.04 123.84 L1408.46 123.84 L1408.87 123.84 L1409.29 123.84 L1409.71 123.84 L1410.13 123.84 L1410.55 123.84 L1410.96 123.84 L1411.38 123.84 L1411.8 123.84 L1412.22 123.84 L1412.64 123.84 L1413.05 123.84 L1413.47 123.84 L1413.89 123.84 L1414.31 123.84 L1414.73 123.84 L1415.14 123.84 L1415.56 123.84 L1415.98 123.84 L1416.4 123.84 L1416.82 123.84 L1417.23 123.84 L1417.65 123.84 L1418.07 123.84 L1418.49 123.84 L1418.91 123.84 L1419.32 123.84 L1419.74 123.84 L1420.16 123.84 L1420.58 123.84 L1421 123.84 L1421.42 123.84 L1421.83 123.84 L1422.25 123.84 L1422.67 123.84 L1423.09 123.84 L1423.51 123.84 L1423.92 123.84 L1424.34 123.84 L1424.76 123.84 L1425.18 123.84 L1425.6 123.84 L1426.01 123.84 L1426.43 123.84 L1426.85 123.84 L1427.27 123.84 L1427.69 123.84 L1428.1 123.84 L1428.52 123.84 L1428.94 123.84 L1429.36 123.84 L1429.78 123.84 L1430.19 123.84 L1430.61 123.84 L1431.03 123.84 L1431.45 123.84 L1431.87 123.84 L1432.29 123.84 L1432.7 123.84 L1433.12 123.84 L1433.54 123.84 L1433.96 123.84 L1434.38 123.84 L1434.79 123.84 L1435.21 123.84 L1435.63 123.84 L1436.05 123.84 L1436.47 123.84 L1436.88 123.84 L1437.3 123.84 L1437.72 123.84 L1438.14 123.84 L1438.56 123.84 L1438.97 123.84 L1439.39 123.84 L1439.81 123.84 L1440.23 123.84 L1440.65 123.84 L1441.06 123.84 L1441.48 123.84 L1441.9 123.84 L1442.32 123.85 L1442.74 123.85 L1443.15 123.85 L1443.57 123.85 L1443.99 123.85 L1444.41 123.85 L1444.83 123.85 L1445.25 123.85 L1445.66 123.85 L1446.08 123.85 L1446.5 123.85 L1446.92 123.85 L1447.34 123.85 L1447.75 123.85 L1448.17 123.85 L1448.59 123.85 L1449.01 123.86 L1449.43 123.86 L1449.84 123.86 L1450.26 123.86 L1450.68 123.86 L1451.1 123.86 L1451.52 123.86 L1451.93 123.86 L1452.35 123.86 L1452.77 123.87 L1453.19 123.87 L1453.61 123.87 L1454.02 123.87 L1454.44 123.87 L1454.86 123.88 L1455.28 123.88 L1455.7 123.88 L1456.12 123.88 L1456.53 123.88 L1456.95 123.89 L1457.37 123.89 L1457.79 123.89 L1458.21 123.9 L1458.62 123.9 L1459.04 123.9 L1459.46 123.91 L1459.88 123.91 L1460.3 123.91 L1460.71 123.92 L1461.13 123.92 L1461.55 123.93 L1461.97 123.93 L1462.39 123.94 L1462.8 123.94 L1463.22 123.95 L1463.64 123.96 L1464.06 123.96 L1464.48 123.97 L1464.89 123.98 L1465.31 123.98 L1465.73 123.99 L1466.15 124 L1466.57 124.01 L1466.98 124.02 L1467.4 124.03 L1467.82 124.04 L1468.24 124.05 L1468.66 124.07 L1469.08 124.08 L1469.49 124.09 L1469.91 124.11 L1470.33 124.12 L1470.75 124.14 L1471.17 124.15 L1471.58 124.17 L1472 124.19 L1472.42 124.21 L1472.84 124.23 L1473.26 124.25 L1473.67 124.28 L1474.09 124.3 L1474.51 124.33 L1474.93 124.36 L1475.35 124.39 L1475.76 124.42 L1476.18 124.45 L1476.6 124.48 L1477.02 124.52 L1477.44 124.56 L1477.85 124.6 L1478.27 124.64 L1478.69 124.69 L1479.11 124.74 L1479.53 124.79 L1479.95 124.84 L1480.36 124.9 L1480.78 124.96 L1481.2 125.02 L1481.62 125.08 L1482.04 125.15 L1482.45 125.23 L1482.87 125.31 L1483.29 125.39 L1483.71 125.48 L1484.13 125.57 L1484.54 125.67 L1484.96 125.77 L1485.38 125.88 L1485.8 125.99 L1486.22 126.11 L1486.63 126.24 L1487.05 126.37 L1487.47 126.52 L1487.89 126.67 L1488.31 126.82 L1488.72 126.99 L1489.14 127.17 L1489.56 127.35 L1489.98 127.55 L1490.4 127.76 L1490.82 127.98 L1491.23 128.21 L1491.65 128.45 L1492.07 128.71 L1492.49 128.98 L1492.91 129.27 L1493.32 129.57 L1493.74 129.89 L1494.16 130.22 L1494.58 130.58 L1495 130.95 L1495.41 131.35 L1495.83 131.76 L1496.25 132.2 L1496.67 132.66 L1497.09 133.15 L1497.5 133.66 L1497.92 134.2 L1498.34 134.77 L1498.76 135.37 L1499.18 136 L1499.59 136.67 L1500.01 137.37 L1500.43 138.11 L1500.85 138.88 L1501.27 139.7 L1501.68 140.56 L1502.1 141.47 L1502.52 142.42 L1502.94 143.42 L1503.36 144.47 L1503.78 145.57 L1504.19 146.73 L1504.61 147.95 L1505.03 149.23 L1505.45 150.57 L1505.87 151.98 L1506.28 153.45 L1506.7 155 L1507.12 156.62 L1507.54 158.32 L1507.96 160.1 L1508.37 161.96 L1508.79 163.91 L1509.21 165.94 L1509.63 168.07 L1510.05 170.29 L1510.46 172.61 L1510.88 175.03 L1511.3 177.55 L1511.72 180.18 L1512.14 182.91 L1512.55 185.75 L1512.97 188.71 L1513.39 191.78 L1513.81 194.97 L1514.23 198.28 L1514.65 201.71 L1515.06 205.26 L1515.48 208.93 L1515.9 212.72 L1516.32 216.63 L1516.74 220.67 L1517.15 224.83 L1517.57 229.11 L1517.99 233.51 L1518.41 238.03 L1518.83 242.67 L1519.24 247.41 L1519.66 252.27 L1520.08 257.23 L1520.5 262.3 L1520.92 267.46 L1521.33 272.71 L1521.75 278.05 L1522.17 283.47 L1522.59 288.97 L1523.01 294.53 L1523.42 300.15 L1523.84 305.82 L1524.26 311.54 L1524.68 317.29 L1525.1 323.07 L1525.51 328.86 L1525.93 334.67 L1526.35 340.48 L1526.77 346.28 L1527.19 352.07 L1527.61 357.83 L1528.02 363.56 L1528.44 369.25 L1528.86 374.88 L1529.28 380.46 L1529.7 385.98 L1530.11 391.43 L1530.53 396.79 L1530.95 402.07 L1531.37 407.27 L1531.79 412.36 L1532.2 417.36 L1532.62 422.25 L1533.04 427.03 L1533.46 431.7 L1533.88 436.26 L1534.29 440.7 L1534.71 445.01 L1535.13 449.21 L1535.55 453.29 L1535.97 457.24 L1536.38 461.08 L1536.8 464.79 L1537.22 468.37 L1537.64 471.84 L1538.06 475.18 L1538.48 478.41 L1538.89 481.52 L1539.31 484.51 L1539.73 487.39 L1540.15 490.16 L1540.57 492.82 L1540.98 495.38 L1541.4 497.83 L1541.82 500.18 L1542.24 502.43 L1542.66 504.59 L1543.07 506.65 L1543.49 508.63 L1543.91 510.52 L1544.33 512.32 L1544.75 514.05 L1545.16 515.69 L1545.58 517.26 L1546 518.76 L1546.42 520.19 L1546.84 521.55 L1547.25 522.85 L1547.67 524.09 L1548.09 525.27 L1548.51 526.39 L1548.93 527.45 L1549.34 528.47 L1549.76 529.44 L1550.18 530.36 L1550.6 531.23 L1551.02 532.06 L1551.44 532.85 L1551.85 533.6 L1552.27 534.31 L1552.69 534.99 L1553.11 535.63 L1553.53 536.24 L1553.94 536.82 L1554.36 537.37 L1554.78 537.89 L1555.2 538.38 L1555.62 538.85 L1556.03 539.3 L1556.45 539.72 L1556.87 540.12 L1557.29 540.5 L1557.71 540.86 L1558.12 541.21 L1558.54 541.53 L1558.96 541.84 L1559.38 542.13 L1559.8 542.41 L1560.21 542.67 L1560.63 542.92 L1561.05 543.15 L1561.47 543.37 L1561.89 543.58 L1562.31 543.78 L1562.72 543.97 L1563.14 544.15 L1563.56 544.32 L1563.98 544.48 L1564.4 544.64 L1564.81 544.78 L1565.23 544.92 L1565.65 545.05 L1566.07 545.17 L1566.49 545.29 L1566.9 545.4 L1567.32 545.5 L1567.74 545.6 L1568.16 545.7 L1568.58 545.78 L1568.99 545.87 L1569.41 545.95 L1569.83 546.02 L1570.25 546.09 L1570.67 546.16 L1571.08 546.23 L1571.5 546.29 L1571.92 546.34 L1572.34 546.4 L1572.76 546.45 L1573.17 546.5 L1573.59 546.54 L1574.01 546.59 L1574.43 546.63 L1574.85 546.67 L1575.27 546.7 L1575.68 546.74 L1576.1 546.77 L1576.52 546.8 L1576.94 546.83 L1577.36 546.86 L1577.77 546.89 L1578.19 546.91 L1578.61 546.94 L1579.03 546.96 L1579.45 546.98 L1579.86 547 L1580.28 547.02 L1580.7 547.04 L1581.12 547.06 L1581.54 547.07 L1581.95 547.09 L1582.37 547.1 L1582.79 547.12 L1583.21 547.13 L1583.63 547.14 L1584.04 547.15 L1584.46 547.17 L1584.88 547.18 L1585.3 547.19 L1585.72 547.2 L1586.14 547.2 L1586.55 547.21 L1586.97 547.22 L1587.39 547.23 L1587.81 547.24 L1588.23 547.24 L1588.64 547.25 L1589.06 547.25 L1589.48 547.26 L1589.9 547.27 L1590.32 547.27 L1590.73 547.28 L1591.15 547.28 L1591.57 547.28 L1591.99 547.29 L1592.41 547.29 L1592.82 547.3 L1593.24 547.3 L1593.66 547.3 L1594.08 547.31 L1594.5 547.31 L1594.91 547.31 L1595.33 547.31 L1595.75 547.32 L1596.17 547.32 L1596.59 547.32 L1597 547.32 L1597.42 547.33 L1597.84 547.33 L1598.26 547.33 L1598.68 547.33 L1599.1 547.33 L1599.51 547.33 L1599.93 547.34 L1600.35 547.34 L1600.77 547.34 L1601.19 547.34 L1601.6 547.34 L1602.02 547.34 L1602.44 547.34 L1602.86 547.34 L1603.28 547.35 L1603.69 547.35 L1604.11 547.35 L1604.53 547.35 L1604.95 547.35 L1605.37 547.35 L1605.78 547.35 L1606.2 547.35 L1606.62 547.35 L1607.04 547.35 L1607.46 547.35 L1607.87 547.35 L1608.29 547.35 L1608.71 547.35 L1609.13 547.35 L1609.55 547.35 L1609.97 547.36 L1610.38 547.36 L1610.8 547.36 L1611.22 547.36 L1611.64 547.36 L1612.06 547.36 L1612.47 547.36 L1612.89 547.36 L1613.31 547.36 L1613.73 547.36 L1614.15 547.36 L1614.56 547.36 L1614.98 547.36 L1615.4 547.36 L1615.82 547.36 L1616.24 547.36 L1616.65 547.36 L1617.07 547.36 L1617.49 547.36 L1617.91 547.36 L1618.33 547.36 L1618.74 547.36 L1619.16 547.36 L1619.58 547.36 L1620 547.36 L1620.42 547.36 L1620.84 547.36 L1621.25 547.36 L1621.67 547.36 L1622.09 547.36 L1622.51 547.36 L1622.93 547.36 L1623.34 547.36 L1623.76 547.36 L1624.18 547.36 L1624.6 547.36 L1625.02 547.36 L1625.43 547.36 L1625.85 547.36 L1626.27 547.36 L1626.69 547.36 L1627.11 547.36 L1627.52 547.36 L1627.94 547.36 L1628.36 547.36 L1628.78 547.36 L1629.2 547.36 L1629.61 547.36 L1630.03 547.36 L1630.45 547.36 L1630.87 547.36 L1631.29 547.36 L1631.7 547.36 L1632.12 547.36 L1632.54 547.36 L1632.96 547.36 L1633.38 547.36 L1633.8 547.36 L1634.21 547.36 L1634.63 547.36 L1635.05 547.36 L1635.47 547.36 L1635.89 547.36 L1636.3 547.36 L1636.72 547.36 L1637.14 547.36 L1637.56 547.36 L1637.98 547.36 L1638.39 547.36 L1638.81 547.36 L1639.23 547.36 L1639.65 547.36 L1640.07 547.36 L1640.48 547.36 L1640.9 547.36 L1641.32 547.36 L1641.74 547.36 L1642.16 547.36 L1642.57 547.36 L1642.99 547.36 L1643.41 547.36 L1643.83 547.36 L1644.25 547.36 L1644.67 547.36 L1645.08 547.36 L1645.5 547.36 L1645.92 547.36 L1646.34 547.36 L1646.76 547.36 L1647.17 547.36 L1647.59 547.36 L1648.01 547.36 L1648.43 547.36 L1648.85 547.36 L1649.26 547.36 L1649.68 547.36 L1650.1 547.36 L1650.52 547.36 L1650.94 547.36 L1651.35 547.36 L1651.77 547.36 L1652.19 547.36 L1652.61 547.36 L1653.03 547.36 L1653.44 547.36 L1653.86 547.36 L1654.28 547.36 L1654.7 547.36 L1655.12 547.36 L1655.53 547.36 L1655.95 547.36 L1656.37 547.36 L1656.79 547.36 L1657.21 547.36 L1657.63 547.36 L1658.04 547.36 L1658.46 547.36 L1658.88 547.36 L1659.3 547.36 L1659.72 547.36 L1660.13 547.36 L1660.55 547.36 L1660.97 547.36 L1661.39 547.36 L1661.81 547.36 L1662.22 547.36 L1662.64 547.36 L1663.06 547.36 L1663.48 547.36 L1663.9 547.36 L1664.31 547.36 L1664.73 547.36 L1665.15 547.36 L1665.57 547.36 L1665.99 547.36 L1666.4 547.36 L1666.82 547.36 L1667.24 547.36 L1667.66 547.36 L1668.08 547.36 L1668.5 547.36 L1668.91 547.36 L1669.33 547.36 L1669.75 547.36 L1670.17 547.36 L1670.59 547.36 L1671 547.36 L1671.42 547.36 L1671.84 547.36 L1672.26 547.36 L1672.68 547.36 L1673.09 547.36 L1673.51 547.36 L1673.93 547.36 L1674.35 547.36 L1674.77 547.36 L1675.18 547.36 L1675.6 547.36 L1676.02 547.36 L1676.44 547.36 L1676.86 547.36 L1677.27 547.36 L1677.69 547.36 L1678.11 547.36 L1678.53 547.36 L1678.95 547.36 L1679.36 547.36 L1679.78 547.36 L1680.2 547.36 L1680.62 547.36 L1681.04 547.36 L1681.46 547.36 L1681.87 547.36 L1682.29 547.36 L1682.71 547.36 L1683.13 547.36 L1683.55 547.36 L1683.96 547.36 L1684.38 547.36 L1684.8 547.36 L1685.22 547.36 L1685.64 547.36 L1686.05 547.36 L1686.47 547.36 L1686.89 547.36 L1687.31 547.36 L1687.73 547.36 L1688.14 547.36 L1688.56 547.36 L1688.98 547.36 L1689.4 547.36 L1689.82 547.36 L1690.23 547.36 L1690.65 547.36 L1691.07 547.36 L1691.49 547.36 L1691.91 547.36 L1692.33 547.36 L1692.74 547.36 L1693.16 547.36 L1693.58 547.36 L1694 547.36 L1694.42 547.36 L1694.83 547.36 L1695.25 547.36 L1695.67 547.36 L1696.09 547.36 L1696.51 547.36 L1696.92 547.36 L1697.34 547.36 L1697.76 547.36 L1698.18 547.36 L1698.6 547.36 L1699.01 547.36 L1699.43 547.36 L1699.85 547.36 L1700.27 547.36 L1700.69 547.36 L1701.1 547.36 L1701.52 547.36 L1701.94 547.36 L1702.36 547.36 L1702.78 547.36 L1703.19 547.36 L1703.61 547.36 L1704.03 547.36 L1704.45 547.36 L1704.87 547.36 L1705.29 547.36 L1705.7 547.36 L1706.12 547.36 L1706.54 547.36 L1706.96 547.36 L1707.38 547.36 L1707.79 547.36 L1708.21 547.36 L1708.63 547.36 L1709.05 547.36 L1709.47 547.36 L1709.88 547.36 L1710.3 547.36 L1710.72 547.36 L1711.14 547.36 L1711.56 547.36 L1711.97 547.36 L1712.39 547.36 L1712.81 547.36 L1713.23 547.36 L1713.65 547.36 L1714.06 547.36 L1714.48 547.36 L1714.9 547.36 L1715.32 547.36 L1715.74 547.36 L1716.16 547.36 L1716.57 547.36 L1716.99 547.36 L1717.41 547.36 L1717.83 547.36 L1718.25 547.36 L1718.66 547.36 L1719.08 547.36 L1719.5 547.36 L1719.92 547.36 L1720.34 547.36 L1720.75 547.36 L1721.17 547.36 L1721.59 547.36 L1722.01 547.36 L1722.43 547.36 L1722.84 547.36 L1723.26 547.36 L1723.68 547.36 L1724.1 547.36 L1724.52 547.36 L1724.93 547.36 L1725.35 547.36 L1725.77 547.36 L1726.19 547.36 L1726.61 547.36 L1727.02 547.36 L1727.44 547.36 L1727.86 547.36 L1728.28 547.36 L1728.7 547.36 L1729.12 547.36 L1729.53 547.36 L1729.95 547.36 L1730.37 547.36 L1730.79 547.36 L1731.21 547.36 L1731.62 547.36 L1732.04 547.36 L1732.46 547.36 L1732.88 547.36 L1733.3 547.36 L1733.71 547.36 L1734.13 547.36 L1734.55 547.36 L1734.97 547.36 L1735.39 547.36 L1735.8 547.36 L1736.22 547.36 L1736.64 547.36 L1737.06 547.36 L1737.48 547.36 L1737.89 547.36 L1738.31 547.36 L1738.73 547.36 L1739.15 547.36 L1739.57 547.36 L1739.99 547.36 L1740.4 547.36 L1740.82 547.36 L1741.24 547.36 L1741.66 547.36 L1742.08 547.36 L1742.49 547.36 L1742.91 547.36 L1743.33 547.36 L1743.75 547.36 L1744.17 547.36 L1744.58 547.36 L1745 547.36 L1745.42 547.36 L1745.84 547.36 L1746.26 547.36 L1746.67 547.36 L1747.09 547.36 L1747.51 547.36 L1747.93 547.36 L1748.35 547.36 L1748.76 547.36 L1749.18 547.36 L1749.6 547.36 L1750.02 547.36 L1750.44 547.36 L1750.85 547.36 L1751.27 547.36 L1751.69 547.36 L1752.11 547.36 L1752.53 547.36 L1752.95 547.36 L1753.36 547.36 L1753.78 547.36 L1754.2 547.36 L1754.62 547.36 L1755.04 547.36 L1755.45 547.36 L1755.87 547.36 L1756.29 547.36 L1756.71 547.36 L1757.13 547.36 L1757.54 547.36 L1757.96 547.36 L1758.38 547.36 L1758.8 547.36 L1759.22 547.36 L1759.63 547.36 L1760.05 547.36 L1760.47 547.36 L1760.89 547.36 L1761.31 547.36 L1761.72 547.36 L1762.14 547.36 L1762.56 547.36 L1762.98 547.36 L1763.4 547.36 L1763.82 547.36 L1764.23 547.36 L1764.65 547.36 L1765.07 547.36 L1765.49 547.36 L1765.91 547.36 L1766.32 547.36 L1766.74 547.36 L1767.16 547.36 L1767.58 547.36 L1768 547.36 L1768.41 547.36 L1768.83 547.36 L1769.25 547.36 L1769.67 547.36 L1770.09 547.36 L1770.5 547.36 L1770.92 547.36 L1771.34 547.36 L1771.76 547.36 L1772.18 547.36 L1772.59 547.36 L1773.01 547.36 L1773.43 547.36 L1773.85 547.36 L1774.27 547.36 L1774.69 547.36 L1775.1 547.36 L1775.52 547.36 L1775.94 547.36 L1776.36 547.36 L1776.78 547.36 L1777.19 547.36 L1777.61 547.36 L1778.03 547.36 L1778.45 547.36 L1778.87 547.36 L1779.28 547.36 L1779.7 547.36 L1780.12 547.36 L1780.54 547.36 L1780.96 547.36 L1781.37 547.36 L1781.79 547.36 L1782.21 547.36 L1782.63 547.36 L1783.05 547.36 L1783.46 547.36 L1783.88 547.36 L1784.3 547.36 L1784.72 547.36 L1785.14 547.36 L1785.55 547.36 L1785.97 547.36 L1786.39 547.36 L1786.81 547.36 L1787.23 547.36 L1787.65 547.36 L1788.06 547.36 L1788.48 547.36 L1788.9 547.36 L1789.32 547.36 L1789.74 547.36 L1790.15 547.36 L1790.57 547.36 L1790.99 547.36 L1791.41 547.36 L1791.83 547.36 L1792.24 547.36 L1792.66 547.36 L1793.08 547.36 L1793.5 547.36 L1793.92 547.36 L1794.33 547.36 L1794.75 547.36 L1795.17 547.36 L1795.59 547.36 L1796.01 547.36 L1796.42 547.36 L1796.84 547.36 L1797.26 547.36 L1797.68 547.36 L1798.1 547.36 L1798.52 547.36 L1798.93 547.36 L1799.35 547.36 L1799.77 547.36 L1800.19 547.36 L1800.61 547.36 L1801.02 547.36 L1801.44 547.36 L1801.86 547.36 L1802.28 547.36 L1802.7 547.36 L1803.11 547.36 L1803.53 547.36 L1803.95 547.36 L1804.37 547.36 L1804.79 547.36 L1805.2 547.36 L1805.62 547.36 L1806.04 547.36 L1806.46 547.36 L1806.88 547.36 L1807.29 547.36 L1807.71 547.36 L1808.13 547.36 L1808.55 547.36 L1808.97 547.36 L1809.38 547.36 L1809.8 547.36 L1810.22 547.36 L1810.64 547.36 L1811.06 547.36 L1811.48 547.36 L1811.89 547.36 L1812.31 547.36 L1812.73 547.36 L1813.15 547.36 L1813.57 547.36 L1813.98 547.36 L1814.4 547.36 L1814.82 547.36 L1815.24 547.36 L1815.66 547.36 L1816.07 547.36 L1816.49 547.36 L1816.91 547.36 L1817.33 547.36 L1817.75 547.36 L1818.16 547.36 L1818.58 547.36 L1819 547.36 L1819.42 547.36 L1819.84 547.36 L1820.25 547.36 L1820.67 547.36 L1821.09 547.36 L1821.51 547.36 L1821.93 547.36 L1822.35 547.36 L1822.76 547.36 L1823.18 547.36 L1823.6 547.36 L1824.02 547.36 L1824.44 547.36 L1824.85 547.36 L1825.27 547.36 L1825.69 547.36 L1826.11 547.36 L1826.53 547.36 L1826.94 547.36 L1827.36 547.36 L1827.78 547.36 L1828.2 547.36 L1828.62 547.36 L1829.03 547.36 L1829.45 547.36 L1829.87 547.36 L1830.29 547.36 L1830.71 547.36 L1831.12 547.36 L1831.54 547.36 L1831.96 547.36 L1832.38 547.36 L1832.8 547.36 L1833.21 547.36 L1833.63 547.36 L1834.05 547.36 L1834.47 547.36 L1834.89 547.36 L1835.31 547.36 L1835.72 547.36 L1836.14 547.36 L1836.56 547.36 L1836.98 547.36 L1837.4 547.36 L1837.81 547.36 L1838.23 547.36 L1838.65 547.36 L1839.07 547.36 L1839.49 547.36 L1839.9 547.36 L1840.32 547.36 L1840.74 547.36 L1841.16 547.36 L1841.58 547.36 L1841.99 547.36 L1842.41 547.36 L1842.83 547.36 L1843.25 547.36 L1843.67 547.36 L1844.08 547.36 L1844.5 547.36 L1844.92 547.36 L1845.34 547.36 L1845.76 547.36 L1846.18 547.36 L1846.59 547.36 L1847.01 547.36 L1847.43 547.36 L1847.85 547.36 L1848.27 547.36 L1848.68 547.36 L1849.1 547.36 L1849.52 547.36 L1849.94 547.36 L1850.36 547.36 L1850.77 547.36 L1851.19 547.36 L1851.61 547.36 L1852.03 547.36 L1852.45 547.36 L1852.86 547.36 L1853.28 547.36 L1853.7 547.36 L1854.12 547.36 L1854.54 547.36 L1854.95 547.36 L1855.37 547.36 L1855.79 547.36 L1856.21 547.36 L1856.63 547.36 L1857.04 547.36 L1857.46 547.36 L1857.88 547.36 L1858.3 547.36 L1858.72 547.36 L1859.14 547.36 L1859.55 547.36 L1859.97 547.36 L1860.39 547.36 L1860.81 547.36 L1861.23 547.36 L1861.64 547.36 L1862.06 547.36 L1862.48 547.36 L1862.9 547.36 L1863.32 547.36 L1863.73 547.36 L1864.15 547.36 L1864.57 547.36 L1864.99 547.36 L1865.41 547.36 L1865.82 547.36 L1866.24 547.36 L1866.66 547.36 L1867.08 547.36 L1867.5 547.36 L1867.91 547.36 L1868.33 547.36 L1868.75 547.36 L1869.17 547.36 L1869.59 547.36 L1870.01 547.36 L1870.42 547.36 L1870.84 547.36 L1871.26 547.36 L1871.68 547.36 L1872.1 547.36 L1872.51 547.36 L1872.93 547.36 L1873.35 547.36 L1873.77 547.36 L1874.19 547.36 L1874.6 547.36 L1875.02 547.36 L1875.44 547.36 L1875.86 547.36 L1876.28 547.36 L1876.69 547.36 L1877.11 547.36 L1877.53 547.36 L1877.95 547.36 L1878.37 547.36 L1878.78 547.36 L1879.2 547.36 L1879.62 547.36 L1880.04 547.36 L1880.46 547.36 L1880.87 547.36 L1881.29 547.36 L1881.71 547.36 L1882.13 547.36 L1882.55 547.36 L1882.97 547.36 L1883.38 547.36 L1883.8 547.36 L1884.22 547.36 L1884.64 547.36 L1885.06 547.36 L1885.47 547.36 L1885.89 547.36 L1886.31 547.36 L1886.73 547.36 L1887.15 547.36 L1887.56 547.36 L1887.98 547.36 L1888.4 547.36 L1888.82 547.36 L1889.24 547.36 L1889.65 547.36 L1890.07 547.36 L1890.49 547.36 L1890.91 547.36 L1891.33 547.36 L1891.74 547.36 L1892.16 547.36 L1892.58 547.36 L1893 547.36 L1893.42 547.36 L1893.84 547.36 L1894.25 547.36 L1894.67 547.36 L1895.09 547.36 L1895.51 547.36 L1895.93 547.36 L1896.34 547.36 L1896.76 547.36 L1897.18 547.36 L1897.6 547.36 L1898.02 547.36 L1898.43 547.36 L1898.85 547.36 L1899.27 547.36 L1899.69 547.36 L1900.11 547.36 L1900.52 547.36 L1900.94 547.36 L1901.36 547.36 L1901.78 547.36 L1902.2 547.36 L1902.61 547.36 L1903.03 547.36 L1903.45 547.36 L1903.87 547.36 L1904.29 547.36 L1904.71 547.36 L1905.12 547.36 L1905.54 547.36 L1905.96 547.36 L1906.38 547.36 L1906.8 547.36 L1907.21 547.36 L1907.63 547.36 L1908.05 547.36 L1908.47 547.36 L1908.89 547.36 L1909.3 547.36 L1909.72 547.36 L1910.14 547.36 L1910.56 547.36 L1910.98 547.36 L1911.39 547.36 L1911.81 547.36 L1912.23 547.36 L1912.65 547.36 L1913.07 547.36 L1913.48 547.36 L1913.9 547.36 L1914.32 547.36 L1914.74 547.36 L1915.16 547.36 L1915.57 547.36 L1915.99 547.36 L1916.41 547.36 L1916.83 547.36 L1917.25 547.36 L1917.67 547.36 L1918.08 547.36 L1918.5 547.36 L1918.92 547.36 L1919.34 547.36 L1919.76 547.36 L1920.17 547.36 L1920.59 547.36 L1921.01 547.36 L1921.43 547.36 L1921.85 547.36 L1922.26 547.36 L1922.68 547.36 L1923.1 547.36 L1923.52 547.36 L1923.94 547.36 L1924.35 547.36 L1924.77 547.36 L1925.19 547.36 L1925.61 547.36 L1926.03 547.36 L1926.44 547.36 L1926.86 547.36 L1927.28 547.36 L1927.7 547.36 L1928.12 547.36 L1928.54 547.36 L1928.95 547.36 L1929.37 547.36 L1929.79 547.36 L1930.21 547.36 L1930.63 547.36 L1931.04 547.36 L1931.46 547.36 L1931.88 547.36 L1932.3 547.36 L1932.72 547.36 L1933.13 547.36 L1933.55 547.36 L1933.97 547.36 L1934.39 547.36 L1934.81 547.36 L1935.22 547.36 L1935.64 547.36 L1936.06 547.36 L1936.48 547.36 L1936.9 547.36 L1937.31 547.36 L1937.73 547.36 L1938.15 547.36 L1938.57 547.36 L1938.99 547.36 L1939.4 547.36 L1939.82 547.36 L1940.24 547.36 L1940.66 547.36 L1941.08 547.36 L1941.5 547.36 L1941.91 547.36 L1942.33 547.36 L1942.75 547.36 L1943.17 547.36 L1943.59 547.36 L1944 547.36 L1944.42 547.36 L1944.84 547.36 L1945.26 547.36 L1945.68 547.36 L1946.09 547.36 L1946.51 547.36 L1946.93 547.36 L1947.35 547.36 L1947.77 547.36 L1948.18 547.36 L1948.6 547.36 L1949.02 547.36 L1949.44 547.36 L1949.86 547.36 L1950.27 547.36 L1950.69 547.36 L1951.11 547.36 L1951.53 547.36 L1951.95 547.36 L1952.37 547.36 L1952.78 547.36 L1953.2 547.36 L1953.62 547.36 L1954.04 547.36 L1954.46 547.36 L1954.87 547.36 L1955.29 547.36 L1955.71 547.36 L1956.13 547.36 L1956.55 547.36 L1956.96 547.36 L1957.38 547.36 L1957.8 547.36" fill="none" stroke="#f7870f" stroke-width="1.45" stroke-dasharray="6.5 4.5"/>
<path d="M1331.11 134.46 L1331.53 134.46 L1331.95 134.46 L1332.37 134.46 L1332.78 134.46 L1333.2 134.46 L1333.62 134.46 L1334.04 134.46 L1334.46 134.46 L1334.87 134.46 L1335.29 134.46 L1335.71 134.46 L1336.13 134.46 L1336.55 134.46 L1336.96 134.46 L1337.38 134.46 L1337.8 134.46 L1338.22 134.46 L1338.64 134.46 L1339.06 134.46 L1339.47 134.46 L1339.89 134.46 L1340.31 134.46 L1340.73 134.46 L1341.15 134.46 L1341.56 134.46 L1341.98 134.46 L1342.4 134.46 L1342.82 134.46 L1343.24 134.46 L1343.65 134.46 L1344.07 134.46 L1344.49 134.46 L1344.91 134.46 L1345.33 134.46 L1345.74 134.46 L1346.16 134.46 L1346.58 134.46 L1347 134.46 L1347.42 134.46 L1347.83 134.46 L1348.25 134.46 L1348.67 134.46 L1349.09 134.46 L1349.51 134.46 L1349.93 134.46 L1350.34 134.46 L1350.76 134.46 L1351.18 134.46 L1351.6 134.46 L1352.02 134.46 L1352.43 134.46 L1352.85 134.46 L1353.27 134.46 L1353.69 134.46 L1354.11 134.46 L1354.52 134.46 L1354.94 134.46 L1355.36 134.46 L1355.78 134.46 L1356.2 134.46 L1356.61 134.46 L1357.03 134.46 L1357.45 134.46 L1357.87 134.46 L1358.29 134.46 L1358.7 134.46 L1359.12 134.46 L1359.54 134.46 L1359.96 134.46 L1360.38 134.46 L1360.8 134.46 L1361.21 134.46 L1361.63 134.46 L1362.05 134.46 L1362.47 134.46 L1362.89 134.46 L1363.3 134.46 L1363.72 134.46 L1364.14 134.46 L1364.56 134.46 L1364.98 134.46 L1365.39 134.46 L1365.81 134.46 L1366.23 134.46 L1366.65 134.46 L1367.07 134.46 L1367.48 134.46 L1367.9 134.46 L1368.32 134.46 L1368.74 134.46 L1369.16 134.46 L1369.57 134.46 L1369.99 134.46 L1370.41 134.46 L1370.83 134.46 L1371.25 134.46 L1371.66 134.46 L1372.08 134.46 L1372.5 134.46 L1372.92 134.46 L1373.34 134.46 L1373.76 134.46 L1374.17 134.46 L1374.59 134.46 L1375.01 134.46 L1375.43 134.46 L1375.85 134.46 L1376.26 134.46 L1376.68 134.46 L1377.1 134.46 L1377.52 134.46 L1377.94 134.46 L1378.35 134.46 L1378.77 134.46 L1379.19 134.46 L1379.61 134.46 L1380.03 134.46 L1380.44 134.46 L1380.86 134.46 L1381.28 134.46 L1381.7 134.46 L1382.12 134.46 L1382.53 134.46 L1382.95 134.46 L1383.37 134.46 L1383.79 134.46 L1384.21 134.46 L1384.63 134.46 L1385.04 134.46 L1385.46 134.46 L1385.88 134.46 L1386.3 134.46 L1386.72 134.46 L1387.13 134.46 L1387.55 134.46 L1387.97 134.46 L1388.39 134.46 L1388.81 134.46 L1389.22 134.46 L1389.64 134.46 L1390.06 134.46 L1390.48 134.46 L1390.9 134.46 L1391.31 134.46 L1391.73 134.46 L1392.15 134.46 L1392.57 134.46 L1392.99 134.46 L1393.4 134.46 L1393.82 134.46 L1394.24 134.46 L1394.66 134.46 L1395.08 134.46 L1395.49 134.46 L1395.91 134.46 L1396.33 134.46 L1396.75 134.46 L1397.17 134.46 L1397.59 134.46 L1398 134.46 L1398.42 134.46 L1398.84 134.46 L1399.26 134.46 L1399.68 134.46 L1400.09 134.46 L1400.51 134.46 L1400.93 134.46 L1401.35 134.46 L1401.77 134.46 L1402.18 134.46 L1402.6 134.46 L1403.02 134.46 L1403.44 134.46 L1403.86 134.46 L1404.27 134.46 L1404.69 134.46 L1405.11 134.46 L1405.53 134.46 L1405.95 134.46 L1406.36 134.46 L1406.78 134.46 L1407.2 134.46 L1407.62 134.46 L1408.04 134.46 L1408.46 134.46 L1408.87 134.46 L1409.29 134.46 L1409.71 134.46 L1410.13 134.46 L1410.55 134.46 L1410.96 134.46 L1411.38 134.46 L1411.8 134.46 L1412.22 134.46 L1412.64 134.46 L1413.05 134.46 L1413.47 134.46 L1413.89 134.46 L1414.31 134.46 L1414.73 134.46 L1415.14 134.46 L1415.56 134.46 L1415.98 134.46 L1416.4 134.46 L1416.82 134.46 L1417.23 134.46 L1417.65 134.46 L1418.07 134.46 L1418.49 134.46 L1418.91 134.46 L1419.32 134.46 L1419.74 134.46 L1420.16 134.46 L1420.58 134.46 L1421 134.46 L1421.42 134.46 L1421.83 134.46 L1422.25 134.46 L1422.67 134.46 L1423.09 134.46 L1423.51 134.46 L1423.92 134.46 L1424.34 134.46 L1424.76 134.46 L1425.18 134.46 L1425.6 134.46 L1426.01 134.46 L1426.43 134.46 L1426.85 134.46 L1427.27 134.46 L1427.69 134.46 L1428.1 134.46 L1428.52 134.46 L1428.94 134.46 L1429.36 134.46 L1429.78 134.46 L1430.19 134.46 L1430.61 134.46 L1431.03 134.46 L1431.45 134.46 L1431.87 134.46 L1432.29 134.46 L1432.7 134.46 L1433.12 134.46 L1433.54 134.46 L1433.96 134.46 L1434.38 134.46 L1434.79 134.46 L1435.21 134.46 L1435.63 134.46 L1436.05 134.46 L1436.47 134.46 L1436.88 134.46 L1437.3 134.46 L1437.72 134.46 L1438.14 134.46 L1438.56 134.46 L1438.97 134.46 L1439.39 134.46 L1439.81 134.46 L1440.23 134.46 L1440.65 134.46 L1441.06 134.46 L1441.48 134.46 L1441.9 134.46 L1442.32 134.46 L1442.74 134.46 L1443.15 134.46 L1443.57 134.46 L1443.99 134.46 L1444.41 134.46 L1444.83 134.46 L1445.25 134.46 L1445.66 134.46 L1446.08 134.46 L1446.5 134.46 L1446.92 134.46 L1447.34 134.46 L1447.75 134.46 L1448.17 134.46 L1448.59 134.46 L1449.01 134.46 L1449.43 134.46 L1449.84 134.46 L1450.26 134.46 L1450.68 134.46 L1451.1 134.46 L1451.52 134.46 L1451.93 134.46 L1452.35 134.46 L1452.77 134.46 L1453.19 134.46 L1453.61 134.46 L1454.02 134.46 L1454.44 134.46 L1454.86 134.46 L1455.28 134.46 L1455.7 134.46 L1456.12 134.46 L1456.53 134.46 L1456.95 134.46 L1457.37 134.46 L1457.79 134.46 L1458.21 134.46 L1458.62 134.46 L1459.04 134.46 L1459.46 134.46 L1459.88 134.46 L1460.3 134.46 L1460.71 134.46 L1461.13 134.46 L1461.55 134.46 L1461.97 134.46 L1462.39 134.46 L1462.8 134.46 L1463.22 134.46 L1463.64 134.46 L1464.06 134.46 L1464.48 134.46 L1464.89 134.46 L1465.31 134.46 L1465.73 134.46 L1466.15 134.46 L1466.57 134.46 L1466.98 134.46 L1467.4 134.46 L1467.82 134.46 L1468.24 134.46 L1468.66 134.46 L1469.08 134.46 L1469.49 134.46 L1469.91 134.46 L1470.33 134.46 L1470.75 134.46 L1471.17 134.46 L1471.58 134.46 L1472 134.46 L1472.42 134.46 L1472.84 134.46 L1473.26 134.46 L1473.67 134.46 L1474.09 134.46 L1474.51 134.46 L1474.93 134.46 L1475.35 134.46 L1475.76 134.46 L1476.18 134.46 L1476.6 134.46 L1477.02 134.46 L1477.44 134.46 L1477.85 134.46 L1478.27 134.46 L1478.69 134.46 L1479.11 134.46 L1479.53 134.46 L1479.95 134.46 L1480.36 134.46 L1480.78 134.46 L1481.2 134.46 L1481.62 134.46 L1482.04 134.46 L1482.45 134.46 L1482.87 134.46 L1483.29 134.46 L1483.71 134.46 L1484.13 134.46 L1484.54 134.46 L1484.96 134.46 L1485.38 134.46 L1485.8 134.46 L1486.22 134.46 L1486.63 134.46 L1487.05 134.46 L1487.47 134.46 L1487.89 134.46 L1488.31 134.46 L1488.72 134.46 L1489.14 134.46 L1489.56 134.46 L1489.98 134.46 L1490.4 134.46 L1490.82 134.46 L1491.23 134.46 L1491.65 134.46 L1492.07 134.46 L1492.49 134.46 L1492.91 134.46 L1493.32 134.46 L1493.74 134.46 L1494.16 134.46 L1494.58 134.46 L1495 134.46 L1495.41 134.46 L1495.83 134.46 L1496.25 134.46 L1496.67 134.46 L1497.09 134.46 L1497.5 134.46 L1497.92 134.46 L1498.34 134.46 L1498.76 134.46 L1499.18 134.46 L1499.59 134.46 L1500.01 134.46 L1500.43 134.46 L1500.85 134.46 L1501.27 134.46 L1501.68 134.46 L1502.1 134.46 L1502.52 134.46 L1502.94 134.46 L1503.36 134.46 L1503.78 134.46 L1504.19 134.46 L1504.61 134.46 L1505.03 134.46 L1505.45 134.46 L1505.87 134.46 L1506.28 134.46 L1506.7 134.46 L1507.12 134.46 L1507.54 134.46 L1507.96 134.46 L1508.37 134.46 L1508.79 134.46 L1509.21 134.46 L1509.63 134.46 L1510.05 134.46 L1510.46 134.46 L1510.88 134.46 L1511.3 134.46 L1511.72 134.46 L1512.14 134.46 L1512.55 134.46 L1512.97 134.46 L1513.39 134.46 L1513.81 134.46 L1514.23 134.46 L1514.65 134.46 L1515.06 134.46 L1515.48 134.46 L1515.9 134.46 L1516.32 134.46 L1516.74 134.46 L1517.15 134.46 L1517.57 134.46 L1517.99 134.46 L1518.41 134.46 L1518.83 134.46 L1519.24 134.46 L1519.66 134.46 L1520.08 134.46 L1520.5 134.46 L1520.92 134.46 L1521.33 134.46 L1521.75 134.46 L1522.17 134.46 L1522.59 134.46 L1523.01 134.46 L1523.42 134.46 L1523.84 134.46 L1524.26 134.46 L1524.68 134.46 L1525.1 134.46 L1525.51 134.46 L1525.93 134.46 L1526.35 134.46 L1526.77 134.46 L1527.19 134.46 L1527.61 134.46 L1528.02 134.46 L1528.44 134.46 L1528.86 134.46 L1529.28 134.46 L1529.7 134.46 L1530.11 134.46 L1530.53 134.46 L1530.95 134.46 L1531.37 134.46 L1531.79 134.46 L1532.2 134.46 L1532.62 134.46 L1533.04 134.46 L1533.46 134.46 L1533.88 134.46 L1534.29 134.46 L1534.71 134.46 L1535.13 134.46 L1535.55 134.46 L1535.97 134.46 L1536.38 134.46 L1536.8 134.46 L1537.22 134.46 L1537.64 134.46 L1538.06 134.46 L1538.48 134.46 L1538.89 134.46 L1539.31 134.46 L1539.73 134.46 L1540.15 134.46 L1540.57 134.46 L1540.98 134.46 L1541.4 134.46 L1541.82 134.46 L1542.24 134.46 L1542.66 134.46 L1543.07 134.46 L1543.49 134.46 L1543.91 134.46 L1544.33 134.46 L1544.75 134.46 L1545.16 134.46 L1545.58 134.46 L1546 134.46 L1546.42 134.46 L1546.84 134.46 L1547.25 134.46 L1547.67 134.46 L1548.09 134.46 L1548.51 134.46 L1548.93 134.46 L1549.34 134.46 L1549.76 134.46 L1550.18 134.46 L1550.6 134.46 L1551.02 134.46 L1551.44 134.46 L1551.85 134.46 L1552.27 134.46 L1552.69 134.46 L1553.11 134.46 L1553.53 134.46 L1553.94 134.46 L1554.36 134.46 L1554.78 134.46 L1555.2 134.46 L1555.62 134.46 L1556.03 134.46 L1556.45 134.46 L1556.87 134.46 L1557.29 134.46 L1557.71 134.46 L1558.12 134.46 L1558.54 134.46 L1558.96 134.46 L1559.38 134.46 L1559.8 134.46 L1560.21 134.46 L1560.63 134.46 L1561.05 134.46 L1561.47 134.46 L1561.89 134.46 L1562.31 134.46 L1562.72 134.46 L1563.14 134.46 L1563.56 134.46 L1563.98 134.46 L1564.4 134.46 L1564.81 134.46 L1565.23 134.46 L1565.65 134.46 L1566.07 134.46 L1566.49 134.46 L1566.9 134.46 L1567.32 134.46 L1567.74 134.46 L1568.16 134.46 L1568.58 134.46 L1568.99 134.46 L1569.41 134.46 L1569.83 134.46 L1570.25 134.46 L1570.67 134.46 L1571.08 134.46 L1571.5 134.46 L1571.92 134.46 L1572.34 134.46 L1572.76 134.46 L1573.17 134.46 L1573.59 134.46 L1574.01 134.46 L1574.43 134.46 L1574.85 134.46 L1575.27 134.46 L1575.68 134.46 L1576.1 134.46 L1576.52 134.46 L1576.94 134.46 L1577.36 134.46 L1577.77 134.46 L1578.19 134.46 L1578.61 134.46 L1579.03 134.46 L1579.45 134.46 L1579.86 134.46 L1580.28 134.46 L1580.7 134.46 L1581.12 134.46 L1581.54 134.46 L1581.95 134.46 L1582.37 134.46 L1582.79 134.46 L1583.21 134.46 L1583.63 134.46 L1584.04 134.46 L1584.46 134.46 L1584.88 134.46 L1585.3 134.46 L1585.72 134.46 L1586.14 134.46 L1586.55 134.46 L1586.97 134.46 L1587.39 134.46 L1587.81 134.46 L1588.23 134.46 L1588.64 134.46 L1589.06 134.46 L1589.48 134.46 L1589.9 134.46 L1590.32 134.46 L1590.73 134.46 L1591.15 134.46 L1591.57 134.46 L1591.99 134.46 L1592.41 134.46 L1592.82 134.46 L1593.24 134.46 L1593.66 134.46 L1594.08 134.46 L1594.5 134.46 L1594.91 134.46 L1595.33 134.46 L1595.75 134.46 L1596.17 134.46 L1596.59 134.46 L1597 134.46 L1597.42 134.46 L1597.84 134.46 L1598.26 134.46 L1598.68 134.46 L1599.1 134.46 L1599.51 134.46 L1599.93 134.46 L1600.35 134.46 L1600.77 134.46 L1601.19 134.46 L1601.6 134.46 L1602.02 134.46 L1602.44 134.46 L1602.86 134.46 L1603.28 134.46 L1603.69 134.46 L1604.11 134.46 L1604.53 134.46 L1604.95 134.46 L1605.37 134.46 L1605.78 134.46 L1606.2 134.46 L1606.62 134.46 L1607.04 134.46 L1607.46 134.46 L1607.87 134.46 L1608.29 134.46 L1608.71 134.46 L1609.13 134.46 L1609.55 134.46 L1609.97 134.46 L1610.38 134.46 L1610.8 134.46 L1611.22 134.46 L1611.64 134.46 L1612.06 134.46 L1612.47 134.46 L1612.89 134.46 L1613.31 134.46 L1613.73 134.46 L1614.15 134.46 L1614.56 134.46 L1614.98 134.46 L1615.4 134.46 L1615.82 134.46 L1616.24 134.46 L1616.65 134.46 L1617.07 134.46 L1617.49 134.46 L1617.91 134.46 L1618.33 134.46 L1618.74 134.46 L1619.16 134.46 L1619.58 134.46 L1620 134.46 L1620.42 134.46 L1620.84 134.46 L1621.25 134.47 L1621.67 134.47 L1622.09 134.47 L1622.51 134.47 L1622.93 134.47 L1623.34 134.47 L1623.76 134.47 L1624.18 134.47 L1624.6 134.47 L1625.02 134.47 L1625.43 134.47 L1625.85 134.47 L1626.27 134.48 L1626.69 134.48 L1627.11 134.48 L1627.52 134.48 L1627.94 134.48 L1628.36 134.48 L1628.78 134.49 L1629.2 134.49 L1629.61 134.49 L1630.03 134.49 L1630.45 134.5 L1630.87 134.5 L1631.29 134.5 L1631.7 134.51 L1632.12 134.51 L1632.54 134.52 L1632.96 134.52 L1633.38 134.53 L1633.8 134.54 L1634.21 134.54 L1634.63 134.55 L1635.05 134.56 L1635.47 134.57 L1635.89 134.58 L1636.3 134.59 L1636.72 134.6 L1637.14 134.62 L1637.56 134.63 L1637.98 134.65 L1638.39 134.66 L1638.81 134.68 L1639.23 134.7 L1639.65 134.73 L1640.07 134.75 L1640.48 134.78 L1640.9 134.81 L1641.32 134.84 L1641.74 134.88 L1642.16 134.92 L1642.57 134.96 L1642.99 135 L1643.41 135.06 L1643.83 135.11 L1644.25 135.17 L1644.67 135.24 L1645.08 135.31 L1645.5 135.39 L1645.92 135.48 L1646.34 135.57 L1646.76 135.68 L1647.17 135.79 L1647.59 135.91 L1648.01 136.05 L1648.43 136.2 L1648.85 136.36 L1649.26 136.54 L1649.68 136.73 L1650.1 136.94 L1650.52 137.17 L1650.94 137.43 L1651.35 137.7 L1651.77 138 L1652.19 138.33 L1652.61 138.69 L1653.03 139.08 L1653.44 139.51 L1653.86 139.97 L1654.28 140.48 L1654.7 141.04 L1655.12 141.64 L1655.53 142.3 L1655.95 143.02 L1656.37 143.81 L1656.79 144.66 L1657.21 145.59 L1657.63 146.6 L1658.04 147.7 L1658.46 148.9 L1658.88 150.2 L1659.3 151.61 L1659.72 153.15 L1660.13 154.81 L1660.55 156.62 L1660.97 158.57 L1661.39 160.69 L1661.81 162.97 L1662.22 165.44 L1662.64 168.11 L1663.06 170.98 L1663.48 174.07 L1663.9 177.4 L1664.31 180.96 L1664.73 184.79 L1665.15 188.88 L1665.57 193.25 L1665.99 197.91 L1666.4 202.87 L1666.82 208.13 L1667.24 213.7 L1667.66 219.59 L1668.08 225.8 L1668.5 232.33 L1668.91 239.17 L1669.33 246.32 L1669.75 253.76 L1670.17 261.49 L1670.59 269.5 L1671 277.75 L1671.42 286.23 L1671.84 294.92 L1672.26 303.78 L1672.68 312.78 L1673.09 321.89 L1673.51 331.08 L1673.93 340.3 L1674.35 349.53 L1674.77 358.72 L1675.18 367.84 L1675.6 376.86 L1676.02 385.73 L1676.44 394.43 L1676.86 402.93 L1677.27 411.2 L1677.69 419.23 L1678.11 426.98 L1678.53 434.45 L1678.95 441.62 L1679.36 448.49 L1679.78 455.04 L1680.2 461.28 L1680.62 467.19 L1681.04 472.79 L1681.46 478.08 L1681.87 483.06 L1682.29 487.75 L1682.71 492.14 L1683.13 496.26 L1683.55 500.1 L1683.96 503.69 L1684.38 507.03 L1684.8 510.14 L1685.22 513.03 L1685.64 515.72 L1686.05 518.2 L1686.47 520.5 L1686.89 522.63 L1687.31 524.6 L1687.73 526.41 L1688.14 528.09 L1688.56 529.63 L1688.98 531.06 L1689.4 532.37 L1689.82 533.57 L1690.23 534.68 L1690.65 535.7 L1691.07 536.64 L1691.49 537.49 L1691.91 538.28 L1692.33 539.01 L1692.74 539.67 L1693.16 540.28 L1693.58 540.84 L1694 541.36 L1694.42 541.83 L1694.83 542.26 L1695.25 542.65 L1695.67 543.01 L1696.09 543.34 L1696.51 543.65 L1696.92 543.92 L1697.34 544.18 L1697.76 544.41 L1698.18 544.62 L1698.6 544.82 L1699.01 545 L1699.43 545.16 L1699.85 545.31 L1700.27 545.45 L1700.69 545.57 L1701.1 545.68 L1701.52 545.79 L1701.94 545.89 L1702.36 545.97 L1702.78 546.05 L1703.19 546.13 L1703.61 546.19 L1704.03 546.25 L1704.45 546.31 L1704.87 546.36 L1705.29 546.41 L1705.7 546.45 L1706.12 546.49 L1706.54 546.53 L1706.96 546.56 L1707.38 546.59 L1707.79 546.62 L1708.21 546.64 L1708.63 546.66 L1709.05 546.69 L1709.47 546.71 L1709.88 546.72 L1710.3 546.74 L1710.72 546.75 L1711.14 546.77 L1711.56 546.78 L1711.97 546.79 L1712.39 546.8 L1712.81 546.81 L1713.23 546.82 L1713.65 546.83 L1714.06 546.83 L1714.48 546.84 L1714.9 546.85 L1715.32 546.85 L1715.74 546.86 L1716.16 546.86 L1716.57 546.87 L1716.99 546.87 L1717.41 546.87 L1717.83 546.88 L1718.25 546.88 L1718.66 546.88 L1719.08 546.88 L1719.5 546.89 L1719.92 546.89 L1720.34 546.89 L1720.75 546.89 L1721.17 546.89 L1721.59 546.89 L1722.01 546.9 L1722.43 546.9 L1722.84 546.9 L1723.26 546.9 L1723.68 546.9 L1724.1 546.9 L1724.52 546.9 L1724.93 546.9 L1725.35 546.9 L1725.77 546.9 L1726.19 546.9 L1726.61 546.9 L1727.02 546.91 L1727.44 546.91 L1727.86 546.91 L1728.28 546.91 L1728.7 546.91 L1729.12 546.91 L1729.53 546.91 L1729.95 546.91 L1730.37 546.91 L1730.79 546.91 L1731.21 546.91 L1731.62 546.91 L1732.04 546.91 L1732.46 546.91 L1732.88 546.91 L1733.3 546.91 L1733.71 546.91 L1734.13 546.91 L1734.55 546.91 L1734.97 546.91 L1735.39 546.91 L1735.8 546.91 L1736.22 546.91 L1736.64 546.91 L1737.06 546.91 L1737.48 546.91 L1737.89 546.91 L1738.31 546.91 L1738.73 546.91 L1739.15 546.91 L1739.57 546.91 L1739.99 546.91 L1740.4 546.91 L1740.82 546.91 L1741.24 546.91 L1741.66 546.91 L1742.08 546.91 L1742.49 546.91 L1742.91 546.91 L1743.33 546.91 L1743.75 546.91 L1744.17 546.91 L1744.58 546.91 L1745 546.91 L1745.42 546.91 L1745.84 546.91 L1746.26 546.91 L1746.67 546.91 L1747.09 546.91 L1747.51 546.91 L1747.93 546.91 L1748.35 546.91 L1748.76 546.91 L1749.18 546.91 L1749.6 546.91 L1750.02 546.91 L1750.44 546.91 L1750.85 546.91 L1751.27 546.91 L1751.69 546.91 L1752.11 546.91 L1752.53 546.91 L1752.95 546.91 L1753.36 546.91 L1753.78 546.91 L1754.2 546.91 L1754.62 546.91 L1755.04 546.91 L1755.45 546.91 L1755.87 546.91 L1756.29 546.91 L1756.71 546.91 L1757.13 546.91 L1757.54 546.91 L1757.96 546.91 L1758.38 546.91 L1758.8 546.91 L1759.22 546.91 L1759.63 546.91 L1760.05 546.91 L1760.47 546.91 L1760.89 546.91 L1761.31 546.91 L1761.72 546.91 L1762.14 546.91 L1762.56 546.91 L1762.98 546.91 L1763.4 546.91 L1763.82 546.91 L1764.23 546.91 L1764.65 546.91 L1765.07 546.91 L1765.49 546.91 L1765.91 546.91 L1766.32 546.91 L1766.74 546.91 L1767.16 546.91 L1767.58 546.91 L1768 546.91 L1768.41 546.91 L1768.83 546.91 L1769.25 546.91 L1769.67 546.91 L1770.09 546.91 L1770.5 546.91 L1770.92 546.91 L1771.34 546.91 L1771.76 546.91 L1772.18 546.91 L1772.59 546.91 L1773.01 546.91 L1773.43 546.91 L1773.85 546.91 L1774.27 546.91 L1774.69 546.91 L1775.1 546.91 L1775.52 546.91 L1775.94 546.91 L1776.36 546.91 L1776.78 546.91 L1777.19 546.91 L1777.61 546.91 L1778.03 546.91 L1778.45 546.91 L1778.87 546.91 L1779.28 546.91 L1779.7 546.91 L1780.12 546.91 L1780.54 546.91 L1780.96 546.91 L1781.37 546.91 L1781.79 546.91 L1782.21 546.91 L1782.63 546.91 L1783.05 546.91 L1783.46 546.91 L1783.88 546.91 L1784.3 546.91 L1784.72 546.91 L1785.14 546.91 L1785.55 546.91 L1785.97 546.91 L1786.39 546.91 L1786.81 546.91 L1787.23 546.91 L1787.65 546.91 L1788.06 546.91 L1788.48 546.91 L1788.9 546.91 L1789.32 546.91 L1789.74 546.91 L1790.15 546.91 L1790.57 546.91 L1790.99 546.91 L1791.41 546.91 L1791.83 546.91 L1792.24 546.91 L1792.66 546.91 L1793.08 546.91 L1793.5 546.91 L1793.92 546.91 L1794.33 546.91 L1794.75 546.91 L1795.17 546.91 L1795.59 546.91 L1796.01 546.91 L1796.42 546.91 L1796.84 546.91 L1797.26 546.91 L1797.68 546.91 L1798.1 546.91 L1798.52 546.91 L1798.93 546.91 L1799.35 546.91 L1799.77 546.91 L1800.19 546.91 L1800.61 546.91 L1801.02 546.91 L1801.44 546.91 L1801.86 546.91 L1802.28 546.91 L1802.7 546.91 L1803.11 546.91 L1803.53 546.91 L1803.95 546.91 L1804.37 546.91 L1804.79 546.91 L1805.2 546.91 L1805.62 546.91 L1806.04 546.91 L1806.46 546.91 L1806.88 546.91 L1807.29 546.91 L1807.71 546.91 L1808.13 546.91 L1808.55 546.91 L1808.97 546.91 L1809.38 546.91 L1809.8 546.91 L1810.22 546.91 L1810.64 546.91 L1811.06 546.91 L1811.48 546.91 L1811.89 546.91 L1812.31 546.91 L1812.73 546.91 L1813.15 546.91 L1813.57 546.91 L1813.98 546.91 L1814.4 546.91 L1814.82 546.91 L1815.24 546.91 L1815.66 546.91 L1816.07 546.91 L1816.49 546.91 L1816.91 546.91 L1817.33 546.91 L1817.75 546.91 L1818.16 546.91 L1818.58 546.91 L1819 546.91 L1819.42 546.91 L1819.84 546.91 L1820.25 546.91 L1820.67 546.91 L1821.09 546.91 L1821.51 546.91 L1821.93 546.91 L1822.35 546.91 L1822.76 546.91 L1823.18 546.91 L1823.6 546.91 L1824.02 546.91 L1824.44 546.91 L1824.85 546.91 L1825.27 546.91 L1825.69 546.91 L1826.11 546.91 L1826.53 546.91 L1826.94 546.91 L1827.36 546.91 L1827.78 546.91 L1828.2 546.91 L1828.62 546.91 L1829.03 546.91 L1829.45 546.91 L1829.87 546.91 L1830.29 546.91 L1830.71 546.91 L1831.12 546.91 L1831.54 546.91 L1831.96 546.91 L1832.38 546.91 L1832.8 546.91 L1833.21 546.91 L1833.63 546.91 L1834.05 546.91 L1834.47 546.91 L1834.89 546.91 L1835.31 546.91 L1835.72 546.91 L1836.14 546.91 L1836.56 546.91 L1836.98 546.91 L1837.4 546.91 L1837.81 546.91 L1838.23 546.91 L1838.65 546.91 L1839.07 546.91 L1839.49 546.91 L1839.9 546.91 L1840.32 546.91 L1840.74 546.91 L1841.16 546.91 L1841.58 546.91 L1841.99 546.91 L1842.41 546.91 L1842.83 546.91 L1843.25 546.91 L1843.67 546.91 L1844.08 546.91 L1844.5 546.91 L1844.92 546.91 L1845.34 546.91 L1845.76 546.91 L1846.18 546.91 L1846.59 546.91 L1847.01 546.91 L1847.43 546.91 L1847.85 546.91 L1848.27 546.91 L1848.68 546.91 L1849.1 546.91 L1849.52 546.91 L1849.94 546.91 L1850.36 546.91 L1850.77 546.91 L1851.19 546.91 L1851.61 546.91 L1852.03 546.91 L1852.45 546.91 L1852.86 546.91 L1853.28 546.91 L1853.7 546.91 L1854.12 546.91 L1854.54 546.91 L1854.95 546.91 L1855.37 546.91 L1855.79 546.91 L1856.21 546.91 L1856.63 546.91 L1857.04 546.91 L1857.46 546.91 L1857.88 546.91 L1858.3 546.91 L1858.72 546.91 L1859.14 546.91 L1859.55 546.91 L1859.97 546.91 L1860.39 546.91 L1860.81 546.91 L1861.23 546.91 L1861.64 546.91 L1862.06 546.91 L1862.48 546.91 L1862.9 546.91 L1863.32 546.91 L1863.73 546.91 L1864.15 546.91 L1864.57 546.91 L1864.99 546.91 L1865.41 546.91 L1865.82 546.91 L1866.24 546.91 L1866.66 546.91 L1867.08 546.91 L1867.5 546.91 L1867.91 546.91 L1868.33 546.91 L1868.75 546.91 L1869.17 546.91 L1869.59 546.91 L1870.01 546.91 L1870.42 546.91 L1870.84 546.91 L1871.26 546.91 L1871.68 546.91 L1872.1 546.91 L1872.51 546.91 L1872.93 546.91 L1873.35 546.91 L1873.77 546.91 L1874.19 546.91 L1874.6 546.91 L1875.02 546.91 L1875.44 546.91 L1875.86 546.91 L1876.28 546.91 L1876.69 546.91 L1877.11 546.91 L1877.53 546.91 L1877.95 546.91 L1878.37 546.91 L1878.78 546.91 L1879.2 546.91 L1879.62 546.91 L1880.04 546.91 L1880.46 546.91 L1880.87 546.91 L1881.29 546.91 L1881.71 546.91 L1882.13 546.91 L1882.55 546.91 L1882.97 546.91 L1883.38 546.91 L1883.8 546.91 L1884.22 546.91 L1884.64 546.91 L1885.06 546.91 L1885.47 546.91 L1885.89 546.91 L1886.31 546.91 L1886.73 546.91 L1887.15 546.91 L1887.56 546.91 L1887.98 546.91 L1888.4 546.91 L1888.82 546.91 L1889.24 546.91 L1889.65 546.91 L1890.07 546.91 L1890.49 546.91 L1890.91 546.91 L1891.33 546.91 L1891.74 546.91 L1892.16 546.91 L1892.58 546.91 L1893 546.91 L1893.42 546.91 L1893.84 546.91 L1894.25 546.91 L1894.67 546.91 L1895.09 546.91 L1895.51 546.91 L1895.93 546.91 L1896.34 546.91 L1896.76 546.91 L1897.18 546.91 L1897.6 546.91 L1898.02 546.91 L1898.43 546.91 L1898.85 546.91 L1899.27 546.91 L1899.69 546.91 L1900.11 546.91 L1900.52 546.91 L1900.94 546.91 L1901.36 546.91 L1901.78 546.91 L1902.2 546.91 L1902.61 546.91 L1903.03 546.91 L1903.45 546.91 L1903.87 546.91 L1904.29 546.91 L1904.71 546.91 L1905.12 546.91 L1905.54 546.91 L1905.96 546.91 L1906.38 546.91 L1906.8 546.91 L1907.21 546.91 L1907.63 546.91 L1908.05 546.91 L1908.47 546.91 L1908.89 546.91 L1909.3 546.91 L1909.72 546.91 L1910.14 546.91 L1910.56 546.91 L1910.98 546.91 L1911.39 546.91 L1911.81 546.91 L1912.23 546.91 L1912.65 546.91 L1913.07 546.91 L1913.48 546.91 L1913.9 546.91 L1914.32 546.91 L1914.74 546.91 L1915.16 546.91 L1915.57 546.91 L1915.99 546.91 L1916.41 546.91 L1916.83 546.91 L1917.25 546.91 L1917.67 546.91 L1918.08 546.91 L1918.5 546.91 L1918.92 546.91 L1919.34 546.91 L1919.76 546.91 L1920.17 546.91 L1920.59 546.91 L1921.01 546.91 L1921.43 546.91 L1921.85 546.91 L1922.26 546.91 L1922.68 546.91 L1923.1 546.91 L1923.52 546.91 L1923.94 546.91 L1924.35 546.91 L1924.77 546.91 L1925.19 546.91 L1925.61 546.91 L1926.03 546.91 L1926.44 546.91 L1926.86 546.91 L1927.28 546.91 L1927.7 546.91 L1928.12 546.91 L1928.54 546.91 L1928.95 546.91 L1929.37 546.91 L1929.79 546.91 L1930.21 546.91 L1930.63 546.91 L1931.04 546.91 L1931.46 546.91 L1931.88 546.91 L1932.3 546.91 L1932.72 546.91 L1933.13 546.91 L1933.55 546.91 L1933.97 546.91 L1934.39 546.91 L1934.81 546.91 L1935.22 546.91 L1935.64 546.91 L1936.06 546.91 L1936.48 546.91 L1936.9 546.91 L1937.31 546.91 L1937.73 546.91 L1938.15 546.91 L1938.57 546.91 L1938.99 546.91 L1939.4 546.91 L1939.82 546.91 L1940.24 546.91 L1940.66 546.91 L1941.08 546.91 L1941.5 546.91 L1941.91 546.91 L1942.33 546.91 L1942.75 546.91 L1943.17 546.91 L1943.59 546.91 L1944 546.91 L1944.42 546.91 L1944.84 546.91 L1945.26 546.91 L1945.68 546.91 L1946.09 546.91 L1946.51 546.91 L1946.93 546.91 L1947.35 546.91 L1947.77 546.91 L1948.18 546.91 L1948.6 546.91 L1949.02 546.91 L1949.44 546.91 L1949.86 546.91 L1950.27 546.91 L1950.69 546.91 L1951.11 546.91 L1951.53 546.91 L1951.95 546.91 L1952.37 546.91 L1952.78 546.91 L1953.2 546.91 L1953.62 546.91 L1954.04 546.91 L1954.46 546.91 L1954.87 546.91 L1955.29 546.91 L1955.71 546.91 L1956.13 546.91 L1956.55 546.91 L1956.96 546.91 L1957.38 546.91 L1957.8 546.91" fill="none" stroke="#222" stroke-width="1.5" stroke-dasharray="6.5 4.5"/>
<rect x="1820.9" y="45.7" width="14" height="13.3" fill="#fff" stroke="#111" stroke-width="1.4"/>
<rect x="1820.2" y="80.7" width="15.3" height="14.8" fill="#f7870f"/>
<text x="1845.2" y="60.6" font-size="24.2" fill="#000" text-anchor="start">FePS<tspan font-size="17" dy="8.6" dx="2.2">3</tspan></text>
<text x="1845.2" y="96.9" font-size="24.2" fill="#f08a1c" text-anchor="start">FePSe<tspan font-size="17" dy="8.6" dx="2.2">3</tspan></text>
</svg></body></html>
